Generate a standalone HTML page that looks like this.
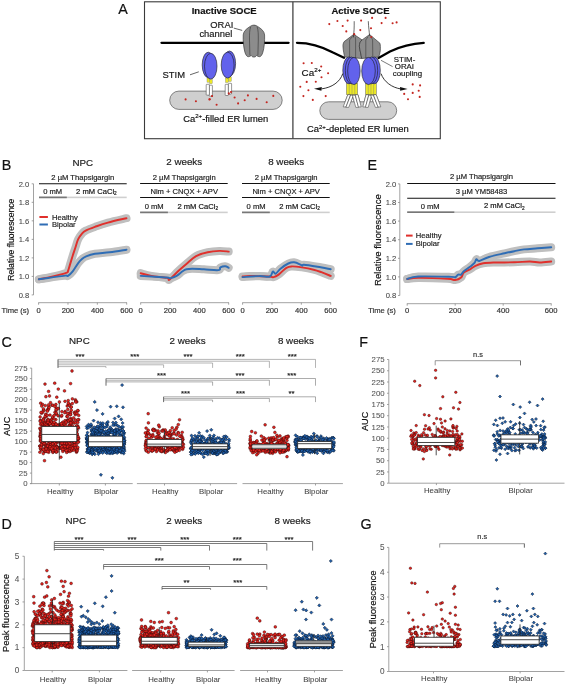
<!DOCTYPE html>
<html><head><meta charset="utf-8"><style>
html,body{margin:0;padding:0;background:#fff;}
svg{display:block;font-family:"Liberation Sans", sans-serif;will-change:transform;}
text{stroke:currentColor;stroke-width:0.18px;}
</style></head><body>
<svg width="566" height="685" viewBox="0 0 566 685">
<defs><path id="d140" d="M0,-1.6l1.6,1.6l-1.6,1.6l-1.6,-1.6z"/><path id="d125" d="M0,-1.5l1.5,1.5l-1.5,1.5l-1.5,-1.5z"/></defs>
<rect width="566" height="685" fill="#fff"/>
<text x="118.3" y="14.3" font-size="14.3" fill="#111" color="#111" text-anchor="start">A</text>
<rect x="144.5" y="1.8" width="295.8" height="136.9" fill="none" stroke="#3a3a3a" stroke-width="1.1"/>
<line x1="292.9" y1="1.8" x2="292.9" y2="138.7" stroke="#444" stroke-width="1.3"/>
<text x="224.2" y="14.2" font-size="9.5" fill="#111" color="#111" text-anchor="middle" font-weight="bold">Inactive SOCE</text>
<text x="221.8" y="27.6" font-size="9.4" fill="#1a1a1a" color="#1a1a1a" text-anchor="middle">ORAI</text>
<text x="215.8" y="36.6" font-size="9.4" fill="#1a1a1a" color="#1a1a1a" text-anchor="middle">channel</text>
<line x1="233.8" y1="28.1" x2="242.2" y2="30.4" stroke="#222" stroke-width="0.7"/>
<line x1="161.5" y1="42.8" x2="288.6" y2="42.8" stroke="#000" stroke-width="2.3" stroke-linecap="round"/>
<path d="M243.2,35 C243.4,31.5 246,29.2 249,27.2 C251,25.8 252.5,25.1 253.9,25.1 C255.3,25.1 256.8,25.8 258.8,27.2 C261.8,29.2 264.4,31.5 264.6,35 C264.8,41 264.3,47.5 262.9,52.2 C262,55.2 260.8,56.7 259.4,56.7 C258.2,56.7 257.4,56.1 256.6,55.5 C255.8,56.7 254.8,57.1 253.9,57.1 C253,57.1 252,56.7 251.2,55.5 C250.4,56.1 249.6,56.7 248.4,56.7 C247,56.7 245.8,55.2 244.9,52.2 C243.5,47.5 243,41 243.2,35 Z" fill="#8c8c8c" stroke="#2a2a2a" stroke-width="0.6"/>
<path d="M250.6,27 C249.6,30 249.4,34 249.5,40 L249.9,55.3 M257.2,27 C258.2,30 258.4,34 258.3,40 L257.9,55.3" fill="none" stroke="#2a2a2a" stroke-width="0.55"/>
<rect x="169.7" y="91.1" width="112.5" height="18.3" rx="9.15" fill="#cfcfcf" stroke="#555" stroke-width="0.7"/>
<circle cx="185.6" cy="99.4" r="1.05" fill="#c42620"/>
<circle cx="195.9" cy="101.2" r="1.05" fill="#c42620"/>
<circle cx="209.4" cy="99.4" r="1.05" fill="#c42620"/>
<circle cx="212" cy="96" r="1.05" fill="#c42620"/>
<circle cx="216.6" cy="104.7" r="1.05" fill="#c42620"/>
<circle cx="230.9" cy="92.8" r="1.05" fill="#c42620"/>
<circle cx="228.8" cy="93.4" r="1.05" fill="#c42620"/>
<circle cx="234.6" cy="97.5" r="1.05" fill="#c42620"/>
<circle cx="238.1" cy="103.4" r="1.05" fill="#c42620"/>
<circle cx="244.7" cy="100.2" r="1.05" fill="#c42620"/>
<circle cx="247.9" cy="95.4" r="1.05" fill="#c42620"/>
<circle cx="256.6" cy="98.9" r="1.05" fill="#c42620"/>
<circle cx="266.7" cy="102.3" r="1.05" fill="#c42620"/>
<circle cx="273.3" cy="95.9" r="1.05" fill="#c42620"/>
<circle cx="209.8" cy="99.3" r="1.05" fill="#c42620"/>
<rect x="209.2" y="85.2" width="3.2" height="11" rx="0.6" fill="#fff" stroke="#333" stroke-width="0.5"/>
<rect x="206.2" y="84.3" width="3.2" height="10.8" rx="0.6" fill="#fff" stroke="#333" stroke-width="0.5"/>
<rect x="209.5" y="79.5" width="2.8" height="4.2" fill="#ece826" stroke="#777" stroke-width="0.35"/>
<rect x="207" y="78" width="2.6" height="4.2" fill="#ece826" stroke="#777" stroke-width="0.35"/>
<ellipse cx="208.25" cy="64.9" rx="6.05" ry="12.7" fill="#6262ec" stroke="#1a1a1a" stroke-width="0.6"/>
<ellipse cx="210.75" cy="66.2" rx="6.25" ry="12.9" fill="#6262ec" stroke="#1a1a1a" stroke-width="0.6"/>
<rect x="225.2" y="84.3" width="3.2" height="11.2" rx="0.6" fill="#fff" stroke="#333" stroke-width="0.5"/>
<rect x="228.4" y="83.3" width="3.2" height="10.7" rx="0.6" fill="#fff" stroke="#333" stroke-width="0.5"/>
<rect x="228.4" y="76.9" width="2.9" height="4.5" fill="#ece826" stroke="#777" stroke-width="0.35"/>
<rect x="225.5" y="78" width="2.9" height="4.5" fill="#ece826" stroke="#777" stroke-width="0.35"/>
<ellipse cx="229.5" cy="63.55" rx="6.1" ry="12.55" fill="#6262ec" stroke="#1a1a1a" stroke-width="0.6"/>
<ellipse cx="227.65" cy="65.1" rx="6.45" ry="12.9" fill="#6262ec" stroke="#1a1a1a" stroke-width="0.6"/>
<circle cx="212" cy="96" r="1.05" fill="#c42620"/>
<circle cx="228.8" cy="93.4" r="1.05" fill="#c42620"/>
<circle cx="231" cy="92" r="1.05" fill="#c42620"/>
<text x="173.8" y="77.5" font-size="9.4" fill="#1a1a1a" color="#1a1a1a" text-anchor="middle">STIM</text>
<line x1="190" y1="74.8" x2="198.8" y2="71.8" stroke="#222" stroke-width="0.7"/>
<text x="225.8" y="121.6" font-size="9.4" fill="#1a1a1a" text-anchor="middle">Ca<tspan font-size="6" dy="-3.4">2+</tspan><tspan dy="3.4">-filled ER lumen</tspan></text>
<text x="360.5" y="14.2" font-size="9.5" fill="#111" color="#111" text-anchor="middle" font-weight="bold">Active SOCE</text>
<path d="M297,42.8 C312,42.8 322,46.5 333,52.5 L344,57.8 M378.5,58 L390,51.5 C402,45.8 412,43.6 423.7,42.9" fill="none" stroke="#000" stroke-width="2.3" stroke-linecap="round"/>
<circle cx="329.3" cy="24.1" r="1.05" fill="#c42620"/>
<circle cx="337.4" cy="21" r="1.05" fill="#c42620"/>
<circle cx="347.6" cy="20.6" r="1.05" fill="#c42620"/>
<circle cx="342.7" cy="26" r="1.05" fill="#c42620"/>
<circle cx="346.3" cy="31.4" r="1.05" fill="#c42620"/>
<circle cx="354.2" cy="34.3" r="1.05" fill="#c42620"/>
<circle cx="361.1" cy="20.6" r="1.05" fill="#c42620"/>
<circle cx="360.3" cy="30.1" r="1.05" fill="#c42620"/>
<circle cx="372.1" cy="17.9" r="1.05" fill="#c42620"/>
<circle cx="371" cy="28.3" r="1.05" fill="#c42620"/>
<circle cx="371.2" cy="37" r="1.05" fill="#c42620"/>
<circle cx="381.6" cy="23.1" r="1.05" fill="#c42620"/>
<circle cx="385.6" cy="17.9" r="1.05" fill="#c42620"/>
<circle cx="392.6" cy="23.3" r="1.05" fill="#c42620"/>
<circle cx="396.6" cy="22.4" r="1.05" fill="#c42620"/>
<circle cx="303.6" cy="63.2" r="1.05" fill="#c42620"/>
<circle cx="311.8" cy="63" r="1.05" fill="#c42620"/>
<circle cx="321.2" cy="66.5" r="1.05" fill="#c42620"/>
<circle cx="328.1" cy="73.3" r="1.05" fill="#c42620"/>
<circle cx="321.5" cy="77.3" r="1.05" fill="#c42620"/>
<circle cx="315.8" cy="81.7" r="1.05" fill="#c42620"/>
<circle cx="306.7" cy="81.9" r="1.05" fill="#c42620"/>
<circle cx="300.3" cy="86.8" r="1.05" fill="#c42620"/>
<circle cx="308.4" cy="90.3" r="1.05" fill="#c42620"/>
<circle cx="303.4" cy="96.1" r="1.05" fill="#c42620"/>
<circle cx="312.8" cy="99.9" r="1.05" fill="#c42620"/>
<circle cx="325.7" cy="96.1" r="1.05" fill="#c42620"/>
<circle cx="412.7" cy="84.4" r="1.05" fill="#c42620"/>
<circle cx="420.1" cy="85.4" r="1.05" fill="#c42620"/>
<circle cx="418.7" cy="90.7" r="1.05" fill="#c42620"/>
<circle cx="412.7" cy="92.9" r="1.05" fill="#c42620"/>
<circle cx="404.2" cy="93.9" r="1.05" fill="#c42620"/>
<circle cx="419.7" cy="96.9" r="1.05" fill="#c42620"/>
<circle cx="408" cy="99.2" r="1.05" fill="#c42620"/>
<path d="M353.8,34.3 L344.2,41.6 C343,43.5 342.8,45 343,47 C343.3,51 344,54 344.6,57 L361.7,58.5 C361,54 359.8,50 359.4,46.8 C359.2,44 360,41.5 362.1,39.9 Z" fill="#8c8c8c" stroke="#2a2a2a" stroke-width="0.6"/>
<path d="M352.5,36.5 L349.6,39.9 L349.6,58 M355.2,36.5 L355.6,39.9 L355.6,58" fill="none" stroke="#2a2a2a" stroke-width="0.5"/>
<path d="M369.6,34.5 L362.1,39.9 C360,41.5 359.2,44 359.4,46.8 C359.8,50 361,54 361.7,58.5 L378.7,57 C379.8,54 380.5,51 380.4,48.2 C380.4,45.5 380.2,44 379.9,43.2 Z" fill="#8c8c8c" stroke="#2a2a2a" stroke-width="0.6"/>
<path d="M368.2,36.7 L365.8,39.9 L365.8,58 M371,36.7 L372.6,39.9 L372.8,58" fill="none" stroke="#2a2a2a" stroke-width="0.5"/>
<path d="M354.2,21.2 C354.3,28 354,32 353.4,37.4 M368.3,21.2 C368.6,28 369.2,31 369.6,35.8" fill="none" stroke="#1a1a1a" stroke-width="0.65"/>
<circle cx="354.2" cy="34.3" r="1.05" fill="#c42620"/>
<circle cx="371.2" cy="37" r="1.05" fill="#c42620"/>
<path d="M347.8,94.7L350.6,94.7L346,106.9L343.2,106.9Z" fill="#fff" stroke="#333" stroke-width="0.5"/>
<path d="M350.6,95.2L353.4,95.2L348.7,107.4L345.9,107.4Z" fill="#fff" stroke="#333" stroke-width="0.5"/>
<path d="M352.4,95.2L355.2,95.2L358.6,107.4L355.8,107.4Z" fill="#fff" stroke="#333" stroke-width="0.5"/>
<path d="M355.2,94.7L358,94.7L361.2,106.9L358.4,106.9Z" fill="#fff" stroke="#333" stroke-width="0.5"/>
<path d="M366,94.7L368.8,94.7L365.6,106.9L362.8,106.9Z" fill="#fff" stroke="#333" stroke-width="0.5"/>
<path d="M368.8,95.2L371.6,95.2L368.2,107.4L365.4,107.4Z" fill="#fff" stroke="#333" stroke-width="0.5"/>
<path d="M370.6,95.2L373.4,95.2L378.2,107.4L375.4,107.4Z" fill="#fff" stroke="#333" stroke-width="0.5"/>
<path d="M373.4,94.7L376.2,94.7L380.8,106.9L378,106.9Z" fill="#fff" stroke="#333" stroke-width="0.5"/>
<rect x="346.5" y="83" width="11" height="11.7" fill="#ece826" stroke="#555" stroke-width="0.45"/>
<line x1="349.25" y1="83.3" x2="349.25" y2="94.5" stroke="#777" stroke-width="0.4"/>
<line x1="352" y1="83.3" x2="352" y2="94.5" stroke="#777" stroke-width="0.4"/>
<line x1="354.75" y1="83.3" x2="354.75" y2="94.5" stroke="#777" stroke-width="0.4"/>
<rect x="365.6" y="83" width="10.7" height="11.7" fill="#ece826" stroke="#555" stroke-width="0.45"/>
<line x1="368.28" y1="83.3" x2="368.28" y2="94.5" stroke="#777" stroke-width="0.4"/>
<line x1="370.95" y1="83.3" x2="370.95" y2="94.5" stroke="#777" stroke-width="0.4"/>
<line x1="373.62" y1="83.3" x2="373.62" y2="94.5" stroke="#777" stroke-width="0.4"/>
<ellipse cx="348.9" cy="70.4" rx="6.1" ry="13.4" fill="#6262ec" stroke="#1a1a1a" stroke-width="0.6"/>
<ellipse cx="351.4" cy="70.4" rx="6.1" ry="13.4" fill="#6262ec" stroke="#1a1a1a" stroke-width="0.6"/>
<ellipse cx="353.9" cy="71" rx="6.25" ry="13.6" fill="#6262ec" stroke="#1a1a1a" stroke-width="0.6"/>
<ellipse cx="374.2" cy="70.4" rx="6.1" ry="13.4" fill="#6262ec" stroke="#1a1a1a" stroke-width="0.6"/>
<ellipse cx="371.6" cy="70.4" rx="6.1" ry="13.4" fill="#6262ec" stroke="#1a1a1a" stroke-width="0.6"/>
<ellipse cx="368.5" cy="71" rx="6.8" ry="13.6" fill="#6262ec" stroke="#1a1a1a" stroke-width="0.6"/>
<path d="M342.8,73.6 C340,82 332,87.5 321.5,88.9" fill="none" stroke="#111" stroke-width="0.85"/>
<path d="M314,88.7 L321.8,86.9 L321.4,90.8 Z" fill="#111"/>
<path d="M381,73.6 C384,82 392,87.5 400.5,88.9" fill="none" stroke="#111" stroke-width="0.85"/>
<path d="M407.6,89 L400,86.9 L400.2,90.8 Z" fill="#111"/>
<rect x="319.8" y="101.8" width="76.9" height="17.6" rx="8.8" fill="#cfcfcf" stroke="#555" stroke-width="0.7"/>
<path d="M347.8,94.7L350.6,94.7L346,106.9L343.2,106.9Z" fill="#fff" stroke="#333" stroke-width="0.5"/>
<path d="M350.6,95.2L353.4,95.2L348.7,107.4L345.9,107.4Z" fill="#fff" stroke="#333" stroke-width="0.5"/>
<path d="M352.4,95.2L355.2,95.2L358.6,107.4L355.8,107.4Z" fill="#fff" stroke="#333" stroke-width="0.5"/>
<path d="M355.2,94.7L358,94.7L361.2,106.9L358.4,106.9Z" fill="#fff" stroke="#333" stroke-width="0.5"/>
<path d="M366,94.7L368.8,94.7L365.6,106.9L362.8,106.9Z" fill="#fff" stroke="#333" stroke-width="0.5"/>
<path d="M368.8,95.2L371.6,95.2L368.2,107.4L365.4,107.4Z" fill="#fff" stroke="#333" stroke-width="0.5"/>
<path d="M370.6,95.2L373.4,95.2L378.2,107.4L375.4,107.4Z" fill="#fff" stroke="#333" stroke-width="0.5"/>
<path d="M373.4,94.7L376.2,94.7L380.8,106.9L378,106.9Z" fill="#fff" stroke="#333" stroke-width="0.5"/>
<text x="357.9" y="132.3" font-size="9.4" fill="#1a1a1a" text-anchor="middle">Ca<tspan font-size="6" dy="-3.4">2+</tspan><tspan dy="3.4">-depleted ER lumen</tspan></text>
<text x="301.6" y="75.8" font-size="9.9" fill="#1a1a1a">Ca<tspan font-size="6.2" dy="-3.6">2+</tspan></text>
<text x="404.6" y="61.5" font-size="7.9" fill="#1a1a1a" color="#1a1a1a" text-anchor="middle">STIM-</text>
<text x="404.4" y="69.2" font-size="7.9" fill="#1a1a1a" color="#1a1a1a" text-anchor="middle">ORAI</text>
<text x="407.4" y="76" font-size="7.9" fill="#1a1a1a" color="#1a1a1a" text-anchor="middle">coupling</text>
<line x1="381" y1="60.3" x2="392.6" y2="66.6" stroke="#222" stroke-width="0.6"/>
<text x="1.8" y="169.8" font-size="14.3" fill="#111" color="#111" text-anchor="start">B</text>
<text transform="translate(13.6,239.7) rotate(-90)" font-size="8.6" fill="#222" text-anchor="middle">Relative fluorescence</text>
<text x="1.6" y="313.4" font-size="7.6" fill="#333" color="#333" text-anchor="start">Time (s)</text>
<line x1="33.5" y1="183.8" x2="33.5" y2="294.92" stroke="#8a8a8a" stroke-width="0.8"/>
<line x1="31.7" y1="183.8" x2="33.5" y2="183.8" stroke="#8a8a8a" stroke-width="0.8"/>
<text x="29.2" y="186.5" font-size="7.6" fill="#444" color="#444" text-anchor="end" style="stroke-width:0.06px">2.0</text>
<line x1="31.7" y1="202.32" x2="33.5" y2="202.32" stroke="#8a8a8a" stroke-width="0.8"/>
<text x="29.2" y="205.02" font-size="7.6" fill="#444" color="#444" text-anchor="end" style="stroke-width:0.06px">1.8</text>
<line x1="31.7" y1="220.84" x2="33.5" y2="220.84" stroke="#8a8a8a" stroke-width="0.8"/>
<text x="29.2" y="223.54" font-size="7.6" fill="#444" color="#444" text-anchor="end" style="stroke-width:0.06px">1.6</text>
<line x1="31.7" y1="239.36" x2="33.5" y2="239.36" stroke="#8a8a8a" stroke-width="0.8"/>
<text x="29.2" y="242.06" font-size="7.6" fill="#444" color="#444" text-anchor="end" style="stroke-width:0.06px">1.4</text>
<line x1="31.7" y1="257.88" x2="33.5" y2="257.88" stroke="#8a8a8a" stroke-width="0.8"/>
<text x="29.2" y="260.58" font-size="7.6" fill="#444" color="#444" text-anchor="end" style="stroke-width:0.06px">1.2</text>
<line x1="31.7" y1="276.4" x2="33.5" y2="276.4" stroke="#8a8a8a" stroke-width="0.8"/>
<text x="29.2" y="279.1" font-size="7.6" fill="#444" color="#444" text-anchor="end" style="stroke-width:0.06px">1.0</text>
<line x1="31.7" y1="294.92" x2="33.5" y2="294.92" stroke="#8a8a8a" stroke-width="0.8"/>
<text x="29.2" y="297.62" font-size="7.6" fill="#444" color="#444" text-anchor="end" style="stroke-width:0.06px">0.8</text>
<text x="82.8" y="166" font-size="9.8" fill="#222" color="#222" text-anchor="middle">NPC</text>
<text x="82.8" y="180.1" font-size="7.6" fill="#222" color="#222" text-anchor="middle">2 µM Thapsigargin</text>
<line x1="39" y1="183.8" x2="126.7" y2="183.8" stroke="#111" stroke-width="1.1"/>
<text x="52.7" y="193.7" font-size="7.6" fill="#222" color="#222" text-anchor="middle">0 mM</text>
<text x="96.4" y="193.7" font-size="7.6" fill="#222" text-anchor="middle">2 mM CaCl<tspan font-size="4.71" dy="1.6">2</tspan></text>
<rect x="39" y="196.6" width="87.7" height="1.6" fill="#cfcfcf"/>
<rect x="39" y="196.6" width="27.8" height="1.6" fill="#777"/>
<line x1="38.3" y1="302.7" x2="127" y2="302.7" stroke="#8a8a8a" stroke-width="0.8"/>
<line x1="38.6" y1="302.7" x2="38.6" y2="304.7" stroke="#8a8a8a" stroke-width="0.8"/>
<text x="38.6" y="313.4" font-size="7.6" fill="#333" color="#333" text-anchor="middle">0</text>
<line x1="67.97" y1="302.7" x2="67.97" y2="304.7" stroke="#8a8a8a" stroke-width="0.8"/>
<text x="67.97" y="313.4" font-size="7.6" fill="#333" color="#333" text-anchor="middle">200</text>
<line x1="97.33" y1="302.7" x2="97.33" y2="304.7" stroke="#8a8a8a" stroke-width="0.8"/>
<text x="97.33" y="313.4" font-size="7.6" fill="#333" color="#333" text-anchor="middle">400</text>
<line x1="126.7" y1="302.7" x2="126.7" y2="304.7" stroke="#8a8a8a" stroke-width="0.8"/>
<text x="126.7" y="313.4" font-size="7.6" fill="#333" color="#333" text-anchor="middle">600</text>
<path d="M38.9,279.3 C41.26,278.81 47.09,277.75 52,276.6 C56.91,275.45 63.32,273.91 66.2,272.9 C69.08,271.89 67.33,272.44 68,271 C68.67,269.56 69.05,267.65 69.9,264.9 C70.75,262.15 71.69,258.87 72.7,255.7 C73.71,252.53 74.51,250.27 75.5,247.3 C76.49,244.33 77.03,241.67 78.2,239.2 C79.37,236.73 80.65,235.15 82,233.6 C83.35,232.05 83.38,231.81 85.7,230.6 C88.02,229.39 90.9,228.34 94.9,226.9 C98.9,225.46 102.21,224.17 107.9,222.6 C113.59,221.03 123.15,218.99 126.5,218.2" fill="none" stroke="#bfbfbf" stroke-width="8" stroke-linecap="round" stroke-linejoin="round"/>
<path d="M38.9,279.3 C41.26,278.96 47.25,278.07 52,277.4 C56.75,276.73 62.42,275.87 65.3,275.6 C68.18,275.33 66.67,276.66 68,275.9 C69.33,275.14 70.86,273.7 72.7,271.4 C74.54,269.1 76.53,265.33 78.2,263.1 C79.87,260.87 80.65,260.17 82,259 C83.35,257.83 83.38,257.54 85.7,256.6 C88.02,255.66 90.56,254.57 94.9,253.8 C99.24,253.03 104.11,253.04 109.8,252.3 C115.49,251.56 123.49,250.17 126.5,249.7" fill="none" stroke="#bfbfbf" stroke-width="8" stroke-linecap="round" stroke-linejoin="round"/>
<path d="M38.9,279.3 C41.26,278.81 47.09,277.75 52,276.6 C56.91,275.45 63.32,273.91 66.2,272.9 C69.08,271.89 67.33,272.44 68,271 C68.67,269.56 69.05,267.65 69.9,264.9 C70.75,262.15 71.69,258.87 72.7,255.7 C73.71,252.53 74.51,250.27 75.5,247.3 C76.49,244.33 77.03,241.67 78.2,239.2 C79.37,236.73 80.65,235.15 82,233.6 C83.35,232.05 83.38,231.81 85.7,230.6 C88.02,229.39 90.9,228.34 94.9,226.9 C98.9,225.46 102.21,224.17 107.9,222.6 C113.59,221.03 123.15,218.99 126.5,218.2" fill="none" stroke="#e0302c" stroke-width="1.95" stroke-linecap="round" stroke-linejoin="round"/>
<path d="M38.9,279.3 C41.26,278.96 47.25,278.07 52,277.4 C56.75,276.73 62.42,275.87 65.3,275.6 C68.18,275.33 66.67,276.66 68,275.9 C69.33,275.14 70.86,273.7 72.7,271.4 C74.54,269.1 76.53,265.33 78.2,263.1 C79.87,260.87 80.65,260.17 82,259 C83.35,257.83 83.38,257.54 85.7,256.6 C88.02,255.66 90.56,254.57 94.9,253.8 C99.24,253.03 104.11,253.04 109.8,252.3 C115.49,251.56 123.49,250.17 126.5,249.7" fill="none" stroke="#2f6db5" stroke-width="1.95" stroke-linecap="round" stroke-linejoin="round"/>
<line x1="39.4" y1="217" x2="47.9" y2="217" stroke="#e0302c" stroke-width="2"/>
<text x="52" y="219.6" font-size="7.6" fill="#222" color="#222" text-anchor="start">Healthy</text>
<line x1="39.4" y1="224.5" x2="47.9" y2="224.5" stroke="#2f6db5" stroke-width="2"/>
<text x="52" y="227.1" font-size="7.6" fill="#222" color="#222" text-anchor="start">Bipolar</text>
<text x="184.2" y="165.4" font-size="9.8" fill="#222" color="#222" text-anchor="middle">2 weeks</text>
<text x="184.2" y="180.1" font-size="7.6" fill="#222" color="#222" text-anchor="middle">2 µM Thapsigargin</text>
<line x1="140.1" y1="183.5" x2="227.7" y2="183.5" stroke="#111" stroke-width="1.1"/>
<text x="184.2" y="193.7" font-size="7.6" fill="#222" color="#222" text-anchor="middle">Nim + CNQX + APV</text>
<line x1="140.1" y1="197.5" x2="227.7" y2="197.5" stroke="#111" stroke-width="1.1"/>
<text x="154.2" y="208.8" font-size="7.6" fill="#222" color="#222" text-anchor="middle">0 mM</text>
<text x="197.7" y="208.8" font-size="7.6" fill="#222" text-anchor="middle">2 mM CaCl<tspan font-size="4.71" dy="1.6">2</tspan></text>
<rect x="140.1" y="211.6" width="87.6" height="1.6" fill="#cfcfcf"/>
<rect x="140.1" y="211.6" width="27.8" height="1.6" fill="#777"/>
<line x1="140.4" y1="302.7" x2="229" y2="302.7" stroke="#8a8a8a" stroke-width="0.8"/>
<line x1="140.7" y1="302.7" x2="140.7" y2="304.7" stroke="#8a8a8a" stroke-width="0.8"/>
<text x="140.7" y="313.4" font-size="7.6" fill="#333" color="#333" text-anchor="middle">0</text>
<line x1="170.03" y1="302.7" x2="170.03" y2="304.7" stroke="#8a8a8a" stroke-width="0.8"/>
<text x="170.03" y="313.4" font-size="7.6" fill="#333" color="#333" text-anchor="middle">200</text>
<line x1="199.37" y1="302.7" x2="199.37" y2="304.7" stroke="#8a8a8a" stroke-width="0.8"/>
<text x="199.37" y="313.4" font-size="7.6" fill="#333" color="#333" text-anchor="middle">400</text>
<line x1="228.7" y1="302.7" x2="228.7" y2="304.7" stroke="#8a8a8a" stroke-width="0.8"/>
<text x="228.7" y="313.4" font-size="7.6" fill="#333" color="#333" text-anchor="middle">600</text>
<text x="286.15" y="165.4" font-size="9.8" fill="#222" color="#222" text-anchor="middle">8 weeks</text>
<text x="286.15" y="180.1" font-size="7.6" fill="#222" color="#222" text-anchor="middle">2 µM Thapsigargin</text>
<line x1="242" y1="183.5" x2="329.7" y2="183.5" stroke="#111" stroke-width="1.1"/>
<text x="286.15" y="193.7" font-size="7.6" fill="#222" color="#222" text-anchor="middle">Nim + CNQX + APV</text>
<line x1="242" y1="197.5" x2="329.7" y2="197.5" stroke="#111" stroke-width="1.1"/>
<text x="256.1" y="208.8" font-size="7.6" fill="#222" color="#222" text-anchor="middle">0 mM</text>
<text x="299.6" y="208.8" font-size="7.6" fill="#222" text-anchor="middle">2 mM CaCl<tspan font-size="4.71" dy="1.6">2</tspan></text>
<rect x="242" y="211.6" width="87.7" height="1.6" fill="#cfcfcf"/>
<rect x="242" y="211.6" width="27.8" height="1.6" fill="#777"/>
<line x1="242.3" y1="302.7" x2="331" y2="302.7" stroke="#8a8a8a" stroke-width="0.8"/>
<line x1="242.6" y1="302.7" x2="242.6" y2="304.7" stroke="#8a8a8a" stroke-width="0.8"/>
<text x="242.6" y="313.4" font-size="7.6" fill="#333" color="#333" text-anchor="middle">0</text>
<line x1="271.97" y1="302.7" x2="271.97" y2="304.7" stroke="#8a8a8a" stroke-width="0.8"/>
<text x="271.97" y="313.4" font-size="7.6" fill="#333" color="#333" text-anchor="middle">200</text>
<line x1="301.33" y1="302.7" x2="301.33" y2="304.7" stroke="#8a8a8a" stroke-width="0.8"/>
<text x="301.33" y="313.4" font-size="7.6" fill="#333" color="#333" text-anchor="middle">400</text>
<line x1="330.7" y1="302.7" x2="330.7" y2="304.7" stroke="#8a8a8a" stroke-width="0.8"/>
<text x="330.7" y="313.4" font-size="7.6" fill="#333" color="#333" text-anchor="middle">600</text>
<path d="M140.7,273.2 C142.63,273.69 146.68,275.05 151.4,275.9 C156.12,276.75 163.75,277.16 166.9,277.9 C170.05,278.64 168.02,280.07 168.9,280 C169.78,279.93 170.05,279.17 171.8,277.5 C173.55,275.83 175.97,273.15 178.6,270.7 C181.23,268.25 183.25,266.53 186.4,263.9 C189.55,261.27 192.27,258.21 196.1,256.1 C199.93,253.99 203.51,253.14 207.7,252.2 C211.89,251.26 215.62,251.01 219.4,250.9 C223.18,250.79 227.03,251.47 228.7,251.6" fill="none" stroke="#bfbfbf" stroke-width="8" stroke-linecap="round" stroke-linejoin="round"/>
<path d="M140.7,275.9 C142.63,276.01 146.68,276.21 151.4,276.5 C156.12,276.79 163.41,277.21 166.9,277.5 C170.39,277.79 169.05,278.39 170.8,278.1 C172.55,277.81 174.49,277.12 176.6,275.9 C178.71,274.68 180.74,272.49 182.5,271.3 C184.26,270.11 184.65,269.77 186.4,269.3 C188.15,268.83 189.05,268.7 192.2,268.7 C195.35,268.7 199.18,269.05 203.9,269.3 C208.62,269.55 215.43,270.44 218.4,270.1 C221.37,269.76 219.18,268.1 220.4,267.4 C221.62,266.7 223.71,266.13 225.2,266.2 C226.69,266.27 228.07,267.51 228.7,267.8" fill="none" stroke="#bfbfbf" stroke-width="8" stroke-linecap="round" stroke-linejoin="round"/>
<path d="M242.6,276.5 C243.82,276.39 244.67,275.9 249.4,275.9 C254.13,275.9 264.53,276.28 268.9,276.5 C273.27,276.72 271.95,277.44 273.7,277.1 C275.45,276.76 276.31,276.27 278.6,274.6 C280.89,272.93 283.95,269.28 286.4,267.8 C288.85,266.32 289.41,266.47 292.2,266.4 C294.99,266.33 298.05,266.81 301.9,267.4 C305.75,267.99 310.09,268.84 313.6,269.7 C317.11,270.56 318.32,271.08 321.4,272.2 C324.48,273.32 329.03,275.23 330.7,275.9" fill="none" stroke="#bfbfbf" stroke-width="8" stroke-linecap="round" stroke-linejoin="round"/>
<path d="M242.6,277.1 C245.59,276.92 254.3,276.21 259.2,276.1 C264.1,275.99 267.35,277.31 269.8,276.5 C272.25,275.69 271.74,272.12 272.8,271.6 C273.86,271.08 274.31,274.12 275.7,273.6 C277.09,273.08 278.23,270.52 280.5,268.7 C282.77,266.88 285.85,264.65 288.3,263.5 C290.75,262.35 291.83,262.07 294.1,262.3 C296.37,262.53 299.42,264.17 300.9,264.8 C302.38,265.43 301.76,265.8 302.3,265.8 C302.84,265.8 301.16,264.62 303.9,264.8 C306.64,264.98 312.68,265.99 317.5,266.8 C322.32,267.61 328.32,268.85 330.7,269.3" fill="none" stroke="#bfbfbf" stroke-width="8" stroke-linecap="round" stroke-linejoin="round"/>
<path d="M140.7,273.2 C142.63,273.69 146.68,275.05 151.4,275.9 C156.12,276.75 163.75,277.16 166.9,277.9 C170.05,278.64 168.02,280.07 168.9,280 C169.78,279.93 170.05,279.17 171.8,277.5 C173.55,275.83 175.97,273.15 178.6,270.7 C181.23,268.25 183.25,266.53 186.4,263.9 C189.55,261.27 192.27,258.21 196.1,256.1 C199.93,253.99 203.51,253.14 207.7,252.2 C211.89,251.26 215.62,251.01 219.4,250.9 C223.18,250.79 227.03,251.47 228.7,251.6" fill="none" stroke="#e0302c" stroke-width="1.95" stroke-linecap="round" stroke-linejoin="round"/>
<path d="M140.7,275.9 C142.63,276.01 146.68,276.21 151.4,276.5 C156.12,276.79 163.41,277.21 166.9,277.5 C170.39,277.79 169.05,278.39 170.8,278.1 C172.55,277.81 174.49,277.12 176.6,275.9 C178.71,274.68 180.74,272.49 182.5,271.3 C184.26,270.11 184.65,269.77 186.4,269.3 C188.15,268.83 189.05,268.7 192.2,268.7 C195.35,268.7 199.18,269.05 203.9,269.3 C208.62,269.55 215.43,270.44 218.4,270.1 C221.37,269.76 219.18,268.1 220.4,267.4 C221.62,266.7 223.71,266.13 225.2,266.2 C226.69,266.27 228.07,267.51 228.7,267.8" fill="none" stroke="#2f6db5" stroke-width="1.95" stroke-linecap="round" stroke-linejoin="round"/>
<path d="M242.6,276.5 C243.82,276.39 244.67,275.9 249.4,275.9 C254.13,275.9 264.53,276.28 268.9,276.5 C273.27,276.72 271.95,277.44 273.7,277.1 C275.45,276.76 276.31,276.27 278.6,274.6 C280.89,272.93 283.95,269.28 286.4,267.8 C288.85,266.32 289.41,266.47 292.2,266.4 C294.99,266.33 298.05,266.81 301.9,267.4 C305.75,267.99 310.09,268.84 313.6,269.7 C317.11,270.56 318.32,271.08 321.4,272.2 C324.48,273.32 329.03,275.23 330.7,275.9" fill="none" stroke="#e0302c" stroke-width="1.95" stroke-linecap="round" stroke-linejoin="round"/>
<path d="M242.6,277.1 C245.59,276.92 254.3,276.21 259.2,276.1 C264.1,275.99 267.35,277.31 269.8,276.5 C272.25,275.69 271.74,272.12 272.8,271.6 C273.86,271.08 274.31,274.12 275.7,273.6 C277.09,273.08 278.23,270.52 280.5,268.7 C282.77,266.88 285.85,264.65 288.3,263.5 C290.75,262.35 291.83,262.07 294.1,262.3 C296.37,262.53 299.42,264.17 300.9,264.8 C302.38,265.43 301.76,265.8 302.3,265.8 C302.84,265.8 301.16,264.62 303.9,264.8 C306.64,264.98 312.68,265.99 317.5,266.8 C322.32,267.61 328.32,268.85 330.7,269.3" fill="none" stroke="#2f6db5" stroke-width="1.95" stroke-linecap="round" stroke-linejoin="round"/>
<text x="367.6" y="169.5" font-size="14.3" fill="#111" color="#111" text-anchor="start">E</text>
<text transform="translate(381.4,240.1) rotate(-90)" font-size="9.6" fill="#222" text-anchor="middle">Relative fluorescence</text>
<text x="368.2" y="313.4" font-size="7.6" fill="#333" color="#333" text-anchor="start">Time (s)</text>
<line x1="399.8" y1="183.9" x2="399.8" y2="295.5" stroke="#8a8a8a" stroke-width="0.8"/>
<line x1="398" y1="183.9" x2="399.8" y2="183.9" stroke="#8a8a8a" stroke-width="0.8"/>
<text x="396.2" y="186.6" font-size="7.6" fill="#444" color="#444" text-anchor="end" style="stroke-width:0.06px">2.0</text>
<line x1="398" y1="202.5" x2="399.8" y2="202.5" stroke="#8a8a8a" stroke-width="0.8"/>
<text x="396.2" y="205.2" font-size="7.6" fill="#444" color="#444" text-anchor="end" style="stroke-width:0.06px">1.8</text>
<line x1="398" y1="221.1" x2="399.8" y2="221.1" stroke="#8a8a8a" stroke-width="0.8"/>
<text x="396.2" y="223.8" font-size="7.6" fill="#444" color="#444" text-anchor="end" style="stroke-width:0.06px">1.6</text>
<line x1="398" y1="239.7" x2="399.8" y2="239.7" stroke="#8a8a8a" stroke-width="0.8"/>
<text x="396.2" y="242.4" font-size="7.6" fill="#444" color="#444" text-anchor="end" style="stroke-width:0.06px">1.4</text>
<line x1="398" y1="258.3" x2="399.8" y2="258.3" stroke="#8a8a8a" stroke-width="0.8"/>
<text x="396.2" y="261" font-size="7.6" fill="#444" color="#444" text-anchor="end" style="stroke-width:0.06px">1.2</text>
<line x1="398" y1="276.9" x2="399.8" y2="276.9" stroke="#8a8a8a" stroke-width="0.8"/>
<text x="396.2" y="279.6" font-size="7.6" fill="#444" color="#444" text-anchor="end" style="stroke-width:0.06px">1.0</text>
<line x1="398" y1="295.5" x2="399.8" y2="295.5" stroke="#8a8a8a" stroke-width="0.8"/>
<text x="396.2" y="298.2" font-size="7.6" fill="#444" color="#444" text-anchor="end" style="stroke-width:0.06px">0.8</text>
<line x1="406.9" y1="303.7" x2="551.5" y2="303.7" stroke="#8a8a8a" stroke-width="0.8"/>
<line x1="407.2" y1="303.7" x2="407.2" y2="305.7" stroke="#8a8a8a" stroke-width="0.8"/>
<text x="407.2" y="313.4" font-size="7.6" fill="#333" color="#333" text-anchor="middle">0</text>
<line x1="455.2" y1="303.7" x2="455.2" y2="305.7" stroke="#8a8a8a" stroke-width="0.8"/>
<text x="455.2" y="313.4" font-size="7.6" fill="#333" color="#333" text-anchor="middle">200</text>
<line x1="503.2" y1="303.7" x2="503.2" y2="305.7" stroke="#8a8a8a" stroke-width="0.8"/>
<text x="503.2" y="313.4" font-size="7.6" fill="#333" color="#333" text-anchor="middle">400</text>
<line x1="551.2" y1="303.7" x2="551.2" y2="305.7" stroke="#8a8a8a" stroke-width="0.8"/>
<text x="551.2" y="313.4" font-size="7.6" fill="#333" color="#333" text-anchor="middle">600</text>
<text x="481.5" y="179.3" font-size="7.6" fill="#222" color="#222" text-anchor="middle">2 µM Thapsigargin</text>
<line x1="407.2" y1="183.5" x2="555.5" y2="183.5" stroke="#111" stroke-width="1.1"/>
<text x="481.5" y="193.5" font-size="7.6" fill="#222" color="#222" text-anchor="middle">3 µM YM58483</text>
<line x1="407.2" y1="198.3" x2="555.5" y2="198.3" stroke="#111" stroke-width="1.1"/>
<text x="430.2" y="209.3" font-size="7.6" fill="#222" color="#222" text-anchor="middle">0 mM</text>
<text x="504.3" y="208" font-size="7.6" fill="#222" text-anchor="middle">2 mM CaCl<tspan font-size="4.71" dy="1.6">2</tspan></text>
<rect x="407.2" y="211.4" width="148.3" height="1.6" fill="#cfcfcf"/>
<rect x="407.2" y="211.4" width="47.1" height="1.6" fill="#777"/>
<path d="M407.2,279 C409.2,278.8 411.05,277.94 418.3,277.9 C425.55,277.86 440.86,278.42 447.5,278.8 C454.14,279.18 452.75,280.23 455.2,280 C457.65,279.77 459.55,278.83 461.1,277.5 C462.65,276.17 462.2,274.06 463.8,272.6 C465.4,271.14 467.91,270.62 470,269.4 C472.09,268.18 473.02,266.9 475.4,265.8 C477.78,264.7 479.69,263.89 483.2,263.3 C486.71,262.71 489.3,262.68 494.9,262.5 C500.5,262.32 508,262.48 514.3,262.3 C520.6,262.12 525.35,261.46 529.9,261.5 C534.45,261.54 535.77,262.5 539.6,262.5 C543.43,262.5 549.11,261.68 551.2,261.5" fill="none" stroke="#bfbfbf" stroke-width="8" stroke-linecap="round" stroke-linejoin="round"/>
<path d="M407.2,279 C409.2,278.55 410.34,276.88 418.3,276.5 C426.26,276.12 444.76,276.72 451.4,276.9 C458.04,277.08 453.98,277.91 455.2,277.5 C456.42,277.09 457.14,275.12 458.2,274.6 C459.26,274.08 460.09,275.19 461.1,274.6 C462.11,274.01 462.2,272.7 463.8,271.3 C465.4,269.9 468.07,268.31 470,266.8 C471.93,265.29 473.35,264.27 474.5,262.9 C475.65,261.53 475.54,259.54 476.4,259.2 C477.26,258.86 477.03,261.4 479.3,261 C481.57,260.6 484.45,258.39 489,257 C493.55,255.61 500.05,254.34 504.6,253.3 C509.15,252.26 510.81,251.9 514.3,251.2 C517.79,250.5 519.81,249.92 524,249.4 C528.19,248.88 532.7,248.7 537.6,248.3 C542.5,247.9 548.75,247.4 551.2,247.2" fill="none" stroke="#bfbfbf" stroke-width="8" stroke-linecap="round" stroke-linejoin="round"/>
<path d="M407.2,279 C409.2,278.8 411.05,277.94 418.3,277.9 C425.55,277.86 440.86,278.42 447.5,278.8 C454.14,279.18 452.75,280.23 455.2,280 C457.65,279.77 459.55,278.83 461.1,277.5 C462.65,276.17 462.2,274.06 463.8,272.6 C465.4,271.14 467.91,270.62 470,269.4 C472.09,268.18 473.02,266.9 475.4,265.8 C477.78,264.7 479.69,263.89 483.2,263.3 C486.71,262.71 489.3,262.68 494.9,262.5 C500.5,262.32 508,262.48 514.3,262.3 C520.6,262.12 525.35,261.46 529.9,261.5 C534.45,261.54 535.77,262.5 539.6,262.5 C543.43,262.5 549.11,261.68 551.2,261.5" fill="none" stroke="#e0302c" stroke-width="1.95" stroke-linecap="round" stroke-linejoin="round"/>
<path d="M407.2,279 C409.2,278.55 410.34,276.88 418.3,276.5 C426.26,276.12 444.76,276.72 451.4,276.9 C458.04,277.08 453.98,277.91 455.2,277.5 C456.42,277.09 457.14,275.12 458.2,274.6 C459.26,274.08 460.09,275.19 461.1,274.6 C462.11,274.01 462.2,272.7 463.8,271.3 C465.4,269.9 468.07,268.31 470,266.8 C471.93,265.29 473.35,264.27 474.5,262.9 C475.65,261.53 475.54,259.54 476.4,259.2 C477.26,258.86 477.03,261.4 479.3,261 C481.57,260.6 484.45,258.39 489,257 C493.55,255.61 500.05,254.34 504.6,253.3 C509.15,252.26 510.81,251.9 514.3,251.2 C517.79,250.5 519.81,249.92 524,249.4 C528.19,248.88 532.7,248.7 537.6,248.3 C542.5,247.9 548.75,247.4 551.2,247.2" fill="none" stroke="#2f6db5" stroke-width="1.95" stroke-linecap="round" stroke-linejoin="round"/>
<line x1="406" y1="235.6" x2="412.6" y2="235.6" stroke="#e0302c" stroke-width="2"/>
<text x="415.8" y="238" font-size="7.6" fill="#222" color="#222" text-anchor="start">Healthy</text>
<line x1="406" y1="243.9" x2="412.6" y2="243.9" stroke="#2f6db5" stroke-width="2"/>
<text x="415.8" y="246.2" font-size="7.6" fill="#222" color="#222" text-anchor="start">Bipolar</text>
<text x="1.6" y="346.9" font-size="14.3" fill="#111" color="#111" text-anchor="start">C</text>
<text x="79.4" y="343.9" font-size="9.8" fill="#222" color="#222" text-anchor="middle">NPC</text>
<text x="187.6" y="343.9" font-size="9.8" fill="#222" color="#222" text-anchor="middle">2 weeks</text>
<text x="295.9" y="343.9" font-size="9.8" fill="#222" color="#222" text-anchor="middle">8 weeks</text>
<text transform="translate(10.2,426.3) rotate(-90)" font-size="9.2" fill="#222" text-anchor="middle">AUC</text>
<line x1="31.7" y1="368.1" x2="31.7" y2="483.6" stroke="#8a8a8a" stroke-width="0.8"/>
<line x1="29.9" y1="483.6" x2="31.7" y2="483.6" stroke="#8a8a8a" stroke-width="0.8"/>
<text x="27.5" y="486.29" font-size="7.8" fill="#555" color="#555" text-anchor="end" style="stroke-width:0.06px">0</text>
<line x1="29.9" y1="473.1" x2="31.7" y2="473.1" stroke="#8a8a8a" stroke-width="0.8"/>
<text x="27.5" y="475.79" font-size="7.8" fill="#555" color="#555" text-anchor="end" style="stroke-width:0.06px">25</text>
<line x1="29.9" y1="462.6" x2="31.7" y2="462.6" stroke="#8a8a8a" stroke-width="0.8"/>
<text x="27.5" y="465.29" font-size="7.8" fill="#555" color="#555" text-anchor="end" style="stroke-width:0.06px">50</text>
<line x1="29.9" y1="452.1" x2="31.7" y2="452.1" stroke="#8a8a8a" stroke-width="0.8"/>
<text x="27.5" y="454.79" font-size="7.8" fill="#555" color="#555" text-anchor="end" style="stroke-width:0.06px">75</text>
<line x1="29.9" y1="441.6" x2="31.7" y2="441.6" stroke="#8a8a8a" stroke-width="0.8"/>
<text x="27.5" y="444.29" font-size="7.8" fill="#555" color="#555" text-anchor="end" style="stroke-width:0.06px">100</text>
<line x1="29.9" y1="431.1" x2="31.7" y2="431.1" stroke="#8a8a8a" stroke-width="0.8"/>
<text x="27.5" y="433.79" font-size="7.8" fill="#555" color="#555" text-anchor="end" style="stroke-width:0.06px">125</text>
<line x1="29.9" y1="420.6" x2="31.7" y2="420.6" stroke="#8a8a8a" stroke-width="0.8"/>
<text x="27.5" y="423.29" font-size="7.8" fill="#555" color="#555" text-anchor="end" style="stroke-width:0.06px">150</text>
<line x1="29.9" y1="410.1" x2="31.7" y2="410.1" stroke="#8a8a8a" stroke-width="0.8"/>
<text x="27.5" y="412.79" font-size="7.8" fill="#555" color="#555" text-anchor="end" style="stroke-width:0.06px">175</text>
<line x1="29.9" y1="399.6" x2="31.7" y2="399.6" stroke="#8a8a8a" stroke-width="0.8"/>
<text x="27.5" y="402.29" font-size="7.8" fill="#555" color="#555" text-anchor="end" style="stroke-width:0.06px">200</text>
<line x1="29.9" y1="389.1" x2="31.7" y2="389.1" stroke="#8a8a8a" stroke-width="0.8"/>
<text x="27.5" y="391.79" font-size="7.8" fill="#555" color="#555" text-anchor="end" style="stroke-width:0.06px">225</text>
<line x1="29.9" y1="378.6" x2="31.7" y2="378.6" stroke="#8a8a8a" stroke-width="0.8"/>
<text x="27.5" y="381.29" font-size="7.8" fill="#555" color="#555" text-anchor="end" style="stroke-width:0.06px">250</text>
<line x1="29.9" y1="368.1" x2="31.7" y2="368.1" stroke="#8a8a8a" stroke-width="0.8"/>
<text x="27.5" y="370.79" font-size="7.8" fill="#555" color="#555" text-anchor="end" style="stroke-width:0.06px">275</text>
<line x1="30.2" y1="483.6" x2="132.7" y2="483.6" stroke="#8a8a8a" stroke-width="0.8"/>
<line x1="59.3" y1="483.6" x2="59.3" y2="485.5" stroke="#8a8a8a" stroke-width="0.8"/>
<text x="60.1" y="494.3" font-size="7.8" fill="#444" color="#444" text-anchor="middle" style="stroke-width:0.06px">Healthy</text>
<line x1="105.4" y1="483.6" x2="105.4" y2="485.5" stroke="#8a8a8a" stroke-width="0.8"/>
<text x="106.2" y="494.3" font-size="7.8" fill="#444" color="#444" text-anchor="middle" style="stroke-width:0.06px">Bipolar</text>
<line x1="136.9" y1="483.6" x2="237.1" y2="483.6" stroke="#8a8a8a" stroke-width="0.8"/>
<line x1="164.5" y1="483.6" x2="164.5" y2="485.5" stroke="#8a8a8a" stroke-width="0.8"/>
<text x="165.3" y="494.3" font-size="7.8" fill="#444" color="#444" text-anchor="middle" style="stroke-width:0.06px">Healthy</text>
<line x1="210.4" y1="483.6" x2="210.4" y2="485.5" stroke="#8a8a8a" stroke-width="0.8"/>
<text x="211.2" y="494.3" font-size="7.8" fill="#444" color="#444" text-anchor="middle" style="stroke-width:0.06px">Bipolar</text>
<line x1="242.5" y1="483.6" x2="342.9" y2="483.6" stroke="#8a8a8a" stroke-width="0.8"/>
<line x1="269.7" y1="483.6" x2="269.7" y2="485.5" stroke="#8a8a8a" stroke-width="0.8"/>
<text x="270.5" y="494.3" font-size="7.8" fill="#444" color="#444" text-anchor="middle" style="stroke-width:0.06px">Healthy</text>
<line x1="315.5" y1="483.6" x2="315.5" y2="485.5" stroke="#8a8a8a" stroke-width="0.8"/>
<text x="316.3" y="494.3" font-size="7.8" fill="#444" color="#444" text-anchor="middle" style="stroke-width:0.06px">Bipolar</text>
<g stroke="#777" stroke-width="0.55" fill="none">
<path d="M58,359.4V367.9" stroke="#333" stroke-width="0.8"/>
<path d="M58,359.4H315.5V367.9"/>
<path d="M58,361.2H269.4V367.9"/>
<path d="M58,363H212.6V367.9"/>
<path d="M58,364.8H163.6V367.9"/>
<path d="M58,366.6H106V367.9"/>
</g>
<g stroke="#666" stroke-width="0.55" fill="none">
<path d="M106,378.5V385.7" stroke="#444" stroke-width="0.8"/>
<path d="M106,378.5H315.5V385.7"/>
<path d="M106,380.2H269.4V385.7"/>
<path d="M106,381.9H212.6V385.7"/>
</g>
<g stroke="#666" stroke-width="0.55" fill="none">
<path d="M163.6,396.8V402.1" stroke="#444" stroke-width="0.8"/>
<path d="M163.6,396.8H315.5V402.1"/>
<path d="M163.6,398.4H269.4V402.1"/>
<path d="M163.6,400H212.6V402.1"/>
</g>
<text x="80" y="358.8" font-size="7.8" fill="#222" color="#222" text-anchor="middle">***</text>
<text x="134.8" y="358.8" font-size="7.8" fill="#222" color="#222" text-anchor="middle">***</text>
<text x="188" y="358.8" font-size="7.8" fill="#222" color="#222" text-anchor="middle">***</text>
<text x="240.3" y="358.8" font-size="7.8" fill="#222" color="#222" text-anchor="middle">***</text>
<text x="292.3" y="358.8" font-size="7.8" fill="#222" color="#222" text-anchor="middle">***</text>
<text x="161.5" y="378.3" font-size="7.8" fill="#222" color="#222" text-anchor="middle">***</text>
<text x="240" y="378.3" font-size="7.8" fill="#222" color="#222" text-anchor="middle">***</text>
<text x="291.8" y="378.3" font-size="7.8" fill="#222" color="#222" text-anchor="middle">***</text>
<text x="185.5" y="396.2" font-size="7.8" fill="#222" color="#222" text-anchor="middle">***</text>
<text x="240.5" y="396.2" font-size="7.8" fill="#222" color="#222" text-anchor="middle">***</text>
<text x="291.6" y="396.2" font-size="7.8" fill="#222" color="#222" text-anchor="middle">**</text>
<g fill="#e6241f" stroke="#2a0404" stroke-width="0.42">
<circle cx="47.3" cy="440.1" r="1.4"/>
<circle cx="72.4" cy="398.9" r="1.4"/>
<circle cx="62.8" cy="451.4" r="1.4"/>
<circle cx="52.2" cy="450.6" r="1.4"/>
<circle cx="67.2" cy="441.4" r="1.4"/>
<circle cx="51" cy="445.1" r="1.4"/>
<circle cx="56.4" cy="437.7" r="1.4"/>
<circle cx="46.2" cy="450" r="1.4"/>
<circle cx="44.4" cy="436" r="1.4"/>
<circle cx="78.7" cy="419.7" r="1.4"/>
<circle cx="58.5" cy="426.9" r="1.4"/>
<circle cx="42.5" cy="436.1" r="1.4"/>
<circle cx="52.3" cy="418.5" r="1.4"/>
<circle cx="44.6" cy="443.4" r="1.4"/>
<circle cx="44.3" cy="451.5" r="1.4"/>
<circle cx="43" cy="444.1" r="1.4"/>
<circle cx="43.7" cy="444.5" r="1.4"/>
<circle cx="58.1" cy="439.4" r="1.4"/>
<circle cx="45.1" cy="435.4" r="1.4"/>
<circle cx="75" cy="438.8" r="1.4"/>
<circle cx="73.2" cy="440.6" r="1.4"/>
<circle cx="52.3" cy="441.1" r="1.4"/>
<circle cx="47" cy="447.8" r="1.4"/>
<circle cx="66.9" cy="449.6" r="1.4"/>
<circle cx="56.2" cy="407.8" r="1.4"/>
<circle cx="51.9" cy="436.1" r="1.4"/>
<circle cx="52.5" cy="428.3" r="1.4"/>
<circle cx="75.4" cy="399.8" r="1.4"/>
<circle cx="44.5" cy="435.9" r="1.4"/>
<circle cx="71.7" cy="420.1" r="1.4"/>
<circle cx="75.3" cy="414.7" r="1.4"/>
<circle cx="72.8" cy="422" r="1.4"/>
<circle cx="74.3" cy="412.7" r="1.4"/>
<circle cx="53.6" cy="441.9" r="1.4"/>
<circle cx="59.5" cy="436.5" r="1.4"/>
<circle cx="77.5" cy="439" r="1.4"/>
<circle cx="61.1" cy="436.9" r="1.4"/>
<circle cx="56.7" cy="439.4" r="1.4"/>
<circle cx="43" cy="435" r="1.4"/>
<circle cx="43.6" cy="410.1" r="1.4"/>
<circle cx="55.1" cy="438.8" r="1.4"/>
<circle cx="54" cy="439.9" r="1.4"/>
<circle cx="64.2" cy="449.3" r="1.4"/>
<circle cx="67.2" cy="406" r="1.4"/>
<circle cx="75.4" cy="428.7" r="1.4"/>
<circle cx="45" cy="447.8" r="1.4"/>
<circle cx="70.5" cy="412.5" r="1.4"/>
<circle cx="70.6" cy="414.6" r="1.4"/>
<circle cx="40.7" cy="403.2" r="1.4"/>
<circle cx="76.3" cy="441.1" r="1.4"/>
<circle cx="72.8" cy="427.3" r="1.4"/>
<circle cx="74.2" cy="423.1" r="1.4"/>
<circle cx="53" cy="434.4" r="1.4"/>
<circle cx="64.8" cy="450" r="1.4"/>
<circle cx="59.8" cy="447.2" r="1.4"/>
<circle cx="72.9" cy="445.3" r="1.4"/>
<circle cx="45.4" cy="437" r="1.4"/>
<circle cx="59.5" cy="447.9" r="1.4"/>
<circle cx="43.9" cy="434.9" r="1.4"/>
<circle cx="55.9" cy="432.5" r="1.4"/>
<circle cx="72.8" cy="435.5" r="1.4"/>
<circle cx="45.8" cy="445.1" r="1.4"/>
<circle cx="72.4" cy="429.3" r="1.4"/>
<circle cx="45.9" cy="396.7" r="1.4"/>
<circle cx="50.8" cy="444.3" r="1.4"/>
<circle cx="48.9" cy="422.7" r="1.4"/>
<circle cx="48.1" cy="439" r="1.4"/>
<circle cx="55.5" cy="440.9" r="1.4"/>
<circle cx="45.9" cy="437.8" r="1.4"/>
<circle cx="61.5" cy="428.6" r="1.4"/>
<circle cx="46" cy="434.9" r="1.4"/>
<circle cx="50" cy="429.9" r="1.4"/>
<circle cx="64" cy="443.8" r="1.4"/>
<circle cx="56.2" cy="432.3" r="1.4"/>
<circle cx="76.5" cy="452.2" r="1.4"/>
<circle cx="41.6" cy="450" r="1.4"/>
<circle cx="68.2" cy="429.8" r="1.4"/>
<circle cx="40.8" cy="430.1" r="1.4"/>
<circle cx="40.2" cy="435.8" r="1.4"/>
<circle cx="48.8" cy="426.2" r="1.4"/>
<circle cx="53.9" cy="434.8" r="1.4"/>
<circle cx="51.6" cy="440.2" r="1.4"/>
<circle cx="78.7" cy="415.4" r="1.4"/>
<circle cx="61" cy="435.7" r="1.4"/>
<circle cx="41" cy="435.9" r="1.4"/>
<circle cx="68.9" cy="447.1" r="1.4"/>
<circle cx="59.3" cy="447.9" r="1.4"/>
<circle cx="65.6" cy="430.2" r="1.4"/>
<circle cx="45" cy="441.4" r="1.4"/>
<circle cx="60.8" cy="440.4" r="1.4"/>
<circle cx="60.4" cy="448.1" r="1.4"/>
<circle cx="53.2" cy="451.4" r="1.4"/>
<circle cx="41.4" cy="424.6" r="1.4"/>
<circle cx="50.5" cy="428" r="1.4"/>
<circle cx="72" cy="427.8" r="1.4"/>
<circle cx="49.4" cy="450.1" r="1.4"/>
<circle cx="68.3" cy="434.8" r="1.4"/>
<circle cx="50.7" cy="436.5" r="1.4"/>
<circle cx="50.9" cy="440" r="1.4"/>
<circle cx="62.8" cy="424.2" r="1.4"/>
<circle cx="48.6" cy="391.4" r="1.4"/>
<circle cx="67.8" cy="440.3" r="1.4"/>
<circle cx="48.4" cy="449.4" r="1.4"/>
<circle cx="76.5" cy="450.7" r="1.4"/>
<circle cx="46.6" cy="432.5" r="1.4"/>
<circle cx="71.8" cy="439.8" r="1.4"/>
<circle cx="55" cy="412.3" r="1.4"/>
<circle cx="49.6" cy="424" r="1.4"/>
<circle cx="62.7" cy="429.3" r="1.4"/>
<circle cx="45.1" cy="443.6" r="1.4"/>
<circle cx="71.6" cy="438.6" r="1.4"/>
<circle cx="76.3" cy="431.3" r="1.4"/>
<circle cx="74.5" cy="433.6" r="1.4"/>
<circle cx="47" cy="446.3" r="1.4"/>
<circle cx="50.4" cy="440.8" r="1.4"/>
<circle cx="48" cy="409.2" r="1.4"/>
<circle cx="59.3" cy="429" r="1.4"/>
<circle cx="44.9" cy="432.6" r="1.4"/>
<circle cx="52.3" cy="433.4" r="1.4"/>
<circle cx="49.5" cy="396" r="1.4"/>
<circle cx="53.4" cy="429.6" r="1.4"/>
<circle cx="78.6" cy="441.9" r="1.4"/>
<circle cx="76.2" cy="427.7" r="1.4"/>
<circle cx="68.7" cy="446.4" r="1.4"/>
<circle cx="75.8" cy="422.6" r="1.4"/>
<circle cx="60.2" cy="437" r="1.4"/>
<circle cx="76.9" cy="438.9" r="1.4"/>
<circle cx="65.2" cy="411.5" r="1.4"/>
<circle cx="60.5" cy="428.4" r="1.4"/>
<circle cx="66" cy="436.1" r="1.4"/>
<circle cx="44.1" cy="449.5" r="1.4"/>
<circle cx="40.3" cy="440.9" r="1.4"/>
<circle cx="44.8" cy="435.2" r="1.4"/>
<circle cx="65.7" cy="428.4" r="1.4"/>
<circle cx="77.2" cy="435.6" r="1.4"/>
<circle cx="70.4" cy="441" r="1.4"/>
<circle cx="43.9" cy="434.7" r="1.4"/>
<circle cx="71.6" cy="450" r="1.4"/>
<circle cx="55" cy="448" r="1.4"/>
<circle cx="71.3" cy="450.8" r="1.4"/>
<circle cx="74.8" cy="433" r="1.4"/>
<circle cx="56.2" cy="410.5" r="1.4"/>
<circle cx="76.7" cy="451.3" r="1.4"/>
<circle cx="53.9" cy="448.4" r="1.4"/>
<circle cx="75.6" cy="427.3" r="1.4"/>
<circle cx="73.3" cy="428.9" r="1.4"/>
<circle cx="48" cy="440.1" r="1.4"/>
<circle cx="52.7" cy="417" r="1.4"/>
<circle cx="66.5" cy="447.8" r="1.4"/>
<circle cx="53.8" cy="426.2" r="1.4"/>
<circle cx="46.6" cy="433.2" r="1.4"/>
<circle cx="48.7" cy="452.3" r="1.4"/>
<circle cx="55.9" cy="419.6" r="1.4"/>
<circle cx="62.7" cy="435.2" r="1.4"/>
<circle cx="45.6" cy="434.3" r="1.4"/>
<circle cx="55.1" cy="445.8" r="1.4"/>
<circle cx="61.6" cy="429.2" r="1.4"/>
<circle cx="54.8" cy="439.7" r="1.4"/>
<circle cx="73.1" cy="441.1" r="1.4"/>
<circle cx="68.2" cy="400.6" r="1.4"/>
<circle cx="56.3" cy="414.2" r="1.4"/>
<circle cx="64.2" cy="428.8" r="1.4"/>
<circle cx="67.5" cy="451.8" r="1.4"/>
<circle cx="57.7" cy="431.3" r="1.4"/>
<circle cx="42.6" cy="428.9" r="1.4"/>
<circle cx="42.8" cy="431" r="1.4"/>
<circle cx="69.2" cy="428.5" r="1.4"/>
<circle cx="48.6" cy="438.5" r="1.4"/>
<circle cx="40.6" cy="424.3" r="1.4"/>
<circle cx="48" cy="441.2" r="1.4"/>
<circle cx="62.2" cy="433.9" r="1.4"/>
<circle cx="41.7" cy="423.4" r="1.4"/>
<circle cx="68.2" cy="413.3" r="1.4"/>
<circle cx="48.8" cy="406.9" r="1.4"/>
<circle cx="40.6" cy="433.8" r="1.4"/>
<circle cx="40.6" cy="439.7" r="1.4"/>
<circle cx="52.4" cy="431.3" r="1.4"/>
<circle cx="59.3" cy="424.4" r="1.4"/>
<circle cx="61.4" cy="416.3" r="1.4"/>
<circle cx="53" cy="451.7" r="1.4"/>
<circle cx="69.3" cy="448.4" r="1.4"/>
<circle cx="73.7" cy="443.6" r="1.4"/>
<circle cx="56.8" cy="438" r="1.4"/>
<circle cx="61.8" cy="440.6" r="1.4"/>
<circle cx="77.9" cy="426.7" r="1.4"/>
<circle cx="47.7" cy="437.3" r="1.4"/>
<circle cx="53.8" cy="440.3" r="1.4"/>
<circle cx="43.1" cy="424.2" r="1.4"/>
<circle cx="65.1" cy="420.7" r="1.4"/>
<circle cx="50.3" cy="442.1" r="1.4"/>
<circle cx="45.9" cy="426.4" r="1.4"/>
<circle cx="59.4" cy="437.7" r="1.4"/>
<circle cx="75.4" cy="420" r="1.4"/>
<circle cx="74.9" cy="432.3" r="1.4"/>
<circle cx="68.4" cy="433.5" r="1.4"/>
<circle cx="61.9" cy="440.1" r="1.4"/>
<circle cx="39.8" cy="446.1" r="1.4"/>
<circle cx="45.8" cy="414.5" r="1.4"/>
<circle cx="65.2" cy="431.7" r="1.4"/>
<circle cx="48.3" cy="444" r="1.4"/>
<circle cx="62.8" cy="444.2" r="1.4"/>
<circle cx="72" cy="371" r="1.4"/>
<circle cx="76.8" cy="401.9" r="1.4"/>
<circle cx="62.7" cy="445.2" r="1.4"/>
<circle cx="68.2" cy="444.8" r="1.4"/>
<circle cx="45" cy="384.1" r="1.4"/>
<circle cx="71.5" cy="424" r="1.4"/>
<circle cx="54.1" cy="419" r="1.4"/>
<circle cx="66" cy="428.3" r="1.4"/>
<circle cx="47.4" cy="430.4" r="1.4"/>
<circle cx="74.3" cy="436.9" r="1.4"/>
<circle cx="48.5" cy="409.3" r="1.4"/>
<circle cx="47.5" cy="449.5" r="1.4"/>
<circle cx="57.8" cy="449.1" r="1.4"/>
<circle cx="70.7" cy="418.5" r="1.4"/>
<circle cx="47.9" cy="423.4" r="1.4"/>
<circle cx="67.8" cy="420.5" r="1.4"/>
<circle cx="61.1" cy="435.9" r="1.4"/>
<circle cx="76.2" cy="432.6" r="1.4"/>
<circle cx="77.6" cy="449.1" r="1.4"/>
<circle cx="68.5" cy="431" r="1.4"/>
<circle cx="62.2" cy="427.1" r="1.4"/>
<circle cx="55.9" cy="404.5" r="1.4"/>
<circle cx="58.6" cy="425.8" r="1.4"/>
<circle cx="40.3" cy="436.6" r="1.4"/>
<circle cx="54.4" cy="441.2" r="1.4"/>
<circle cx="43.8" cy="426.7" r="1.4"/>
<circle cx="61.8" cy="426.9" r="1.4"/>
<circle cx="43.3" cy="453.6" r="1.4"/>
<circle cx="53" cy="428.3" r="1.4"/>
<circle cx="76.5" cy="426.2" r="1.4"/>
<circle cx="72.2" cy="427" r="1.4"/>
<circle cx="54.4" cy="423.3" r="1.4"/>
<circle cx="66.9" cy="434.2" r="1.4"/>
<circle cx="43.4" cy="433.4" r="1.4"/>
<circle cx="63.4" cy="427.5" r="1.4"/>
<circle cx="45.3" cy="405.6" r="1.4"/>
<circle cx="70.9" cy="431" r="1.4"/>
<circle cx="61.7" cy="433.9" r="1.4"/>
<circle cx="50.8" cy="444.9" r="1.4"/>
<circle cx="75.7" cy="438.9" r="1.4"/>
<circle cx="68.7" cy="426.6" r="1.4"/>
<circle cx="45.6" cy="422" r="1.4"/>
<circle cx="66.6" cy="436.5" r="1.4"/>
<circle cx="71.4" cy="446.2" r="1.4"/>
<circle cx="78" cy="410.8" r="1.4"/>
<circle cx="43.2" cy="427" r="1.4"/>
<circle cx="57.4" cy="431.9" r="1.4"/>
<circle cx="41.6" cy="435.3" r="1.4"/>
<circle cx="56.7" cy="442.8" r="1.4"/>
<circle cx="61.7" cy="443" r="1.4"/>
<circle cx="40.2" cy="436.8" r="1.4"/>
<circle cx="41.4" cy="446.4" r="1.4"/>
<circle cx="68.5" cy="421.4" r="1.4"/>
<circle cx="65.2" cy="432.5" r="1.4"/>
<circle cx="77.3" cy="436.9" r="1.4"/>
<circle cx="69.9" cy="424.3" r="1.4"/>
<circle cx="65.5" cy="449.2" r="1.4"/>
<circle cx="57" cy="446.7" r="1.4"/>
<circle cx="48.6" cy="431" r="1.4"/>
<circle cx="45.7" cy="424.9" r="1.4"/>
<circle cx="75" cy="443.9" r="1.4"/>
<circle cx="64.5" cy="446.2" r="1.4"/>
<circle cx="47.7" cy="445.7" r="1.4"/>
<circle cx="75.7" cy="447.7" r="1.4"/>
<circle cx="67.3" cy="437.6" r="1.4"/>
<circle cx="55.9" cy="451.9" r="1.4"/>
<circle cx="57.1" cy="431.7" r="1.4"/>
<circle cx="46.4" cy="430" r="1.4"/>
<circle cx="75.7" cy="436.5" r="1.4"/>
<circle cx="46.9" cy="437.4" r="1.4"/>
<circle cx="53.3" cy="424.6" r="1.4"/>
<circle cx="50.5" cy="402.7" r="1.4"/>
<circle cx="77.9" cy="419.8" r="1.4"/>
<circle cx="64" cy="442.4" r="1.4"/>
<circle cx="51.9" cy="405.3" r="1.4"/>
<circle cx="48.6" cy="404.9" r="1.4"/>
<circle cx="50" cy="441.5" r="1.4"/>
<circle cx="73.4" cy="441.8" r="1.4"/>
<circle cx="63.2" cy="429.5" r="1.4"/>
<circle cx="51.4" cy="422.1" r="1.4"/>
<circle cx="41.6" cy="413.3" r="1.4"/>
<circle cx="65" cy="401.3" r="1.4"/>
<circle cx="71.1" cy="431.5" r="1.4"/>
<circle cx="54.3" cy="446.2" r="1.4"/>
<circle cx="43.9" cy="443.5" r="1.4"/>
<circle cx="53.7" cy="428.5" r="1.4"/>
<circle cx="39.9" cy="452.2" r="1.4"/>
<circle cx="51.2" cy="439.9" r="1.4"/>
<circle cx="55.6" cy="428.6" r="1.4"/>
<circle cx="69.1" cy="425.7" r="1.4"/>
<circle cx="40.5" cy="429.4" r="1.4"/>
<circle cx="57.6" cy="439.4" r="1.4"/>
<circle cx="70.7" cy="420.8" r="1.4"/>
<circle cx="42.9" cy="427.7" r="1.4"/>
<circle cx="41.6" cy="443.1" r="1.4"/>
<circle cx="43.4" cy="441.6" r="1.4"/>
<circle cx="57" cy="425.4" r="1.4"/>
<circle cx="69.8" cy="451.5" r="1.4"/>
<circle cx="55.1" cy="443.2" r="1.4"/>
<circle cx="64.8" cy="412.7" r="1.4"/>
<circle cx="65.4" cy="432.9" r="1.4"/>
<circle cx="65.7" cy="446.7" r="1.4"/>
<circle cx="58.1" cy="415.8" r="1.4"/>
<circle cx="65" cy="441.7" r="1.4"/>
<circle cx="72.6" cy="426.3" r="1.4"/>
<circle cx="48.7" cy="445.7" r="1.4"/>
<circle cx="68.8" cy="404.5" r="1.4"/>
<circle cx="55.9" cy="441.6" r="1.4"/>
<circle cx="57.4" cy="441.1" r="1.4"/>
<circle cx="45.5" cy="450.7" r="1.4"/>
<circle cx="39.9" cy="446.1" r="1.4"/>
<circle cx="62.1" cy="423.1" r="1.4"/>
<circle cx="60" cy="428.7" r="1.4"/>
<circle cx="47.2" cy="427.5" r="1.4"/>
<circle cx="72.3" cy="403.5" r="1.4"/>
<circle cx="64.6" cy="432.2" r="1.4"/>
<circle cx="56.1" cy="409.5" r="1.4"/>
<circle cx="70.6" cy="432.4" r="1.4"/>
<circle cx="76.9" cy="436.7" r="1.4"/>
<circle cx="63" cy="422.1" r="1.4"/>
<circle cx="45.5" cy="438.7" r="1.4"/>
<circle cx="72.3" cy="437" r="1.4"/>
<circle cx="40.1" cy="417" r="1.4"/>
<circle cx="47" cy="410.5" r="1.4"/>
<circle cx="50.1" cy="435.9" r="1.4"/>
<circle cx="56.7" cy="446.7" r="1.4"/>
<circle cx="49.8" cy="439.8" r="1.4"/>
<circle cx="69.6" cy="404.6" r="1.4"/>
<circle cx="43.6" cy="410.5" r="1.4"/>
<circle cx="61" cy="430.9" r="1.4"/>
<circle cx="54" cy="442.8" r="1.4"/>
<circle cx="76.8" cy="430.8" r="1.4"/>
<circle cx="55.4" cy="429.5" r="1.4"/>
<circle cx="43" cy="438.4" r="1.4"/>
<circle cx="60.2" cy="442.3" r="1.4"/>
<circle cx="57.4" cy="430.8" r="1.4"/>
<circle cx="69.8" cy="431.5" r="1.4"/>
<circle cx="75.7" cy="401" r="1.4"/>
<circle cx="61.4" cy="434.1" r="1.4"/>
<circle cx="61.9" cy="411.6" r="1.4"/>
<circle cx="78.8" cy="438.5" r="1.4"/>
<circle cx="46.2" cy="416.7" r="1.4"/>
<circle cx="61.8" cy="415.4" r="1.4"/>
<circle cx="59.6" cy="438.7" r="1.4"/>
<circle cx="46" cy="451.3" r="1.4"/>
<circle cx="61.9" cy="434.3" r="1.4"/>
<circle cx="44.1" cy="418.6" r="1.4"/>
<circle cx="77.8" cy="422.4" r="1.4"/>
<circle cx="70.2" cy="439" r="1.4"/>
<circle cx="54" cy="436.5" r="1.4"/>
<circle cx="70.9" cy="407.2" r="1.4"/>
<circle cx="54.2" cy="442.6" r="1.4"/>
<circle cx="77" cy="450.7" r="1.4"/>
<circle cx="53.7" cy="434.7" r="1.4"/>
<circle cx="61.2" cy="436.8" r="1.4"/>
<circle cx="56" cy="436.2" r="1.4"/>
<circle cx="73.3" cy="447.6" r="1.4"/>
<circle cx="59" cy="434.2" r="1.4"/>
<circle cx="40.5" cy="434.6" r="1.4"/>
<circle cx="62.6" cy="446" r="1.4"/>
<circle cx="65.1" cy="449.3" r="1.4"/>
<circle cx="43.7" cy="429.8" r="1.4"/>
<circle cx="72.2" cy="439.5" r="1.4"/>
<circle cx="49" cy="429.9" r="1.4"/>
<circle cx="74.1" cy="441.9" r="1.4"/>
<circle cx="64.6" cy="426.7" r="1.4"/>
<circle cx="45.9" cy="433.2" r="1.4"/>
<circle cx="46.7" cy="437.5" r="1.4"/>
<circle cx="66.4" cy="443.9" r="1.4"/>
<circle cx="42.5" cy="404.4" r="1.4"/>
<circle cx="48.9" cy="424.1" r="1.4"/>
<circle cx="50.3" cy="442" r="1.4"/>
<circle cx="42.5" cy="434.5" r="1.4"/>
<circle cx="43.8" cy="422.1" r="1.4"/>
<circle cx="66.3" cy="438.2" r="1.4"/>
<circle cx="40.4" cy="432.6" r="1.4"/>
<circle cx="43.4" cy="408.8" r="1.4"/>
<circle cx="69.7" cy="440.6" r="1.4"/>
<circle cx="61.8" cy="434.1" r="1.4"/>
<circle cx="55.9" cy="423.9" r="1.4"/>
<circle cx="69.8" cy="442.4" r="1.4"/>
<circle cx="51.8" cy="446.4" r="1.4"/>
<circle cx="67.8" cy="420" r="1.4"/>
<circle cx="52.9" cy="452.4" r="1.4"/>
<circle cx="52.3" cy="448.1" r="1.4"/>
<circle cx="45.1" cy="416.4" r="1.4"/>
<circle cx="46" cy="414.4" r="1.4"/>
<circle cx="76.8" cy="433.9" r="1.4"/>
<circle cx="76.5" cy="444.7" r="1.4"/>
<circle cx="47" cy="434.6" r="1.4"/>
<circle cx="64.5" cy="436.1" r="1.4"/>
<circle cx="55.5" cy="428.5" r="1.4"/>
<circle cx="75.6" cy="439.9" r="1.4"/>
<circle cx="75.4" cy="412" r="1.4"/>
<circle cx="41.2" cy="446.1" r="1.4"/>
<circle cx="71.3" cy="410.3" r="1.4"/>
<circle cx="52.8" cy="405.2" r="1.4"/>
<circle cx="66.9" cy="443.6" r="1.4"/>
<circle cx="66.7" cy="438.1" r="1.4"/>
<circle cx="69.7" cy="426.3" r="1.4"/>
<circle cx="61" cy="424.3" r="1.4"/>
<circle cx="73.6" cy="417.9" r="1.4"/>
<circle cx="52.1" cy="441.1" r="1.4"/>
<circle cx="70.6" cy="383.6" r="1.4"/>
<circle cx="56.2" cy="446.2" r="1.4"/>
<circle cx="68.6" cy="429.9" r="1.4"/>
<circle cx="40.4" cy="420.4" r="1.4"/>
<circle cx="70.7" cy="433" r="1.4"/>
<circle cx="59.3" cy="439.9" r="1.4"/>
<circle cx="68.3" cy="420.6" r="1.4"/>
<circle cx="61.7" cy="425.5" r="1.4"/>
<circle cx="67.5" cy="438.3" r="1.4"/>
<circle cx="76.4" cy="441.5" r="1.4"/>
<circle cx="73.1" cy="433.7" r="1.4"/>
<circle cx="65.5" cy="433.3" r="1.4"/>
<circle cx="61.3" cy="435.2" r="1.4"/>
<circle cx="61.4" cy="431.6" r="1.4"/>
<circle cx="41.5" cy="444.8" r="1.4"/>
<circle cx="47" cy="423.5" r="1.4"/>
<circle cx="61.5" cy="429.9" r="1.4"/>
<circle cx="69.3" cy="405" r="1.4"/>
<circle cx="45.6" cy="447.7" r="1.4"/>
<circle cx="78" cy="439.3" r="1.4"/>
<circle cx="43.4" cy="419" r="1.4"/>
<circle cx="54.2" cy="433.9" r="1.4"/>
<circle cx="62.4" cy="437.9" r="1.4"/>
<circle cx="50.2" cy="439.6" r="1.4"/>
<circle cx="70.6" cy="437.1" r="1.4"/>
<circle cx="73.7" cy="450.2" r="1.4"/>
<circle cx="52.6" cy="424.5" r="1.4"/>
<circle cx="76.1" cy="430.5" r="1.4"/>
<circle cx="74.6" cy="428.7" r="1.4"/>
<circle cx="75.4" cy="413.3" r="1.4"/>
<circle cx="73.7" cy="429.3" r="1.4"/>
<circle cx="49.8" cy="447.4" r="1.4"/>
<circle cx="49.5" cy="447.3" r="1.4"/>
<circle cx="40.6" cy="448.8" r="1.4"/>
<circle cx="63.7" cy="431.5" r="1.4"/>
<circle cx="73.8" cy="428.9" r="1.4"/>
<circle cx="43.2" cy="420.1" r="1.4"/>
<circle cx="59.9" cy="437.5" r="1.4"/>
<circle cx="44" cy="443.5" r="1.4"/>
<circle cx="47.5" cy="420.1" r="1.4"/>
<circle cx="77.6" cy="425.9" r="1.4"/>
<circle cx="61.4" cy="428.5" r="1.4"/>
<circle cx="47.8" cy="421.6" r="1.4"/>
<circle cx="77.2" cy="433.9" r="1.4"/>
<circle cx="53.6" cy="450.7" r="1.4"/>
<circle cx="69.7" cy="446.2" r="1.4"/>
<circle cx="68.3" cy="403.2" r="1.4"/>
<circle cx="47.5" cy="446.1" r="1.4"/>
<circle cx="45.4" cy="432.8" r="1.4"/>
<circle cx="78.5" cy="428.1" r="1.4"/>
<circle cx="66.9" cy="416.5" r="1.4"/>
<circle cx="71.6" cy="440.9" r="1.4"/>
<circle cx="39.9" cy="428.3" r="1.4"/>
<circle cx="58.4" cy="408.5" r="1.4"/>
<circle cx="61.8" cy="448.9" r="1.4"/>
<circle cx="52.6" cy="449" r="1.4"/>
<circle cx="78.1" cy="436.8" r="1.4"/>
<circle cx="59.9" cy="426.8" r="1.4"/>
<circle cx="54.9" cy="437.2" r="1.4"/>
<circle cx="61.7" cy="442.7" r="1.4"/>
<circle cx="44.7" cy="424.8" r="1.4"/>
<circle cx="49.9" cy="448.3" r="1.4"/>
<circle cx="55.3" cy="450.5" r="1.4"/>
<circle cx="50.4" cy="437.6" r="1.4"/>
<circle cx="51.3" cy="419.8" r="1.4"/>
<circle cx="50.1" cy="446.8" r="1.4"/>
<circle cx="46.1" cy="432.4" r="1.4"/>
<circle cx="44.8" cy="423.1" r="1.4"/>
<circle cx="55.1" cy="437" r="1.4"/>
<circle cx="40.8" cy="429.4" r="1.4"/>
<circle cx="68.4" cy="445.3" r="1.4"/>
<circle cx="47.3" cy="415.3" r="1.4"/>
<circle cx="45" cy="423.9" r="1.4"/>
<circle cx="62.7" cy="433.5" r="1.4"/>
<circle cx="50" cy="415.1" r="1.4"/>
<circle cx="54.8" cy="406.4" r="1.4"/>
<circle cx="48.2" cy="439.9" r="1.4"/>
<circle cx="43.8" cy="440.7" r="1.4"/>
<circle cx="71.5" cy="429.5" r="1.4"/>
<circle cx="42.3" cy="441.9" r="1.4"/>
<circle cx="55.2" cy="428.5" r="1.4"/>
<circle cx="41.7" cy="406.1" r="1.4"/>
<circle cx="69.2" cy="427.4" r="1.4"/>
<circle cx="65.3" cy="425.9" r="1.4"/>
<circle cx="64.5" cy="429.4" r="1.4"/>
<circle cx="70.3" cy="448.6" r="1.4"/>
<circle cx="66.6" cy="452.4" r="1.4"/>
<circle cx="76.8" cy="430.6" r="1.4"/>
<circle cx="52" cy="437.7" r="1.4"/>
<circle cx="72.5" cy="437.8" r="1.4"/>
<circle cx="40.8" cy="436.9" r="1.4"/>
<circle cx="47.4" cy="411.2" r="1.4"/>
<circle cx="52.1" cy="430.4" r="1.4"/>
<circle cx="77.8" cy="410.5" r="1.4"/>
<circle cx="76.2" cy="438.6" r="1.4"/>
<circle cx="63.6" cy="446.6" r="1.4"/>
<circle cx="46.2" cy="448.6" r="1.4"/>
<circle cx="49.6" cy="420.8" r="1.4"/>
<circle cx="53.6" cy="432.8" r="1.4"/>
<circle cx="47.5" cy="440" r="1.4"/>
<circle cx="72.3" cy="438" r="1.4"/>
<circle cx="64.2" cy="443.6" r="1.4"/>
<circle cx="56.7" cy="433.9" r="1.4"/>
<circle cx="74.4" cy="442.1" r="1.4"/>
<circle cx="46.8" cy="423.6" r="1.4"/>
<circle cx="56.2" cy="413.1" r="1.4"/>
<circle cx="48.9" cy="423.3" r="1.4"/>
<circle cx="74.9" cy="437.8" r="1.4"/>
<circle cx="67.6" cy="413.4" r="1.4"/>
<circle cx="40.5" cy="448.5" r="1.4"/>
<circle cx="71.8" cy="449.6" r="1.4"/>
<circle cx="56.9" cy="446.9" r="1.4"/>
<circle cx="68.9" cy="450.3" r="1.4"/>
<circle cx="52.7" cy="450.6" r="1.4"/>
<circle cx="57.3" cy="451.6" r="1.4"/>
<circle cx="41.4" cy="439.6" r="1.4"/>
<circle cx="67.4" cy="449.9" r="1.4"/>
<circle cx="52.8" cy="447.5" r="1.4"/>
<circle cx="48.2" cy="419.4" r="1.4"/>
<circle cx="65.1" cy="432.6" r="1.4"/>
<circle cx="61.5" cy="428.1" r="1.4"/>
<circle cx="67.8" cy="409.4" r="1.4"/>
<circle cx="77.4" cy="427.8" r="1.4"/>
<circle cx="41.7" cy="439.5" r="1.4"/>
<circle cx="70.8" cy="427.5" r="1.4"/>
<circle cx="55.8" cy="429.9" r="1.4"/>
<circle cx="48.2" cy="420.3" r="1.4"/>
<circle cx="62.7" cy="438.1" r="1.4"/>
<circle cx="55.4" cy="438.2" r="1.4"/>
<circle cx="44.5" cy="450.7" r="1.4"/>
<circle cx="76.7" cy="448.7" r="1.4"/>
<circle cx="67.5" cy="438.5" r="1.4"/>
<circle cx="50" cy="429.4" r="1.4"/>
<circle cx="76.6" cy="426.1" r="1.4"/>
<circle cx="64.3" cy="423.8" r="1.4"/>
<circle cx="48.8" cy="431.8" r="1.4"/>
<circle cx="42.5" cy="430.3" r="1.4"/>
<circle cx="56.7" cy="447.4" r="1.4"/>
<circle cx="72.5" cy="448.1" r="1.4"/>
<circle cx="56.8" cy="397.2" r="1.4"/>
<circle cx="63.6" cy="439.4" r="1.4"/>
<circle cx="67.2" cy="436.7" r="1.4"/>
<circle cx="59.4" cy="402" r="1.4"/>
<circle cx="52.4" cy="441.2" r="1.4"/>
<circle cx="56.9" cy="428.6" r="1.4"/>
<circle cx="67.5" cy="446.8" r="1.4"/>
<circle cx="75.5" cy="447.7" r="1.4"/>
<circle cx="58.3" cy="389.1" r="1.4"/>
<circle cx="60.1" cy="433.3" r="1.4"/>
<circle cx="65.8" cy="429.2" r="1.4"/>
<circle cx="68.5" cy="420.8" r="1.4"/>
<circle cx="50.8" cy="421.2" r="1.4"/>
<circle cx="68.5" cy="432" r="1.4"/>
<circle cx="51.4" cy="422.3" r="1.4"/>
<circle cx="51.5" cy="448.7" r="1.4"/>
<circle cx="62.6" cy="441.6" r="1.4"/>
<circle cx="71" cy="420" r="1.4"/>
<circle cx="68.9" cy="442.7" r="1.4"/>
<circle cx="60.9" cy="457.2" r="1.4"/>
<circle cx="60" cy="428.9" r="1.4"/>
<circle cx="71.2" cy="433.8" r="1.4"/>
<circle cx="74.8" cy="432.6" r="1.4"/>
<circle cx="63.7" cy="445.8" r="1.4"/>
<circle cx="64.8" cy="446.4" r="1.4"/>
<circle cx="71.8" cy="435.3" r="1.4"/>
<circle cx="78" cy="442.2" r="1.4"/>
<circle cx="70.5" cy="428.1" r="1.4"/>
<circle cx="40.4" cy="420.9" r="1.4"/>
<circle cx="76.9" cy="413.4" r="1.4"/>
<circle cx="77.9" cy="427.4" r="1.4"/>
<circle cx="46.2" cy="424.7" r="1.4"/>
<circle cx="44.5" cy="460.7" r="1.4"/>
<circle cx="49.7" cy="423.5" r="1.4"/>
<circle cx="64.8" cy="433.1" r="1.4"/>
<circle cx="67.6" cy="416.5" r="1.4"/>
<circle cx="75.8" cy="402" r="1.4"/>
<circle cx="48" cy="422.3" r="1.4"/>
<circle cx="52.7" cy="443.8" r="1.4"/>
<circle cx="53.1" cy="439.7" r="1.4"/>
<circle cx="61.8" cy="446.7" r="1.4"/>
<circle cx="55.5" cy="428.6" r="1.4"/>
<circle cx="56.3" cy="452" r="1.4"/>
<circle cx="54.7" cy="383.2" r="1.4"/>
<circle cx="47.2" cy="431.4" r="1.4"/>
<circle cx="49.1" cy="407.5" r="1.4"/>
<circle cx="70.5" cy="432.5" r="1.4"/>
<circle cx="74.1" cy="438.9" r="1.4"/>
<circle cx="53.3" cy="432" r="1.4"/>
<circle cx="47.3" cy="426.4" r="1.4"/>
<circle cx="73.4" cy="445.2" r="1.4"/>
<circle cx="67.4" cy="438.1" r="1.4"/>
<circle cx="42.7" cy="412.2" r="1.4"/>
<circle cx="43.3" cy="432.2" r="1.4"/>
<circle cx="70.4" cy="443.9" r="1.4"/>
<circle cx="67.9" cy="433.9" r="1.4"/>
<circle cx="62.8" cy="449.5" r="1.4"/>
<circle cx="55.7" cy="444.1" r="1.4"/>
<circle cx="77.9" cy="438.5" r="1.4"/>
<circle cx="41" cy="447.4" r="1.4"/>
<circle cx="56.2" cy="428.6" r="1.4"/>
<circle cx="50" cy="435.5" r="1.4"/>
<circle cx="74.8" cy="445.1" r="1.4"/>
<circle cx="61.4" cy="423.6" r="1.4"/>
<circle cx="47.1" cy="431.2" r="1.4"/>
<circle cx="40.9" cy="433.9" r="1.4"/>
<circle cx="46.2" cy="451.5" r="1.4"/>
<circle cx="41" cy="412.4" r="1.4"/>
<circle cx="61.1" cy="435.6" r="1.4"/>
<circle cx="41.7" cy="432.8" r="1.4"/>
<circle cx="50.2" cy="434.1" r="1.4"/>
<circle cx="72.5" cy="438.2" r="1.4"/>
<circle cx="60.2" cy="443.6" r="1.4"/>
<circle cx="47" cy="437.1" r="1.4"/>
<circle cx="43.5" cy="449.6" r="1.4"/>
<circle cx="47.7" cy="451.5" r="1.4"/>
<circle cx="55.3" cy="448" r="1.4"/>
<circle cx="66" cy="423.5" r="1.4"/>
<circle cx="58.8" cy="441.2" r="1.4"/>
<circle cx="75.2" cy="437.8" r="1.4"/>
<circle cx="52.9" cy="440.5" r="1.4"/>
<circle cx="71" cy="439.8" r="1.4"/>
<circle cx="49.9" cy="423.8" r="1.4"/>
<circle cx="47" cy="426.1" r="1.4"/>
<circle cx="47.4" cy="438.2" r="1.4"/>
<circle cx="51.3" cy="428" r="1.4"/>
<circle cx="54.1" cy="415.5" r="1.4"/>
<circle cx="40.7" cy="439" r="1.4"/>
<circle cx="53.1" cy="424.2" r="1.4"/>
<circle cx="70.3" cy="414.5" r="1.4"/>
<circle cx="66.1" cy="422.1" r="1.4"/>
<circle cx="69.9" cy="419.7" r="1.4"/>
<circle cx="52.4" cy="430.8" r="1.4"/>
<circle cx="43.5" cy="429.1" r="1.4"/>
<circle cx="54.2" cy="422.4" r="1.4"/>
<circle cx="66.3" cy="450.6" r="1.4"/>
<circle cx="64.5" cy="390.9" r="1.4"/>
<circle cx="41.6" cy="427.7" r="1.4"/>
<circle cx="70.8" cy="422.9" r="1.4"/>
<circle cx="69.8" cy="443.6" r="1.4"/>
<circle cx="77.8" cy="447.3" r="1.4"/>
<circle cx="71.3" cy="407" r="1.4"/>
<circle cx="71.7" cy="439.6" r="1.4"/>
<circle cx="62" cy="443.4" r="1.4"/>
<circle cx="52.4" cy="437.2" r="1.4"/>
<circle cx="40.9" cy="441.2" r="1.4"/>
<circle cx="52.7" cy="436.7" r="1.4"/>
<circle cx="46.1" cy="448.9" r="1.4"/>
<circle cx="68.3" cy="432.4" r="1.4"/>
<circle cx="56.1" cy="424.2" r="1.4"/>
<circle cx="40.3" cy="421.4" r="1.4"/>
<circle cx="56.4" cy="439.8" r="1.4"/>
<circle cx="46.4" cy="431.5" r="1.4"/>
</g>
<line x1="59.3" y1="402.96" x2="59.3" y2="459.66" stroke="#222" stroke-width="0.8"/>
<rect x="41.8" y="426.48" width="35" height="15.12" fill="#fff" stroke="#2a2a2a" stroke-width="0.8"/>
<line x1="41.8" y1="434.46" x2="76.8" y2="434.46" stroke="#333" stroke-width="0.9"/>
<g fill="#1f5da8" stroke="#07172c" stroke-width="0.5">
<use href="#d140" x="110.8" y="444.4"/>
<use href="#d140" x="123.6" y="446.6"/>
<use href="#d140" x="119.4" y="443.6"/>
<use href="#d140" x="97.4" y="446.3"/>
<use href="#d140" x="112.5" y="438.4"/>
<use href="#d140" x="110.6" y="441.2"/>
<use href="#d140" x="107" y="447.3"/>
<use href="#d140" x="98.4" y="450.8"/>
<use href="#d140" x="97.6" y="443.9"/>
<use href="#d140" x="104.1" y="447.5"/>
<use href="#d140" x="110.9" y="440.4"/>
<use href="#d140" x="87.5" y="444.9"/>
<use href="#d140" x="89.5" y="452.6"/>
<use href="#d140" x="118.1" y="449.6"/>
<use href="#d140" x="110.1" y="453.5"/>
<use href="#d140" x="94.1" y="437.7"/>
<use href="#d140" x="107.5" y="442.5"/>
<use href="#d140" x="118.1" y="438.2"/>
<use href="#d140" x="118.6" y="431.1"/>
<use href="#d140" x="122.8" y="440.6"/>
<use href="#d140" x="108.9" y="443.8"/>
<use href="#d140" x="121.7" y="444.4"/>
<use href="#d140" x="107.3" y="439.2"/>
<use href="#d140" x="100.8" y="439"/>
<use href="#d140" x="86.9" y="441.8"/>
<use href="#d140" x="103.6" y="442.9"/>
<use href="#d140" x="100.5" y="425.5"/>
<use href="#d140" x="94.4" y="435.7"/>
<use href="#d140" x="99" y="451.2"/>
<use href="#d140" x="90.4" y="442.7"/>
<use href="#d140" x="87.5" y="449"/>
<use href="#d140" x="94.3" y="433.1"/>
<use href="#d140" x="115.9" y="445.5"/>
<use href="#d140" x="101.7" y="446.1"/>
<use href="#d140" x="100.6" y="449.5"/>
<use href="#d140" x="113.3" y="433.3"/>
<use href="#d140" x="92.3" y="454.1"/>
<use href="#d140" x="118.6" y="446.1"/>
<use href="#d140" x="114.7" y="440.1"/>
<use href="#d140" x="117.7" y="443.4"/>
<use href="#d140" x="109.1" y="450.7"/>
<use href="#d140" x="102.1" y="440.7"/>
<use href="#d140" x="104.9" y="432.4"/>
<use href="#d140" x="110" y="438.9"/>
<use href="#d140" x="124.3" y="432.9"/>
<use href="#d140" x="116.5" y="440.3"/>
<use href="#d140" x="109.1" y="433.3"/>
<use href="#d140" x="110" y="446.4"/>
<use href="#d140" x="86.6" y="438.9"/>
<use href="#d140" x="121.4" y="442.3"/>
<use href="#d140" x="115.9" y="429"/>
<use href="#d140" x="101" y="440.8"/>
<use href="#d140" x="90.5" y="451.2"/>
<use href="#d140" x="94.7" y="431.8"/>
<use href="#d140" x="106.1" y="449.3"/>
<use href="#d140" x="96" y="442.9"/>
<use href="#d140" x="105.6" y="445.4"/>
<use href="#d140" x="87.7" y="449.2"/>
<use href="#d140" x="107.3" y="450.4"/>
<use href="#d140" x="93" y="434"/>
<use href="#d140" x="104.2" y="433.6"/>
<use href="#d140" x="115.8" y="431.5"/>
<use href="#d140" x="108.2" y="442.5"/>
<use href="#d140" x="96.2" y="441.4"/>
<use href="#d140" x="109.7" y="445.8"/>
<use href="#d140" x="92.7" y="431.1"/>
<use href="#d140" x="92" y="440.6"/>
<use href="#d140" x="91.7" y="431.2"/>
<use href="#d140" x="112.2" y="451"/>
<use href="#d140" x="116.9" y="431.6"/>
<use href="#d140" x="122.5" y="436.6"/>
<use href="#d140" x="91.8" y="446.5"/>
<use href="#d140" x="104.6" y="444.2"/>
<use href="#d140" x="106.3" y="434.7"/>
<use href="#d140" x="122.1" y="385.1"/>
<use href="#d140" x="108.8" y="440"/>
<use href="#d140" x="123.1" y="449.1"/>
<use href="#d140" x="97.7" y="446.1"/>
<use href="#d140" x="121.6" y="443.3"/>
<use href="#d140" x="111.7" y="444.2"/>
<use href="#d140" x="89.3" y="452.9"/>
<use href="#d140" x="118.4" y="437.5"/>
<use href="#d140" x="101" y="441.5"/>
<use href="#d140" x="95.4" y="445.6"/>
<use href="#d140" x="123.6" y="443.5"/>
<use href="#d140" x="124.3" y="449.1"/>
<use href="#d140" x="91.4" y="425.7"/>
<use href="#d140" x="115.9" y="446.1"/>
<use href="#d140" x="121.1" y="436"/>
<use href="#d140" x="94.7" y="401.9"/>
<use href="#d140" x="92.7" y="430.2"/>
<use href="#d140" x="113.7" y="436.3"/>
<use href="#d140" x="116.8" y="439.9"/>
<use href="#d140" x="90" y="445"/>
<use href="#d140" x="115.6" y="444.7"/>
<use href="#d140" x="109.2" y="436.5"/>
<use href="#d140" x="90.4" y="447.9"/>
<use href="#d140" x="116.1" y="433.4"/>
<use href="#d140" x="100.4" y="445"/>
<use href="#d140" x="113.2" y="442.8"/>
<use href="#d140" x="93.6" y="443.4"/>
<use href="#d140" x="102.4" y="438.2"/>
<use href="#d140" x="109.7" y="443.3"/>
<use href="#d140" x="117.7" y="443.2"/>
<use href="#d140" x="115.4" y="443.9"/>
<use href="#d140" x="123.7" y="453.5"/>
<use href="#d140" x="90.7" y="426.3"/>
<use href="#d140" x="93.1" y="437.7"/>
<use href="#d140" x="109.7" y="438.8"/>
<use href="#d140" x="114.6" y="424.9"/>
<use href="#d140" x="111.4" y="439.6"/>
<use href="#d140" x="103.3" y="426.9"/>
<use href="#d140" x="122.5" y="439.2"/>
<use href="#d140" x="122.7" y="446.8"/>
<use href="#d140" x="97.5" y="429.9"/>
<use href="#d140" x="91.5" y="429.7"/>
<use href="#d140" x="86.8" y="439.6"/>
<use href="#d140" x="91.7" y="444.3"/>
<use href="#d140" x="122.8" y="448.1"/>
<use href="#d140" x="112" y="448.9"/>
<use href="#d140" x="123" y="443.5"/>
<use href="#d140" x="115.5" y="452"/>
<use href="#d140" x="96.8" y="434.2"/>
<use href="#d140" x="96.6" y="450.5"/>
<use href="#d140" x="112.4" y="450.5"/>
<use href="#d140" x="104.4" y="447.8"/>
<use href="#d140" x="106.8" y="450.4"/>
<use href="#d140" x="91.9" y="434.5"/>
<use href="#d140" x="104.8" y="444.7"/>
<use href="#d140" x="87.1" y="439.1"/>
<use href="#d140" x="120.3" y="446.2"/>
<use href="#d140" x="110.2" y="448.7"/>
<use href="#d140" x="100.4" y="431.1"/>
<use href="#d140" x="107.1" y="438.3"/>
<use href="#d140" x="121.8" y="436"/>
<use href="#d140" x="92.4" y="442.3"/>
<use href="#d140" x="96.7" y="436.5"/>
<use href="#d140" x="109.9" y="443"/>
<use href="#d140" x="113.6" y="452.8"/>
<use href="#d140" x="108.7" y="448.4"/>
<use href="#d140" x="89.4" y="452.4"/>
<use href="#d140" x="116.5" y="446.1"/>
<use href="#d140" x="109.2" y="449.6"/>
<use href="#d140" x="93.5" y="444"/>
<use href="#d140" x="101.6" y="441.1"/>
<use href="#d140" x="108.2" y="436.3"/>
<use href="#d140" x="98.4" y="427.6"/>
<use href="#d140" x="96.2" y="450.6"/>
<use href="#d140" x="111.8" y="451.9"/>
<use href="#d140" x="108.7" y="436"/>
<use href="#d140" x="123.6" y="438.3"/>
<use href="#d140" x="116.2" y="439.9"/>
<use href="#d140" x="108.1" y="445.8"/>
<use href="#d140" x="90.1" y="438.3"/>
<use href="#d140" x="116.2" y="448.6"/>
<use href="#d140" x="120.4" y="440"/>
<use href="#d140" x="114.1" y="444"/>
<use href="#d140" x="107.2" y="442"/>
<use href="#d140" x="89.9" y="442.8"/>
<use href="#d140" x="113.6" y="452.1"/>
<use href="#d140" x="124" y="447.4"/>
<use href="#d140" x="108.1" y="440.6"/>
<use href="#d140" x="113" y="422.5"/>
<use href="#d140" x="114.1" y="445.1"/>
<use href="#d140" x="117.6" y="451.1"/>
<use href="#d140" x="113.9" y="436.4"/>
<use href="#d140" x="109.1" y="448.3"/>
<use href="#d140" x="110.8" y="451.2"/>
<use href="#d140" x="119.7" y="434.8"/>
<use href="#d140" x="120.7" y="441.8"/>
<use href="#d140" x="117.8" y="444.7"/>
<use href="#d140" x="109.1" y="438.3"/>
<use href="#d140" x="93.6" y="428.2"/>
<use href="#d140" x="99.9" y="440.6"/>
<use href="#d140" x="101.2" y="445"/>
<use href="#d140" x="107.4" y="425.1"/>
<use href="#d140" x="90.9" y="439.7"/>
<use href="#d140" x="93" y="436.9"/>
<use href="#d140" x="109.5" y="450.6"/>
<use href="#d140" x="98.3" y="432.1"/>
<use href="#d140" x="116.9" y="446.9"/>
<use href="#d140" x="100.8" y="423.1"/>
<use href="#d140" x="92.1" y="431.1"/>
<use href="#d140" x="107.5" y="436.4"/>
<use href="#d140" x="113.9" y="450.3"/>
<use href="#d140" x="124.3" y="440.8"/>
<use href="#d140" x="105.3" y="436.4"/>
<use href="#d140" x="94.8" y="454.2"/>
<use href="#d140" x="100.2" y="426.9"/>
<use href="#d140" x="98.4" y="443.7"/>
<use href="#d140" x="92" y="441.4"/>
<use href="#d140" x="98.5" y="438.9"/>
<use href="#d140" x="110.4" y="449.9"/>
<use href="#d140" x="121.2" y="452.7"/>
<use href="#d140" x="94" y="449.4"/>
<use href="#d140" x="107.2" y="422.8"/>
<use href="#d140" x="116.2" y="444.1"/>
<use href="#d140" x="86.8" y="442.6"/>
<use href="#d140" x="112.1" y="430"/>
<use href="#d140" x="88" y="437"/>
<use href="#d140" x="122.3" y="448"/>
<use href="#d140" x="113.5" y="430.9"/>
<use href="#d140" x="109.6" y="432.6"/>
<use href="#d140" x="124.3" y="442.5"/>
<use href="#d140" x="94.4" y="427.4"/>
<use href="#d140" x="113.9" y="452.2"/>
<use href="#d140" x="102.6" y="430.2"/>
<use href="#d140" x="116.9" y="444.3"/>
<use href="#d140" x="113.7" y="437.8"/>
<use href="#d140" x="118.7" y="445.8"/>
<use href="#d140" x="101.1" y="447.1"/>
<use href="#d140" x="89.2" y="446.6"/>
<use href="#d140" x="96" y="430"/>
<use href="#d140" x="119.1" y="442.2"/>
<use href="#d140" x="95.4" y="431"/>
<use href="#d140" x="93.6" y="452.4"/>
<use href="#d140" x="91.6" y="434.1"/>
<use href="#d140" x="112.1" y="442.1"/>
<use href="#d140" x="103.7" y="449.4"/>
<use href="#d140" x="107" y="435.4"/>
<use href="#d140" x="117.8" y="438.5"/>
<use href="#d140" x="120.8" y="445.8"/>
<use href="#d140" x="91.6" y="450"/>
<use href="#d140" x="91.2" y="451.7"/>
<use href="#d140" x="92.8" y="433"/>
<use href="#d140" x="107.7" y="444.3"/>
<use href="#d140" x="88.4" y="451.9"/>
<use href="#d140" x="105.6" y="438.1"/>
<use href="#d140" x="97.6" y="445.8"/>
<use href="#d140" x="87.5" y="443.8"/>
<use href="#d140" x="102.9" y="440.4"/>
<use href="#d140" x="102.8" y="446.2"/>
<use href="#d140" x="104.5" y="447.9"/>
<use href="#d140" x="97.1" y="432.9"/>
<use href="#d140" x="99.3" y="432.4"/>
<use href="#d140" x="122.6" y="423"/>
<use href="#d140" x="87.4" y="451.8"/>
<use href="#d140" x="106.3" y="441.9"/>
<use href="#d140" x="117.5" y="442.4"/>
<use href="#d140" x="111.4" y="430.8"/>
<use href="#d140" x="91" y="443.4"/>
<use href="#d140" x="99.2" y="435.6"/>
<use href="#d140" x="93.9" y="430.9"/>
<use href="#d140" x="110.6" y="406.7"/>
<use href="#d140" x="124.4" y="437.7"/>
<use href="#d140" x="123.9" y="444.4"/>
<use href="#d140" x="106.3" y="443.9"/>
<use href="#d140" x="102.1" y="430.5"/>
<use href="#d140" x="96.8" y="427"/>
<use href="#d140" x="123.6" y="434.2"/>
<use href="#d140" x="93.9" y="430"/>
<use href="#d140" x="101.4" y="440.4"/>
<use href="#d140" x="87.4" y="442.1"/>
<use href="#d140" x="97.5" y="426.4"/>
<use href="#d140" x="113" y="436.5"/>
<use href="#d140" x="92.1" y="451"/>
<use href="#d140" x="98.7" y="452"/>
<use href="#d140" x="118.9" y="430"/>
<use href="#d140" x="114" y="431.8"/>
<use href="#d140" x="91.7" y="441.8"/>
<use href="#d140" x="118.4" y="430.1"/>
<use href="#d140" x="101.3" y="444.7"/>
<use href="#d140" x="109.7" y="444.2"/>
<use href="#d140" x="112.6" y="445.4"/>
<use href="#d140" x="117.5" y="425.6"/>
<use href="#d140" x="90.5" y="440.5"/>
<use href="#d140" x="120.9" y="451.7"/>
<use href="#d140" x="90.2" y="437.6"/>
<use href="#d140" x="98.9" y="451.9"/>
<use href="#d140" x="101.2" y="449.7"/>
<use href="#d140" x="99" y="439.6"/>
<use href="#d140" x="118.2" y="445.4"/>
<use href="#d140" x="124.1" y="444.1"/>
<use href="#d140" x="90.3" y="444"/>
<use href="#d140" x="86.7" y="437.7"/>
<use href="#d140" x="90.8" y="450.1"/>
<use href="#d140" x="102.1" y="437.4"/>
<use href="#d140" x="100.3" y="442.9"/>
<use href="#d140" x="102.4" y="425.1"/>
<use href="#d140" x="99.5" y="452.2"/>
<use href="#d140" x="116.8" y="406.3"/>
<use href="#d140" x="98.7" y="435.5"/>
<use href="#d140" x="103.5" y="446.8"/>
<use href="#d140" x="117.4" y="448.2"/>
<use href="#d140" x="117.4" y="430.7"/>
<use href="#d140" x="122.9" y="445.5"/>
<use href="#d140" x="98.3" y="437"/>
<use href="#d140" x="116" y="441.3"/>
<use href="#d140" x="110.7" y="428.2"/>
<use href="#d140" x="122.5" y="436.9"/>
<use href="#d140" x="105.3" y="446.9"/>
<use href="#d140" x="108" y="433.2"/>
<use href="#d140" x="112.2" y="453.3"/>
<use href="#d140" x="93" y="444.6"/>
<use href="#d140" x="113.6" y="437.5"/>
<use href="#d140" x="123.5" y="442.3"/>
<use href="#d140" x="87.4" y="451.4"/>
<use href="#d140" x="117.1" y="443.9"/>
<use href="#d140" x="91.8" y="450.5"/>
<use href="#d140" x="97.7" y="434.7"/>
<use href="#d140" x="109.7" y="447.1"/>
<use href="#d140" x="109.9" y="438.3"/>
<use href="#d140" x="110.5" y="442"/>
<use href="#d140" x="89.3" y="438.6"/>
<use href="#d140" x="103" y="423.2"/>
<use href="#d140" x="106.4" y="423.9"/>
<use href="#d140" x="112.4" y="431.3"/>
<use href="#d140" x="112.1" y="448.9"/>
<use href="#d140" x="101.2" y="443.4"/>
<use href="#d140" x="93" y="448.3"/>
<use href="#d140" x="123.2" y="430.9"/>
<use href="#d140" x="90.9" y="436.3"/>
<use href="#d140" x="121.8" y="428.1"/>
<use href="#d140" x="93.7" y="437"/>
<use href="#d140" x="113.9" y="442.3"/>
<use href="#d140" x="116.6" y="431"/>
<use href="#d140" x="97.8" y="429.2"/>
<use href="#d140" x="108.8" y="443.2"/>
<use href="#d140" x="98.5" y="451.1"/>
<use href="#d140" x="98.3" y="441.1"/>
<use href="#d140" x="107.8" y="450.5"/>
<use href="#d140" x="98.4" y="444.4"/>
<use href="#d140" x="108.1" y="437.3"/>
<use href="#d140" x="123.5" y="432.4"/>
<use href="#d140" x="114.7" y="418.5"/>
<use href="#d140" x="120.9" y="436.8"/>
<use href="#d140" x="108.1" y="445.4"/>
<use href="#d140" x="101.6" y="450.3"/>
<use href="#d140" x="122.7" y="449.6"/>
<use href="#d140" x="116.9" y="448.9"/>
<use href="#d140" x="110.2" y="431.8"/>
<use href="#d140" x="118.6" y="416.4"/>
<use href="#d140" x="104.7" y="443.6"/>
<use href="#d140" x="101.1" y="444.7"/>
<use href="#d140" x="107.1" y="443"/>
<use href="#d140" x="104.6" y="445.9"/>
<use href="#d140" x="113.2" y="431.6"/>
<use href="#d140" x="122.6" y="442.8"/>
<use href="#d140" x="120.3" y="433.7"/>
<use href="#d140" x="120.8" y="430.9"/>
<use href="#d140" x="112.4" y="430"/>
<use href="#d140" x="97.4" y="444.1"/>
<use href="#d140" x="100" y="438.1"/>
<use href="#d140" x="99" y="451"/>
<use href="#d140" x="92.2" y="437.9"/>
<use href="#d140" x="112.4" y="446.1"/>
<use href="#d140" x="119.4" y="437.7"/>
<use href="#d140" x="108.5" y="440.7"/>
<use href="#d140" x="114.3" y="445.6"/>
<use href="#d140" x="120.7" y="447.6"/>
<use href="#d140" x="119.2" y="442.9"/>
<use href="#d140" x="109.7" y="450.6"/>
<use href="#d140" x="88.3" y="451"/>
<use href="#d140" x="101.1" y="432.9"/>
<use href="#d140" x="88.1" y="436.5"/>
<use href="#d140" x="99.4" y="429.4"/>
<use href="#d140" x="99" y="436.4"/>
<use href="#d140" x="117.9" y="439.8"/>
<use href="#d140" x="90.7" y="444.9"/>
<use href="#d140" x="107.5" y="445.7"/>
<use href="#d140" x="98.7" y="434.9"/>
<use href="#d140" x="94.3" y="442.1"/>
<use href="#d140" x="121.4" y="448.4"/>
<use href="#d140" x="86.7" y="426.4"/>
<use href="#d140" x="115.6" y="424.7"/>
<use href="#d140" x="102.8" y="444.4"/>
<use href="#d140" x="111.6" y="431.3"/>
<use href="#d140" x="103.1" y="441.5"/>
<use href="#d140" x="124.6" y="451"/>
<use href="#d140" x="93.4" y="442.8"/>
<use href="#d140" x="122.1" y="444.8"/>
<use href="#d140" x="88.5" y="442.3"/>
<use href="#d140" x="110.1" y="437.2"/>
<use href="#d140" x="96.2" y="433.4"/>
<use href="#d140" x="93.6" y="420.6"/>
<use href="#d140" x="110.2" y="427.3"/>
<use href="#d140" x="88" y="437.8"/>
<use href="#d140" x="97.3" y="447.6"/>
<use href="#d140" x="98.9" y="445.9"/>
<use href="#d140" x="115.9" y="442.3"/>
<use href="#d140" x="119.1" y="426.8"/>
<use href="#d140" x="87.2" y="438.6"/>
<use href="#d140" x="121.2" y="419.3"/>
<use href="#d140" x="93.1" y="439"/>
<use href="#d140" x="115.2" y="444.9"/>
<use href="#d140" x="101.4" y="444.2"/>
<use href="#d140" x="98" y="450.5"/>
<use href="#d140" x="89.5" y="446.4"/>
<use href="#d140" x="87.2" y="445.2"/>
<use href="#d140" x="87" y="428.3"/>
<use href="#d140" x="112.8" y="447"/>
<use href="#d140" x="123.2" y="443.2"/>
<use href="#d140" x="103.9" y="450.3"/>
<use href="#d140" x="122.2" y="444.6"/>
<use href="#d140" x="114.6" y="447.3"/>
<use href="#d140" x="121.3" y="441.4"/>
<use href="#d140" x="115.8" y="430"/>
<use href="#d140" x="116.9" y="430.4"/>
<use href="#d140" x="104.8" y="444.7"/>
<use href="#d140" x="123.4" y="446.8"/>
<use href="#d140" x="105.7" y="432.2"/>
<use href="#d140" x="90.6" y="444.3"/>
<use href="#d140" x="108.2" y="445.4"/>
<use href="#d140" x="89.7" y="452.7"/>
<use href="#d140" x="107.4" y="437.2"/>
<use href="#d140" x="106.7" y="426.7"/>
<use href="#d140" x="113.2" y="446.3"/>
<use href="#d140" x="121.7" y="439.2"/>
<use href="#d140" x="89.1" y="441.7"/>
<use href="#d140" x="107.9" y="452.8"/>
<use href="#d140" x="119.3" y="450.6"/>
<use href="#d140" x="119.9" y="451.3"/>
<use href="#d140" x="109.3" y="440.8"/>
<use href="#d140" x="101.8" y="435.7"/>
<use href="#d140" x="105" y="440.1"/>
<use href="#d140" x="108.6" y="431.6"/>
<use href="#d140" x="117.8" y="439.8"/>
<use href="#d140" x="103.8" y="450.8"/>
<use href="#d140" x="116.9" y="444.9"/>
<use href="#d140" x="122.1" y="445.6"/>
<use href="#d140" x="89.3" y="450.3"/>
<use href="#d140" x="116.5" y="451.5"/>
<use href="#d140" x="113.1" y="442.9"/>
<use href="#d140" x="111.9" y="450.1"/>
<use href="#d140" x="95.2" y="443.7"/>
<use href="#d140" x="111.2" y="442.2"/>
<use href="#d140" x="122.9" y="452.4"/>
<use href="#d140" x="117.9" y="452"/>
<use href="#d140" x="109.8" y="443.7"/>
<use href="#d140" x="113.1" y="425.2"/>
<use href="#d140" x="111.7" y="446.8"/>
<use href="#d140" x="92.7" y="449.9"/>
<use href="#d140" x="106.4" y="436.4"/>
<use href="#d140" x="117.1" y="453"/>
<use href="#d140" x="112.8" y="440.1"/>
<use href="#d140" x="115.9" y="422.6"/>
<use href="#d140" x="89.4" y="445.8"/>
<use href="#d140" x="88.4" y="427.7"/>
<use href="#d140" x="108.4" y="451.5"/>
<use href="#d140" x="102.3" y="444.7"/>
<use href="#d140" x="88.9" y="448"/>
<use href="#d140" x="116.9" y="448.4"/>
<use href="#d140" x="88.8" y="445.9"/>
<use href="#d140" x="90.4" y="439.3"/>
<use href="#d140" x="120.7" y="430.6"/>
<use href="#d140" x="107.5" y="430.9"/>
<use href="#d140" x="103.3" y="449.2"/>
<use href="#d140" x="122.3" y="427.5"/>
<use href="#d140" x="97.3" y="441.8"/>
<use href="#d140" x="99.1" y="439.4"/>
<use href="#d140" x="112.3" y="445.9"/>
<use href="#d140" x="95.2" y="447.3"/>
<use href="#d140" x="115" y="443.6"/>
<use href="#d140" x="118.2" y="431.1"/>
<use href="#d140" x="94.4" y="447.7"/>
<use href="#d140" x="98.8" y="443.2"/>
<use href="#d140" x="106.8" y="453.1"/>
<use href="#d140" x="107" y="440.5"/>
<use href="#d140" x="115.2" y="442.7"/>
<use href="#d140" x="96.8" y="435.4"/>
<use href="#d140" x="88.7" y="446.9"/>
<use href="#d140" x="112.3" y="451.9"/>
<use href="#d140" x="98.9" y="442.2"/>
<use href="#d140" x="104.1" y="435.8"/>
<use href="#d140" x="88" y="436.7"/>
<use href="#d140" x="109.8" y="449.1"/>
<use href="#d140" x="98.8" y="449.8"/>
<use href="#d140" x="111.1" y="437.8"/>
<use href="#d140" x="124.2" y="439.9"/>
<use href="#d140" x="91.6" y="450"/>
<use href="#d140" x="114.9" y="435.6"/>
<use href="#d140" x="115.8" y="435.1"/>
<use href="#d140" x="100.4" y="447.1"/>
<use href="#d140" x="94.1" y="446.2"/>
<use href="#d140" x="118.1" y="438.6"/>
<use href="#d140" x="88.5" y="424.7"/>
<use href="#d140" x="118.9" y="440.6"/>
<use href="#d140" x="96" y="430.5"/>
<use href="#d140" x="122.3" y="438.6"/>
<use href="#d140" x="98.6" y="436.5"/>
<use href="#d140" x="98.1" y="436"/>
<use href="#d140" x="122.4" y="440.6"/>
<use href="#d140" x="118.5" y="444.3"/>
<use href="#d140" x="96.2" y="435.8"/>
<use href="#d140" x="92.1" y="438.8"/>
<use href="#d140" x="114.7" y="443"/>
<use href="#d140" x="113.9" y="432.5"/>
<use href="#d140" x="123.6" y="443.4"/>
<use href="#d140" x="92.8" y="434.7"/>
<use href="#d140" x="120" y="440.3"/>
<use href="#d140" x="115.1" y="440.7"/>
<use href="#d140" x="89" y="451.3"/>
<use href="#d140" x="105.8" y="431.2"/>
<use href="#d140" x="122.2" y="446.4"/>
<use href="#d140" x="115.1" y="431.6"/>
<use href="#d140" x="94.8" y="447.2"/>
<use href="#d140" x="114" y="441.4"/>
<use href="#d140" x="108.9" y="429.8"/>
<use href="#d140" x="112.7" y="436.3"/>
<use href="#d140" x="99" y="440.5"/>
<use href="#d140" x="93.4" y="436.5"/>
<use href="#d140" x="113.9" y="442.5"/>
<use href="#d140" x="111.2" y="444.2"/>
<use href="#d140" x="102.6" y="413.9"/>
<use href="#d140" x="97.2" y="432"/>
<use href="#d140" x="97.5" y="445"/>
<use href="#d140" x="103.3" y="449.2"/>
<use href="#d140" x="98.6" y="437.1"/>
<use href="#d140" x="106.6" y="445"/>
<use href="#d140" x="108.8" y="440.9"/>
<use href="#d140" x="98.2" y="448.3"/>
<use href="#d140" x="110.3" y="444.5"/>
<use href="#d140" x="112.4" y="477.8"/>
<use href="#d140" x="90.5" y="446.1"/>
<use href="#d140" x="89.6" y="438"/>
<use href="#d140" x="97.9" y="446"/>
<use href="#d140" x="100.4" y="432.8"/>
<use href="#d140" x="111" y="439.3"/>
<use href="#d140" x="109" y="444.3"/>
<use href="#d140" x="115.2" y="440.2"/>
<use href="#d140" x="98.5" y="454.1"/>
<use href="#d140" x="117.6" y="432.9"/>
<use href="#d140" x="114.7" y="446.4"/>
<use href="#d140" x="102.9" y="447.5"/>
<use href="#d140" x="100" y="433.6"/>
<use href="#d140" x="93.8" y="438.5"/>
<use href="#d140" x="99.4" y="444.8"/>
<use href="#d140" x="116.5" y="443.9"/>
<use href="#d140" x="105" y="427.3"/>
<use href="#d140" x="119.9" y="435.6"/>
<use href="#d140" x="101" y="443.5"/>
<use href="#d140" x="120.8" y="449.6"/>
<use href="#d140" x="111.7" y="439.2"/>
<use href="#d140" x="112" y="432.7"/>
<use href="#d140" x="94.6" y="438.9"/>
<use href="#d140" x="112.5" y="447.4"/>
<use href="#d140" x="87.5" y="432.6"/>
<use href="#d140" x="95.5" y="443.8"/>
<use href="#d140" x="95.9" y="440"/>
<use href="#d140" x="96.4" y="447.3"/>
<use href="#d140" x="124.5" y="440.7"/>
<use href="#d140" x="121.9" y="440.2"/>
<use href="#d140" x="100.4" y="447.7"/>
<use href="#d140" x="113.9" y="438"/>
<use href="#d140" x="96.6" y="437.6"/>
<use href="#d140" x="89.8" y="442.9"/>
<use href="#d140" x="116.2" y="444.9"/>
<use href="#d140" x="107.7" y="448.2"/>
<use href="#d140" x="113.2" y="437.4"/>
<use href="#d140" x="109.2" y="441.8"/>
<use href="#d140" x="119.1" y="431.9"/>
<use href="#d140" x="96.7" y="434.9"/>
<use href="#d140" x="103.3" y="438.3"/>
<use href="#d140" x="110.9" y="438.5"/>
<use href="#d140" x="90.2" y="425.9"/>
<use href="#d140" x="114.2" y="437.7"/>
<use href="#d140" x="100.6" y="452.3"/>
<use href="#d140" x="123.7" y="441.2"/>
<use href="#d140" x="91" y="440.3"/>
<use href="#d140" x="102.1" y="437.3"/>
<use href="#d140" x="97.6" y="433.9"/>
<use href="#d140" x="117.3" y="430"/>
<use href="#d140" x="112.9" y="441.8"/>
<use href="#d140" x="115.6" y="436.7"/>
<use href="#d140" x="121.7" y="427"/>
<use href="#d140" x="119.2" y="447.7"/>
<use href="#d140" x="119.4" y="441.8"/>
<use href="#d140" x="93" y="440.2"/>
<use href="#d140" x="87.1" y="435.6"/>
<use href="#d140" x="109.4" y="438.4"/>
<use href="#d140" x="92.2" y="451.3"/>
<use href="#d140" x="89.1" y="446.3"/>
<use href="#d140" x="96.3" y="442.5"/>
<use href="#d140" x="108.7" y="443"/>
<use href="#d140" x="123.5" y="445.6"/>
<use href="#d140" x="97" y="428.4"/>
<use href="#d140" x="92.3" y="436.9"/>
<use href="#d140" x="123.3" y="449.8"/>
<use href="#d140" x="92.1" y="454.1"/>
<use href="#d140" x="110.2" y="440.9"/>
<use href="#d140" x="112.2" y="442.9"/>
<use href="#d140" x="90.9" y="445.3"/>
<use href="#d140" x="100.2" y="440.3"/>
<use href="#d140" x="98" y="422.3"/>
<use href="#d140" x="87.1" y="452.4"/>
<use href="#d140" x="112" y="437.8"/>
<use href="#d140" x="116.3" y="442.3"/>
<use href="#d140" x="110.5" y="451.9"/>
<use href="#d140" x="114.5" y="433.9"/>
<use href="#d140" x="90.1" y="437.8"/>
<use href="#d140" x="123.8" y="444.2"/>
<use href="#d140" x="109" y="430.3"/>
<use href="#d140" x="116.4" y="451.4"/>
<use href="#d140" x="105.4" y="452.1"/>
<use href="#d140" x="89.5" y="447.7"/>
<use href="#d140" x="108.2" y="444.3"/>
<use href="#d140" x="92.8" y="436.8"/>
<use href="#d140" x="88.6" y="438.4"/>
<use href="#d140" x="119.2" y="450.7"/>
<use href="#d140" x="116.2" y="448.9"/>
<use href="#d140" x="92.7" y="452.5"/>
<use href="#d140" x="110.7" y="439.3"/>
<use href="#d140" x="114.6" y="430.9"/>
<use href="#d140" x="123.6" y="436.3"/>
<use href="#d140" x="123.2" y="431"/>
<use href="#d140" x="113.2" y="447.2"/>
<use href="#d140" x="93.2" y="446.6"/>
<use href="#d140" x="102.7" y="452.9"/>
<use href="#d140" x="108.1" y="436.3"/>
<use href="#d140" x="107.9" y="421.9"/>
<use href="#d140" x="122.6" y="442.7"/>
<use href="#d140" x="102.9" y="432.1"/>
<use href="#d140" x="105.3" y="445.6"/>
<use href="#d140" x="108.3" y="445.7"/>
<use href="#d140" x="120.8" y="444.6"/>
<use href="#d140" x="102.6" y="428.2"/>
<use href="#d140" x="99.7" y="430.2"/>
<use href="#d140" x="103.9" y="432.2"/>
<use href="#d140" x="123" y="426.9"/>
<use href="#d140" x="92.7" y="433.4"/>
<use href="#d140" x="101" y="430.9"/>
<use href="#d140" x="102.9" y="437.6"/>
<use href="#d140" x="91" y="424.3"/>
<use href="#d140" x="120.1" y="450.8"/>
<use href="#d140" x="89.2" y="448.8"/>
<use href="#d140" x="115" y="437.7"/>
<use href="#d140" x="100.9" y="474.8"/>
<use href="#d140" x="98.6" y="451.2"/>
<use href="#d140" x="99.1" y="433.5"/>
<use href="#d140" x="121.5" y="444.6"/>
<use href="#d140" x="108.8" y="452.7"/>
<use href="#d140" x="99.9" y="425.4"/>
<use href="#d140" x="120.4" y="440.5"/>
<use href="#d140" x="87.4" y="446"/>
<use href="#d140" x="87.4" y="437"/>
<use href="#d140" x="121.2" y="439.3"/>
<use href="#d140" x="122.3" y="443"/>
<use href="#d140" x="97.7" y="437.9"/>
<use href="#d140" x="122.4" y="444"/>
<use href="#d140" x="99.3" y="450.3"/>
<use href="#d140" x="97" y="410.1"/>
<use href="#d140" x="99.1" y="446.5"/>
<use href="#d140" x="95.1" y="448.7"/>
<use href="#d140" x="116.9" y="449.8"/>
<use href="#d140" x="92.5" y="432.2"/>
<use href="#d140" x="98.9" y="434.6"/>
<use href="#d140" x="96.5" y="438.2"/>
<use href="#d140" x="114.2" y="442.2"/>
<use href="#d140" x="96.8" y="443.1"/>
<use href="#d140" x="88.9" y="438.5"/>
<use href="#d140" x="117.6" y="439.2"/>
<use href="#d140" x="111.8" y="443.9"/>
<use href="#d140" x="93.6" y="446.8"/>
<use href="#d140" x="110" y="444.7"/>
<use href="#d140" x="102.3" y="447.1"/>
<use href="#d140" x="88.3" y="451.3"/>
<use href="#d140" x="100.5" y="443.3"/>
<use href="#d140" x="123.3" y="441.7"/>
<use href="#d140" x="113.2" y="441.6"/>
<use href="#d140" x="101" y="442.5"/>
<use href="#d140" x="115.9" y="446.9"/>
<use href="#d140" x="123.7" y="442.5"/>
<use href="#d140" x="123" y="407.3"/>
<use href="#d140" x="88.5" y="450.6"/>
<use href="#d140" x="114.4" y="447.9"/>
<use href="#d140" x="86.7" y="435.2"/>
<use href="#d140" x="120.6" y="441"/>
<use href="#d140" x="123.9" y="440.6"/>
<use href="#d140" x="113.8" y="448.8"/>
<use href="#d140" x="106.9" y="444.8"/>
<use href="#d140" x="100.9" y="445.8"/>
<use href="#d140" x="115.3" y="441"/>
<use href="#d140" x="113.4" y="442.2"/>
<use href="#d140" x="109.3" y="448.7"/>
</g>
<line x1="105.6" y1="436.14" x2="105.6" y2="446.64" stroke="#222" stroke-width="0.8"/>
<rect x="88.6" y="436.14" width="34" height="10.5" fill="#fff" stroke="#2a2a2a" stroke-width="0.8"/>
<line x1="88.6" y1="441.81" x2="122.6" y2="441.81" stroke="#333" stroke-width="0.9"/>
<g fill="#e6241f" stroke="#2a0404" stroke-width="0.42">
<circle cx="166.3" cy="432.1" r="1.4"/>
<circle cx="167.5" cy="451" r="1.4"/>
<circle cx="164.9" cy="445.6" r="1.4"/>
<circle cx="181.8" cy="441.2" r="1.4"/>
<circle cx="165.3" cy="439.9" r="1.4"/>
<circle cx="157.3" cy="448.8" r="1.4"/>
<circle cx="170.4" cy="430.7" r="1.4"/>
<circle cx="164.8" cy="444.9" r="1.4"/>
<circle cx="169.5" cy="442.2" r="1.4"/>
<circle cx="167.7" cy="446.1" r="1.4"/>
<circle cx="161.6" cy="450.2" r="1.4"/>
<circle cx="178.1" cy="432.5" r="1.4"/>
<circle cx="177.2" cy="449.8" r="1.4"/>
<circle cx="170.6" cy="440.3" r="1.4"/>
<circle cx="158.8" cy="442.9" r="1.4"/>
<circle cx="152.1" cy="447" r="1.4"/>
<circle cx="178.6" cy="433.2" r="1.4"/>
<circle cx="177.3" cy="445.9" r="1.4"/>
<circle cx="159.8" cy="448.5" r="1.4"/>
<circle cx="155.3" cy="430.3" r="1.4"/>
<circle cx="146" cy="441.8" r="1.4"/>
<circle cx="182.5" cy="437.6" r="1.4"/>
<circle cx="178.7" cy="446.2" r="1.4"/>
<circle cx="150.3" cy="442.1" r="1.4"/>
<circle cx="178.5" cy="448.4" r="1.4"/>
<circle cx="167.6" cy="450.6" r="1.4"/>
<circle cx="148.2" cy="444.7" r="1.4"/>
<circle cx="158.7" cy="446.2" r="1.4"/>
<circle cx="158.2" cy="445.8" r="1.4"/>
<circle cx="176.6" cy="435" r="1.4"/>
<circle cx="170" cy="433.6" r="1.4"/>
<circle cx="166" cy="445" r="1.4"/>
<circle cx="163.1" cy="439.6" r="1.4"/>
<circle cx="165.8" cy="439.2" r="1.4"/>
<circle cx="159.5" cy="436.9" r="1.4"/>
<circle cx="171.7" cy="444.6" r="1.4"/>
<circle cx="182.6" cy="449.3" r="1.4"/>
<circle cx="174.3" cy="443.3" r="1.4"/>
<circle cx="172.7" cy="449.7" r="1.4"/>
<circle cx="152.9" cy="444.9" r="1.4"/>
<circle cx="165.1" cy="439.9" r="1.4"/>
<circle cx="146.5" cy="440.9" r="1.4"/>
<circle cx="155.7" cy="445.6" r="1.4"/>
<circle cx="162.4" cy="444.2" r="1.4"/>
<circle cx="179.1" cy="445" r="1.4"/>
<circle cx="163.1" cy="430" r="1.4"/>
<circle cx="146.2" cy="440.5" r="1.4"/>
<circle cx="178.7" cy="445.9" r="1.4"/>
<circle cx="168.4" cy="444.3" r="1.4"/>
<circle cx="178.9" cy="446.7" r="1.4"/>
<circle cx="147.6" cy="444.4" r="1.4"/>
<circle cx="170.6" cy="438.7" r="1.4"/>
<circle cx="168.2" cy="441.3" r="1.4"/>
<circle cx="151.9" cy="450.2" r="1.4"/>
<circle cx="172.2" cy="427.8" r="1.4"/>
<circle cx="158.5" cy="446.8" r="1.4"/>
<circle cx="176.5" cy="450.8" r="1.4"/>
<circle cx="156.5" cy="448.9" r="1.4"/>
<circle cx="171.5" cy="444.7" r="1.4"/>
<circle cx="153.4" cy="450.2" r="1.4"/>
<circle cx="157.7" cy="448.8" r="1.4"/>
<circle cx="175.4" cy="441.4" r="1.4"/>
<circle cx="171.6" cy="434.6" r="1.4"/>
<circle cx="156.8" cy="440.8" r="1.4"/>
<circle cx="155.1" cy="447.2" r="1.4"/>
<circle cx="148.1" cy="444.5" r="1.4"/>
<circle cx="161.5" cy="447.8" r="1.4"/>
<circle cx="167.4" cy="447" r="1.4"/>
<circle cx="170" cy="434.3" r="1.4"/>
<circle cx="148.2" cy="430.2" r="1.4"/>
<circle cx="181.6" cy="442" r="1.4"/>
<circle cx="148.4" cy="422.9" r="1.4"/>
<circle cx="163.5" cy="444.2" r="1.4"/>
<circle cx="146.1" cy="428.1" r="1.4"/>
<circle cx="153.4" cy="429.3" r="1.4"/>
<circle cx="151.8" cy="446.5" r="1.4"/>
<circle cx="171" cy="446.3" r="1.4"/>
<circle cx="155.2" cy="448.6" r="1.4"/>
<circle cx="163.5" cy="441.4" r="1.4"/>
<circle cx="156.6" cy="448" r="1.4"/>
<circle cx="157.5" cy="432.8" r="1.4"/>
<circle cx="162.6" cy="443.2" r="1.4"/>
<circle cx="153.5" cy="443.3" r="1.4"/>
<circle cx="154.9" cy="442.8" r="1.4"/>
<circle cx="161.7" cy="439" r="1.4"/>
<circle cx="156.5" cy="451.5" r="1.4"/>
<circle cx="175.3" cy="441.8" r="1.4"/>
<circle cx="181.5" cy="435.4" r="1.4"/>
<circle cx="173.8" cy="432.8" r="1.4"/>
<circle cx="179.7" cy="445" r="1.4"/>
<circle cx="146.6" cy="443.2" r="1.4"/>
<circle cx="177" cy="444.9" r="1.4"/>
<circle cx="161.8" cy="431" r="1.4"/>
<circle cx="169" cy="444.9" r="1.4"/>
<circle cx="181.2" cy="445.6" r="1.4"/>
<circle cx="148.1" cy="447.6" r="1.4"/>
<circle cx="146.9" cy="434.2" r="1.4"/>
<circle cx="177.4" cy="439.4" r="1.4"/>
<circle cx="150.6" cy="442.8" r="1.4"/>
<circle cx="159.3" cy="426.8" r="1.4"/>
<circle cx="162.3" cy="445.2" r="1.4"/>
<circle cx="156.7" cy="444.8" r="1.4"/>
<circle cx="161.1" cy="441.2" r="1.4"/>
<circle cx="176.9" cy="427.3" r="1.4"/>
<circle cx="172.2" cy="447" r="1.4"/>
<circle cx="173.2" cy="447.6" r="1.4"/>
<circle cx="156" cy="441.7" r="1.4"/>
<circle cx="163.1" cy="431.1" r="1.4"/>
<circle cx="148.2" cy="447.8" r="1.4"/>
<circle cx="146.1" cy="450.6" r="1.4"/>
<circle cx="150.7" cy="442.4" r="1.4"/>
<circle cx="162.3" cy="450.3" r="1.4"/>
<circle cx="175.7" cy="448.6" r="1.4"/>
<circle cx="152.1" cy="441.3" r="1.4"/>
<circle cx="152.4" cy="444.4" r="1.4"/>
<circle cx="183.4" cy="447.3" r="1.4"/>
<circle cx="163.8" cy="445" r="1.4"/>
<circle cx="171.3" cy="448.5" r="1.4"/>
<circle cx="174.2" cy="430.6" r="1.4"/>
<circle cx="160.1" cy="445.6" r="1.4"/>
<circle cx="164.4" cy="436.6" r="1.4"/>
<circle cx="178.8" cy="442.5" r="1.4"/>
<circle cx="161.5" cy="448" r="1.4"/>
<circle cx="181.8" cy="443.6" r="1.4"/>
<circle cx="175.7" cy="440.7" r="1.4"/>
<circle cx="147.1" cy="432.5" r="1.4"/>
<circle cx="163.6" cy="440.8" r="1.4"/>
<circle cx="167.3" cy="434.5" r="1.4"/>
<circle cx="163.4" cy="442.6" r="1.4"/>
<circle cx="145.8" cy="443.6" r="1.4"/>
<circle cx="170.6" cy="436.1" r="1.4"/>
<circle cx="183" cy="439.5" r="1.4"/>
<circle cx="164.6" cy="442.4" r="1.4"/>
<circle cx="167.3" cy="444.5" r="1.4"/>
<circle cx="152.7" cy="445.1" r="1.4"/>
<circle cx="148.6" cy="444.4" r="1.4"/>
<circle cx="165.4" cy="440.4" r="1.4"/>
<circle cx="154.3" cy="446.1" r="1.4"/>
<circle cx="151.5" cy="437.3" r="1.4"/>
<circle cx="181.6" cy="448.2" r="1.4"/>
<circle cx="151.9" cy="451.2" r="1.4"/>
<circle cx="158.7" cy="446.7" r="1.4"/>
<circle cx="167.2" cy="439.6" r="1.4"/>
<circle cx="173.4" cy="450.5" r="1.4"/>
<circle cx="158" cy="437" r="1.4"/>
<circle cx="149.5" cy="444.2" r="1.4"/>
<circle cx="155.4" cy="442.2" r="1.4"/>
<circle cx="168.5" cy="439.5" r="1.4"/>
<circle cx="179.1" cy="446.4" r="1.4"/>
<circle cx="154.7" cy="440.5" r="1.4"/>
<circle cx="173.7" cy="445.5" r="1.4"/>
<circle cx="172" cy="444.8" r="1.4"/>
<circle cx="153.6" cy="443.2" r="1.4"/>
<circle cx="166.2" cy="450.3" r="1.4"/>
<circle cx="157.4" cy="436.5" r="1.4"/>
<circle cx="181" cy="436.8" r="1.4"/>
<circle cx="152.8" cy="434.7" r="1.4"/>
<circle cx="145.8" cy="443.8" r="1.4"/>
<circle cx="159.9" cy="444.3" r="1.4"/>
<circle cx="152.5" cy="447.4" r="1.4"/>
<circle cx="178.1" cy="444.3" r="1.4"/>
<circle cx="150.9" cy="435.4" r="1.4"/>
<circle cx="182.4" cy="443.7" r="1.4"/>
<circle cx="178.2" cy="445.1" r="1.4"/>
<circle cx="167.7" cy="449.1" r="1.4"/>
<circle cx="162.9" cy="451.1" r="1.4"/>
<circle cx="161.4" cy="444.7" r="1.4"/>
<circle cx="158.4" cy="444.4" r="1.4"/>
<circle cx="158.6" cy="434.1" r="1.4"/>
<circle cx="179.3" cy="443.5" r="1.4"/>
<circle cx="175.6" cy="451" r="1.4"/>
<circle cx="163.9" cy="449.9" r="1.4"/>
<circle cx="174.5" cy="444.9" r="1.4"/>
<circle cx="182.2" cy="432.3" r="1.4"/>
<circle cx="154.5" cy="429.9" r="1.4"/>
<circle cx="168.5" cy="444.8" r="1.4"/>
<circle cx="161.7" cy="451.7" r="1.4"/>
<circle cx="178.1" cy="443.5" r="1.4"/>
<circle cx="154.7" cy="446" r="1.4"/>
<circle cx="148.7" cy="439.5" r="1.4"/>
<circle cx="165.2" cy="430" r="1.4"/>
<circle cx="156.4" cy="439.6" r="1.4"/>
<circle cx="146.6" cy="442.2" r="1.4"/>
<circle cx="148.3" cy="452.2" r="1.4"/>
<circle cx="169.1" cy="444.3" r="1.4"/>
<circle cx="148.2" cy="445.2" r="1.4"/>
<circle cx="177.2" cy="442.9" r="1.4"/>
<circle cx="160.4" cy="449.6" r="1.4"/>
<circle cx="164.3" cy="444.6" r="1.4"/>
<circle cx="174.9" cy="452.2" r="1.4"/>
<circle cx="178.3" cy="424.6" r="1.4"/>
<circle cx="151.8" cy="448.4" r="1.4"/>
<circle cx="153.1" cy="442.4" r="1.4"/>
<circle cx="149" cy="433.9" r="1.4"/>
<circle cx="161.5" cy="450.5" r="1.4"/>
<circle cx="158.5" cy="445" r="1.4"/>
<circle cx="157.4" cy="445.6" r="1.4"/>
<circle cx="157.8" cy="440.4" r="1.4"/>
<circle cx="179.3" cy="450.4" r="1.4"/>
<circle cx="170.2" cy="439.6" r="1.4"/>
<circle cx="146.1" cy="436.7" r="1.4"/>
<circle cx="166.9" cy="440.6" r="1.4"/>
<circle cx="177.3" cy="445.9" r="1.4"/>
<circle cx="180.8" cy="446.3" r="1.4"/>
<circle cx="152.8" cy="430" r="1.4"/>
<circle cx="154.2" cy="444.8" r="1.4"/>
<circle cx="168.5" cy="447.5" r="1.4"/>
<circle cx="177.1" cy="447.4" r="1.4"/>
<circle cx="174.9" cy="446.1" r="1.4"/>
<circle cx="160.6" cy="438.5" r="1.4"/>
<circle cx="158.4" cy="446.5" r="1.4"/>
<circle cx="177.9" cy="446.1" r="1.4"/>
<circle cx="171" cy="440.6" r="1.4"/>
<circle cx="153.4" cy="445.8" r="1.4"/>
<circle cx="179.5" cy="444.3" r="1.4"/>
<circle cx="171.5" cy="440.6" r="1.4"/>
<circle cx="158" cy="441" r="1.4"/>
<circle cx="174.5" cy="445.3" r="1.4"/>
<circle cx="152.5" cy="445.2" r="1.4"/>
<circle cx="178.6" cy="445" r="1.4"/>
<circle cx="170.7" cy="440.8" r="1.4"/>
<circle cx="146.9" cy="442.8" r="1.4"/>
<circle cx="158.1" cy="431" r="1.4"/>
<circle cx="158.1" cy="439.5" r="1.4"/>
<circle cx="154.8" cy="443.3" r="1.4"/>
<circle cx="150.5" cy="450.1" r="1.4"/>
<circle cx="174.8" cy="446.5" r="1.4"/>
<circle cx="182.3" cy="439.9" r="1.4"/>
<circle cx="171" cy="443.2" r="1.4"/>
<circle cx="170.2" cy="435.1" r="1.4"/>
<circle cx="157.2" cy="445.4" r="1.4"/>
<circle cx="177" cy="450.4" r="1.4"/>
<circle cx="157.4" cy="449.9" r="1.4"/>
<circle cx="153.3" cy="441.5" r="1.4"/>
<circle cx="153" cy="436.1" r="1.4"/>
<circle cx="155.9" cy="437.2" r="1.4"/>
<circle cx="164.3" cy="438.6" r="1.4"/>
<circle cx="169.5" cy="446.2" r="1.4"/>
<circle cx="168.9" cy="444.2" r="1.4"/>
<circle cx="165.5" cy="434.1" r="1.4"/>
<circle cx="173.6" cy="438.8" r="1.4"/>
<circle cx="167.8" cy="445" r="1.4"/>
<circle cx="172.3" cy="445" r="1.4"/>
<circle cx="180.2" cy="444.2" r="1.4"/>
<circle cx="160.1" cy="450.9" r="1.4"/>
<circle cx="172.9" cy="449.2" r="1.4"/>
<circle cx="148.5" cy="447.5" r="1.4"/>
<circle cx="176.1" cy="447.9" r="1.4"/>
<circle cx="179.6" cy="443.5" r="1.4"/>
<circle cx="169.5" cy="442.8" r="1.4"/>
<circle cx="171.3" cy="449.4" r="1.4"/>
<circle cx="155.1" cy="442.5" r="1.4"/>
<circle cx="149.7" cy="444.5" r="1.4"/>
<circle cx="175.1" cy="442.8" r="1.4"/>
<circle cx="175.1" cy="445.2" r="1.4"/>
<circle cx="167" cy="446.2" r="1.4"/>
<circle cx="169.8" cy="433.5" r="1.4"/>
<circle cx="167.5" cy="433.6" r="1.4"/>
<circle cx="158.4" cy="443.8" r="1.4"/>
<circle cx="160.2" cy="443.5" r="1.4"/>
<circle cx="153.9" cy="443.5" r="1.4"/>
<circle cx="161.5" cy="450.9" r="1.4"/>
<circle cx="159" cy="433.3" r="1.4"/>
<circle cx="170.3" cy="446.4" r="1.4"/>
<circle cx="180.6" cy="440.7" r="1.4"/>
<circle cx="149" cy="438.6" r="1.4"/>
<circle cx="180.4" cy="444.4" r="1.4"/>
<circle cx="179.7" cy="440.7" r="1.4"/>
<circle cx="166.1" cy="443.8" r="1.4"/>
<circle cx="152.4" cy="450.6" r="1.4"/>
<circle cx="179.5" cy="419.8" r="1.4"/>
<circle cx="166.9" cy="440.1" r="1.4"/>
<circle cx="155.3" cy="448.9" r="1.4"/>
<circle cx="171.7" cy="442.3" r="1.4"/>
<circle cx="156.7" cy="440.7" r="1.4"/>
<circle cx="163.5" cy="444.2" r="1.4"/>
<circle cx="163" cy="442.6" r="1.4"/>
<circle cx="174.2" cy="443.6" r="1.4"/>
<circle cx="151.3" cy="446.7" r="1.4"/>
<circle cx="161.4" cy="444.7" r="1.4"/>
<circle cx="169.9" cy="446.8" r="1.4"/>
<circle cx="145.3" cy="433" r="1.4"/>
<circle cx="182.6" cy="443.8" r="1.4"/>
<circle cx="152.7" cy="441.1" r="1.4"/>
<circle cx="166.3" cy="443.2" r="1.4"/>
<circle cx="159.2" cy="441.9" r="1.4"/>
<circle cx="167.4" cy="442.7" r="1.4"/>
<circle cx="145.3" cy="445.4" r="1.4"/>
<circle cx="159.9" cy="443.9" r="1.4"/>
<circle cx="165.4" cy="452.5" r="1.4"/>
<circle cx="165.9" cy="440.2" r="1.4"/>
<circle cx="146.4" cy="450.8" r="1.4"/>
<circle cx="176" cy="429.2" r="1.4"/>
<circle cx="179.8" cy="436.2" r="1.4"/>
<circle cx="162.5" cy="445.6" r="1.4"/>
<circle cx="174.1" cy="433.8" r="1.4"/>
<circle cx="174.9" cy="441.7" r="1.4"/>
<circle cx="156.9" cy="446.3" r="1.4"/>
<circle cx="157.2" cy="443.6" r="1.4"/>
<circle cx="159.7" cy="440.2" r="1.4"/>
<circle cx="173" cy="443.3" r="1.4"/>
<circle cx="158.7" cy="425.2" r="1.4"/>
<circle cx="176.5" cy="443.7" r="1.4"/>
<circle cx="152.9" cy="444" r="1.4"/>
<circle cx="152.1" cy="446.7" r="1.4"/>
<circle cx="172.1" cy="448.6" r="1.4"/>
<circle cx="148.1" cy="432.8" r="1.4"/>
<circle cx="170.2" cy="449.8" r="1.4"/>
<circle cx="183.4" cy="444.4" r="1.4"/>
<circle cx="168.9" cy="432.5" r="1.4"/>
<circle cx="148.2" cy="413.7" r="1.4"/>
<circle cx="176.9" cy="443.4" r="1.4"/>
<circle cx="174.9" cy="447.5" r="1.4"/>
<circle cx="169.2" cy="435.9" r="1.4"/>
<circle cx="175.9" cy="444.6" r="1.4"/>
<circle cx="153.3" cy="429.3" r="1.4"/>
<circle cx="176.5" cy="444.8" r="1.4"/>
<circle cx="176.9" cy="451.1" r="1.4"/>
<circle cx="165.9" cy="445.3" r="1.4"/>
<circle cx="145.4" cy="448.6" r="1.4"/>
<circle cx="159.6" cy="445.7" r="1.4"/>
<circle cx="180.4" cy="441.4" r="1.4"/>
<circle cx="167.6" cy="445.7" r="1.4"/>
<circle cx="172.4" cy="439.1" r="1.4"/>
<circle cx="153.8" cy="430.8" r="1.4"/>
<circle cx="179.4" cy="445.1" r="1.4"/>
<circle cx="173.4" cy="440.6" r="1.4"/>
<circle cx="174.7" cy="443.1" r="1.4"/>
<circle cx="182.2" cy="444.5" r="1.4"/>
<circle cx="145.8" cy="446.2" r="1.4"/>
<circle cx="146.7" cy="436.4" r="1.4"/>
<circle cx="162" cy="445.5" r="1.4"/>
</g>
<line x1="164.4" y1="429.84" x2="164.4" y2="453.36" stroke="#222" stroke-width="0.8"/>
<rect x="147.1" y="439.5" width="34.6" height="6.72" fill="#fff" stroke="#2a2a2a" stroke-width="0.8"/>
<line x1="147.1" y1="444.12" x2="181.7" y2="444.12" stroke="#333" stroke-width="0.9"/>
<g fill="#1f5da8" stroke="#07172c" stroke-width="0.5">
<use href="#d140" x="202.6" y="446.6"/>
<use href="#d140" x="214.7" y="452.3"/>
<use href="#d140" x="218.9" y="449.6"/>
<use href="#d140" x="200.1" y="444"/>
<use href="#d140" x="197.7" y="443.5"/>
<use href="#d140" x="194.7" y="444.3"/>
<use href="#d140" x="228.4" y="445.4"/>
<use href="#d140" x="198.1" y="449.4"/>
<use href="#d140" x="193.1" y="447.4"/>
<use href="#d140" x="197.3" y="444.1"/>
<use href="#d140" x="207.1" y="431.1"/>
<use href="#d140" x="210.5" y="438.1"/>
<use href="#d140" x="202.2" y="436.3"/>
<use href="#d140" x="223.5" y="447.9"/>
<use href="#d140" x="212.3" y="448.8"/>
<use href="#d140" x="197.5" y="451.7"/>
<use href="#d140" x="207.7" y="444"/>
<use href="#d140" x="193.6" y="450"/>
<use href="#d140" x="227" y="447.6"/>
<use href="#d140" x="220.1" y="448.3"/>
<use href="#d140" x="210.2" y="448.6"/>
<use href="#d140" x="225.6" y="448.9"/>
<use href="#d140" x="198.6" y="441.3"/>
<use href="#d140" x="203.8" y="457.1"/>
<use href="#d140" x="223.5" y="449.5"/>
<use href="#d140" x="204.5" y="448.5"/>
<use href="#d140" x="213.8" y="447.2"/>
<use href="#d140" x="199.9" y="450.8"/>
<use href="#d140" x="200.5" y="445.9"/>
<use href="#d140" x="197.6" y="442.2"/>
<use href="#d140" x="195.2" y="447.9"/>
<use href="#d140" x="209.4" y="448.6"/>
<use href="#d140" x="228.3" y="446.6"/>
<use href="#d140" x="223" y="453.3"/>
<use href="#d140" x="194.9" y="440.1"/>
<use href="#d140" x="203.1" y="447.9"/>
<use href="#d140" x="226.9" y="447.4"/>
<use href="#d140" x="212.1" y="448.9"/>
<use href="#d140" x="202.7" y="448.6"/>
<use href="#d140" x="229.1" y="441"/>
<use href="#d140" x="201.8" y="438.1"/>
<use href="#d140" x="191" y="452.3"/>
<use href="#d140" x="224.5" y="452.2"/>
<use href="#d140" x="221.2" y="439.5"/>
<use href="#d140" x="227.1" y="451.9"/>
<use href="#d140" x="214.3" y="445.2"/>
<use href="#d140" x="199" y="449.4"/>
<use href="#d140" x="198.6" y="443"/>
<use href="#d140" x="215.8" y="447.8"/>
<use href="#d140" x="218.2" y="450.8"/>
<use href="#d140" x="206.2" y="445.1"/>
<use href="#d140" x="192.4" y="447.7"/>
<use href="#d140" x="220.2" y="448.4"/>
<use href="#d140" x="208.2" y="444"/>
<use href="#d140" x="204.6" y="453.1"/>
<use href="#d140" x="224.4" y="445.7"/>
<use href="#d140" x="198.3" y="453.2"/>
<use href="#d140" x="210.6" y="447.4"/>
<use href="#d140" x="196.7" y="448.9"/>
<use href="#d140" x="212.1" y="451.6"/>
<use href="#d140" x="195.7" y="438.5"/>
<use href="#d140" x="201.5" y="440.8"/>
<use href="#d140" x="205.2" y="444.6"/>
<use href="#d140" x="222.1" y="447.9"/>
<use href="#d140" x="207.7" y="454.5"/>
<use href="#d140" x="202.2" y="442.5"/>
<use href="#d140" x="209.4" y="446.6"/>
<use href="#d140" x="223.4" y="438.8"/>
<use href="#d140" x="221.9" y="450.3"/>
<use href="#d140" x="216.2" y="444.6"/>
<use href="#d140" x="194.5" y="448.9"/>
<use href="#d140" x="205.5" y="443.1"/>
<use href="#d140" x="214.6" y="448"/>
<use href="#d140" x="213.5" y="450.7"/>
<use href="#d140" x="194.9" y="448.1"/>
<use href="#d140" x="223.3" y="448.6"/>
<use href="#d140" x="191.7" y="443.9"/>
<use href="#d140" x="197.5" y="438.2"/>
<use href="#d140" x="214.2" y="453.1"/>
<use href="#d140" x="200.5" y="439.8"/>
<use href="#d140" x="206.5" y="446.3"/>
<use href="#d140" x="200.4" y="442.4"/>
<use href="#d140" x="191.9" y="452.9"/>
<use href="#d140" x="223.8" y="446.3"/>
<use href="#d140" x="213.4" y="453.3"/>
<use href="#d140" x="197.9" y="448"/>
<use href="#d140" x="224.3" y="450.6"/>
<use href="#d140" x="219.6" y="445.7"/>
<use href="#d140" x="191.1" y="448.6"/>
<use href="#d140" x="191" y="448.5"/>
<use href="#d140" x="214.9" y="443.2"/>
<use href="#d140" x="217.2" y="447.6"/>
<use href="#d140" x="193.3" y="449.3"/>
<use href="#d140" x="208.9" y="448.7"/>
<use href="#d140" x="224.6" y="444.2"/>
<use href="#d140" x="191.7" y="447.9"/>
<use href="#d140" x="206.5" y="446.5"/>
<use href="#d140" x="198" y="451.6"/>
<use href="#d140" x="219.7" y="442.1"/>
<use href="#d140" x="196.7" y="441.1"/>
<use href="#d140" x="199.3" y="444.3"/>
<use href="#d140" x="211.6" y="444.6"/>
<use href="#d140" x="229.1" y="447.9"/>
<use href="#d140" x="204.4" y="453.3"/>
<use href="#d140" x="203.8" y="437.7"/>
<use href="#d140" x="219.1" y="450.1"/>
<use href="#d140" x="210.8" y="448.9"/>
<use href="#d140" x="201.3" y="447.3"/>
<use href="#d140" x="198.8" y="442.1"/>
<use href="#d140" x="206.8" y="444.6"/>
<use href="#d140" x="222.9" y="448.1"/>
<use href="#d140" x="221.1" y="448.8"/>
<use href="#d140" x="191.3" y="451.9"/>
<use href="#d140" x="223.7" y="441.3"/>
<use href="#d140" x="213.6" y="446"/>
<use href="#d140" x="199.4" y="440.3"/>
<use href="#d140" x="212.6" y="439.3"/>
<use href="#d140" x="229" y="439.5"/>
<use href="#d140" x="191.2" y="451.4"/>
<use href="#d140" x="207.5" y="447.4"/>
<use href="#d140" x="190.9" y="448.1"/>
<use href="#d140" x="212.1" y="442.7"/>
<use href="#d140" x="222.7" y="445.8"/>
<use href="#d140" x="211.8" y="445.3"/>
<use href="#d140" x="200.8" y="453.1"/>
<use href="#d140" x="217.2" y="445.2"/>
<use href="#d140" x="211.9" y="446.2"/>
<use href="#d140" x="192" y="440.3"/>
<use href="#d140" x="226.1" y="446.1"/>
<use href="#d140" x="219.9" y="442.9"/>
<use href="#d140" x="214.4" y="450.8"/>
<use href="#d140" x="207.5" y="451.5"/>
<use href="#d140" x="221.2" y="444.1"/>
<use href="#d140" x="221.2" y="441.8"/>
<use href="#d140" x="207.4" y="439.4"/>
<use href="#d140" x="191" y="449.1"/>
<use href="#d140" x="212.9" y="443.9"/>
<use href="#d140" x="215.4" y="439.2"/>
<use href="#d140" x="207" y="451.7"/>
<use href="#d140" x="217" y="447.8"/>
<use href="#d140" x="225.5" y="436.3"/>
<use href="#d140" x="207.5" y="444.8"/>
<use href="#d140" x="213.4" y="447.6"/>
<use href="#d140" x="215.5" y="442"/>
<use href="#d140" x="191.2" y="441.3"/>
<use href="#d140" x="207.1" y="440.9"/>
<use href="#d140" x="225.6" y="445.2"/>
<use href="#d140" x="219.7" y="444.2"/>
<use href="#d140" x="216.1" y="450.7"/>
<use href="#d140" x="202.6" y="448.7"/>
<use href="#d140" x="222.9" y="447.9"/>
<use href="#d140" x="200.9" y="441.5"/>
<use href="#d140" x="223.9" y="436.5"/>
<use href="#d140" x="195" y="435.8"/>
<use href="#d140" x="190.9" y="442.7"/>
<use href="#d140" x="226" y="448.6"/>
<use href="#d140" x="221" y="448.8"/>
<use href="#d140" x="206.7" y="449.7"/>
<use href="#d140" x="216.1" y="454"/>
<use href="#d140" x="213.9" y="451.1"/>
<use href="#d140" x="221.2" y="450.9"/>
<use href="#d140" x="213" y="444.1"/>
<use href="#d140" x="207.8" y="445.6"/>
<use href="#d140" x="218.6" y="445.2"/>
<use href="#d140" x="226.7" y="451.6"/>
<use href="#d140" x="195.5" y="448.8"/>
<use href="#d140" x="216.9" y="447.4"/>
<use href="#d140" x="226.2" y="448"/>
<use href="#d140" x="225.2" y="449.6"/>
<use href="#d140" x="204.6" y="446.1"/>
<use href="#d140" x="223.8" y="442.6"/>
<use href="#d140" x="199.3" y="441.3"/>
<use href="#d140" x="216.8" y="445.7"/>
<use href="#d140" x="194" y="449"/>
<use href="#d140" x="212.9" y="446.1"/>
<use href="#d140" x="211.6" y="447.7"/>
<use href="#d140" x="220" y="448.2"/>
<use href="#d140" x="204.3" y="445.5"/>
<use href="#d140" x="212.7" y="452.8"/>
<use href="#d140" x="220" y="451.9"/>
<use href="#d140" x="214.1" y="445.9"/>
<use href="#d140" x="225" y="452.1"/>
<use href="#d140" x="209.4" y="444.4"/>
<use href="#d140" x="208.4" y="452.8"/>
<use href="#d140" x="195.4" y="450.2"/>
<use href="#d140" x="194.3" y="447.2"/>
<use href="#d140" x="194.6" y="453.2"/>
<use href="#d140" x="224.2" y="445.9"/>
<use href="#d140" x="219.8" y="449.4"/>
<use href="#d140" x="220.3" y="452.2"/>
<use href="#d140" x="225.1" y="448"/>
<use href="#d140" x="220.8" y="447.6"/>
<use href="#d140" x="228.2" y="444.2"/>
<use href="#d140" x="227.7" y="448.9"/>
<use href="#d140" x="227.3" y="444.6"/>
<use href="#d140" x="196.4" y="450"/>
<use href="#d140" x="206.6" y="449.8"/>
<use href="#d140" x="205.6" y="451.6"/>
<use href="#d140" x="216.8" y="442.9"/>
<use href="#d140" x="196.2" y="452.4"/>
<use href="#d140" x="197.7" y="436.6"/>
<use href="#d140" x="201.5" y="448"/>
<use href="#d140" x="226.5" y="451.5"/>
<use href="#d140" x="195.8" y="450.7"/>
<use href="#d140" x="202.6" y="450.3"/>
<use href="#d140" x="206.7" y="443"/>
<use href="#d140" x="217.9" y="447.9"/>
<use href="#d140" x="199" y="448"/>
<use href="#d140" x="191.7" y="441.2"/>
<use href="#d140" x="205.2" y="443.6"/>
<use href="#d140" x="200.6" y="446.9"/>
<use href="#d140" x="219.1" y="438.1"/>
<use href="#d140" x="216.7" y="454.6"/>
<use href="#d140" x="205.5" y="446.3"/>
<use href="#d140" x="202.3" y="454.2"/>
<use href="#d140" x="200.8" y="445.4"/>
<use href="#d140" x="199.9" y="448.7"/>
<use href="#d140" x="213.1" y="445.9"/>
<use href="#d140" x="194" y="445.1"/>
<use href="#d140" x="200" y="452.5"/>
<use href="#d140" x="225.5" y="448.3"/>
<use href="#d140" x="216.5" y="443.6"/>
<use href="#d140" x="206" y="453.4"/>
<use href="#d140" x="217.1" y="453.1"/>
<use href="#d140" x="213.2" y="445.1"/>
<use href="#d140" x="207.5" y="448.4"/>
<use href="#d140" x="199.4" y="449.4"/>
<use href="#d140" x="226.5" y="444.8"/>
<use href="#d140" x="218.2" y="453.9"/>
<use href="#d140" x="225.9" y="439.5"/>
<use href="#d140" x="206.2" y="447.6"/>
<use href="#d140" x="206.7" y="441.7"/>
<use href="#d140" x="220.2" y="451.2"/>
<use href="#d140" x="198.8" y="444.2"/>
<use href="#d140" x="193.8" y="450.2"/>
<use href="#d140" x="200.5" y="448.3"/>
<use href="#d140" x="212.9" y="445.5"/>
<use href="#d140" x="214.1" y="441.1"/>
<use href="#d140" x="196.8" y="444.7"/>
<use href="#d140" x="226.1" y="443.8"/>
<use href="#d140" x="215.9" y="450.1"/>
<use href="#d140" x="191.5" y="440.2"/>
<use href="#d140" x="208.3" y="438.3"/>
<use href="#d140" x="213.1" y="437.2"/>
<use href="#d140" x="198.9" y="446.8"/>
<use href="#d140" x="220.6" y="444.8"/>
<use href="#d140" x="212.9" y="439.8"/>
<use href="#d140" x="200.7" y="446"/>
<use href="#d140" x="224" y="446.8"/>
<use href="#d140" x="199.6" y="445.2"/>
<use href="#d140" x="221" y="446.6"/>
<use href="#d140" x="195.2" y="454"/>
<use href="#d140" x="191.5" y="447.3"/>
<use href="#d140" x="224.2" y="448.1"/>
<use href="#d140" x="192.9" y="439.3"/>
<use href="#d140" x="211.9" y="453"/>
<use href="#d140" x="204.8" y="444"/>
<use href="#d140" x="199.5" y="444.5"/>
<use href="#d140" x="198.2" y="444.8"/>
<use href="#d140" x="202.4" y="443"/>
<use href="#d140" x="209.9" y="449.1"/>
<use href="#d140" x="194.1" y="446.2"/>
<use href="#d140" x="197.7" y="447.4"/>
<use href="#d140" x="212.4" y="453"/>
<use href="#d140" x="192.5" y="454.2"/>
<use href="#d140" x="225" y="446.8"/>
<use href="#d140" x="215.6" y="442.3"/>
<use href="#d140" x="221.5" y="444.4"/>
<use href="#d140" x="219.5" y="447.3"/>
<use href="#d140" x="191.5" y="435.6"/>
<use href="#d140" x="204" y="444.5"/>
<use href="#d140" x="205.9" y="446.5"/>
<use href="#d140" x="200.3" y="448.3"/>
<use href="#d140" x="207.2" y="450.5"/>
<use href="#d140" x="200.5" y="436"/>
<use href="#d140" x="211" y="445.2"/>
<use href="#d140" x="193.1" y="446.7"/>
<use href="#d140" x="191.3" y="452.2"/>
<use href="#d140" x="202.8" y="445"/>
<use href="#d140" x="210.8" y="444.2"/>
<use href="#d140" x="209.1" y="446.8"/>
<use href="#d140" x="221.4" y="442.4"/>
<use href="#d140" x="198" y="436.2"/>
<use href="#d140" x="192.4" y="438.2"/>
<use href="#d140" x="223.6" y="448.2"/>
<use href="#d140" x="217.5" y="437.9"/>
<use href="#d140" x="209.8" y="435.5"/>
<use href="#d140" x="218.3" y="452.5"/>
<use href="#d140" x="198.8" y="445.4"/>
<use href="#d140" x="199.7" y="441.2"/>
<use href="#d140" x="191.1" y="454.6"/>
<use href="#d140" x="226" y="445.7"/>
<use href="#d140" x="221.5" y="445.1"/>
<use href="#d140" x="227.8" y="448.5"/>
<use href="#d140" x="198" y="448.3"/>
<use href="#d140" x="208.3" y="450.7"/>
<use href="#d140" x="197.6" y="447.9"/>
<use href="#d140" x="209.2" y="444.7"/>
<use href="#d140" x="223.3" y="439.1"/>
<use href="#d140" x="194.7" y="441.9"/>
<use href="#d140" x="211.9" y="441"/>
<use href="#d140" x="204.8" y="439.9"/>
<use href="#d140" x="225.9" y="452"/>
<use href="#d140" x="223.8" y="452.9"/>
<use href="#d140" x="211.3" y="429.8"/>
<use href="#d140" x="225.4" y="450.7"/>
<use href="#d140" x="222.8" y="448.8"/>
<use href="#d140" x="210.5" y="440.2"/>
<use href="#d140" x="215" y="449.2"/>
<use href="#d140" x="217.2" y="454.4"/>
<use href="#d140" x="227.2" y="448.3"/>
<use href="#d140" x="219.7" y="446.7"/>
<use href="#d140" x="217" y="447.9"/>
<use href="#d140" x="201.2" y="447.2"/>
<use href="#d140" x="195" y="448.7"/>
<use href="#d140" x="199.1" y="444.8"/>
<use href="#d140" x="214.9" y="444.8"/>
<use href="#d140" x="198.2" y="447.7"/>
<use href="#d140" x="226.8" y="437.1"/>
<use href="#d140" x="225.9" y="448.1"/>
<use href="#d140" x="215.3" y="440.5"/>
<use href="#d140" x="212.5" y="443.9"/>
<use href="#d140" x="198.6" y="444"/>
<use href="#d140" x="210.3" y="451.6"/>
<use href="#d140" x="214.7" y="448.1"/>
<use href="#d140" x="222.2" y="440.2"/>
<use href="#d140" x="192.4" y="450.5"/>
<use href="#d140" x="214" y="435.4"/>
<use href="#d140" x="201" y="447.9"/>
<use href="#d140" x="223.7" y="443.2"/>
<use href="#d140" x="228.2" y="447.5"/>
<use href="#d140" x="197.8" y="442.8"/>
<use href="#d140" x="228.5" y="443.7"/>
<use href="#d140" x="199.1" y="432.8"/>
</g>
<line x1="210.1" y1="436.56" x2="210.1" y2="455.88" stroke="#222" stroke-width="0.8"/>
<rect x="192.5" y="443.91" width="35.2" height="5.08" fill="#fff" stroke="#2a2a2a" stroke-width="0.8"/>
<line x1="192.5" y1="446.64" x2="227.7" y2="446.64" stroke="#333" stroke-width="0.9"/>
<g fill="#e6241f" stroke="#2a0404" stroke-width="0.42">
<circle cx="272" cy="450.9" r="1.4"/>
<circle cx="285.8" cy="443.7" r="1.4"/>
<circle cx="272.6" cy="453.3" r="1.4"/>
<circle cx="284.4" cy="451.8" r="1.4"/>
<circle cx="283.7" cy="445.9" r="1.4"/>
<circle cx="275.7" cy="448.5" r="1.4"/>
<circle cx="253.3" cy="445.8" r="1.4"/>
<circle cx="268.1" cy="450" r="1.4"/>
<circle cx="256.7" cy="447.4" r="1.4"/>
<circle cx="267.8" cy="446.2" r="1.4"/>
<circle cx="258.2" cy="444.8" r="1.4"/>
<circle cx="267.1" cy="444.7" r="1.4"/>
<circle cx="288.1" cy="448.1" r="1.4"/>
<circle cx="280" cy="436" r="1.4"/>
<circle cx="283.2" cy="447.5" r="1.4"/>
<circle cx="288.7" cy="445.7" r="1.4"/>
<circle cx="252.4" cy="450.7" r="1.4"/>
<circle cx="277.4" cy="437" r="1.4"/>
<circle cx="269.7" cy="444.7" r="1.4"/>
<circle cx="285.9" cy="450.7" r="1.4"/>
<circle cx="263.7" cy="437.7" r="1.4"/>
<circle cx="270.3" cy="446.3" r="1.4"/>
<circle cx="265.4" cy="452.3" r="1.4"/>
<circle cx="285.1" cy="448.5" r="1.4"/>
<circle cx="285.8" cy="446.8" r="1.4"/>
<circle cx="278.4" cy="440.9" r="1.4"/>
<circle cx="277.8" cy="447" r="1.4"/>
<circle cx="276.7" cy="443.8" r="1.4"/>
<circle cx="251.7" cy="447.3" r="1.4"/>
<circle cx="255.4" cy="445.6" r="1.4"/>
<circle cx="274.2" cy="449.3" r="1.4"/>
<circle cx="260.3" cy="446.4" r="1.4"/>
<circle cx="255.8" cy="448.2" r="1.4"/>
<circle cx="273.6" cy="446" r="1.4"/>
<circle cx="265.2" cy="444.3" r="1.4"/>
<circle cx="282.3" cy="438.7" r="1.4"/>
<circle cx="253" cy="445.5" r="1.4"/>
<circle cx="252.4" cy="448.2" r="1.4"/>
<circle cx="264.3" cy="442.9" r="1.4"/>
<circle cx="281.1" cy="441.6" r="1.4"/>
<circle cx="260.6" cy="448.6" r="1.4"/>
<circle cx="276.3" cy="450.1" r="1.4"/>
<circle cx="286.9" cy="445.4" r="1.4"/>
<circle cx="274.7" cy="451.7" r="1.4"/>
<circle cx="274.8" cy="439.8" r="1.4"/>
<circle cx="272.9" cy="444.6" r="1.4"/>
<circle cx="256.9" cy="446.1" r="1.4"/>
<circle cx="255.4" cy="432.8" r="1.4"/>
<circle cx="284.7" cy="446.7" r="1.4"/>
<circle cx="252.5" cy="444.7" r="1.4"/>
<circle cx="281.5" cy="447.1" r="1.4"/>
<circle cx="255.1" cy="442.7" r="1.4"/>
<circle cx="253.2" cy="446.4" r="1.4"/>
<circle cx="272.5" cy="445.1" r="1.4"/>
<circle cx="252.5" cy="445.8" r="1.4"/>
<circle cx="271.2" cy="437.9" r="1.4"/>
<circle cx="281.1" cy="439.6" r="1.4"/>
<circle cx="259.6" cy="446.2" r="1.4"/>
<circle cx="279.9" cy="444.5" r="1.4"/>
<circle cx="271.8" cy="448.2" r="1.4"/>
<circle cx="276.1" cy="449.8" r="1.4"/>
<circle cx="285.8" cy="436.8" r="1.4"/>
<circle cx="252.2" cy="447.7" r="1.4"/>
<circle cx="275.4" cy="446.8" r="1.4"/>
<circle cx="270.1" cy="449.1" r="1.4"/>
<circle cx="280.6" cy="445.7" r="1.4"/>
<circle cx="279" cy="449" r="1.4"/>
<circle cx="265.5" cy="439" r="1.4"/>
<circle cx="250.2" cy="440.3" r="1.4"/>
<circle cx="271.6" cy="440.4" r="1.4"/>
<circle cx="280.6" cy="450.8" r="1.4"/>
<circle cx="282.5" cy="445.7" r="1.4"/>
<circle cx="275" cy="445.9" r="1.4"/>
<circle cx="275.5" cy="447.6" r="1.4"/>
<circle cx="258.3" cy="446.9" r="1.4"/>
<circle cx="251.3" cy="447.1" r="1.4"/>
<circle cx="265.1" cy="448.6" r="1.4"/>
<circle cx="273.9" cy="427.3" r="1.4"/>
<circle cx="288.4" cy="450" r="1.4"/>
<circle cx="277.7" cy="449.5" r="1.4"/>
<circle cx="278" cy="445.1" r="1.4"/>
<circle cx="286.4" cy="447.6" r="1.4"/>
<circle cx="277.4" cy="448.4" r="1.4"/>
<circle cx="267.4" cy="443.6" r="1.4"/>
<circle cx="267.1" cy="446.9" r="1.4"/>
<circle cx="261.8" cy="446.7" r="1.4"/>
<circle cx="277.2" cy="443.3" r="1.4"/>
<circle cx="251.9" cy="444.4" r="1.4"/>
<circle cx="251.3" cy="445" r="1.4"/>
<circle cx="253.6" cy="442.5" r="1.4"/>
<circle cx="261.3" cy="436.1" r="1.4"/>
<circle cx="280.4" cy="446" r="1.4"/>
<circle cx="282.9" cy="451.8" r="1.4"/>
<circle cx="271.7" cy="442.4" r="1.4"/>
<circle cx="266.9" cy="444.3" r="1.4"/>
<circle cx="265.5" cy="448.3" r="1.4"/>
<circle cx="287.4" cy="446.3" r="1.4"/>
<circle cx="263.4" cy="446.6" r="1.4"/>
<circle cx="285.5" cy="450.1" r="1.4"/>
<circle cx="255.9" cy="444.9" r="1.4"/>
<circle cx="281.8" cy="444.5" r="1.4"/>
<circle cx="259.1" cy="448.8" r="1.4"/>
<circle cx="251.8" cy="447.5" r="1.4"/>
<circle cx="280.3" cy="445.8" r="1.4"/>
<circle cx="259.7" cy="446.8" r="1.4"/>
<circle cx="277.9" cy="446.1" r="1.4"/>
<circle cx="281.6" cy="451.5" r="1.4"/>
<circle cx="281.6" cy="447.4" r="1.4"/>
<circle cx="261.9" cy="445.2" r="1.4"/>
<circle cx="273.2" cy="440.3" r="1.4"/>
<circle cx="259" cy="448.3" r="1.4"/>
<circle cx="272.4" cy="451.3" r="1.4"/>
<circle cx="285" cy="443.5" r="1.4"/>
<circle cx="275.3" cy="446.6" r="1.4"/>
<circle cx="273.1" cy="449" r="1.4"/>
<circle cx="272.3" cy="451.8" r="1.4"/>
<circle cx="271.3" cy="445.1" r="1.4"/>
<circle cx="283.3" cy="445.4" r="1.4"/>
<circle cx="250.7" cy="445.6" r="1.4"/>
<circle cx="250.4" cy="436.4" r="1.4"/>
<circle cx="261" cy="449.8" r="1.4"/>
<circle cx="280.4" cy="452.2" r="1.4"/>
<circle cx="282.6" cy="439.7" r="1.4"/>
<circle cx="279.7" cy="451.3" r="1.4"/>
<circle cx="275.6" cy="448.3" r="1.4"/>
<circle cx="263.9" cy="445.7" r="1.4"/>
<circle cx="257.9" cy="445.2" r="1.4"/>
<circle cx="256.7" cy="441.3" r="1.4"/>
<circle cx="264.7" cy="449" r="1.4"/>
<circle cx="285.5" cy="450.3" r="1.4"/>
<circle cx="270.5" cy="443.7" r="1.4"/>
<circle cx="279.9" cy="447.4" r="1.4"/>
<circle cx="282.7" cy="446" r="1.4"/>
<circle cx="260.9" cy="446.4" r="1.4"/>
<circle cx="250.3" cy="443.9" r="1.4"/>
<circle cx="250" cy="443.4" r="1.4"/>
<circle cx="284.5" cy="442.4" r="1.4"/>
<circle cx="287" cy="440.4" r="1.4"/>
<circle cx="266.2" cy="447.9" r="1.4"/>
<circle cx="273.3" cy="439.2" r="1.4"/>
<circle cx="266.2" cy="447.6" r="1.4"/>
<circle cx="262.9" cy="445.3" r="1.4"/>
<circle cx="274.1" cy="445.1" r="1.4"/>
<circle cx="271.6" cy="444.6" r="1.4"/>
<circle cx="287.9" cy="444.4" r="1.4"/>
<circle cx="282" cy="448.2" r="1.4"/>
<circle cx="285.4" cy="447.4" r="1.4"/>
<circle cx="269.6" cy="452.8" r="1.4"/>
<circle cx="260.1" cy="446.7" r="1.4"/>
<circle cx="257.6" cy="451" r="1.4"/>
<circle cx="276.4" cy="449.9" r="1.4"/>
<circle cx="255.8" cy="447.8" r="1.4"/>
<circle cx="266.9" cy="444.7" r="1.4"/>
<circle cx="283.5" cy="440.3" r="1.4"/>
<circle cx="255.7" cy="447.7" r="1.4"/>
<circle cx="273.1" cy="438.1" r="1.4"/>
<circle cx="286.6" cy="438" r="1.4"/>
<circle cx="272.2" cy="446.7" r="1.4"/>
<circle cx="251.2" cy="450.7" r="1.4"/>
<circle cx="253.9" cy="443" r="1.4"/>
<circle cx="265.1" cy="445.8" r="1.4"/>
<circle cx="253.4" cy="447.8" r="1.4"/>
<circle cx="283.3" cy="447.6" r="1.4"/>
<circle cx="274.9" cy="450.2" r="1.4"/>
<circle cx="261.6" cy="450.8" r="1.4"/>
<circle cx="272.6" cy="446.1" r="1.4"/>
<circle cx="286.4" cy="449.7" r="1.4"/>
<circle cx="267.3" cy="451.8" r="1.4"/>
<circle cx="273.7" cy="445.1" r="1.4"/>
<circle cx="283.3" cy="439.6" r="1.4"/>
<circle cx="256.9" cy="448.7" r="1.4"/>
<circle cx="282.8" cy="448.5" r="1.4"/>
<circle cx="264.9" cy="450.8" r="1.4"/>
<circle cx="261.8" cy="448.5" r="1.4"/>
<circle cx="257.7" cy="446.4" r="1.4"/>
<circle cx="278" cy="449.3" r="1.4"/>
<circle cx="258.1" cy="451.1" r="1.4"/>
<circle cx="280.1" cy="452.8" r="1.4"/>
<circle cx="284.2" cy="449.6" r="1.4"/>
<circle cx="250.2" cy="438.9" r="1.4"/>
<circle cx="250.9" cy="447.1" r="1.4"/>
<circle cx="260.4" cy="451.4" r="1.4"/>
<circle cx="250.2" cy="448.6" r="1.4"/>
<circle cx="283.8" cy="439.2" r="1.4"/>
<circle cx="255.5" cy="442.6" r="1.4"/>
<circle cx="256.7" cy="442.2" r="1.4"/>
<circle cx="288.1" cy="436.1" r="1.4"/>
<circle cx="261.6" cy="445.2" r="1.4"/>
<circle cx="263.8" cy="442" r="1.4"/>
<circle cx="287.1" cy="445.6" r="1.4"/>
<circle cx="269.4" cy="440.2" r="1.4"/>
<circle cx="263.3" cy="443.5" r="1.4"/>
<circle cx="265.1" cy="424.8" r="1.4"/>
<circle cx="282.7" cy="452.1" r="1.4"/>
<circle cx="255.9" cy="444.2" r="1.4"/>
<circle cx="283.8" cy="445.9" r="1.4"/>
<circle cx="278.3" cy="442" r="1.4"/>
<circle cx="258" cy="453.3" r="1.4"/>
<circle cx="272.3" cy="448.8" r="1.4"/>
<circle cx="265" cy="448.3" r="1.4"/>
<circle cx="281.7" cy="442.1" r="1.4"/>
<circle cx="252.7" cy="452.7" r="1.4"/>
<circle cx="268.8" cy="438.2" r="1.4"/>
<circle cx="281.4" cy="446.3" r="1.4"/>
<circle cx="273.8" cy="439.8" r="1.4"/>
<circle cx="251.2" cy="444.8" r="1.4"/>
<circle cx="272.7" cy="444.5" r="1.4"/>
<circle cx="270.2" cy="448.4" r="1.4"/>
<circle cx="257.1" cy="447" r="1.4"/>
<circle cx="280.8" cy="447.4" r="1.4"/>
<circle cx="251" cy="445.7" r="1.4"/>
<circle cx="283.7" cy="438" r="1.4"/>
<circle cx="270.3" cy="452.9" r="1.4"/>
<circle cx="275.4" cy="448.4" r="1.4"/>
<circle cx="288.1" cy="437" r="1.4"/>
<circle cx="259.3" cy="444.5" r="1.4"/>
<circle cx="285.3" cy="444" r="1.4"/>
<circle cx="272" cy="445.9" r="1.4"/>
<circle cx="287.9" cy="448.8" r="1.4"/>
<circle cx="261.9" cy="440.1" r="1.4"/>
<circle cx="288.1" cy="445.2" r="1.4"/>
<circle cx="280.4" cy="447.9" r="1.4"/>
<circle cx="257.7" cy="445.9" r="1.4"/>
<circle cx="254.5" cy="447.9" r="1.4"/>
<circle cx="272.9" cy="440" r="1.4"/>
<circle cx="277.5" cy="449.2" r="1.4"/>
<circle cx="251" cy="442.2" r="1.4"/>
<circle cx="276.8" cy="446.2" r="1.4"/>
<circle cx="274.9" cy="432.4" r="1.4"/>
<circle cx="256.1" cy="446.9" r="1.4"/>
<circle cx="264.2" cy="440" r="1.4"/>
<circle cx="256.7" cy="454.8" r="1.4"/>
<circle cx="287" cy="436.6" r="1.4"/>
<circle cx="276.9" cy="435.3" r="1.4"/>
<circle cx="275" cy="445.1" r="1.4"/>
<circle cx="265.5" cy="448.1" r="1.4"/>
<circle cx="288.5" cy="445" r="1.4"/>
<circle cx="287.7" cy="444.6" r="1.4"/>
<circle cx="271.5" cy="443.7" r="1.4"/>
<circle cx="276.9" cy="445" r="1.4"/>
<circle cx="263.1" cy="448.3" r="1.4"/>
<circle cx="250.1" cy="447.3" r="1.4"/>
<circle cx="264.8" cy="442.6" r="1.4"/>
<circle cx="252.4" cy="444" r="1.4"/>
<circle cx="267.3" cy="445.6" r="1.4"/>
<circle cx="254.2" cy="452" r="1.4"/>
<circle cx="259.9" cy="444.6" r="1.4"/>
<circle cx="273.8" cy="447.4" r="1.4"/>
<circle cx="266.7" cy="447.3" r="1.4"/>
<circle cx="266.6" cy="447.6" r="1.4"/>
<circle cx="287" cy="456.7" r="1.4"/>
<circle cx="257" cy="440.9" r="1.4"/>
<circle cx="250.6" cy="443.9" r="1.4"/>
<circle cx="255.3" cy="447.3" r="1.4"/>
<circle cx="265.7" cy="446.6" r="1.4"/>
<circle cx="253.4" cy="446.3" r="1.4"/>
<circle cx="279.6" cy="443.1" r="1.4"/>
<circle cx="270.9" cy="447.7" r="1.4"/>
<circle cx="257.1" cy="449.6" r="1.4"/>
<circle cx="273.8" cy="446.9" r="1.4"/>
<circle cx="267.8" cy="445.9" r="1.4"/>
<circle cx="275.8" cy="439.3" r="1.4"/>
<circle cx="255.7" cy="451" r="1.4"/>
<circle cx="281" cy="441.5" r="1.4"/>
<circle cx="271.6" cy="451.3" r="1.4"/>
<circle cx="273.7" cy="437.6" r="1.4"/>
<circle cx="269" cy="451.2" r="1.4"/>
<circle cx="279.8" cy="444.9" r="1.4"/>
<circle cx="281.9" cy="445" r="1.4"/>
<circle cx="254.7" cy="447.8" r="1.4"/>
<circle cx="283.5" cy="446.1" r="1.4"/>
<circle cx="281" cy="446.9" r="1.4"/>
<circle cx="275" cy="450.3" r="1.4"/>
<circle cx="259.3" cy="450.2" r="1.4"/>
<circle cx="288.6" cy="448.4" r="1.4"/>
<circle cx="253.6" cy="450.1" r="1.4"/>
<circle cx="276.6" cy="447" r="1.4"/>
<circle cx="269.3" cy="448.3" r="1.4"/>
<circle cx="283.5" cy="450.3" r="1.4"/>
<circle cx="251.7" cy="431.5" r="1.4"/>
<circle cx="257.6" cy="446.4" r="1.4"/>
<circle cx="252" cy="446.8" r="1.4"/>
<circle cx="279.9" cy="446.1" r="1.4"/>
<circle cx="270.6" cy="446.1" r="1.4"/>
<circle cx="275.5" cy="448.9" r="1.4"/>
<circle cx="280.4" cy="449.3" r="1.4"/>
<circle cx="279.8" cy="442.1" r="1.4"/>
<circle cx="263" cy="450.9" r="1.4"/>
<circle cx="255.8" cy="447.1" r="1.4"/>
<circle cx="263.1" cy="443.6" r="1.4"/>
<circle cx="275.6" cy="451.8" r="1.4"/>
<circle cx="253.1" cy="446.1" r="1.4"/>
<circle cx="259" cy="445" r="1.4"/>
<circle cx="278.8" cy="440.3" r="1.4"/>
<circle cx="279.5" cy="447" r="1.4"/>
<circle cx="266.7" cy="445.8" r="1.4"/>
<circle cx="266.6" cy="449.1" r="1.4"/>
<circle cx="278.9" cy="447.2" r="1.4"/>
<circle cx="274" cy="446.3" r="1.4"/>
</g>
<line x1="269.4" y1="438.24" x2="269.4" y2="453.36" stroke="#222" stroke-width="0.8"/>
<rect x="252.2" y="444.41" width="34.4" height="4.2" fill="#fff" stroke="#2a2a2a" stroke-width="0.8"/>
<rect x="252.6" y="444.81" width="33.6" height="3.4" fill="#c4c4c4"/>
<line x1="252.2" y1="446.64" x2="286.6" y2="446.64" stroke="#e8e8e8" stroke-width="0.9"/>
<g fill="#1f5da8" stroke="#07172c" stroke-width="0.5">
<use href="#d140" x="324.2" y="440"/>
<use href="#d140" x="319.8" y="442.5"/>
<use href="#d140" x="315.7" y="443"/>
<use href="#d140" x="311.7" y="439.4"/>
<use href="#d140" x="305.4" y="450.3"/>
<use href="#d140" x="322.6" y="450"/>
<use href="#d140" x="295.4" y="441.8"/>
<use href="#d140" x="308.1" y="439.5"/>
<use href="#d140" x="297" y="451"/>
<use href="#d140" x="317.5" y="449.9"/>
<use href="#d140" x="308.1" y="437.5"/>
<use href="#d140" x="309.1" y="438.2"/>
<use href="#d140" x="304.8" y="450.1"/>
<use href="#d140" x="295.5" y="439.4"/>
<use href="#d140" x="298.4" y="449.6"/>
<use href="#d140" x="327.4" y="442.8"/>
<use href="#d140" x="333.7" y="444.9"/>
<use href="#d140" x="320.5" y="445.2"/>
<use href="#d140" x="317.2" y="442.2"/>
<use href="#d140" x="322.8" y="442.7"/>
<use href="#d140" x="297.2" y="439.3"/>
<use href="#d140" x="307.2" y="436.5"/>
<use href="#d140" x="328.3" y="444.9"/>
<use href="#d140" x="330.3" y="446.5"/>
<use href="#d140" x="301.3" y="442.8"/>
<use href="#d140" x="297.4" y="439.4"/>
<use href="#d140" x="298.7" y="448.6"/>
<use href="#d140" x="295.5" y="445"/>
<use href="#d140" x="311" y="442.9"/>
<use href="#d140" x="307.5" y="441.8"/>
<use href="#d140" x="323.7" y="438.4"/>
<use href="#d140" x="306.9" y="437.8"/>
<use href="#d140" x="333.3" y="445.6"/>
<use href="#d140" x="329.3" y="452.6"/>
<use href="#d140" x="332.2" y="442.6"/>
<use href="#d140" x="329.9" y="447"/>
<use href="#d140" x="311.9" y="444.9"/>
<use href="#d140" x="295.4" y="442.3"/>
<use href="#d140" x="306.4" y="450.1"/>
<use href="#d140" x="307.9" y="442.4"/>
<use href="#d140" x="295.3" y="442.1"/>
<use href="#d140" x="326.9" y="442.8"/>
<use href="#d140" x="317.7" y="441.6"/>
<use href="#d140" x="298.9" y="451.5"/>
<use href="#d140" x="319.9" y="450.4"/>
<use href="#d140" x="300.7" y="443"/>
<use href="#d140" x="300" y="442.7"/>
<use href="#d140" x="325.4" y="450.7"/>
<use href="#d140" x="303.3" y="437.2"/>
<use href="#d140" x="316" y="450"/>
<use href="#d140" x="297.9" y="442.1"/>
<use href="#d140" x="316.1" y="443.4"/>
<use href="#d140" x="303" y="437.5"/>
<use href="#d140" x="301" y="443.6"/>
<use href="#d140" x="317" y="436"/>
<use href="#d140" x="303" y="452.1"/>
<use href="#d140" x="305.7" y="445"/>
<use href="#d140" x="295.5" y="441.3"/>
<use href="#d140" x="302" y="443.2"/>
<use href="#d140" x="311.3" y="439.6"/>
<use href="#d140" x="297.5" y="446.7"/>
<use href="#d140" x="333" y="449.4"/>
<use href="#d140" x="308.4" y="443.2"/>
<use href="#d140" x="327.4" y="441"/>
<use href="#d140" x="321.4" y="451.1"/>
<use href="#d140" x="331.6" y="437.9"/>
<use href="#d140" x="305.9" y="445.3"/>
<use href="#d140" x="309.1" y="451.1"/>
<use href="#d140" x="331.4" y="448.9"/>
<use href="#d140" x="319.5" y="439.1"/>
<use href="#d140" x="322" y="445"/>
<use href="#d140" x="296" y="441.7"/>
<use href="#d140" x="318.9" y="440.8"/>
<use href="#d140" x="303" y="450.5"/>
<use href="#d140" x="332.8" y="447.6"/>
<use href="#d140" x="302.9" y="438.4"/>
<use href="#d140" x="310.4" y="450"/>
<use href="#d140" x="318.4" y="445.7"/>
<use href="#d140" x="298.5" y="444.8"/>
<use href="#d140" x="323.9" y="451.3"/>
<use href="#d140" x="321.9" y="445.8"/>
<use href="#d140" x="301.5" y="448.3"/>
<use href="#d140" x="298" y="440.2"/>
<use href="#d140" x="310.2" y="452.6"/>
<use href="#d140" x="326.9" y="448.2"/>
<use href="#d140" x="312.6" y="442.2"/>
<use href="#d140" x="313.6" y="446.5"/>
<use href="#d140" x="303" y="450.2"/>
<use href="#d140" x="313.6" y="436.5"/>
<use href="#d140" x="307.2" y="449.4"/>
<use href="#d140" x="333.1" y="437.6"/>
<use href="#d140" x="307.6" y="450.6"/>
<use href="#d140" x="314.6" y="452"/>
<use href="#d140" x="296" y="444.3"/>
<use href="#d140" x="311.1" y="443.5"/>
<use href="#d140" x="300.5" y="443.6"/>
<use href="#d140" x="319.9" y="448.4"/>
<use href="#d140" x="305.1" y="438.9"/>
<use href="#d140" x="308.8" y="445.3"/>
<use href="#d140" x="299.7" y="445"/>
<use href="#d140" x="306.8" y="443.6"/>
<use href="#d140" x="304.4" y="445.2"/>
<use href="#d140" x="302.9" y="455"/>
<use href="#d140" x="313.8" y="451.1"/>
<use href="#d140" x="320.9" y="450"/>
<use href="#d140" x="309" y="442.7"/>
<use href="#d140" x="297.4" y="436.6"/>
<use href="#d140" x="323.4" y="441.9"/>
<use href="#d140" x="333.8" y="450.7"/>
<use href="#d140" x="313.3" y="443.8"/>
<use href="#d140" x="315.3" y="449.2"/>
<use href="#d140" x="319.1" y="441.6"/>
<use href="#d140" x="333.1" y="438"/>
<use href="#d140" x="312.6" y="452.1"/>
<use href="#d140" x="302.7" y="446"/>
<use href="#d140" x="318.1" y="450"/>
<use href="#d140" x="311.7" y="442.3"/>
<use href="#d140" x="330.7" y="450.4"/>
<use href="#d140" x="302.4" y="441.9"/>
<use href="#d140" x="327.1" y="451.8"/>
<use href="#d140" x="327.9" y="442.7"/>
<use href="#d140" x="315" y="443.8"/>
<use href="#d140" x="300.8" y="451"/>
<use href="#d140" x="303.8" y="438.3"/>
<use href="#d140" x="332.9" y="445.3"/>
<use href="#d140" x="303.3" y="438.4"/>
<use href="#d140" x="306" y="450.7"/>
<use href="#d140" x="298.6" y="445.2"/>
<use href="#d140" x="309.7" y="447.7"/>
<use href="#d140" x="304.9" y="443.4"/>
<use href="#d140" x="316" y="440.2"/>
<use href="#d140" x="298.7" y="450.9"/>
<use href="#d140" x="296.1" y="443.6"/>
<use href="#d140" x="315.7" y="444.2"/>
<use href="#d140" x="328.4" y="442.1"/>
<use href="#d140" x="297.2" y="448.7"/>
<use href="#d140" x="299.8" y="451.4"/>
<use href="#d140" x="304.2" y="444"/>
<use href="#d140" x="302.4" y="451.6"/>
<use href="#d140" x="311.1" y="436.7"/>
<use href="#d140" x="303.7" y="450.8"/>
<use href="#d140" x="323.4" y="453.3"/>
<use href="#d140" x="325.7" y="445.7"/>
<use href="#d140" x="302.1" y="447.8"/>
<use href="#d140" x="327.3" y="446.3"/>
<use href="#d140" x="317" y="436.7"/>
<use href="#d140" x="330.5" y="451.6"/>
<use href="#d140" x="298.7" y="441.6"/>
<use href="#d140" x="314.8" y="441.9"/>
<use href="#d140" x="322.4" y="441.6"/>
<use href="#d140" x="328.4" y="445.7"/>
<use href="#d140" x="310.1" y="442.3"/>
<use href="#d140" x="311.8" y="442.8"/>
<use href="#d140" x="306.6" y="442.8"/>
<use href="#d140" x="298.2" y="443.3"/>
<use href="#d140" x="302" y="447.6"/>
<use href="#d140" x="297.7" y="451.7"/>
<use href="#d140" x="323.3" y="439.4"/>
<use href="#d140" x="325.7" y="449.9"/>
<use href="#d140" x="324.2" y="451.3"/>
<use href="#d140" x="301.5" y="442.2"/>
<use href="#d140" x="310.6" y="446.3"/>
<use href="#d140" x="319" y="444.8"/>
<use href="#d140" x="298.7" y="443.8"/>
<use href="#d140" x="315.4" y="444.2"/>
<use href="#d140" x="308.3" y="437.8"/>
<use href="#d140" x="296.2" y="450.1"/>
<use href="#d140" x="297.8" y="451.7"/>
<use href="#d140" x="300.3" y="448.5"/>
<use href="#d140" x="327.4" y="439.3"/>
<use href="#d140" x="308.5" y="445.6"/>
<use href="#d140" x="321" y="436.2"/>
<use href="#d140" x="325.8" y="444.8"/>
<use href="#d140" x="323.7" y="445.7"/>
<use href="#d140" x="318.6" y="441.7"/>
<use href="#d140" x="311.8" y="442.9"/>
<use href="#d140" x="324.9" y="445.5"/>
<use href="#d140" x="313.8" y="433.6"/>
<use href="#d140" x="309.7" y="438.7"/>
<use href="#d140" x="306.7" y="436.9"/>
<use href="#d140" x="303" y="443.5"/>
<use href="#d140" x="320.3" y="446.1"/>
<use href="#d140" x="333.9" y="438.5"/>
<use href="#d140" x="319" y="438.5"/>
<use href="#d140" x="310.9" y="445.6"/>
<use href="#d140" x="300.7" y="441.2"/>
<use href="#d140" x="311.4" y="443.5"/>
<use href="#d140" x="300.1" y="438.2"/>
<use href="#d140" x="307.7" y="444.7"/>
<use href="#d140" x="315.9" y="448"/>
<use href="#d140" x="310.8" y="450.6"/>
<use href="#d140" x="297.4" y="451.6"/>
<use href="#d140" x="297.5" y="443.3"/>
<use href="#d140" x="296.3" y="439.5"/>
<use href="#d140" x="320" y="448.8"/>
<use href="#d140" x="299.2" y="451.3"/>
<use href="#d140" x="310.5" y="442.8"/>
<use href="#d140" x="305.6" y="448.9"/>
<use href="#d140" x="309.2" y="443.5"/>
<use href="#d140" x="317.3" y="446.9"/>
<use href="#d140" x="318.4" y="448.8"/>
<use href="#d140" x="299.2" y="441.6"/>
<use href="#d140" x="318.9" y="442.6"/>
<use href="#d140" x="299.4" y="441.8"/>
<use href="#d140" x="313.8" y="443.7"/>
<use href="#d140" x="304.9" y="435.8"/>
<use href="#d140" x="320" y="441.8"/>
<use href="#d140" x="297.1" y="441.7"/>
<use href="#d140" x="305.5" y="447.8"/>
<use href="#d140" x="321.5" y="443.5"/>
<use href="#d140" x="297.9" y="451.8"/>
<use href="#d140" x="300.3" y="437.6"/>
<use href="#d140" x="313.8" y="450.5"/>
<use href="#d140" x="314.9" y="451.8"/>
<use href="#d140" x="329.9" y="447.1"/>
<use href="#d140" x="325.8" y="450"/>
<use href="#d140" x="329.7" y="441.4"/>
<use href="#d140" x="314.1" y="450"/>
<use href="#d140" x="300.9" y="443.4"/>
<use href="#d140" x="312.5" y="437.8"/>
<use href="#d140" x="326.3" y="449.3"/>
<use href="#d140" x="329.2" y="445.2"/>
<use href="#d140" x="333.4" y="443.3"/>
<use href="#d140" x="301" y="437.7"/>
<use href="#d140" x="331.8" y="441.8"/>
<use href="#d140" x="327.1" y="451.1"/>
<use href="#d140" x="321.7" y="444.1"/>
<use href="#d140" x="322.6" y="442.9"/>
<use href="#d140" x="295.7" y="440.7"/>
<use href="#d140" x="323.6" y="446"/>
<use href="#d140" x="297.3" y="447.9"/>
<use href="#d140" x="298.5" y="450.9"/>
<use href="#d140" x="313.3" y="441.8"/>
<use href="#d140" x="295.6" y="435.3"/>
<use href="#d140" x="331.7" y="441.5"/>
<use href="#d140" x="319.6" y="442.9"/>
<use href="#d140" x="321.2" y="437.9"/>
<use href="#d140" x="295.7" y="441.7"/>
<use href="#d140" x="328.1" y="439"/>
<use href="#d140" x="300.4" y="444.4"/>
<use href="#d140" x="314.4" y="446.2"/>
<use href="#d140" x="326.7" y="443"/>
<use href="#d140" x="308.6" y="441.3"/>
<use href="#d140" x="321.8" y="442.2"/>
<use href="#d140" x="333.9" y="443"/>
<use href="#d140" x="329.8" y="447.5"/>
<use href="#d140" x="305.9" y="442.1"/>
<use href="#d140" x="308.4" y="449.2"/>
<use href="#d140" x="302.5" y="448.3"/>
<use href="#d140" x="325.6" y="450.1"/>
<use href="#d140" x="308.3" y="451.8"/>
<use href="#d140" x="302.4" y="449.9"/>
<use href="#d140" x="324" y="447.7"/>
<use href="#d140" x="330.7" y="447"/>
<use href="#d140" x="307.5" y="441.9"/>
<use href="#d140" x="326.4" y="447.9"/>
<use href="#d140" x="302" y="448.3"/>
<use href="#d140" x="327.8" y="448.5"/>
<use href="#d140" x="304.6" y="451.4"/>
<use href="#d140" x="303.8" y="447.5"/>
<use href="#d140" x="333.6" y="446.9"/>
<use href="#d140" x="297.4" y="442.4"/>
<use href="#d140" x="315.7" y="443.2"/>
<use href="#d140" x="313.2" y="449.1"/>
<use href="#d140" x="296.9" y="449.6"/>
<use href="#d140" x="332.6" y="450.5"/>
<use href="#d140" x="300.6" y="440.3"/>
<use href="#d140" x="326.5" y="438"/>
<use href="#d140" x="326.2" y="441.9"/>
<use href="#d140" x="322.5" y="442.8"/>
<use href="#d140" x="313.4" y="441.7"/>
<use href="#d140" x="301.8" y="450.8"/>
<use href="#d140" x="328.9" y="440.1"/>
<use href="#d140" x="315.7" y="444.2"/>
<use href="#d140" x="307.5" y="450.5"/>
<use href="#d140" x="327.4" y="452"/>
<use href="#d140" x="296.3" y="447.6"/>
<use href="#d140" x="300.4" y="437.6"/>
<use href="#d140" x="329.7" y="438.9"/>
<use href="#d140" x="322.5" y="439.7"/>
<use href="#d140" x="330.1" y="447.5"/>
<use href="#d140" x="317.2" y="453.2"/>
<use href="#d140" x="327.3" y="450.5"/>
<use href="#d140" x="311.4" y="442.6"/>
<use href="#d140" x="319.3" y="443.5"/>
<use href="#d140" x="333.9" y="442"/>
<use href="#d140" x="324.4" y="448.6"/>
<use href="#d140" x="326.4" y="444.3"/>
<use href="#d140" x="329.6" y="439.6"/>
<use href="#d140" x="311.1" y="451.5"/>
<use href="#d140" x="310.1" y="451.3"/>
<use href="#d140" x="319.3" y="442.6"/>
</g>
<line x1="314.7" y1="434.04" x2="314.7" y2="454.2" stroke="#222" stroke-width="0.8"/>
<rect x="297.7" y="441.6" width="34" height="7.01" fill="#fff" stroke="#2a2a2a" stroke-width="0.8"/>
<line x1="297.7" y1="443.7" x2="331.7" y2="443.7" stroke="#333" stroke-width="0.9"/>
<text x="359.2" y="347.2" font-size="14.3" fill="#111" color="#111" text-anchor="start">F</text>
<text transform="translate(368.4,421.4) rotate(-90)" font-size="9.2" fill="#222" text-anchor="middle">AUC</text>
<line x1="388.8" y1="359.5" x2="388.8" y2="483.2" stroke="#8a8a8a" stroke-width="0.8"/>
<line x1="387" y1="483.2" x2="388.8" y2="483.2" stroke="#8a8a8a" stroke-width="0.8"/>
<text x="384.6" y="485.89" font-size="7.8" fill="#555" color="#555" text-anchor="end" style="stroke-width:0.06px">0</text>
<line x1="387" y1="471.95" x2="388.8" y2="471.95" stroke="#8a8a8a" stroke-width="0.8"/>
<text x="384.6" y="474.65" font-size="7.8" fill="#555" color="#555" text-anchor="end" style="stroke-width:0.06px">25</text>
<line x1="387" y1="460.71" x2="388.8" y2="460.71" stroke="#8a8a8a" stroke-width="0.8"/>
<text x="384.6" y="463.4" font-size="7.8" fill="#555" color="#555" text-anchor="end" style="stroke-width:0.06px">50</text>
<line x1="387" y1="449.46" x2="388.8" y2="449.46" stroke="#8a8a8a" stroke-width="0.8"/>
<text x="384.6" y="452.15" font-size="7.8" fill="#555" color="#555" text-anchor="end" style="stroke-width:0.06px">75</text>
<line x1="387" y1="438.22" x2="388.8" y2="438.22" stroke="#8a8a8a" stroke-width="0.8"/>
<text x="384.6" y="440.91" font-size="7.8" fill="#555" color="#555" text-anchor="end" style="stroke-width:0.06px">100</text>
<line x1="387" y1="426.97" x2="388.8" y2="426.97" stroke="#8a8a8a" stroke-width="0.8"/>
<text x="384.6" y="429.66" font-size="7.8" fill="#555" color="#555" text-anchor="end" style="stroke-width:0.06px">125</text>
<line x1="387" y1="415.73" x2="388.8" y2="415.73" stroke="#8a8a8a" stroke-width="0.8"/>
<text x="384.6" y="418.42" font-size="7.8" fill="#555" color="#555" text-anchor="end" style="stroke-width:0.06px">150</text>
<line x1="387" y1="404.48" x2="388.8" y2="404.48" stroke="#8a8a8a" stroke-width="0.8"/>
<text x="384.6" y="407.17" font-size="7.8" fill="#555" color="#555" text-anchor="end" style="stroke-width:0.06px">175</text>
<line x1="387" y1="393.24" x2="388.8" y2="393.24" stroke="#8a8a8a" stroke-width="0.8"/>
<text x="384.6" y="395.93" font-size="7.8" fill="#555" color="#555" text-anchor="end" style="stroke-width:0.06px">200</text>
<line x1="387" y1="381.99" x2="388.8" y2="381.99" stroke="#8a8a8a" stroke-width="0.8"/>
<text x="384.6" y="384.68" font-size="7.8" fill="#555" color="#555" text-anchor="end" style="stroke-width:0.06px">225</text>
<line x1="387" y1="370.75" x2="388.8" y2="370.75" stroke="#8a8a8a" stroke-width="0.8"/>
<text x="384.6" y="373.44" font-size="7.8" fill="#555" color="#555" text-anchor="end" style="stroke-width:0.06px">250</text>
<line x1="387" y1="359.5" x2="388.8" y2="359.5" stroke="#8a8a8a" stroke-width="0.8"/>
<text x="384.6" y="362.19" font-size="7.8" fill="#555" color="#555" text-anchor="end" style="stroke-width:0.06px">275</text>
<line x1="388.8" y1="483.2" x2="564.5" y2="483.2" stroke="#8a8a8a" stroke-width="0.8"/>
<line x1="436.4" y1="483.2" x2="436.4" y2="485.1" stroke="#8a8a8a" stroke-width="0.8"/>
<text x="437.2" y="493.4" font-size="7.8" fill="#444" color="#444" text-anchor="middle" style="stroke-width:0.06px">Healthy</text>
<line x1="519.8" y1="483.2" x2="519.8" y2="485.1" stroke="#8a8a8a" stroke-width="0.8"/>
<text x="520.6" y="493.4" font-size="7.8" fill="#444" color="#444" text-anchor="middle" style="stroke-width:0.06px">Bipolar</text>
<g stroke="#555" stroke-width="0.6" fill="none">
<path d="M435.2,360.7V365.3"/>
<path d="M435.2,360.7H520.5V365.3"/>
</g>
<path d="M520.5,360.7V365.3" stroke="#555" stroke-width="0.6"/>
<text x="478" y="356.8" font-size="7.4" fill="#333" color="#333" text-anchor="middle">n.s</text>
<g fill="#e6241f" stroke="#2a0404" stroke-width="0.42">
<circle cx="438.5" cy="443" r="1.25"/>
<circle cx="449.2" cy="442.3" r="1.25"/>
<circle cx="432.3" cy="439.9" r="1.25"/>
<circle cx="445.1" cy="421" r="1.25"/>
<circle cx="435.6" cy="377.9" r="1.25"/>
<circle cx="440.5" cy="419.2" r="1.25"/>
<circle cx="420.9" cy="443.3" r="1.25"/>
<circle cx="445.4" cy="437.4" r="1.25"/>
<circle cx="441.5" cy="422.9" r="1.25"/>
<circle cx="420.5" cy="446" r="1.25"/>
<circle cx="417.5" cy="443.8" r="1.25"/>
<circle cx="435" cy="435.5" r="1.25"/>
<circle cx="417.8" cy="440.4" r="1.25"/>
<circle cx="431.2" cy="449.2" r="1.25"/>
<circle cx="420.3" cy="445.8" r="1.25"/>
<circle cx="446.4" cy="447" r="1.25"/>
<circle cx="429.3" cy="427.7" r="1.25"/>
<circle cx="413.8" cy="433" r="1.25"/>
<circle cx="420" cy="443.8" r="1.25"/>
<circle cx="459.9" cy="437.8" r="1.25"/>
<circle cx="460" cy="449.8" r="1.25"/>
<circle cx="453.5" cy="427.6" r="1.25"/>
<circle cx="460.3" cy="446.9" r="1.25"/>
<circle cx="449.4" cy="434.9" r="1.25"/>
<circle cx="457.4" cy="439.1" r="1.25"/>
<circle cx="448.3" cy="444" r="1.25"/>
<circle cx="412.8" cy="444.1" r="1.25"/>
<circle cx="443.8" cy="436.1" r="1.25"/>
<circle cx="455.4" cy="434.7" r="1.25"/>
<circle cx="443" cy="443" r="1.25"/>
<circle cx="412.8" cy="436.6" r="1.25"/>
<circle cx="430.2" cy="429.9" r="1.25"/>
<circle cx="447.3" cy="437" r="1.25"/>
<circle cx="419.9" cy="443.7" r="1.25"/>
<circle cx="419.6" cy="439.4" r="1.25"/>
<circle cx="419.9" cy="442.2" r="1.25"/>
<circle cx="412.6" cy="442.2" r="1.25"/>
<circle cx="426.6" cy="450.1" r="1.25"/>
<circle cx="438.9" cy="449.3" r="1.25"/>
<circle cx="430.4" cy="445.6" r="1.25"/>
<circle cx="442.2" cy="445.5" r="1.25"/>
<circle cx="419.7" cy="442.2" r="1.25"/>
<circle cx="457.2" cy="441.3" r="1.25"/>
<circle cx="417.7" cy="440.1" r="1.25"/>
<circle cx="436.6" cy="438" r="1.25"/>
<circle cx="430.3" cy="438.5" r="1.25"/>
<circle cx="439.3" cy="437.2" r="1.25"/>
<circle cx="440.8" cy="432.2" r="1.25"/>
<circle cx="459.9" cy="402.5" r="1.25"/>
<circle cx="418.3" cy="444.3" r="1.25"/>
<circle cx="449.7" cy="446.2" r="1.25"/>
<circle cx="416.1" cy="443.2" r="1.25"/>
<circle cx="434" cy="423.6" r="1.25"/>
<circle cx="452.4" cy="437.5" r="1.25"/>
<circle cx="457.4" cy="445.7" r="1.25"/>
<circle cx="436.3" cy="443.1" r="1.25"/>
<circle cx="423.5" cy="448.9" r="1.25"/>
<circle cx="412.6" cy="436.2" r="1.25"/>
<circle cx="423.6" cy="432.7" r="1.25"/>
<circle cx="428.9" cy="443.5" r="1.25"/>
<circle cx="453.9" cy="442.2" r="1.25"/>
<circle cx="412.1" cy="444" r="1.25"/>
<circle cx="422.1" cy="435.5" r="1.25"/>
<circle cx="453.6" cy="437.9" r="1.25"/>
<circle cx="440.5" cy="408.6" r="1.25"/>
<circle cx="460.3" cy="441.3" r="1.25"/>
<circle cx="440" cy="439.1" r="1.25"/>
<circle cx="455" cy="442.4" r="1.25"/>
<circle cx="458.2" cy="441.5" r="1.25"/>
<circle cx="450.6" cy="445" r="1.25"/>
<circle cx="419.9" cy="444" r="1.25"/>
<circle cx="437.5" cy="446.6" r="1.25"/>
<circle cx="452.8" cy="435.4" r="1.25"/>
<circle cx="446" cy="436.9" r="1.25"/>
<circle cx="418.4" cy="435.3" r="1.25"/>
<circle cx="444.6" cy="436.3" r="1.25"/>
<circle cx="442.3" cy="427" r="1.25"/>
<circle cx="419.3" cy="449.4" r="1.25"/>
<circle cx="421.6" cy="436.2" r="1.25"/>
<circle cx="462.3" cy="441.2" r="1.25"/>
<circle cx="449" cy="438.2" r="1.25"/>
<circle cx="449.7" cy="455" r="1.25"/>
<circle cx="435.6" cy="446.7" r="1.25"/>
<circle cx="458.2" cy="439.6" r="1.25"/>
<circle cx="453.1" cy="427.9" r="1.25"/>
<circle cx="455.7" cy="449" r="1.25"/>
<circle cx="453.2" cy="438.9" r="1.25"/>
<circle cx="447.2" cy="442.9" r="1.25"/>
<circle cx="419.4" cy="448.7" r="1.25"/>
<circle cx="434.1" cy="444.1" r="1.25"/>
<circle cx="440.3" cy="439.8" r="1.25"/>
<circle cx="451" cy="445.2" r="1.25"/>
<circle cx="456.6" cy="442.8" r="1.25"/>
<circle cx="443.3" cy="440.1" r="1.25"/>
<circle cx="427.4" cy="435.3" r="1.25"/>
<circle cx="454.5" cy="437" r="1.25"/>
<circle cx="455" cy="447.8" r="1.25"/>
<circle cx="414.9" cy="434.4" r="1.25"/>
<circle cx="425.3" cy="435" r="1.25"/>
<circle cx="436.8" cy="437.7" r="1.25"/>
<circle cx="423.3" cy="442.2" r="1.25"/>
<circle cx="430.3" cy="441.6" r="1.25"/>
<circle cx="435.2" cy="436.1" r="1.25"/>
<circle cx="437.9" cy="447.3" r="1.25"/>
<circle cx="417.9" cy="445.7" r="1.25"/>
<circle cx="436.6" cy="418.6" r="1.25"/>
<circle cx="435" cy="446.1" r="1.25"/>
<circle cx="456.9" cy="426.4" r="1.25"/>
<circle cx="418.6" cy="443.1" r="1.25"/>
<circle cx="452.8" cy="426.6" r="1.25"/>
<circle cx="440.2" cy="439.6" r="1.25"/>
<circle cx="429.9" cy="448.8" r="1.25"/>
<circle cx="457.3" cy="434.6" r="1.25"/>
<circle cx="436.3" cy="442.7" r="1.25"/>
<circle cx="417.4" cy="440.8" r="1.25"/>
<circle cx="416.2" cy="425.6" r="1.25"/>
<circle cx="460" cy="445.6" r="1.25"/>
<circle cx="419" cy="437.6" r="1.25"/>
<circle cx="446" cy="442.2" r="1.25"/>
<circle cx="415.3" cy="445.3" r="1.25"/>
<circle cx="443.6" cy="432.1" r="1.25"/>
<circle cx="455.8" cy="392.3" r="1.25"/>
<circle cx="433.7" cy="442.9" r="1.25"/>
<circle cx="456.1" cy="428.5" r="1.25"/>
<circle cx="434.4" cy="445.1" r="1.25"/>
<circle cx="457" cy="444.1" r="1.25"/>
<circle cx="425.5" cy="438.1" r="1.25"/>
<circle cx="450" cy="448.8" r="1.25"/>
<circle cx="449.8" cy="430.9" r="1.25"/>
<circle cx="456.1" cy="443.4" r="1.25"/>
<circle cx="422.1" cy="450.5" r="1.25"/>
<circle cx="453.6" cy="447.5" r="1.25"/>
<circle cx="428.3" cy="438" r="1.25"/>
<circle cx="424.4" cy="451.5" r="1.25"/>
<circle cx="416.7" cy="439.5" r="1.25"/>
<circle cx="424.5" cy="429.2" r="1.25"/>
<circle cx="420.8" cy="442.1" r="1.25"/>
<circle cx="461.9" cy="433.9" r="1.25"/>
<circle cx="454.4" cy="440.6" r="1.25"/>
<circle cx="419.2" cy="437.4" r="1.25"/>
<circle cx="414" cy="448.7" r="1.25"/>
<circle cx="452.8" cy="442.2" r="1.25"/>
<circle cx="449.3" cy="438.2" r="1.25"/>
<circle cx="452.4" cy="448.9" r="1.25"/>
<circle cx="432.3" cy="443.7" r="1.25"/>
<circle cx="447.2" cy="433.1" r="1.25"/>
<circle cx="456.6" cy="443.1" r="1.25"/>
<circle cx="425.6" cy="425.7" r="1.25"/>
<circle cx="455.8" cy="447.4" r="1.25"/>
<circle cx="458.2" cy="446.6" r="1.25"/>
<circle cx="448.2" cy="443.5" r="1.25"/>
<circle cx="423.3" cy="458.9" r="1.25"/>
<circle cx="460.8" cy="448.8" r="1.25"/>
<circle cx="459.4" cy="444.9" r="1.25"/>
<circle cx="421.6" cy="434.7" r="1.25"/>
<circle cx="414.2" cy="435.3" r="1.25"/>
<circle cx="445" cy="428.8" r="1.25"/>
<circle cx="444.9" cy="442.9" r="1.25"/>
<circle cx="447.8" cy="446.9" r="1.25"/>
<circle cx="419.8" cy="385.6" r="1.25"/>
<circle cx="418.9" cy="443.2" r="1.25"/>
<circle cx="456.2" cy="444.4" r="1.25"/>
<circle cx="435.6" cy="370.3" r="1.25"/>
<circle cx="414.7" cy="449" r="1.25"/>
<circle cx="442.3" cy="436.5" r="1.25"/>
<circle cx="442.4" cy="437.5" r="1.25"/>
<circle cx="446.4" cy="445.5" r="1.25"/>
<circle cx="411" cy="430.5" r="1.25"/>
<circle cx="444.9" cy="446.1" r="1.25"/>
<circle cx="418.2" cy="439.3" r="1.25"/>
<circle cx="443.8" cy="445.7" r="1.25"/>
<circle cx="440.2" cy="443.8" r="1.25"/>
<circle cx="433.7" cy="438.9" r="1.25"/>
<circle cx="416.2" cy="432.6" r="1.25"/>
<circle cx="429" cy="415.5" r="1.25"/>
<circle cx="430.3" cy="442.4" r="1.25"/>
<circle cx="432.2" cy="434.4" r="1.25"/>
<circle cx="413.4" cy="438.8" r="1.25"/>
<circle cx="445.8" cy="436.2" r="1.25"/>
<circle cx="411.7" cy="439.4" r="1.25"/>
<circle cx="426.8" cy="437.8" r="1.25"/>
<circle cx="459.6" cy="439.7" r="1.25"/>
<circle cx="428" cy="429" r="1.25"/>
<circle cx="449" cy="444.8" r="1.25"/>
<circle cx="459.8" cy="447.9" r="1.25"/>
<circle cx="414.7" cy="381.2" r="1.25"/>
<circle cx="443.2" cy="432.9" r="1.25"/>
<circle cx="416.9" cy="437.9" r="1.25"/>
<circle cx="418" cy="449.1" r="1.25"/>
<circle cx="458" cy="436.3" r="1.25"/>
<circle cx="432.9" cy="437.3" r="1.25"/>
<circle cx="424.4" cy="414.7" r="1.25"/>
<circle cx="414.4" cy="448.1" r="1.25"/>
<circle cx="452.8" cy="444.1" r="1.25"/>
<circle cx="434.9" cy="443.1" r="1.25"/>
<circle cx="453.5" cy="407.8" r="1.25"/>
<circle cx="434.5" cy="439.9" r="1.25"/>
<circle cx="450.4" cy="446.8" r="1.25"/>
<circle cx="451.2" cy="446" r="1.25"/>
<circle cx="447.3" cy="430.5" r="1.25"/>
<circle cx="426.1" cy="447.8" r="1.25"/>
<circle cx="449.9" cy="440.5" r="1.25"/>
<circle cx="457" cy="438.6" r="1.25"/>
<circle cx="427.5" cy="438" r="1.25"/>
<circle cx="458.5" cy="409.1" r="1.25"/>
<circle cx="418.7" cy="436.7" r="1.25"/>
<circle cx="410.8" cy="436.3" r="1.25"/>
<circle cx="450.3" cy="443.5" r="1.25"/>
<circle cx="444.2" cy="443.5" r="1.25"/>
<circle cx="457.2" cy="448.9" r="1.25"/>
<circle cx="445.1" cy="442.5" r="1.25"/>
<circle cx="440.7" cy="431.1" r="1.25"/>
<circle cx="425.8" cy="446" r="1.25"/>
<circle cx="429.3" cy="446" r="1.25"/>
<circle cx="415.2" cy="439.9" r="1.25"/>
<circle cx="453.9" cy="440.6" r="1.25"/>
<circle cx="416.5" cy="446.8" r="1.25"/>
<circle cx="450.7" cy="443.7" r="1.25"/>
<circle cx="444.6" cy="440.9" r="1.25"/>
<circle cx="461.7" cy="444.7" r="1.25"/>
<circle cx="426" cy="439.1" r="1.25"/>
<circle cx="452.6" cy="431.6" r="1.25"/>
<circle cx="425.4" cy="442.7" r="1.25"/>
<circle cx="431.4" cy="444" r="1.25"/>
<circle cx="446.4" cy="439.9" r="1.25"/>
<circle cx="413.2" cy="446.8" r="1.25"/>
<circle cx="453" cy="425.6" r="1.25"/>
<circle cx="457.3" cy="442.7" r="1.25"/>
<circle cx="433.3" cy="440.3" r="1.25"/>
<circle cx="444.3" cy="445.1" r="1.25"/>
<circle cx="452.9" cy="434.6" r="1.25"/>
<circle cx="421" cy="447.1" r="1.25"/>
<circle cx="426.3" cy="446.3" r="1.25"/>
<circle cx="413.4" cy="441.6" r="1.25"/>
<circle cx="459.7" cy="436.2" r="1.25"/>
<circle cx="456.1" cy="448.9" r="1.25"/>
<circle cx="457.2" cy="431" r="1.25"/>
<circle cx="462.4" cy="448.1" r="1.25"/>
<circle cx="433" cy="442.4" r="1.25"/>
<circle cx="443.7" cy="435.4" r="1.25"/>
<circle cx="444.9" cy="442.1" r="1.25"/>
<circle cx="442.8" cy="396.8" r="1.25"/>
<circle cx="444.2" cy="436.4" r="1.25"/>
<circle cx="460.7" cy="444.8" r="1.25"/>
<circle cx="450.9" cy="418.9" r="1.25"/>
<circle cx="450.9" cy="444.3" r="1.25"/>
<circle cx="443.4" cy="442.7" r="1.25"/>
<circle cx="411.8" cy="442.9" r="1.25"/>
<circle cx="433.4" cy="438.8" r="1.25"/>
<circle cx="448.5" cy="435.8" r="1.25"/>
<circle cx="413.3" cy="449" r="1.25"/>
<circle cx="438.2" cy="443.2" r="1.25"/>
<circle cx="411.6" cy="434.9" r="1.25"/>
<circle cx="438.1" cy="441.6" r="1.25"/>
<circle cx="438.3" cy="442.3" r="1.25"/>
<circle cx="437" cy="443.1" r="1.25"/>
<circle cx="438.1" cy="429.1" r="1.25"/>
<circle cx="447.3" cy="435.4" r="1.25"/>
<circle cx="445.4" cy="436.1" r="1.25"/>
<circle cx="440.2" cy="436.5" r="1.25"/>
<circle cx="451.2" cy="436.3" r="1.25"/>
<circle cx="426.7" cy="450.4" r="1.25"/>
<circle cx="438.7" cy="430.6" r="1.25"/>
<circle cx="415.1" cy="445.2" r="1.25"/>
</g>
<line x1="436.2" y1="425.62" x2="436.2" y2="455.31" stroke="#222" stroke-width="0.8"/>
<rect x="417.6" y="437.32" width="37.2" height="8.1" fill="#fff" stroke="#2a2a2a" stroke-width="0.8"/>
<line x1="417.6" y1="442.49" x2="454.8" y2="442.49" stroke="#333" stroke-width="0.9"/>
<g fill="#1f5da8" stroke="#07172c" stroke-width="0.5">
<use href="#d125" x="543.6" y="430.1"/>
<use href="#d125" x="536.1" y="425.6"/>
<use href="#d125" x="520.8" y="442.1"/>
<use href="#d125" x="495.7" y="439.6"/>
<use href="#d125" x="514.5" y="447.7"/>
<use href="#d125" x="530.1" y="444"/>
<use href="#d125" x="509" y="434.7"/>
<use href="#d125" x="526.7" y="437.4"/>
<use href="#d125" x="513.3" y="404.5"/>
<use href="#d125" x="529.3" y="435.7"/>
<use href="#d125" x="539.6" y="440"/>
<use href="#d125" x="530.3" y="447.9"/>
<use href="#d125" x="515" y="450.7"/>
<use href="#d125" x="506.5" y="440.9"/>
<use href="#d125" x="532.4" y="438.1"/>
<use href="#d125" x="545" y="437.2"/>
<use href="#d125" x="518" y="438.4"/>
<use href="#d125" x="519" y="435.2"/>
<use href="#d125" x="507.5" y="429.1"/>
<use href="#d125" x="497.2" y="376.1"/>
<use href="#d125" x="523.5" y="424.6"/>
<use href="#d125" x="508.2" y="442.9"/>
<use href="#d125" x="535.2" y="434.6"/>
<use href="#d125" x="543.4" y="443.7"/>
<use href="#d125" x="529" y="442.6"/>
<use href="#d125" x="522.2" y="429.9"/>
<use href="#d125" x="517.5" y="441.4"/>
<use href="#d125" x="495.3" y="447.2"/>
<use href="#d125" x="505.3" y="439.3"/>
<use href="#d125" x="545" y="444"/>
<use href="#d125" x="518.1" y="438.6"/>
<use href="#d125" x="542.6" y="399.1"/>
<use href="#d125" x="515.8" y="444.9"/>
<use href="#d125" x="511.7" y="443.7"/>
<use href="#d125" x="537.5" y="405.5"/>
<use href="#d125" x="522" y="442.9"/>
<use href="#d125" x="530.5" y="429.1"/>
<use href="#d125" x="530.7" y="426.8"/>
<use href="#d125" x="519.6" y="423.2"/>
<use href="#d125" x="526.2" y="438.7"/>
<use href="#d125" x="543.7" y="442.8"/>
<use href="#d125" x="496" y="451.1"/>
<use href="#d125" x="541.8" y="449.1"/>
<use href="#d125" x="507.2" y="436.8"/>
<use href="#d125" x="509.7" y="438.1"/>
<use href="#d125" x="533" y="432.5"/>
<use href="#d125" x="543.7" y="436.6"/>
<use href="#d125" x="507" y="442.5"/>
<use href="#d125" x="524.4" y="440.7"/>
<use href="#d125" x="512.3" y="438.1"/>
<use href="#d125" x="513.4" y="444.3"/>
<use href="#d125" x="519.3" y="429.7"/>
<use href="#d125" x="508.9" y="443.1"/>
<use href="#d125" x="499" y="447.8"/>
<use href="#d125" x="535" y="447.5"/>
<use href="#d125" x="527.5" y="432.3"/>
<use href="#d125" x="543.9" y="442.5"/>
<use href="#d125" x="507.9" y="438.9"/>
<use href="#d125" x="499.8" y="435.1"/>
<use href="#d125" x="535.1" y="445.6"/>
<use href="#d125" x="532" y="438"/>
<use href="#d125" x="531.1" y="430"/>
<use href="#d125" x="529.5" y="429.9"/>
<use href="#d125" x="508.7" y="431.2"/>
<use href="#d125" x="524.5" y="427.5"/>
<use href="#d125" x="508.8" y="447.5"/>
<use href="#d125" x="501.4" y="441.3"/>
<use href="#d125" x="500.6" y="444.7"/>
<use href="#d125" x="512.4" y="437.4"/>
<use href="#d125" x="522.4" y="444"/>
<use href="#d125" x="505.2" y="449.2"/>
<use href="#d125" x="529.2" y="437.6"/>
<use href="#d125" x="493.9" y="450.3"/>
<use href="#d125" x="545.4" y="438.1"/>
<use href="#d125" x="544.2" y="444.9"/>
<use href="#d125" x="528.6" y="439.9"/>
<use href="#d125" x="540.9" y="429.6"/>
<use href="#d125" x="500.9" y="436.1"/>
<use href="#d125" x="499.5" y="442.4"/>
<use href="#d125" x="533.4" y="448.8"/>
<use href="#d125" x="527.3" y="437.5"/>
<use href="#d125" x="508.5" y="436.2"/>
<use href="#d125" x="511.1" y="446.9"/>
<use href="#d125" x="532.6" y="447"/>
<use href="#d125" x="497.3" y="434.1"/>
<use href="#d125" x="510" y="439.2"/>
<use href="#d125" x="498.7" y="440.7"/>
<use href="#d125" x="534.4" y="437.7"/>
<use href="#d125" x="528" y="447"/>
<use href="#d125" x="515.9" y="442.1"/>
<use href="#d125" x="543.2" y="421.3"/>
<use href="#d125" x="518.6" y="444"/>
<use href="#d125" x="544.2" y="436.1"/>
<use href="#d125" x="517.8" y="441"/>
<use href="#d125" x="507.3" y="438.7"/>
<use href="#d125" x="526.4" y="428.7"/>
<use href="#d125" x="534.9" y="436.6"/>
<use href="#d125" x="515.6" y="424.1"/>
<use href="#d125" x="510.6" y="448.6"/>
<use href="#d125" x="515.9" y="441.2"/>
<use href="#d125" x="502.1" y="436.2"/>
<use href="#d125" x="537.1" y="439.3"/>
<use href="#d125" x="542.4" y="436.5"/>
<use href="#d125" x="503.9" y="441.1"/>
<use href="#d125" x="545.2" y="448.2"/>
<use href="#d125" x="519.4" y="441.6"/>
<use href="#d125" x="539.8" y="437.1"/>
<use href="#d125" x="528" y="441.2"/>
<use href="#d125" x="522" y="437.6"/>
<use href="#d125" x="506.3" y="441.6"/>
<use href="#d125" x="533.3" y="445.3"/>
<use href="#d125" x="521.6" y="442.3"/>
<use href="#d125" x="506.5" y="446.2"/>
<use href="#d125" x="500.1" y="430.4"/>
<use href="#d125" x="534.9" y="438.7"/>
<use href="#d125" x="516.2" y="450.1"/>
<use href="#d125" x="505.5" y="431.7"/>
<use href="#d125" x="507.6" y="453.5"/>
<use href="#d125" x="495.7" y="420.2"/>
<use href="#d125" x="524.5" y="413.4"/>
<use href="#d125" x="495.2" y="445.2"/>
<use href="#d125" x="511.8" y="439.1"/>
<use href="#d125" x="493.9" y="435.7"/>
<use href="#d125" x="536.7" y="441.9"/>
<use href="#d125" x="519.2" y="441"/>
<use href="#d125" x="508.8" y="440.3"/>
<use href="#d125" x="494.8" y="443.5"/>
<use href="#d125" x="501.1" y="440.3"/>
<use href="#d125" x="508.7" y="448.4"/>
<use href="#d125" x="522.8" y="442.6"/>
<use href="#d125" x="503.2" y="442.2"/>
<use href="#d125" x="507.5" y="447.9"/>
<use href="#d125" x="536.2" y="442.1"/>
<use href="#d125" x="532.5" y="438.5"/>
<use href="#d125" x="520.2" y="407.1"/>
<use href="#d125" x="505.7" y="439.6"/>
<use href="#d125" x="501.4" y="448.3"/>
<use href="#d125" x="536.7" y="439.9"/>
<use href="#d125" x="493.8" y="424.4"/>
<use href="#d125" x="500.8" y="439.5"/>
<use href="#d125" x="500.9" y="447.5"/>
<use href="#d125" x="522.9" y="433.1"/>
<use href="#d125" x="514.5" y="438.8"/>
<use href="#d125" x="520.7" y="446.6"/>
<use href="#d125" x="506.9" y="437.9"/>
<use href="#d125" x="521.2" y="446.8"/>
<use href="#d125" x="530.7" y="425.4"/>
<use href="#d125" x="502.9" y="435.4"/>
<use href="#d125" x="531.7" y="435.6"/>
<use href="#d125" x="528.7" y="440.7"/>
<use href="#d125" x="497.2" y="431.8"/>
<use href="#d125" x="498.9" y="442.9"/>
<use href="#d125" x="544.6" y="434"/>
<use href="#d125" x="541.9" y="434.1"/>
<use href="#d125" x="540.3" y="436.6"/>
<use href="#d125" x="509.8" y="432.7"/>
<use href="#d125" x="500" y="396.5"/>
<use href="#d125" x="533.7" y="444.5"/>
<use href="#d125" x="527.2" y="432.9"/>
<use href="#d125" x="512.2" y="436.9"/>
<use href="#d125" x="498.3" y="442.9"/>
<use href="#d125" x="509.8" y="438.1"/>
<use href="#d125" x="520.1" y="440.3"/>
<use href="#d125" x="532.7" y="447.4"/>
<use href="#d125" x="542.7" y="437.5"/>
<use href="#d125" x="519" y="450.3"/>
<use href="#d125" x="528.5" y="446.5"/>
<use href="#d125" x="496.4" y="460"/>
<use href="#d125" x="520.8" y="433.3"/>
<use href="#d125" x="510.3" y="427.5"/>
<use href="#d125" x="501.2" y="445.8"/>
<use href="#d125" x="504.6" y="442"/>
<use href="#d125" x="505.5" y="439.8"/>
<use href="#d125" x="525.7" y="442.2"/>
<use href="#d125" x="503.6" y="433.7"/>
<use href="#d125" x="507.2" y="431.5"/>
<use href="#d125" x="497.7" y="439.9"/>
<use href="#d125" x="540.7" y="447.6"/>
<use href="#d125" x="502.7" y="440.7"/>
<use href="#d125" x="545.3" y="441.9"/>
<use href="#d125" x="508.5" y="429.9"/>
<use href="#d125" x="497.2" y="439.8"/>
<use href="#d125" x="500" y="454.3"/>
<use href="#d125" x="536.6" y="435.3"/>
<use href="#d125" x="505.4" y="441.9"/>
<use href="#d125" x="527.4" y="429.5"/>
<use href="#d125" x="543.1" y="441.1"/>
<use href="#d125" x="516.5" y="436.7"/>
<use href="#d125" x="531" y="427.1"/>
<use href="#d125" x="536.7" y="448.1"/>
<use href="#d125" x="496.6" y="449.5"/>
<use href="#d125" x="500" y="418.3"/>
<use href="#d125" x="544.9" y="427.1"/>
<use href="#d125" x="524.5" y="433.1"/>
<use href="#d125" x="531.8" y="437.6"/>
<use href="#d125" x="520.8" y="442.7"/>
<use href="#d125" x="504.3" y="440.3"/>
<use href="#d125" x="505.2" y="421.8"/>
<use href="#d125" x="499.3" y="443.7"/>
<use href="#d125" x="528.8" y="439.3"/>
<use href="#d125" x="529.6" y="429.5"/>
<use href="#d125" x="537.8" y="432.6"/>
<use href="#d125" x="493.7" y="435.1"/>
<use href="#d125" x="494.1" y="435.9"/>
<use href="#d125" x="525.2" y="439.7"/>
<use href="#d125" x="520.3" y="429.8"/>
<use href="#d125" x="504.6" y="444.2"/>
<use href="#d125" x="541.2" y="436.2"/>
<use href="#d125" x="534.9" y="441.2"/>
<use href="#d125" x="544.8" y="437.1"/>
<use href="#d125" x="503" y="431"/>
<use href="#d125" x="534.9" y="440.6"/>
<use href="#d125" x="543.1" y="445.5"/>
<use href="#d125" x="506.1" y="431.1"/>
<use href="#d125" x="518.3" y="446.4"/>
<use href="#d125" x="522.1" y="446.4"/>
<use href="#d125" x="518" y="442.3"/>
<use href="#d125" x="543.2" y="437.3"/>
<use href="#d125" x="513.6" y="425.5"/>
<use href="#d125" x="528.9" y="443.1"/>
<use href="#d125" x="514.3" y="438.4"/>
<use href="#d125" x="529.6" y="402.2"/>
<use href="#d125" x="512.7" y="443.9"/>
<use href="#d125" x="536" y="419"/>
<use href="#d125" x="512.7" y="428.4"/>
<use href="#d125" x="542.3" y="439.6"/>
<use href="#d125" x="514.4" y="440.5"/>
<use href="#d125" x="542.9" y="446.3"/>
<use href="#d125" x="533.6" y="442.6"/>
<use href="#d125" x="544.1" y="427.7"/>
<use href="#d125" x="498.8" y="435.9"/>
<use href="#d125" x="542.6" y="450.1"/>
<use href="#d125" x="510.6" y="421.8"/>
<use href="#d125" x="534.4" y="444.3"/>
<use href="#d125" x="494.7" y="443.8"/>
<use href="#d125" x="513.1" y="428.6"/>
<use href="#d125" x="509.9" y="437.6"/>
<use href="#d125" x="506.7" y="433.1"/>
<use href="#d125" x="507.3" y="437.4"/>
<use href="#d125" x="504.7" y="433.7"/>
<use href="#d125" x="543.4" y="438.3"/>
<use href="#d125" x="497.9" y="441.4"/>
<use href="#d125" x="545.5" y="448.1"/>
<use href="#d125" x="526.9" y="439.5"/>
<use href="#d125" x="523.3" y="448.5"/>
<use href="#d125" x="540.9" y="435.5"/>
<use href="#d125" x="504.5" y="436.7"/>
<use href="#d125" x="520.3" y="437.2"/>
<use href="#d125" x="510" y="445.7"/>
<use href="#d125" x="502.3" y="423.3"/>
<use href="#d125" x="510.4" y="435.7"/>
<use href="#d125" x="503" y="418"/>
<use href="#d125" x="502" y="438.5"/>
<use href="#d125" x="534.7" y="446.1"/>
<use href="#d125" x="526.2" y="442.2"/>
<use href="#d125" x="541.9" y="449"/>
<use href="#d125" x="508.9" y="434.6"/>
<use href="#d125" x="533.8" y="421.9"/>
<use href="#d125" x="540.1" y="435.9"/>
<use href="#d125" x="532.2" y="419.5"/>
<use href="#d125" x="521.4" y="446.4"/>
<use href="#d125" x="510.5" y="442.8"/>
<use href="#d125" x="526.5" y="438.8"/>
<use href="#d125" x="543.3" y="439.3"/>
<use href="#d125" x="504.3" y="437.6"/>
<use href="#d125" x="527.1" y="435.1"/>
<use href="#d125" x="503.1" y="444.6"/>
<use href="#d125" x="511.9" y="450.6"/>
<use href="#d125" x="518.6" y="436.6"/>
<use href="#d125" x="519.9" y="417.5"/>
<use href="#d125" x="497.6" y="441.8"/>
<use href="#d125" x="527.3" y="433.8"/>
<use href="#d125" x="511.7" y="440.3"/>
<use href="#d125" x="515.3" y="443.1"/>
<use href="#d125" x="497.4" y="425.5"/>
<use href="#d125" x="515.3" y="433.9"/>
<use href="#d125" x="532.3" y="443"/>
<use href="#d125" x="523.8" y="431.9"/>
<use href="#d125" x="537.8" y="434.3"/>
<use href="#d125" x="530.3" y="442.6"/>
<use href="#d125" x="512.3" y="438.1"/>
<use href="#d125" x="522.8" y="442.9"/>
<use href="#d125" x="515.4" y="436.9"/>
<use href="#d125" x="508.5" y="441.1"/>
<use href="#d125" x="503.2" y="444.8"/>
<use href="#d125" x="543.9" y="438.1"/>
<use href="#d125" x="543.7" y="447.9"/>
<use href="#d125" x="540.6" y="425.7"/>
</g>
<line x1="519.7" y1="421.13" x2="519.7" y2="454.41" stroke="#222" stroke-width="0.8"/>
<rect x="501" y="434.84" width="37.4" height="8.32" fill="#fff" stroke="#2a2a2a" stroke-width="0.8"/>
<line x1="501" y1="439.12" x2="538.4" y2="439.12" stroke="#333" stroke-width="0.9"/>
<text x="1.4" y="529" font-size="14.3" fill="#111" color="#111" text-anchor="start">D</text>
<text x="75.8" y="524.4" font-size="9.8" fill="#222" color="#222" text-anchor="middle">NPC</text>
<text x="184.3" y="524.4" font-size="9.8" fill="#222" color="#222" text-anchor="middle">2 weeks</text>
<text x="292.6" y="524.4" font-size="9.8" fill="#222" color="#222" text-anchor="middle">8 weeks</text>
<text transform="translate(9.1,613.1) rotate(-90)" font-size="9.5" fill="#222" text-anchor="middle">Peak fluorescence</text>
<line x1="24.3" y1="556.25" x2="24.3" y2="670.5" stroke="#8a8a8a" stroke-width="0.8"/>
<line x1="22.5" y1="670.5" x2="24.3" y2="670.5" stroke="#8a8a8a" stroke-width="0.8"/>
<text x="19.3" y="673.33" font-size="8.2" fill="#555" color="#555" text-anchor="end" style="stroke-width:0.06px">0</text>
<line x1="22.5" y1="647.65" x2="24.3" y2="647.65" stroke="#8a8a8a" stroke-width="0.8"/>
<text x="19.3" y="650.48" font-size="8.2" fill="#555" color="#555" text-anchor="end" style="stroke-width:0.06px">1</text>
<line x1="22.5" y1="624.8" x2="24.3" y2="624.8" stroke="#8a8a8a" stroke-width="0.8"/>
<text x="19.3" y="627.63" font-size="8.2" fill="#555" color="#555" text-anchor="end" style="stroke-width:0.06px">2</text>
<line x1="22.5" y1="601.95" x2="24.3" y2="601.95" stroke="#8a8a8a" stroke-width="0.8"/>
<text x="19.3" y="604.78" font-size="8.2" fill="#555" color="#555" text-anchor="end" style="stroke-width:0.06px">3</text>
<line x1="22.5" y1="579.1" x2="24.3" y2="579.1" stroke="#8a8a8a" stroke-width="0.8"/>
<text x="19.3" y="581.93" font-size="8.2" fill="#555" color="#555" text-anchor="end" style="stroke-width:0.06px">4</text>
<line x1="22.5" y1="556.25" x2="24.3" y2="556.25" stroke="#8a8a8a" stroke-width="0.8"/>
<text x="19.3" y="559.08" font-size="8.2" fill="#555" color="#555" text-anchor="end" style="stroke-width:0.06px">5</text>
<line x1="24.3" y1="670.5" x2="127.4" y2="670.5" stroke="#8a8a8a" stroke-width="0.8"/>
<line x1="52.2" y1="670.5" x2="52.2" y2="672.4" stroke="#8a8a8a" stroke-width="0.8"/>
<text x="53" y="681.6" font-size="7.8" fill="#444" color="#444" text-anchor="middle" style="stroke-width:0.06px">Healthy</text>
<line x1="99.4" y1="670.5" x2="99.4" y2="672.4" stroke="#8a8a8a" stroke-width="0.8"/>
<text x="100.2" y="681.6" font-size="7.8" fill="#444" color="#444" text-anchor="middle" style="stroke-width:0.06px">Bipolar</text>
<line x1="132.1" y1="670.5" x2="234.6" y2="670.5" stroke="#8a8a8a" stroke-width="0.8"/>
<line x1="160.6" y1="670.5" x2="160.6" y2="672.4" stroke="#8a8a8a" stroke-width="0.8"/>
<text x="161.4" y="681.6" font-size="7.8" fill="#444" color="#444" text-anchor="middle" style="stroke-width:0.06px">Healthy</text>
<line x1="207.4" y1="670.5" x2="207.4" y2="672.4" stroke="#8a8a8a" stroke-width="0.8"/>
<text x="208.2" y="681.6" font-size="7.8" fill="#444" color="#444" text-anchor="middle" style="stroke-width:0.06px">Bipolar</text>
<line x1="240.1" y1="670.5" x2="342.9" y2="670.5" stroke="#8a8a8a" stroke-width="0.8"/>
<line x1="267.5" y1="670.5" x2="267.5" y2="672.4" stroke="#8a8a8a" stroke-width="0.8"/>
<text x="268.3" y="681.6" font-size="7.8" fill="#444" color="#444" text-anchor="middle" style="stroke-width:0.06px">Healthy</text>
<line x1="314.5" y1="670.5" x2="314.5" y2="672.4" stroke="#8a8a8a" stroke-width="0.8"/>
<text x="315.3" y="681.6" font-size="7.8" fill="#444" color="#444" text-anchor="middle" style="stroke-width:0.06px">Bipolar</text>
<g stroke="#505050" stroke-width="0.75" fill="none">
<path d="M54.3,541.5V550.6"/>
<path d="M54.3,541.5H312.6V550.6"/>
<path d="M54.3,543.5H266.8V550.6"/>
<path d="M54.3,545.5H209.5V550.6"/>
<path d="M54.3,547.5H160.8V550.6"/>
<path d="M54.3,549.5H103.6V550.6"/>
</g>
<g stroke="#505050" stroke-width="0.75" fill="none">
<path d="M103.6,564.5V569.6"/>
<path d="M103.6,564.5H266.8V569.6"/>
<path d="M103.6,566.5H209.5V569.6"/>
</g>
<g stroke="#505050" stroke-width="0.75" fill="none">
<path d="M162,586.5V589.8"/>
<path d="M162,586.5H266.8V589.8"/>
<path d="M162,588.5H210.6V589.8"/>
</g>
<text x="79" y="542.3" font-size="7.8" fill="#222" color="#222" text-anchor="middle">***</text>
<text x="132" y="542.3" font-size="7.8" fill="#222" color="#222" text-anchor="middle">***</text>
<text x="184.7" y="542.3" font-size="7.8" fill="#222" color="#222" text-anchor="middle">***</text>
<text x="237.3" y="542.3" font-size="7.8" fill="#222" color="#222" text-anchor="middle">***</text>
<text x="289" y="542.3" font-size="7.8" fill="#222" color="#222" text-anchor="middle">***</text>
<text x="159.3" y="563.3" font-size="7.8" fill="#222" color="#222" text-anchor="middle">***</text>
<text x="237.3" y="563.3" font-size="7.8" fill="#222" color="#222" text-anchor="middle">***</text>
<text x="186.6" y="585" font-size="7.8" fill="#222" color="#222" text-anchor="middle">**</text>
<text x="237.7" y="585" font-size="7.8" fill="#222" color="#222" text-anchor="middle">***</text>
<g fill="#e6241f" stroke="#2a0404" stroke-width="0.42">
<circle cx="63.3" cy="617.3" r="1.4"/>
<circle cx="39.2" cy="625.1" r="1.4"/>
<circle cx="69.6" cy="634.7" r="1.4"/>
<circle cx="69.6" cy="627.5" r="1.4"/>
<circle cx="40.3" cy="632.1" r="1.4"/>
<circle cx="34.1" cy="633.5" r="1.4"/>
<circle cx="72.1" cy="625.2" r="1.4"/>
<circle cx="48.3" cy="631.6" r="1.4"/>
<circle cx="41.5" cy="621.8" r="1.4"/>
<circle cx="53.5" cy="645.2" r="1.4"/>
<circle cx="39.6" cy="647.6" r="1.4"/>
<circle cx="66.8" cy="635.1" r="1.4"/>
<circle cx="68.6" cy="647.1" r="1.4"/>
<circle cx="51.7" cy="629" r="1.4"/>
<circle cx="54" cy="643.1" r="1.4"/>
<circle cx="54.6" cy="637.6" r="1.4"/>
<circle cx="33.7" cy="622.6" r="1.4"/>
<circle cx="68" cy="642.6" r="1.4"/>
<circle cx="44.6" cy="597.2" r="1.4"/>
<circle cx="33.4" cy="626.3" r="1.4"/>
<circle cx="33" cy="640.6" r="1.4"/>
<circle cx="72.2" cy="647.5" r="1.4"/>
<circle cx="54.4" cy="606.7" r="1.4"/>
<circle cx="32.9" cy="623.6" r="1.4"/>
<circle cx="65.8" cy="639.3" r="1.4"/>
<circle cx="37.6" cy="645.3" r="1.4"/>
<circle cx="45.7" cy="616.8" r="1.4"/>
<circle cx="65.5" cy="642" r="1.4"/>
<circle cx="39.3" cy="641.8" r="1.4"/>
<circle cx="34.9" cy="635.5" r="1.4"/>
<circle cx="67.1" cy="638.1" r="1.4"/>
<circle cx="35.6" cy="631.8" r="1.4"/>
<circle cx="34" cy="633.5" r="1.4"/>
<circle cx="66.7" cy="638.2" r="1.4"/>
<circle cx="55.5" cy="618.4" r="1.4"/>
<circle cx="35.5" cy="644.2" r="1.4"/>
<circle cx="70.4" cy="613" r="1.4"/>
<circle cx="46.5" cy="646.1" r="1.4"/>
<circle cx="51.7" cy="616.4" r="1.4"/>
<circle cx="51.9" cy="634.4" r="1.4"/>
<circle cx="48.7" cy="641.8" r="1.4"/>
<circle cx="69.6" cy="646.9" r="1.4"/>
<circle cx="54.1" cy="625.8" r="1.4"/>
<circle cx="71.7" cy="644.4" r="1.4"/>
<circle cx="43.8" cy="603.3" r="1.4"/>
<circle cx="37.9" cy="623.2" r="1.4"/>
<circle cx="59.4" cy="632.7" r="1.4"/>
<circle cx="36.7" cy="644.8" r="1.4"/>
<circle cx="71.8" cy="634.6" r="1.4"/>
<circle cx="53.6" cy="624.5" r="1.4"/>
<circle cx="40.2" cy="647.3" r="1.4"/>
<circle cx="40.6" cy="639.4" r="1.4"/>
<circle cx="45" cy="635" r="1.4"/>
<circle cx="35.7" cy="632.7" r="1.4"/>
<circle cx="46.6" cy="643" r="1.4"/>
<circle cx="45.3" cy="646.3" r="1.4"/>
<circle cx="53.7" cy="642.4" r="1.4"/>
<circle cx="64.7" cy="644.7" r="1.4"/>
<circle cx="65.6" cy="642.8" r="1.4"/>
<circle cx="53" cy="621.3" r="1.4"/>
<circle cx="47.4" cy="641.8" r="1.4"/>
<circle cx="53.9" cy="635.6" r="1.4"/>
<circle cx="48.8" cy="641.5" r="1.4"/>
<circle cx="37.4" cy="643.1" r="1.4"/>
<circle cx="69.1" cy="623.8" r="1.4"/>
<circle cx="36.4" cy="631.4" r="1.4"/>
<circle cx="39" cy="610.8" r="1.4"/>
<circle cx="69.8" cy="634.7" r="1.4"/>
<circle cx="51.5" cy="630.7" r="1.4"/>
<circle cx="60.9" cy="627" r="1.4"/>
<circle cx="48.8" cy="643.7" r="1.4"/>
<circle cx="70.9" cy="636.2" r="1.4"/>
<circle cx="72.3" cy="630" r="1.4"/>
<circle cx="50.2" cy="644.8" r="1.4"/>
<circle cx="50.9" cy="611.9" r="1.4"/>
<circle cx="68.2" cy="634.3" r="1.4"/>
<circle cx="55.9" cy="616.8" r="1.4"/>
<circle cx="42.5" cy="636.6" r="1.4"/>
<circle cx="62.7" cy="637.2" r="1.4"/>
<circle cx="35.4" cy="635" r="1.4"/>
<circle cx="32.4" cy="626.1" r="1.4"/>
<circle cx="62.9" cy="624.8" r="1.4"/>
<circle cx="58.8" cy="642.7" r="1.4"/>
<circle cx="68" cy="639.9" r="1.4"/>
<circle cx="55" cy="608.1" r="1.4"/>
<circle cx="54.7" cy="631.1" r="1.4"/>
<circle cx="43.1" cy="633.4" r="1.4"/>
<circle cx="55.7" cy="631.9" r="1.4"/>
<circle cx="54.1" cy="634.5" r="1.4"/>
<circle cx="42" cy="583.9" r="1.4"/>
<circle cx="49.5" cy="622.1" r="1.4"/>
<circle cx="38.4" cy="646.5" r="1.4"/>
<circle cx="49.2" cy="645.3" r="1.4"/>
<circle cx="48" cy="618.7" r="1.4"/>
<circle cx="62" cy="631.3" r="1.4"/>
<circle cx="59.2" cy="628.1" r="1.4"/>
<circle cx="67.4" cy="640" r="1.4"/>
<circle cx="54.5" cy="641.5" r="1.4"/>
<circle cx="39.2" cy="626.8" r="1.4"/>
<circle cx="64.7" cy="611.1" r="1.4"/>
<circle cx="41.8" cy="631.5" r="1.4"/>
<circle cx="41.7" cy="644.3" r="1.4"/>
<circle cx="42.3" cy="639.3" r="1.4"/>
<circle cx="60.9" cy="611.5" r="1.4"/>
<circle cx="34.3" cy="635.6" r="1.4"/>
<circle cx="38.2" cy="637.1" r="1.4"/>
<circle cx="58.7" cy="611.3" r="1.4"/>
<circle cx="51.9" cy="620.1" r="1.4"/>
<circle cx="51" cy="635.7" r="1.4"/>
<circle cx="71.7" cy="643.3" r="1.4"/>
<circle cx="68.3" cy="646.7" r="1.4"/>
<circle cx="66.4" cy="636.4" r="1.4"/>
<circle cx="44" cy="613.5" r="1.4"/>
<circle cx="40.6" cy="642.6" r="1.4"/>
<circle cx="62.2" cy="631.2" r="1.4"/>
<circle cx="34.9" cy="643.8" r="1.4"/>
<circle cx="50.6" cy="636.1" r="1.4"/>
<circle cx="46.4" cy="582.5" r="1.4"/>
<circle cx="46.4" cy="621.4" r="1.4"/>
<circle cx="53.3" cy="639.6" r="1.4"/>
<circle cx="52.2" cy="625.5" r="1.4"/>
<circle cx="36.5" cy="630" r="1.4"/>
<circle cx="65.2" cy="646.1" r="1.4"/>
<circle cx="43.6" cy="634.3" r="1.4"/>
<circle cx="40.2" cy="625.6" r="1.4"/>
<circle cx="50" cy="626.2" r="1.4"/>
<circle cx="66" cy="641.3" r="1.4"/>
<circle cx="62.5" cy="614.3" r="1.4"/>
<circle cx="44.2" cy="642.9" r="1.4"/>
<circle cx="66.9" cy="644.6" r="1.4"/>
<circle cx="62.9" cy="629.1" r="1.4"/>
<circle cx="62.3" cy="610.2" r="1.4"/>
<circle cx="65" cy="634.1" r="1.4"/>
<circle cx="47.7" cy="625.4" r="1.4"/>
<circle cx="39.6" cy="631.9" r="1.4"/>
<circle cx="61.7" cy="639.5" r="1.4"/>
<circle cx="69.8" cy="647.3" r="1.4"/>
<circle cx="60" cy="603.1" r="1.4"/>
<circle cx="44" cy="605.5" r="1.4"/>
<circle cx="41.2" cy="626.9" r="1.4"/>
<circle cx="62.6" cy="623.2" r="1.4"/>
<circle cx="47" cy="643.9" r="1.4"/>
<circle cx="54.7" cy="639.3" r="1.4"/>
<circle cx="69.2" cy="633.8" r="1.4"/>
<circle cx="71.5" cy="645" r="1.4"/>
<circle cx="64.8" cy="632.7" r="1.4"/>
<circle cx="61.6" cy="628.6" r="1.4"/>
<circle cx="48" cy="642.1" r="1.4"/>
<circle cx="52" cy="617.5" r="1.4"/>
<circle cx="51.7" cy="605.1" r="1.4"/>
<circle cx="64" cy="644.8" r="1.4"/>
<circle cx="63.3" cy="622.7" r="1.4"/>
<circle cx="61.5" cy="637.9" r="1.4"/>
<circle cx="70.5" cy="639.3" r="1.4"/>
<circle cx="40.8" cy="638" r="1.4"/>
<circle cx="59.8" cy="636.5" r="1.4"/>
<circle cx="55.4" cy="620" r="1.4"/>
<circle cx="47.2" cy="627.3" r="1.4"/>
<circle cx="52.4" cy="639.5" r="1.4"/>
<circle cx="43.5" cy="636.2" r="1.4"/>
<circle cx="47.8" cy="586.9" r="1.4"/>
<circle cx="36.2" cy="643.8" r="1.4"/>
<circle cx="53.5" cy="619.6" r="1.4"/>
<circle cx="62.1" cy="637.6" r="1.4"/>
<circle cx="71.8" cy="635.8" r="1.4"/>
<circle cx="56.3" cy="627.5" r="1.4"/>
<circle cx="70.2" cy="621.3" r="1.4"/>
<circle cx="60" cy="643.7" r="1.4"/>
<circle cx="36.4" cy="615.3" r="1.4"/>
<circle cx="58.4" cy="644.4" r="1.4"/>
<circle cx="56.7" cy="619" r="1.4"/>
<circle cx="53.7" cy="620.6" r="1.4"/>
<circle cx="50.3" cy="625" r="1.4"/>
<circle cx="52.5" cy="617.7" r="1.4"/>
<circle cx="57.6" cy="629.9" r="1.4"/>
<circle cx="44.6" cy="631.3" r="1.4"/>
<circle cx="59.5" cy="622.6" r="1.4"/>
<circle cx="52.7" cy="647.6" r="1.4"/>
<circle cx="69.4" cy="646" r="1.4"/>
<circle cx="37" cy="625.8" r="1.4"/>
<circle cx="49.1" cy="576.8" r="1.4"/>
<circle cx="67.9" cy="610.4" r="1.4"/>
<circle cx="67.6" cy="625.3" r="1.4"/>
<circle cx="41.6" cy="623.2" r="1.4"/>
<circle cx="59.7" cy="640" r="1.4"/>
<circle cx="51.7" cy="599.9" r="1.4"/>
<circle cx="61.4" cy="581.2" r="1.4"/>
<circle cx="43.3" cy="642.6" r="1.4"/>
<circle cx="37.8" cy="627.4" r="1.4"/>
<circle cx="44.6" cy="645.3" r="1.4"/>
<circle cx="40.8" cy="630.9" r="1.4"/>
<circle cx="35" cy="644.7" r="1.4"/>
<circle cx="71.9" cy="636.8" r="1.4"/>
<circle cx="46.9" cy="630.1" r="1.4"/>
<circle cx="36.5" cy="635.8" r="1.4"/>
<circle cx="63.2" cy="586.4" r="1.4"/>
<circle cx="36.6" cy="644.2" r="1.4"/>
<circle cx="49.7" cy="638.9" r="1.4"/>
<circle cx="41" cy="643.6" r="1.4"/>
<circle cx="37" cy="621.1" r="1.4"/>
<circle cx="61.7" cy="641.8" r="1.4"/>
<circle cx="55.7" cy="639.2" r="1.4"/>
<circle cx="68.2" cy="619.4" r="1.4"/>
<circle cx="34" cy="603.1" r="1.4"/>
<circle cx="62.2" cy="629.7" r="1.4"/>
<circle cx="37.5" cy="637.1" r="1.4"/>
<circle cx="66.5" cy="638.5" r="1.4"/>
<circle cx="55.2" cy="647.3" r="1.4"/>
<circle cx="46.8" cy="637.4" r="1.4"/>
<circle cx="60.5" cy="622.7" r="1.4"/>
<circle cx="44.1" cy="621.5" r="1.4"/>
<circle cx="53" cy="612.6" r="1.4"/>
<circle cx="57.9" cy="634.6" r="1.4"/>
<circle cx="61.7" cy="615.5" r="1.4"/>
<circle cx="41.6" cy="642.4" r="1.4"/>
<circle cx="69.2" cy="643.1" r="1.4"/>
<circle cx="45.4" cy="631" r="1.4"/>
<circle cx="37.3" cy="644.2" r="1.4"/>
<circle cx="68.5" cy="644.3" r="1.4"/>
<circle cx="34.7" cy="621.5" r="1.4"/>
<circle cx="49.1" cy="613.6" r="1.4"/>
<circle cx="71.1" cy="623.5" r="1.4"/>
<circle cx="34.4" cy="636.7" r="1.4"/>
<circle cx="35.2" cy="619.6" r="1.4"/>
<circle cx="62.6" cy="610.5" r="1.4"/>
<circle cx="50.1" cy="633.8" r="1.4"/>
<circle cx="54.9" cy="625.1" r="1.4"/>
<circle cx="34.8" cy="645.9" r="1.4"/>
<circle cx="71.9" cy="627.4" r="1.4"/>
<circle cx="70.5" cy="643.9" r="1.4"/>
<circle cx="62" cy="642.5" r="1.4"/>
<circle cx="38.6" cy="628.6" r="1.4"/>
<circle cx="66.3" cy="636" r="1.4"/>
<circle cx="60.7" cy="644.6" r="1.4"/>
<circle cx="45.8" cy="638.1" r="1.4"/>
<circle cx="61.6" cy="628" r="1.4"/>
<circle cx="34.9" cy="630.8" r="1.4"/>
<circle cx="71.3" cy="635.5" r="1.4"/>
<circle cx="65.7" cy="624.7" r="1.4"/>
<circle cx="70.1" cy="641.4" r="1.4"/>
<circle cx="41.1" cy="614.5" r="1.4"/>
<circle cx="45.4" cy="635.6" r="1.4"/>
<circle cx="66.9" cy="643.6" r="1.4"/>
<circle cx="68.2" cy="636.9" r="1.4"/>
<circle cx="45.5" cy="644.6" r="1.4"/>
<circle cx="62.7" cy="634.5" r="1.4"/>
<circle cx="58.5" cy="634.3" r="1.4"/>
<circle cx="62" cy="635.7" r="1.4"/>
<circle cx="56.3" cy="638.9" r="1.4"/>
<circle cx="40.3" cy="628.4" r="1.4"/>
<circle cx="45" cy="629.4" r="1.4"/>
<circle cx="68.7" cy="646.5" r="1.4"/>
<circle cx="67.9" cy="616.8" r="1.4"/>
<circle cx="59.8" cy="637.4" r="1.4"/>
<circle cx="62" cy="642.2" r="1.4"/>
<circle cx="70.2" cy="614.1" r="1.4"/>
<circle cx="62.4" cy="623.9" r="1.4"/>
<circle cx="55.5" cy="641.2" r="1.4"/>
<circle cx="44.2" cy="632" r="1.4"/>
<circle cx="48" cy="642.6" r="1.4"/>
<circle cx="60" cy="619.1" r="1.4"/>
<circle cx="66" cy="638" r="1.4"/>
<circle cx="34.2" cy="621.6" r="1.4"/>
<circle cx="58.2" cy="645.9" r="1.4"/>
<circle cx="40.1" cy="641.7" r="1.4"/>
<circle cx="42.4" cy="629.1" r="1.4"/>
<circle cx="52.4" cy="620" r="1.4"/>
<circle cx="52.5" cy="643.7" r="1.4"/>
<circle cx="66.6" cy="634" r="1.4"/>
<circle cx="60.7" cy="628.6" r="1.4"/>
<circle cx="49.7" cy="642.2" r="1.4"/>
<circle cx="48.2" cy="641.6" r="1.4"/>
<circle cx="33.4" cy="637.1" r="1.4"/>
<circle cx="33.8" cy="637.9" r="1.4"/>
<circle cx="41.4" cy="639" r="1.4"/>
<circle cx="64.8" cy="631.6" r="1.4"/>
<circle cx="38.5" cy="645.2" r="1.4"/>
<circle cx="69.6" cy="626.4" r="1.4"/>
<circle cx="52.3" cy="633.3" r="1.4"/>
<circle cx="52.8" cy="647.1" r="1.4"/>
<circle cx="67.2" cy="640.7" r="1.4"/>
<circle cx="70.7" cy="641.1" r="1.4"/>
<circle cx="34" cy="636.6" r="1.4"/>
<circle cx="38" cy="639.5" r="1.4"/>
<circle cx="60.3" cy="627.3" r="1.4"/>
<circle cx="39.4" cy="626.1" r="1.4"/>
<circle cx="62.8" cy="625.2" r="1.4"/>
<circle cx="65.6" cy="608.3" r="1.4"/>
<circle cx="52.6" cy="646.6" r="1.4"/>
<circle cx="52.5" cy="646" r="1.4"/>
<circle cx="63.2" cy="642.9" r="1.4"/>
<circle cx="35.8" cy="642.1" r="1.4"/>
<circle cx="62.9" cy="619.5" r="1.4"/>
<circle cx="56" cy="633.6" r="1.4"/>
<circle cx="51.7" cy="643.1" r="1.4"/>
<circle cx="62.8" cy="636.9" r="1.4"/>
<circle cx="66.4" cy="646.9" r="1.4"/>
<circle cx="32.4" cy="631.2" r="1.4"/>
<circle cx="71.9" cy="639.5" r="1.4"/>
<circle cx="47.9" cy="638.8" r="1.4"/>
<circle cx="62.2" cy="645.3" r="1.4"/>
<circle cx="62.9" cy="632.3" r="1.4"/>
<circle cx="57" cy="644.8" r="1.4"/>
<circle cx="67.3" cy="604.5" r="1.4"/>
<circle cx="41.6" cy="617.8" r="1.4"/>
<circle cx="48.9" cy="622" r="1.4"/>
<circle cx="42.5" cy="640" r="1.4"/>
<circle cx="49" cy="633.1" r="1.4"/>
<circle cx="42.2" cy="609.2" r="1.4"/>
<circle cx="68.1" cy="636.8" r="1.4"/>
<circle cx="37.1" cy="633" r="1.4"/>
<circle cx="67.6" cy="600.6" r="1.4"/>
<circle cx="61" cy="614.5" r="1.4"/>
<circle cx="36.7" cy="625.6" r="1.4"/>
<circle cx="45.8" cy="623.6" r="1.4"/>
<circle cx="53.5" cy="645.7" r="1.4"/>
<circle cx="51.2" cy="616.6" r="1.4"/>
<circle cx="58.7" cy="632.5" r="1.4"/>
<circle cx="51.4" cy="603.1" r="1.4"/>
<circle cx="65.7" cy="621.1" r="1.4"/>
<circle cx="54.8" cy="614.8" r="1.4"/>
<circle cx="67.1" cy="638.6" r="1.4"/>
<circle cx="39.4" cy="636.7" r="1.4"/>
<circle cx="44.9" cy="644.7" r="1.4"/>
<circle cx="64.4" cy="639.8" r="1.4"/>
<circle cx="53.3" cy="627.2" r="1.4"/>
<circle cx="52.4" cy="639.6" r="1.4"/>
<circle cx="47.3" cy="641.4" r="1.4"/>
<circle cx="49.9" cy="647.6" r="1.4"/>
<circle cx="60.9" cy="640.7" r="1.4"/>
<circle cx="70.3" cy="634.4" r="1.4"/>
<circle cx="53.9" cy="646.6" r="1.4"/>
<circle cx="50.3" cy="622.5" r="1.4"/>
<circle cx="33.1" cy="643.1" r="1.4"/>
<circle cx="66.9" cy="643" r="1.4"/>
<circle cx="43.4" cy="623.8" r="1.4"/>
<circle cx="41.8" cy="629.6" r="1.4"/>
<circle cx="48.8" cy="617.8" r="1.4"/>
<circle cx="49.3" cy="636.7" r="1.4"/>
<circle cx="57.2" cy="619.3" r="1.4"/>
<circle cx="46.3" cy="645.3" r="1.4"/>
<circle cx="62.2" cy="643.6" r="1.4"/>
<circle cx="63.6" cy="643.9" r="1.4"/>
<circle cx="38" cy="628.1" r="1.4"/>
<circle cx="53.8" cy="633.9" r="1.4"/>
<circle cx="71.3" cy="605.5" r="1.4"/>
<circle cx="56.9" cy="645.4" r="1.4"/>
<circle cx="45.3" cy="645.5" r="1.4"/>
<circle cx="58.3" cy="633.9" r="1.4"/>
<circle cx="57.2" cy="623.5" r="1.4"/>
<circle cx="41.7" cy="634" r="1.4"/>
<circle cx="33.8" cy="642.2" r="1.4"/>
<circle cx="71.1" cy="613.9" r="1.4"/>
<circle cx="66.8" cy="610.9" r="1.4"/>
<circle cx="54.7" cy="627.5" r="1.4"/>
<circle cx="63.8" cy="625.5" r="1.4"/>
<circle cx="48.9" cy="644.2" r="1.4"/>
<circle cx="52.7" cy="638.4" r="1.4"/>
<circle cx="50.1" cy="626.4" r="1.4"/>
<circle cx="42.1" cy="622.5" r="1.4"/>
<circle cx="32.8" cy="644" r="1.4"/>
<circle cx="42.5" cy="617.5" r="1.4"/>
<circle cx="67.4" cy="637.9" r="1.4"/>
<circle cx="71.8" cy="629.4" r="1.4"/>
<circle cx="36.3" cy="647.3" r="1.4"/>
<circle cx="67.2" cy="626.4" r="1.4"/>
<circle cx="47.6" cy="642.6" r="1.4"/>
<circle cx="56" cy="619.7" r="1.4"/>
<circle cx="68.6" cy="641.6" r="1.4"/>
<circle cx="44.3" cy="638.1" r="1.4"/>
<circle cx="32.7" cy="625.1" r="1.4"/>
<circle cx="52.7" cy="623.6" r="1.4"/>
<circle cx="46.7" cy="626.1" r="1.4"/>
<circle cx="69.3" cy="631.7" r="1.4"/>
<circle cx="44.5" cy="626.9" r="1.4"/>
<circle cx="39.4" cy="639.8" r="1.4"/>
<circle cx="44.8" cy="620.7" r="1.4"/>
<circle cx="37.2" cy="626.5" r="1.4"/>
<circle cx="65.4" cy="643.6" r="1.4"/>
<circle cx="66.6" cy="629.5" r="1.4"/>
<circle cx="63.9" cy="608.6" r="1.4"/>
<circle cx="42.5" cy="603.1" r="1.4"/>
<circle cx="54.2" cy="639.5" r="1.4"/>
<circle cx="71.7" cy="644.1" r="1.4"/>
<circle cx="40.3" cy="615.4" r="1.4"/>
<circle cx="45.8" cy="614.7" r="1.4"/>
<circle cx="66.1" cy="620.6" r="1.4"/>
<circle cx="63.2" cy="602.4" r="1.4"/>
<circle cx="58.3" cy="635.7" r="1.4"/>
<circle cx="45.2" cy="631.2" r="1.4"/>
<circle cx="37.8" cy="624.3" r="1.4"/>
<circle cx="58.3" cy="639.5" r="1.4"/>
<circle cx="37.2" cy="647.4" r="1.4"/>
<circle cx="41.5" cy="611.4" r="1.4"/>
<circle cx="33.8" cy="637.5" r="1.4"/>
<circle cx="48.6" cy="632.3" r="1.4"/>
<circle cx="61.4" cy="620.9" r="1.4"/>
<circle cx="55.2" cy="623.6" r="1.4"/>
<circle cx="48.8" cy="636.6" r="1.4"/>
<circle cx="70" cy="645.5" r="1.4"/>
<circle cx="49.4" cy="638.5" r="1.4"/>
<circle cx="39.7" cy="644.7" r="1.4"/>
<circle cx="60.8" cy="608.2" r="1.4"/>
<circle cx="43.8" cy="626.9" r="1.4"/>
<circle cx="56.8" cy="610.1" r="1.4"/>
<circle cx="56.9" cy="646.7" r="1.4"/>
<circle cx="51.7" cy="632.7" r="1.4"/>
<circle cx="57.6" cy="646.5" r="1.4"/>
<circle cx="60.7" cy="636.2" r="1.4"/>
<circle cx="49.5" cy="643.3" r="1.4"/>
<circle cx="48.1" cy="614.4" r="1.4"/>
<circle cx="61.5" cy="625.7" r="1.4"/>
<circle cx="52.6" cy="644.7" r="1.4"/>
<circle cx="64" cy="637.8" r="1.4"/>
<circle cx="55" cy="644.9" r="1.4"/>
<circle cx="51.9" cy="645.1" r="1.4"/>
<circle cx="65" cy="645.1" r="1.4"/>
<circle cx="34" cy="625.1" r="1.4"/>
<circle cx="39.4" cy="625" r="1.4"/>
<circle cx="58" cy="647.2" r="1.4"/>
<circle cx="69.8" cy="641.8" r="1.4"/>
<circle cx="65.3" cy="612.2" r="1.4"/>
<circle cx="41.1" cy="628.3" r="1.4"/>
<circle cx="67.4" cy="640" r="1.4"/>
<circle cx="36.9" cy="644.2" r="1.4"/>
<circle cx="55.8" cy="623.1" r="1.4"/>
<circle cx="46.2" cy="641.3" r="1.4"/>
<circle cx="52.8" cy="606.4" r="1.4"/>
<circle cx="40.8" cy="643.5" r="1.4"/>
<circle cx="68.3" cy="637.2" r="1.4"/>
<circle cx="39.6" cy="626.4" r="1.4"/>
<circle cx="58.1" cy="634.2" r="1.4"/>
<circle cx="69.2" cy="638.8" r="1.4"/>
<circle cx="40.7" cy="635.1" r="1.4"/>
<circle cx="49.3" cy="634.9" r="1.4"/>
<circle cx="39.7" cy="636.9" r="1.4"/>
<circle cx="46.7" cy="645.2" r="1.4"/>
<circle cx="36.5" cy="620.8" r="1.4"/>
<circle cx="61.6" cy="624" r="1.4"/>
<circle cx="42" cy="645.9" r="1.4"/>
<circle cx="54.9" cy="629.2" r="1.4"/>
<circle cx="41.7" cy="611.5" r="1.4"/>
<circle cx="36.9" cy="647.6" r="1.4"/>
<circle cx="46.3" cy="629.3" r="1.4"/>
<circle cx="69.4" cy="641" r="1.4"/>
<circle cx="57.3" cy="627.7" r="1.4"/>
<circle cx="41.4" cy="637.8" r="1.4"/>
<circle cx="38.4" cy="639.7" r="1.4"/>
<circle cx="64.2" cy="619.3" r="1.4"/>
<circle cx="38.9" cy="641.5" r="1.4"/>
<circle cx="67.5" cy="646.2" r="1.4"/>
<circle cx="35.3" cy="645.2" r="1.4"/>
<circle cx="64.8" cy="627.4" r="1.4"/>
<circle cx="60.8" cy="635.9" r="1.4"/>
<circle cx="70.5" cy="621.2" r="1.4"/>
<circle cx="35.4" cy="618.6" r="1.4"/>
<circle cx="57.6" cy="645.7" r="1.4"/>
<circle cx="50.2" cy="636.5" r="1.4"/>
<circle cx="52.8" cy="646.5" r="1.4"/>
<circle cx="61.9" cy="640" r="1.4"/>
<circle cx="47.5" cy="642.9" r="1.4"/>
<circle cx="44.2" cy="631.6" r="1.4"/>
<circle cx="44.8" cy="616.4" r="1.4"/>
<circle cx="45.5" cy="645.6" r="1.4"/>
<circle cx="36.5" cy="645.2" r="1.4"/>
<circle cx="68.5" cy="596.2" r="1.4"/>
<circle cx="35.2" cy="614.1" r="1.4"/>
<circle cx="35.2" cy="618.4" r="1.4"/>
<circle cx="46" cy="619.9" r="1.4"/>
<circle cx="57.8" cy="637.2" r="1.4"/>
<circle cx="34" cy="620.3" r="1.4"/>
<circle cx="60.9" cy="627.2" r="1.4"/>
<circle cx="42.1" cy="639" r="1.4"/>
<circle cx="60" cy="634.1" r="1.4"/>
<circle cx="61.8" cy="634" r="1.4"/>
<circle cx="69" cy="602.8" r="1.4"/>
<circle cx="43.2" cy="630.9" r="1.4"/>
<circle cx="58.5" cy="639.4" r="1.4"/>
<circle cx="53.6" cy="630.4" r="1.4"/>
<circle cx="55.9" cy="632.4" r="1.4"/>
<circle cx="53.2" cy="646.8" r="1.4"/>
<circle cx="45.1" cy="620.8" r="1.4"/>
<circle cx="32.8" cy="639.6" r="1.4"/>
<circle cx="62.4" cy="642" r="1.4"/>
<circle cx="38.8" cy="641.8" r="1.4"/>
<circle cx="52.1" cy="636.4" r="1.4"/>
<circle cx="42.9" cy="645.6" r="1.4"/>
<circle cx="34.9" cy="626.1" r="1.4"/>
<circle cx="71.5" cy="620.5" r="1.4"/>
<circle cx="38.4" cy="641.9" r="1.4"/>
<circle cx="50.6" cy="634.1" r="1.4"/>
<circle cx="64.8" cy="633.2" r="1.4"/>
<circle cx="66.1" cy="643.4" r="1.4"/>
<circle cx="46.4" cy="631.8" r="1.4"/>
<circle cx="44.3" cy="625.8" r="1.4"/>
<circle cx="50.1" cy="623" r="1.4"/>
<circle cx="50.4" cy="628.3" r="1.4"/>
<circle cx="36.6" cy="636.5" r="1.4"/>
<circle cx="55.8" cy="641.4" r="1.4"/>
<circle cx="42.4" cy="623.5" r="1.4"/>
<circle cx="39.5" cy="613.8" r="1.4"/>
<circle cx="50.5" cy="633.4" r="1.4"/>
<circle cx="67.8" cy="628.4" r="1.4"/>
<circle cx="67.4" cy="621.7" r="1.4"/>
<circle cx="56.8" cy="624.7" r="1.4"/>
<circle cx="44.9" cy="635.1" r="1.4"/>
<circle cx="66.9" cy="641.2" r="1.4"/>
<circle cx="53.2" cy="639.8" r="1.4"/>
<circle cx="36.2" cy="624.6" r="1.4"/>
<circle cx="48.1" cy="620.2" r="1.4"/>
<circle cx="57.7" cy="626" r="1.4"/>
<circle cx="47.2" cy="644.5" r="1.4"/>
<circle cx="67.8" cy="618.3" r="1.4"/>
<circle cx="48.6" cy="646.4" r="1.4"/>
<circle cx="69.1" cy="603" r="1.4"/>
<circle cx="47.8" cy="633.8" r="1.4"/>
<circle cx="69.2" cy="618.8" r="1.4"/>
<circle cx="42.4" cy="636" r="1.4"/>
<circle cx="37.7" cy="611.4" r="1.4"/>
<circle cx="35.9" cy="632.6" r="1.4"/>
<circle cx="67.9" cy="641.2" r="1.4"/>
<circle cx="63.2" cy="603.7" r="1.4"/>
<circle cx="43.8" cy="639.4" r="1.4"/>
<circle cx="65.6" cy="634.2" r="1.4"/>
<circle cx="59.3" cy="619.1" r="1.4"/>
<circle cx="71.9" cy="638.7" r="1.4"/>
<circle cx="49.2" cy="621.3" r="1.4"/>
<circle cx="68.3" cy="628.3" r="1.4"/>
<circle cx="51" cy="642.3" r="1.4"/>
<circle cx="35.6" cy="619.3" r="1.4"/>
<circle cx="58.9" cy="625.2" r="1.4"/>
<circle cx="68.4" cy="606.1" r="1.4"/>
<circle cx="43.1" cy="631.8" r="1.4"/>
<circle cx="51.2" cy="628.9" r="1.4"/>
<circle cx="61.2" cy="643.3" r="1.4"/>
<circle cx="53.8" cy="626.8" r="1.4"/>
<circle cx="62.2" cy="603.4" r="1.4"/>
<circle cx="41.8" cy="624.1" r="1.4"/>
<circle cx="61.3" cy="606.6" r="1.4"/>
<circle cx="50.6" cy="639.2" r="1.4"/>
<circle cx="60.8" cy="618.3" r="1.4"/>
<circle cx="66.7" cy="624.3" r="1.4"/>
<circle cx="53" cy="641.8" r="1.4"/>
<circle cx="67.2" cy="628.5" r="1.4"/>
<circle cx="38" cy="625.3" r="1.4"/>
<circle cx="53.3" cy="627" r="1.4"/>
<circle cx="59.8" cy="638.6" r="1.4"/>
<circle cx="41.3" cy="636.3" r="1.4"/>
<circle cx="50.1" cy="642.9" r="1.4"/>
<circle cx="69.7" cy="625.3" r="1.4"/>
<circle cx="54.4" cy="632.3" r="1.4"/>
<circle cx="32.9" cy="637.5" r="1.4"/>
<circle cx="47.5" cy="629" r="1.4"/>
<circle cx="37.5" cy="615.5" r="1.4"/>
<circle cx="54.6" cy="647.5" r="1.4"/>
<circle cx="54.5" cy="647" r="1.4"/>
<circle cx="70.6" cy="610.3" r="1.4"/>
<circle cx="42.9" cy="640.8" r="1.4"/>
<circle cx="71.2" cy="628.5" r="1.4"/>
<circle cx="60.4" cy="631.2" r="1.4"/>
<circle cx="36.1" cy="618.6" r="1.4"/>
<circle cx="49.1" cy="642.8" r="1.4"/>
<circle cx="36.6" cy="633.6" r="1.4"/>
<circle cx="67.8" cy="646.2" r="1.4"/>
<circle cx="46.6" cy="635.1" r="1.4"/>
<circle cx="69.1" cy="631.2" r="1.4"/>
<circle cx="50.4" cy="609.1" r="1.4"/>
<circle cx="42.3" cy="636.8" r="1.4"/>
<circle cx="51.7" cy="645.3" r="1.4"/>
<circle cx="34.1" cy="611.7" r="1.4"/>
<circle cx="46.8" cy="596" r="1.4"/>
<circle cx="61.2" cy="631.4" r="1.4"/>
<circle cx="60.7" cy="631.4" r="1.4"/>
<circle cx="49.2" cy="616.9" r="1.4"/>
<circle cx="51.8" cy="636.9" r="1.4"/>
<circle cx="33" cy="633.8" r="1.4"/>
<circle cx="58.7" cy="617.7" r="1.4"/>
<circle cx="63.2" cy="641.8" r="1.4"/>
<circle cx="58.2" cy="636.9" r="1.4"/>
<circle cx="41.8" cy="633.3" r="1.4"/>
<circle cx="67.9" cy="641.4" r="1.4"/>
<circle cx="35.8" cy="637.6" r="1.4"/>
<circle cx="47" cy="619.2" r="1.4"/>
<circle cx="66.9" cy="633.8" r="1.4"/>
<circle cx="70.9" cy="615.7" r="1.4"/>
<circle cx="58.8" cy="620" r="1.4"/>
<circle cx="54.1" cy="618.3" r="1.4"/>
<circle cx="34.5" cy="627.1" r="1.4"/>
<circle cx="37.2" cy="618.7" r="1.4"/>
<circle cx="70.3" cy="636.3" r="1.4"/>
<circle cx="64.1" cy="613" r="1.4"/>
<circle cx="62" cy="607.4" r="1.4"/>
<circle cx="71.8" cy="628.3" r="1.4"/>
<circle cx="65" cy="581.6" r="1.4"/>
<circle cx="69.1" cy="628.9" r="1.4"/>
<circle cx="37.7" cy="628.9" r="1.4"/>
<circle cx="63.3" cy="615.9" r="1.4"/>
<circle cx="59.3" cy="628.6" r="1.4"/>
<circle cx="43.3" cy="603.1" r="1.4"/>
<circle cx="53.9" cy="637.8" r="1.4"/>
<circle cx="61.1" cy="627.8" r="1.4"/>
<circle cx="35.3" cy="634.1" r="1.4"/>
<circle cx="49.7" cy="638.5" r="1.4"/>
<circle cx="62.7" cy="643.2" r="1.4"/>
<circle cx="43.6" cy="620.2" r="1.4"/>
<circle cx="39.6" cy="613.8" r="1.4"/>
<circle cx="71" cy="619.2" r="1.4"/>
<circle cx="44.8" cy="639.4" r="1.4"/>
<circle cx="37.7" cy="620.3" r="1.4"/>
<circle cx="45.8" cy="640.3" r="1.4"/>
<circle cx="51.5" cy="620.4" r="1.4"/>
<circle cx="33.4" cy="645.5" r="1.4"/>
<circle cx="38.3" cy="629.3" r="1.4"/>
<circle cx="40.9" cy="623.5" r="1.4"/>
<circle cx="41.9" cy="604.5" r="1.4"/>
<circle cx="66.3" cy="641.4" r="1.4"/>
<circle cx="51.5" cy="627.7" r="1.4"/>
<circle cx="43" cy="610" r="1.4"/>
<circle cx="70.4" cy="630.3" r="1.4"/>
<circle cx="52.4" cy="647.5" r="1.4"/>
<circle cx="52.7" cy="642" r="1.4"/>
<circle cx="49.5" cy="606" r="1.4"/>
<circle cx="71.9" cy="641.2" r="1.4"/>
<circle cx="64" cy="633.6" r="1.4"/>
<circle cx="53.6" cy="627" r="1.4"/>
<circle cx="69.4" cy="593.3" r="1.4"/>
<circle cx="55.7" cy="640.9" r="1.4"/>
<circle cx="42.4" cy="644.3" r="1.4"/>
<circle cx="61.7" cy="641" r="1.4"/>
<circle cx="62.7" cy="625.5" r="1.4"/>
<circle cx="49.2" cy="636.7" r="1.4"/>
<circle cx="43.9" cy="627.5" r="1.4"/>
<circle cx="60.5" cy="594.4" r="1.4"/>
<circle cx="54.1" cy="645.5" r="1.4"/>
<circle cx="51.7" cy="635.8" r="1.4"/>
<circle cx="53.2" cy="632.1" r="1.4"/>
<circle cx="53.6" cy="636.5" r="1.4"/>
<circle cx="44.8" cy="640.8" r="1.4"/>
<circle cx="33.4" cy="631.5" r="1.4"/>
<circle cx="50.6" cy="627.9" r="1.4"/>
<circle cx="54.4" cy="598.5" r="1.4"/>
<circle cx="43.3" cy="643" r="1.4"/>
<circle cx="61.2" cy="626.9" r="1.4"/>
<circle cx="64.4" cy="618.7" r="1.4"/>
<circle cx="63" cy="616.7" r="1.4"/>
<circle cx="69.1" cy="602" r="1.4"/>
<circle cx="43.7" cy="627.4" r="1.4"/>
<circle cx="39.1" cy="630.1" r="1.4"/>
<circle cx="67.1" cy="631.9" r="1.4"/>
<circle cx="72.2" cy="642.6" r="1.4"/>
<circle cx="64.1" cy="591.7" r="1.4"/>
<circle cx="49.2" cy="642.9" r="1.4"/>
<circle cx="52.9" cy="645.4" r="1.4"/>
<circle cx="70" cy="642" r="1.4"/>
<circle cx="54.9" cy="646.6" r="1.4"/>
<circle cx="57.7" cy="644.3" r="1.4"/>
<circle cx="67.9" cy="626" r="1.4"/>
<circle cx="44" cy="617" r="1.4"/>
<circle cx="45.2" cy="615.9" r="1.4"/>
<circle cx="65.5" cy="643.5" r="1.4"/>
<circle cx="34.3" cy="645.9" r="1.4"/>
<circle cx="57.3" cy="622.1" r="1.4"/>
<circle cx="53.2" cy="634.7" r="1.4"/>
<circle cx="71" cy="631.3" r="1.4"/>
<circle cx="63.1" cy="628.5" r="1.4"/>
<circle cx="43.6" cy="638.6" r="1.4"/>
<circle cx="53.7" cy="636.1" r="1.4"/>
<circle cx="63.9" cy="629.2" r="1.4"/>
<circle cx="54.8" cy="619.4" r="1.4"/>
<circle cx="61.3" cy="645.5" r="1.4"/>
<circle cx="47.5" cy="629.8" r="1.4"/>
<circle cx="44.3" cy="641.5" r="1.4"/>
<circle cx="64.2" cy="624.3" r="1.4"/>
<circle cx="46.9" cy="570.6" r="1.4"/>
<circle cx="33.8" cy="638.5" r="1.4"/>
<circle cx="58.8" cy="622.1" r="1.4"/>
<circle cx="61.1" cy="626.7" r="1.4"/>
<circle cx="43.7" cy="627.3" r="1.4"/>
<circle cx="49.1" cy="645" r="1.4"/>
<circle cx="33.7" cy="596.7" r="1.4"/>
<circle cx="35.8" cy="634.4" r="1.4"/>
<circle cx="33" cy="633" r="1.4"/>
<circle cx="66.7" cy="642.8" r="1.4"/>
<circle cx="57.1" cy="628.6" r="1.4"/>
<circle cx="39.9" cy="606.2" r="1.4"/>
<circle cx="42.5" cy="643" r="1.4"/>
<circle cx="72.1" cy="608.9" r="1.4"/>
<circle cx="71.6" cy="646" r="1.4"/>
<circle cx="60.8" cy="631.7" r="1.4"/>
<circle cx="51.5" cy="628.9" r="1.4"/>
<circle cx="33.4" cy="629.6" r="1.4"/>
<circle cx="34.8" cy="639.7" r="1.4"/>
<circle cx="71.1" cy="583.4" r="1.4"/>
<circle cx="65.6" cy="634.3" r="1.4"/>
<circle cx="58.5" cy="637.9" r="1.4"/>
<circle cx="71" cy="628.4" r="1.4"/>
<circle cx="71.1" cy="628.8" r="1.4"/>
<circle cx="42.6" cy="635.9" r="1.4"/>
<circle cx="67.3" cy="623.8" r="1.4"/>
<circle cx="62.5" cy="618.9" r="1.4"/>
</g>
<line x1="52.4" y1="599.66" x2="52.4" y2="647.65" stroke="#222" stroke-width="0.8"/>
<rect x="34.7" y="624.8" width="35.4" height="16.68" fill="#fff" stroke="#2a2a2a" stroke-width="0.8"/>
<line x1="34.7" y1="633.71" x2="70.1" y2="633.71" stroke="#333" stroke-width="0.9"/>
<g fill="#1f5da8" stroke="#07172c" stroke-width="0.5">
<use href="#d140" x="82.2" y="642.7"/>
<use href="#d140" x="85.5" y="639.5"/>
<use href="#d140" x="105.8" y="643.1"/>
<use href="#d140" x="110.7" y="646.4"/>
<use href="#d140" x="88.5" y="635.3"/>
<use href="#d140" x="98.7" y="637.1"/>
<use href="#d140" x="87.1" y="647.5"/>
<use href="#d140" x="80.3" y="637.5"/>
<use href="#d140" x="106.8" y="627"/>
<use href="#d140" x="115.1" y="637"/>
<use href="#d140" x="100.5" y="646.4"/>
<use href="#d140" x="99.9" y="643.9"/>
<use href="#d140" x="107.3" y="631.6"/>
<use href="#d140" x="115.5" y="640.1"/>
<use href="#d140" x="110.1" y="634.6"/>
<use href="#d140" x="116.8" y="629.2"/>
<use href="#d140" x="96.3" y="630.1"/>
<use href="#d140" x="118.2" y="645.2"/>
<use href="#d140" x="115.8" y="629"/>
<use href="#d140" x="83.3" y="615.7"/>
<use href="#d140" x="88.5" y="640.1"/>
<use href="#d140" x="107.2" y="641.3"/>
<use href="#d140" x="81.5" y="635.9"/>
<use href="#d140" x="104.5" y="642.1"/>
<use href="#d140" x="104.3" y="639.6"/>
<use href="#d140" x="99.8" y="646.9"/>
<use href="#d140" x="104.1" y="646.5"/>
<use href="#d140" x="79.3" y="632.2"/>
<use href="#d140" x="117.5" y="634.2"/>
<use href="#d140" x="94.9" y="627.6"/>
<use href="#d140" x="107.5" y="628"/>
<use href="#d140" x="96.4" y="640.9"/>
<use href="#d140" x="82.5" y="632.7"/>
<use href="#d140" x="82.5" y="647.1"/>
<use href="#d140" x="88.3" y="619.1"/>
<use href="#d140" x="115.6" y="646.4"/>
<use href="#d140" x="94.2" y="629.8"/>
<use href="#d140" x="86.6" y="646.2"/>
<use href="#d140" x="80.1" y="641.3"/>
<use href="#d140" x="117.4" y="628.4"/>
<use href="#d140" x="113.9" y="633.4"/>
<use href="#d140" x="84.6" y="638.1"/>
<use href="#d140" x="85.7" y="647.2"/>
<use href="#d140" x="93.5" y="646.6"/>
<use href="#d140" x="79.5" y="639.2"/>
<use href="#d140" x="102.3" y="645.8"/>
<use href="#d140" x="99.1" y="635.5"/>
<use href="#d140" x="87.7" y="611.1"/>
<use href="#d140" x="102" y="641.9"/>
<use href="#d140" x="96.8" y="641.4"/>
<use href="#d140" x="85.4" y="643.7"/>
<use href="#d140" x="109.7" y="644.2"/>
<use href="#d140" x="108.3" y="647.6"/>
<use href="#d140" x="107.3" y="644.6"/>
<use href="#d140" x="104.2" y="646.1"/>
<use href="#d140" x="108.9" y="643.6"/>
<use href="#d140" x="88.5" y="633.5"/>
<use href="#d140" x="103.4" y="642"/>
<use href="#d140" x="93.3" y="646"/>
<use href="#d140" x="79.5" y="646.6"/>
<use href="#d140" x="80.6" y="646.9"/>
<use href="#d140" x="105.9" y="646"/>
<use href="#d140" x="113.8" y="632.3"/>
<use href="#d140" x="96.8" y="646.6"/>
<use href="#d140" x="84" y="647.6"/>
<use href="#d140" x="101.1" y="647"/>
<use href="#d140" x="116.7" y="638.4"/>
<use href="#d140" x="81.4" y="629.4"/>
<use href="#d140" x="118.5" y="633.5"/>
<use href="#d140" x="80.8" y="636.1"/>
<use href="#d140" x="87" y="642.7"/>
<use href="#d140" x="94.7" y="645.3"/>
<use href="#d140" x="110.1" y="637.7"/>
<use href="#d140" x="110.6" y="630"/>
<use href="#d140" x="110.1" y="643.7"/>
<use href="#d140" x="80.7" y="647.6"/>
<use href="#d140" x="90.8" y="633.4"/>
<use href="#d140" x="81.7" y="631.5"/>
<use href="#d140" x="83.9" y="640"/>
<use href="#d140" x="98.1" y="634.8"/>
<use href="#d140" x="90.5" y="631.5"/>
<use href="#d140" x="79.8" y="646.6"/>
<use href="#d140" x="115.2" y="643.2"/>
<use href="#d140" x="107.6" y="633.8"/>
<use href="#d140" x="102.7" y="606.3"/>
<use href="#d140" x="93.9" y="631.1"/>
<use href="#d140" x="115.4" y="646.2"/>
<use href="#d140" x="108.1" y="646.7"/>
<use href="#d140" x="87.8" y="631"/>
<use href="#d140" x="92" y="635.9"/>
<use href="#d140" x="115.4" y="646.3"/>
<use href="#d140" x="104.2" y="644.3"/>
<use href="#d140" x="83.2" y="636.5"/>
<use href="#d140" x="92" y="645.9"/>
<use href="#d140" x="90.6" y="645.7"/>
<use href="#d140" x="84.4" y="629.4"/>
<use href="#d140" x="100.2" y="643.3"/>
<use href="#d140" x="108" y="626.8"/>
<use href="#d140" x="87" y="641.3"/>
<use href="#d140" x="89.8" y="631.2"/>
<use href="#d140" x="91.3" y="624.3"/>
<use href="#d140" x="85.3" y="629.4"/>
<use href="#d140" x="89" y="633"/>
<use href="#d140" x="97.9" y="647.5"/>
<use href="#d140" x="111.6" y="591"/>
<use href="#d140" x="117.1" y="634.3"/>
<use href="#d140" x="97.8" y="642.8"/>
<use href="#d140" x="114.7" y="628.3"/>
<use href="#d140" x="93.5" y="632.7"/>
<use href="#d140" x="105.5" y="637.4"/>
<use href="#d140" x="93.5" y="638.1"/>
<use href="#d140" x="102.3" y="620.9"/>
<use href="#d140" x="96.4" y="646.5"/>
<use href="#d140" x="97.7" y="641"/>
<use href="#d140" x="107.3" y="647.2"/>
<use href="#d140" x="97.3" y="645.8"/>
<use href="#d140" x="106.9" y="646.1"/>
<use href="#d140" x="93.4" y="635.8"/>
<use href="#d140" x="86.9" y="634.6"/>
<use href="#d140" x="80.7" y="643.8"/>
<use href="#d140" x="102.7" y="638.6"/>
<use href="#d140" x="80.8" y="646.4"/>
<use href="#d140" x="109.7" y="641.6"/>
<use href="#d140" x="108.9" y="644.5"/>
<use href="#d140" x="89" y="635.1"/>
<use href="#d140" x="96.8" y="622.5"/>
<use href="#d140" x="113.5" y="643.8"/>
<use href="#d140" x="113.4" y="645.9"/>
<use href="#d140" x="116.6" y="642.4"/>
<use href="#d140" x="114.3" y="634.5"/>
<use href="#d140" x="112.9" y="644.7"/>
<use href="#d140" x="106.7" y="636.2"/>
<use href="#d140" x="80.3" y="637.8"/>
<use href="#d140" x="86.7" y="642"/>
<use href="#d140" x="92.6" y="646.2"/>
<use href="#d140" x="115.4" y="644.4"/>
<use href="#d140" x="97.4" y="646.5"/>
<use href="#d140" x="107.6" y="639.8"/>
<use href="#d140" x="97" y="643"/>
<use href="#d140" x="97.7" y="639"/>
<use href="#d140" x="110.3" y="638.2"/>
<use href="#d140" x="99.3" y="624.1"/>
<use href="#d140" x="82.1" y="630.2"/>
<use href="#d140" x="113.3" y="646.4"/>
<use href="#d140" x="104" y="646.6"/>
<use href="#d140" x="101.4" y="642.8"/>
<use href="#d140" x="110.5" y="632.8"/>
<use href="#d140" x="81.2" y="631.1"/>
<use href="#d140" x="103.3" y="637"/>
<use href="#d140" x="108.5" y="638.9"/>
<use href="#d140" x="81.9" y="641.5"/>
<use href="#d140" x="102.5" y="645.2"/>
<use href="#d140" x="100.3" y="639.2"/>
<use href="#d140" x="105.3" y="642.2"/>
<use href="#d140" x="108.7" y="646.8"/>
<use href="#d140" x="111.5" y="642.9"/>
<use href="#d140" x="100.8" y="635.5"/>
<use href="#d140" x="85.8" y="617.3"/>
<use href="#d140" x="113" y="645.4"/>
<use href="#d140" x="89.9" y="643.3"/>
<use href="#d140" x="100.5" y="647.2"/>
<use href="#d140" x="112.5" y="646.3"/>
<use href="#d140" x="115.6" y="642.4"/>
<use href="#d140" x="79.6" y="639.6"/>
<use href="#d140" x="81.3" y="645.1"/>
<use href="#d140" x="83.2" y="627.1"/>
<use href="#d140" x="83.1" y="636.1"/>
<use href="#d140" x="109.9" y="630.2"/>
<use href="#d140" x="97.2" y="628.3"/>
<use href="#d140" x="113.2" y="646.8"/>
<use href="#d140" x="87" y="646.5"/>
<use href="#d140" x="88.3" y="641.3"/>
<use href="#d140" x="100.6" y="640.6"/>
<use href="#d140" x="118" y="633.7"/>
<use href="#d140" x="82.4" y="636.6"/>
<use href="#d140" x="88.6" y="645.7"/>
<use href="#d140" x="86.9" y="646.7"/>
<use href="#d140" x="97.6" y="633.5"/>
<use href="#d140" x="117.7" y="647.6"/>
<use href="#d140" x="80.3" y="644.3"/>
<use href="#d140" x="83.3" y="646.9"/>
<use href="#d140" x="102" y="633.3"/>
<use href="#d140" x="105.9" y="635.2"/>
<use href="#d140" x="81.9" y="645.5"/>
<use href="#d140" x="104.5" y="639.7"/>
<use href="#d140" x="94.5" y="641.7"/>
<use href="#d140" x="85.5" y="646.3"/>
<use href="#d140" x="98" y="628.8"/>
<use href="#d140" x="88.5" y="647.4"/>
<use href="#d140" x="105.4" y="646.8"/>
<use href="#d140" x="84.7" y="631.4"/>
<use href="#d140" x="115.9" y="635"/>
<use href="#d140" x="91.9" y="645.9"/>
<use href="#d140" x="112.6" y="638.7"/>
<use href="#d140" x="96.4" y="628.3"/>
<use href="#d140" x="111.6" y="645.2"/>
<use href="#d140" x="106.9" y="646.9"/>
<use href="#d140" x="100.3" y="644.2"/>
<use href="#d140" x="89.9" y="642.9"/>
<use href="#d140" x="111.8" y="642.5"/>
<use href="#d140" x="101.8" y="646"/>
<use href="#d140" x="111.3" y="637.7"/>
<use href="#d140" x="111.7" y="627.7"/>
<use href="#d140" x="88.6" y="628.2"/>
<use href="#d140" x="102.9" y="646.8"/>
<use href="#d140" x="82" y="647.2"/>
<use href="#d140" x="91.5" y="636.6"/>
<use href="#d140" x="92.8" y="646.2"/>
<use href="#d140" x="108.4" y="636.8"/>
<use href="#d140" x="114.8" y="631.4"/>
<use href="#d140" x="89.6" y="646.9"/>
<use href="#d140" x="90.1" y="645.9"/>
<use href="#d140" x="93.8" y="634.7"/>
<use href="#d140" x="94.3" y="646.4"/>
<use href="#d140" x="79" y="642.2"/>
<use href="#d140" x="81.5" y="616.6"/>
<use href="#d140" x="108.4" y="635.4"/>
<use href="#d140" x="87.7" y="646.8"/>
<use href="#d140" x="114.2" y="636.1"/>
<use href="#d140" x="82.7" y="641.4"/>
<use href="#d140" x="82.9" y="646.5"/>
<use href="#d140" x="115.4" y="635.2"/>
<use href="#d140" x="91" y="628.7"/>
<use href="#d140" x="97.5" y="634.3"/>
<use href="#d140" x="93.9" y="633.3"/>
<use href="#d140" x="89" y="642.7"/>
<use href="#d140" x="81.2" y="606.7"/>
<use href="#d140" x="115" y="630.7"/>
<use href="#d140" x="104" y="631.2"/>
<use href="#d140" x="103.2" y="641.3"/>
<use href="#d140" x="97.6" y="645.3"/>
<use href="#d140" x="93.3" y="640"/>
<use href="#d140" x="96.2" y="646.2"/>
<use href="#d140" x="79.9" y="637.8"/>
<use href="#d140" x="118" y="645.8"/>
<use href="#d140" x="103.5" y="628.9"/>
<use href="#d140" x="93.5" y="628.7"/>
<use href="#d140" x="91.5" y="636.3"/>
<use href="#d140" x="105" y="647.1"/>
<use href="#d140" x="99.9" y="646.5"/>
<use href="#d140" x="81.5" y="644.1"/>
<use href="#d140" x="86.9" y="641.6"/>
<use href="#d140" x="101" y="643.5"/>
<use href="#d140" x="111.2" y="643.3"/>
<use href="#d140" x="89.3" y="645.1"/>
<use href="#d140" x="112" y="646.8"/>
<use href="#d140" x="113.3" y="625.7"/>
<use href="#d140" x="117.3" y="640.9"/>
<use href="#d140" x="94.2" y="641.3"/>
<use href="#d140" x="83.1" y="632.5"/>
<use href="#d140" x="108.3" y="635.4"/>
<use href="#d140" x="83.8" y="644"/>
<use href="#d140" x="115.3" y="637.1"/>
<use href="#d140" x="105.8" y="641.6"/>
<use href="#d140" x="86.6" y="634.2"/>
<use href="#d140" x="89.9" y="630.5"/>
<use href="#d140" x="118.2" y="633.9"/>
<use href="#d140" x="98.4" y="646.1"/>
<use href="#d140" x="99.4" y="634.7"/>
<use href="#d140" x="87.1" y="644.4"/>
<use href="#d140" x="89.8" y="642.3"/>
<use href="#d140" x="89.4" y="647"/>
<use href="#d140" x="85.2" y="646.4"/>
<use href="#d140" x="84.7" y="633.1"/>
<use href="#d140" x="91.9" y="642.1"/>
<use href="#d140" x="87.5" y="643.6"/>
<use href="#d140" x="112.6" y="633"/>
<use href="#d140" x="79.6" y="631.8"/>
<use href="#d140" x="85.7" y="646.6"/>
<use href="#d140" x="108.5" y="635.7"/>
<use href="#d140" x="93.7" y="642.4"/>
<use href="#d140" x="100.2" y="644.7"/>
<use href="#d140" x="98.1" y="645.3"/>
<use href="#d140" x="92.1" y="646.1"/>
<use href="#d140" x="82.8" y="627.5"/>
<use href="#d140" x="111.2" y="634.8"/>
<use href="#d140" x="86.5" y="643.5"/>
<use href="#d140" x="112.3" y="642.1"/>
<use href="#d140" x="90.9" y="630.3"/>
<use href="#d140" x="81.5" y="635.6"/>
<use href="#d140" x="108.4" y="642.6"/>
<use href="#d140" x="100.8" y="646.9"/>
<use href="#d140" x="102.7" y="632.3"/>
<use href="#d140" x="118.3" y="640.3"/>
<use href="#d140" x="118.2" y="631.6"/>
<use href="#d140" x="101.4" y="644.7"/>
<use href="#d140" x="87.8" y="646.6"/>
<use href="#d140" x="87" y="633.7"/>
<use href="#d140" x="97.2" y="633.8"/>
<use href="#d140" x="103.3" y="647.1"/>
<use href="#d140" x="81.5" y="633"/>
<use href="#d140" x="106.2" y="642.8"/>
<use href="#d140" x="112.4" y="632.9"/>
<use href="#d140" x="94.1" y="647.2"/>
<use href="#d140" x="117.5" y="638.6"/>
<use href="#d140" x="104.9" y="646.2"/>
<use href="#d140" x="90.3" y="637.8"/>
<use href="#d140" x="108.7" y="647.5"/>
<use href="#d140" x="107" y="630"/>
<use href="#d140" x="89.2" y="632"/>
<use href="#d140" x="91.3" y="647.1"/>
<use href="#d140" x="84.9" y="644"/>
<use href="#d140" x="98.2" y="646.4"/>
<use href="#d140" x="91.3" y="646.8"/>
<use href="#d140" x="93.4" y="645.8"/>
<use href="#d140" x="103" y="641.6"/>
<use href="#d140" x="83.8" y="643.5"/>
<use href="#d140" x="94.2" y="644.2"/>
<use href="#d140" x="92.4" y="647.5"/>
<use href="#d140" x="91.3" y="631.5"/>
<use href="#d140" x="118.3" y="628.2"/>
<use href="#d140" x="83.6" y="628.1"/>
<use href="#d140" x="85.1" y="646.7"/>
<use href="#d140" x="105.9" y="597.2"/>
<use href="#d140" x="102.8" y="646.4"/>
<use href="#d140" x="115.9" y="646.6"/>
<use href="#d140" x="110.2" y="634.7"/>
<use href="#d140" x="89.6" y="644.1"/>
<use href="#d140" x="118" y="638.7"/>
<use href="#d140" x="101.5" y="647.1"/>
<use href="#d140" x="96.4" y="645"/>
<use href="#d140" x="85.8" y="642.6"/>
<use href="#d140" x="109" y="639.1"/>
<use href="#d140" x="91.9" y="644.5"/>
<use href="#d140" x="91.4" y="636.5"/>
<use href="#d140" x="104.9" y="646.7"/>
<use href="#d140" x="82.8" y="635.7"/>
<use href="#d140" x="112.2" y="631.9"/>
<use href="#d140" x="89.7" y="641"/>
<use href="#d140" x="111.7" y="632.7"/>
<use href="#d140" x="86.9" y="646.6"/>
<use href="#d140" x="114.1" y="642.2"/>
<use href="#d140" x="92.7" y="638.4"/>
<use href="#d140" x="83.4" y="644.2"/>
<use href="#d140" x="91.4" y="647.4"/>
<use href="#d140" x="83" y="641.6"/>
<use href="#d140" x="103.1" y="646.9"/>
<use href="#d140" x="104.7" y="629.1"/>
<use href="#d140" x="90" y="647.5"/>
<use href="#d140" x="108.2" y="646"/>
<use href="#d140" x="96.8" y="639.7"/>
<use href="#d140" x="108.9" y="646.3"/>
<use href="#d140" x="94.3" y="631.1"/>
<use href="#d140" x="87.2" y="646.2"/>
<use href="#d140" x="84.9" y="631.2"/>
<use href="#d140" x="105.4" y="643.8"/>
<use href="#d140" x="87" y="629.2"/>
<use href="#d140" x="84.9" y="637.7"/>
<use href="#d140" x="101.4" y="638.9"/>
<use href="#d140" x="103" y="627.4"/>
<use href="#d140" x="111.8" y="646.9"/>
<use href="#d140" x="97" y="647"/>
<use href="#d140" x="92.6" y="630.2"/>
<use href="#d140" x="99.8" y="641.2"/>
<use href="#d140" x="115" y="631.3"/>
<use href="#d140" x="92.9" y="647.6"/>
<use href="#d140" x="92.7" y="646.2"/>
<use href="#d140" x="84.8" y="645.8"/>
<use href="#d140" x="92.4" y="636.5"/>
<use href="#d140" x="109.8" y="636.6"/>
<use href="#d140" x="93.8" y="636.3"/>
<use href="#d140" x="80.1" y="626.5"/>
<use href="#d140" x="113.4" y="632"/>
<use href="#d140" x="82.9" y="636.6"/>
<use href="#d140" x="93.7" y="647.6"/>
<use href="#d140" x="95.2" y="647.4"/>
<use href="#d140" x="109.8" y="642.7"/>
<use href="#d140" x="93.1" y="640"/>
<use href="#d140" x="117.7" y="627.7"/>
<use href="#d140" x="79.2" y="646.9"/>
<use href="#d140" x="106.3" y="642.1"/>
<use href="#d140" x="90.8" y="634.4"/>
<use href="#d140" x="110.5" y="647.2"/>
<use href="#d140" x="108.1" y="635.3"/>
<use href="#d140" x="93.8" y="647.1"/>
<use href="#d140" x="87.5" y="646.6"/>
<use href="#d140" x="83.6" y="637.9"/>
<use href="#d140" x="91.4" y="646.8"/>
<use href="#d140" x="85.8" y="632.4"/>
<use href="#d140" x="104.2" y="646.3"/>
<use href="#d140" x="110.9" y="631.9"/>
<use href="#d140" x="82" y="641.5"/>
<use href="#d140" x="93.4" y="643.7"/>
<use href="#d140" x="117.8" y="646.2"/>
<use href="#d140" x="104.9" y="637.3"/>
<use href="#d140" x="92.3" y="643.2"/>
<use href="#d140" x="92.6" y="646.9"/>
<use href="#d140" x="112.6" y="647.4"/>
<use href="#d140" x="93.2" y="639.4"/>
<use href="#d140" x="111.6" y="575.9"/>
<use href="#d140" x="117.6" y="631.5"/>
<use href="#d140" x="86.1" y="645"/>
<use href="#d140" x="95.2" y="644.4"/>
<use href="#d140" x="86.7" y="635.3"/>
<use href="#d140" x="83.2" y="646.8"/>
<use href="#d140" x="96.7" y="646.4"/>
<use href="#d140" x="93.7" y="636.6"/>
<use href="#d140" x="106.7" y="638.3"/>
<use href="#d140" x="104.1" y="629.7"/>
<use href="#d140" x="102.8" y="646.9"/>
<use href="#d140" x="80.9" y="646.3"/>
<use href="#d140" x="80.9" y="645.7"/>
<use href="#d140" x="80.5" y="637.6"/>
<use href="#d140" x="104.4" y="633.9"/>
<use href="#d140" x="89.9" y="645.1"/>
<use href="#d140" x="110.2" y="642.6"/>
<use href="#d140" x="114.7" y="637.3"/>
<use href="#d140" x="104.8" y="646.4"/>
<use href="#d140" x="116.8" y="638.4"/>
<use href="#d140" x="88.3" y="642.8"/>
<use href="#d140" x="106" y="646.8"/>
<use href="#d140" x="85" y="644.1"/>
<use href="#d140" x="112.8" y="646.5"/>
<use href="#d140" x="97" y="638.3"/>
<use href="#d140" x="98.1" y="640.7"/>
<use href="#d140" x="87.7" y="647.5"/>
<use href="#d140" x="82.2" y="640.2"/>
<use href="#d140" x="88.8" y="631.8"/>
<use href="#d140" x="97.8" y="633.6"/>
<use href="#d140" x="85.4" y="646.8"/>
<use href="#d140" x="83.6" y="646.1"/>
<use href="#d140" x="92.8" y="637.6"/>
<use href="#d140" x="102.9" y="640.7"/>
<use href="#d140" x="113.3" y="636"/>
<use href="#d140" x="89.1" y="647.1"/>
<use href="#d140" x="94.6" y="641.4"/>
<use href="#d140" x="86.5" y="647.1"/>
<use href="#d140" x="99.5" y="629.6"/>
<use href="#d140" x="105.6" y="639.7"/>
<use href="#d140" x="112.5" y="634.7"/>
<use href="#d140" x="117.2" y="642.5"/>
<use href="#d140" x="83.8" y="641.8"/>
<use href="#d140" x="82.7" y="641.8"/>
<use href="#d140" x="103.6" y="630.7"/>
<use href="#d140" x="86.5" y="629.4"/>
<use href="#d140" x="110.1" y="634.5"/>
<use href="#d140" x="111.9" y="636.2"/>
<use href="#d140" x="106.1" y="635.4"/>
<use href="#d140" x="117.1" y="645.7"/>
<use href="#d140" x="91.3" y="645.7"/>
<use href="#d140" x="87.8" y="638.2"/>
<use href="#d140" x="116.9" y="628.3"/>
<use href="#d140" x="90.3" y="620.9"/>
<use href="#d140" x="96.2" y="636.3"/>
<use href="#d140" x="86" y="633.1"/>
<use href="#d140" x="98.6" y="645.2"/>
<use href="#d140" x="107.7" y="628.7"/>
<use href="#d140" x="106.5" y="631.1"/>
<use href="#d140" x="117.1" y="640.9"/>
<use href="#d140" x="116.3" y="646.5"/>
<use href="#d140" x="83.6" y="645.1"/>
<use href="#d140" x="82" y="642.9"/>
<use href="#d140" x="92.8" y="631.9"/>
<use href="#d140" x="86.8" y="634"/>
<use href="#d140" x="107.9" y="642"/>
<use href="#d140" x="113.9" y="632.2"/>
<use href="#d140" x="91.9" y="647.2"/>
<use href="#d140" x="83.9" y="635.7"/>
<use href="#d140" x="92.7" y="633.5"/>
<use href="#d140" x="81.1" y="633.5"/>
<use href="#d140" x="83.3" y="643.8"/>
<use href="#d140" x="88.2" y="645.2"/>
<use href="#d140" x="107.2" y="636.7"/>
<use href="#d140" x="110.4" y="631.6"/>
<use href="#d140" x="112.2" y="632.9"/>
<use href="#d140" x="95.9" y="644.1"/>
<use href="#d140" x="109.3" y="647.4"/>
<use href="#d140" x="87.4" y="647.5"/>
<use href="#d140" x="109.9" y="646"/>
<use href="#d140" x="90.2" y="647"/>
<use href="#d140" x="103.9" y="646"/>
<use href="#d140" x="82.2" y="646.3"/>
<use href="#d140" x="84" y="632.1"/>
<use href="#d140" x="79.7" y="642.2"/>
<use href="#d140" x="90" y="646"/>
<use href="#d140" x="91.2" y="635.8"/>
<use href="#d140" x="117.1" y="647.2"/>
<use href="#d140" x="89" y="645.7"/>
<use href="#d140" x="100.6" y="628.4"/>
<use href="#d140" x="111.2" y="630.1"/>
<use href="#d140" x="108.6" y="646.9"/>
<use href="#d140" x="83.2" y="647.1"/>
<use href="#d140" x="101.2" y="646.5"/>
<use href="#d140" x="79.1" y="630.3"/>
<use href="#d140" x="80.7" y="638.7"/>
<use href="#d140" x="114.1" y="633.2"/>
<use href="#d140" x="104.2" y="644.8"/>
<use href="#d140" x="88.5" y="647.5"/>
<use href="#d140" x="93.5" y="627.7"/>
<use href="#d140" x="111.6" y="630.2"/>
<use href="#d140" x="110.2" y="643.4"/>
<use href="#d140" x="91.5" y="638.4"/>
<use href="#d140" x="106" y="626.6"/>
<use href="#d140" x="113" y="633.9"/>
<use href="#d140" x="113.7" y="646.9"/>
<use href="#d140" x="81.2" y="627.4"/>
<use href="#d140" x="81.9" y="643.4"/>
<use href="#d140" x="87.2" y="646"/>
<use href="#d140" x="82" y="646.5"/>
<use href="#d140" x="91.4" y="630.5"/>
<use href="#d140" x="85.5" y="640.1"/>
<use href="#d140" x="87.3" y="645.6"/>
<use href="#d140" x="109" y="642.1"/>
<use href="#d140" x="79.2" y="640.3"/>
<use href="#d140" x="88.3" y="642.4"/>
<use href="#d140" x="109.8" y="638.3"/>
<use href="#d140" x="116.3" y="632.8"/>
<use href="#d140" x="91.1" y="643"/>
<use href="#d140" x="111.7" y="629.4"/>
<use href="#d140" x="88.5" y="636"/>
<use href="#d140" x="89" y="633.2"/>
<use href="#d140" x="85.5" y="645.2"/>
<use href="#d140" x="100" y="636"/>
<use href="#d140" x="100.5" y="641.4"/>
<use href="#d140" x="114.3" y="628.8"/>
<use href="#d140" x="96.1" y="628.6"/>
<use href="#d140" x="81.5" y="633.3"/>
<use href="#d140" x="87" y="645.4"/>
<use href="#d140" x="111" y="646.3"/>
<use href="#d140" x="116.4" y="642.1"/>
<use href="#d140" x="93.5" y="633.6"/>
<use href="#d140" x="85.7" y="647.3"/>
<use href="#d140" x="106.1" y="646.1"/>
<use href="#d140" x="99" y="639.3"/>
<use href="#d140" x="89.3" y="639.5"/>
<use href="#d140" x="117.1" y="637.1"/>
<use href="#d140" x="97.8" y="633.4"/>
<use href="#d140" x="98.4" y="630.6"/>
<use href="#d140" x="103.5" y="643.6"/>
<use href="#d140" x="99.2" y="643.5"/>
<use href="#d140" x="111.8" y="632.4"/>
<use href="#d140" x="86" y="637.9"/>
<use href="#d140" x="103.5" y="643.6"/>
<use href="#d140" x="83.8" y="642.4"/>
<use href="#d140" x="86" y="647.5"/>
<use href="#d140" x="93.9" y="643.5"/>
<use href="#d140" x="103.7" y="646.4"/>
<use href="#d140" x="86.1" y="645.2"/>
<use href="#d140" x="93.2" y="641.8"/>
<use href="#d140" x="115.8" y="647.1"/>
<use href="#d140" x="98.6" y="646.6"/>
<use href="#d140" x="102.5" y="634.3"/>
<use href="#d140" x="105.8" y="641.8"/>
<use href="#d140" x="97.3" y="646.6"/>
<use href="#d140" x="87.8" y="628.1"/>
<use href="#d140" x="113.6" y="629.6"/>
<use href="#d140" x="113.6" y="631.5"/>
<use href="#d140" x="114.8" y="646.2"/>
<use href="#d140" x="81" y="634.9"/>
<use href="#d140" x="118" y="631.4"/>
<use href="#d140" x="118.3" y="643.6"/>
<use href="#d140" x="104.4" y="637.7"/>
<use href="#d140" x="94.3" y="623.7"/>
<use href="#d140" x="92.3" y="622.5"/>
<use href="#d140" x="113" y="633.6"/>
<use href="#d140" x="89.5" y="646.1"/>
<use href="#d140" x="111.4" y="641.1"/>
<use href="#d140" x="80" y="645"/>
<use href="#d140" x="111.3" y="624.3"/>
<use href="#d140" x="112.8" y="635.4"/>
<use href="#d140" x="114.4" y="647.1"/>
<use href="#d140" x="88.2" y="646.4"/>
<use href="#d140" x="98.1" y="636.9"/>
<use href="#d140" x="82.8" y="643.4"/>
<use href="#d140" x="115.9" y="644.1"/>
<use href="#d140" x="108.8" y="645.4"/>
<use href="#d140" x="105.2" y="644.5"/>
<use href="#d140" x="91.3" y="646.6"/>
<use href="#d140" x="102.1" y="639.5"/>
<use href="#d140" x="88.9" y="646.7"/>
<use href="#d140" x="79.3" y="635.2"/>
<use href="#d140" x="113.8" y="642.8"/>
<use href="#d140" x="112.2" y="645.8"/>
<use href="#d140" x="97.2" y="643.4"/>
<use href="#d140" x="79.7" y="647"/>
<use href="#d140" x="96.4" y="645.3"/>
<use href="#d140" x="90.6" y="647.4"/>
<use href="#d140" x="80.8" y="645.1"/>
<use href="#d140" x="98.6" y="645.6"/>
<use href="#d140" x="85.1" y="628.4"/>
<use href="#d140" x="84.7" y="629.1"/>
<use href="#d140" x="89.4" y="632.1"/>
<use href="#d140" x="117.2" y="644.9"/>
<use href="#d140" x="82.1" y="637.5"/>
<use href="#d140" x="96.8" y="635.8"/>
<use href="#d140" x="93.5" y="637.8"/>
<use href="#d140" x="93.7" y="632.7"/>
<use href="#d140" x="118.1" y="632.8"/>
<use href="#d140" x="117.5" y="639"/>
<use href="#d140" x="94.5" y="644.1"/>
<use href="#d140" x="79.3" y="646.5"/>
<use href="#d140" x="80" y="644.2"/>
<use href="#d140" x="97.3" y="631.3"/>
<use href="#d140" x="108.9" y="643"/>
<use href="#d140" x="94.7" y="637"/>
<use href="#d140" x="105.1" y="634.7"/>
<use href="#d140" x="83.4" y="647.2"/>
<use href="#d140" x="110.2" y="645"/>
<use href="#d140" x="79.8" y="647.4"/>
<use href="#d140" x="87.8" y="622.1"/>
<use href="#d140" x="99.3" y="634.9"/>
<use href="#d140" x="109.7" y="634.6"/>
<use href="#d140" x="107.8" y="625.3"/>
<use href="#d140" x="85.8" y="647.5"/>
<use href="#d140" x="85" y="636.7"/>
<use href="#d140" x="98.4" y="628.1"/>
<use href="#d140" x="99.4" y="634.9"/>
<use href="#d140" x="94.2" y="638.3"/>
<use href="#d140" x="91.9" y="643.1"/>
<use href="#d140" x="99.8" y="647.3"/>
<use href="#d140" x="94.8" y="603.3"/>
<use href="#d140" x="79.3" y="638.7"/>
<use href="#d140" x="112.2" y="647.1"/>
<use href="#d140" x="103.8" y="637.8"/>
<use href="#d140" x="81.7" y="643.7"/>
<use href="#d140" x="86.7" y="642.6"/>
<use href="#d140" x="84.1" y="646.2"/>
<use href="#d140" x="99.4" y="643.1"/>
<use href="#d140" x="87.1" y="641.5"/>
<use href="#d140" x="95.3" y="641.2"/>
<use href="#d140" x="92.9" y="646.1"/>
<use href="#d140" x="104.1" y="637.7"/>
<use href="#d140" x="81.2" y="644.7"/>
<use href="#d140" x="108.4" y="632.6"/>
<use href="#d140" x="91" y="644"/>
<use href="#d140" x="92" y="643"/>
<use href="#d140" x="82.9" y="642"/>
<use href="#d140" x="104.5" y="630.3"/>
<use href="#d140" x="81.6" y="635.9"/>
<use href="#d140" x="97.9" y="642.1"/>
<use href="#d140" x="106" y="636.2"/>
<use href="#d140" x="92.2" y="645.9"/>
<use href="#d140" x="110.3" y="641"/>
<use href="#d140" x="88.4" y="645.4"/>
<use href="#d140" x="99.1" y="643.4"/>
<use href="#d140" x="116.8" y="641.4"/>
<use href="#d140" x="105.1" y="640"/>
<use href="#d140" x="87.8" y="645.9"/>
<use href="#d140" x="82.3" y="644"/>
<use href="#d140" x="88" y="645.3"/>
<use href="#d140" x="109.6" y="647"/>
<use href="#d140" x="93.9" y="644.4"/>
<use href="#d140" x="95.4" y="646.5"/>
<use href="#d140" x="91.3" y="643.1"/>
<use href="#d140" x="110.2" y="630"/>
<use href="#d140" x="107.6" y="639.3"/>
<use href="#d140" x="100.1" y="628.1"/>
<use href="#d140" x="113" y="637"/>
<use href="#d140" x="93.9" y="645.9"/>
<use href="#d140" x="93.7" y="631.8"/>
<use href="#d140" x="98.6" y="633.7"/>
<use href="#d140" x="91.8" y="638.4"/>
<use href="#d140" x="79.9" y="641.4"/>
<use href="#d140" x="103.8" y="633.2"/>
<use href="#d140" x="84.7" y="632"/>
<use href="#d140" x="97.4" y="643.7"/>
<use href="#d140" x="107.5" y="647.2"/>
<use href="#d140" x="112.1" y="641"/>
<use href="#d140" x="95.3" y="644"/>
<use href="#d140" x="105.1" y="646.1"/>
<use href="#d140" x="104.1" y="631.9"/>
<use href="#d140" x="105.1" y="627.7"/>
<use href="#d140" x="93.7" y="639.7"/>
<use href="#d140" x="93.3" y="629.1"/>
<use href="#d140" x="97" y="644"/>
<use href="#d140" x="84.4" y="646.5"/>
<use href="#d140" x="97.4" y="645.7"/>
<use href="#d140" x="99.2" y="636.7"/>
<use href="#d140" x="95.5" y="643.2"/>
<use href="#d140" x="90.7" y="633.1"/>
<use href="#d140" x="82.6" y="645.2"/>
<use href="#d140" x="111.1" y="634"/>
<use href="#d140" x="117.3" y="639.2"/>
<use href="#d140" x="86.1" y="641.5"/>
<use href="#d140" x="115.4" y="629"/>
<use href="#d140" x="115.2" y="647.3"/>
<use href="#d140" x="99.3" y="630.9"/>
<use href="#d140" x="91.3" y="646"/>
<use href="#d140" x="103.5" y="626.9"/>
<use href="#d140" x="85.5" y="631.3"/>
<use href="#d140" x="114.8" y="612.7"/>
<use href="#d140" x="101.6" y="643.5"/>
<use href="#d140" x="112" y="646.3"/>
<use href="#d140" x="115.3" y="627.2"/>
<use href="#d140" x="104.2" y="641.3"/>
<use href="#d140" x="85.8" y="642.6"/>
<use href="#d140" x="100.6" y="643.1"/>
<use href="#d140" x="113.4" y="646.8"/>
<use href="#d140" x="114.9" y="640.2"/>
<use href="#d140" x="80.5" y="632.3"/>
<use href="#d140" x="92.2" y="640"/>
<use href="#d140" x="109.6" y="644.5"/>
<use href="#d140" x="81.9" y="647"/>
<use href="#d140" x="94.5" y="646.3"/>
<use href="#d140" x="86.3" y="638.6"/>
<use href="#d140" x="111.3" y="637.2"/>
<use href="#d140" x="88.4" y="632.2"/>
<use href="#d140" x="87" y="638.4"/>
<use href="#d140" x="102.5" y="647.2"/>
<use href="#d140" x="91.5" y="646.4"/>
<use href="#d140" x="95" y="645.3"/>
<use href="#d140" x="80.4" y="633.8"/>
<use href="#d140" x="114.5" y="640.5"/>
</g>
<line x1="98.8" y1="635.08" x2="98.8" y2="647.65" stroke="#222" stroke-width="0.8"/>
<rect x="81.1" y="635.08" width="35.4" height="10.63" fill="#fff" stroke="#2a2a2a" stroke-width="0.8"/>
<line x1="81.1" y1="641.25" x2="116.5" y2="641.25" stroke="#333" stroke-width="0.9"/>
<g fill="#e6241f" stroke="#2a0404" stroke-width="0.42">
<circle cx="159.3" cy="633.9" r="1.4"/>
<circle cx="157.1" cy="640.5" r="1.4"/>
<circle cx="170.7" cy="641.6" r="1.4"/>
<circle cx="154.8" cy="632.1" r="1.4"/>
<circle cx="176.4" cy="639.8" r="1.4"/>
<circle cx="170.3" cy="644.1" r="1.4"/>
<circle cx="173.4" cy="638.9" r="1.4"/>
<circle cx="176.5" cy="639.8" r="1.4"/>
<circle cx="143.5" cy="630.5" r="1.4"/>
<circle cx="155.6" cy="642.9" r="1.4"/>
<circle cx="163" cy="641.9" r="1.4"/>
<circle cx="171.9" cy="642.5" r="1.4"/>
<circle cx="173.3" cy="647.5" r="1.4"/>
<circle cx="157" cy="638.5" r="1.4"/>
<circle cx="161.3" cy="645.1" r="1.4"/>
<circle cx="175.1" cy="644.4" r="1.4"/>
<circle cx="165.4" cy="641.8" r="1.4"/>
<circle cx="176.9" cy="642.5" r="1.4"/>
<circle cx="150.3" cy="635.4" r="1.4"/>
<circle cx="157.2" cy="642.6" r="1.4"/>
<circle cx="145.1" cy="645.9" r="1.4"/>
<circle cx="148.8" cy="642" r="1.4"/>
<circle cx="148.7" cy="646.7" r="1.4"/>
<circle cx="153.6" cy="647.6" r="1.4"/>
<circle cx="145.9" cy="637.9" r="1.4"/>
<circle cx="157.6" cy="645.5" r="1.4"/>
<circle cx="177.4" cy="644.2" r="1.4"/>
<circle cx="146.3" cy="637.2" r="1.4"/>
<circle cx="141.1" cy="644.4" r="1.4"/>
<circle cx="151.7" cy="644.5" r="1.4"/>
<circle cx="156.1" cy="638.8" r="1.4"/>
<circle cx="143.1" cy="639.1" r="1.4"/>
<circle cx="150" cy="639.3" r="1.4"/>
<circle cx="141.6" cy="642.4" r="1.4"/>
<circle cx="146.8" cy="643.1" r="1.4"/>
<circle cx="151.5" cy="633.8" r="1.4"/>
<circle cx="169.6" cy="644.9" r="1.4"/>
<circle cx="163.1" cy="644.3" r="1.4"/>
<circle cx="157.5" cy="638.1" r="1.4"/>
<circle cx="176.7" cy="636.6" r="1.4"/>
<circle cx="156.1" cy="631.8" r="1.4"/>
<circle cx="164.3" cy="637.9" r="1.4"/>
<circle cx="170.1" cy="640.3" r="1.4"/>
<circle cx="143.5" cy="643.5" r="1.4"/>
<circle cx="152.2" cy="639.3" r="1.4"/>
<circle cx="159.8" cy="639.5" r="1.4"/>
<circle cx="155.7" cy="639.6" r="1.4"/>
<circle cx="175.2" cy="645.6" r="1.4"/>
<circle cx="162.3" cy="621.6" r="1.4"/>
<circle cx="150.4" cy="646.8" r="1.4"/>
<circle cx="158.7" cy="640.2" r="1.4"/>
<circle cx="140" cy="640.7" r="1.4"/>
<circle cx="151.4" cy="645.4" r="1.4"/>
<circle cx="170.6" cy="645.8" r="1.4"/>
<circle cx="156.6" cy="646.3" r="1.4"/>
<circle cx="163.1" cy="643.9" r="1.4"/>
<circle cx="166.3" cy="644.4" r="1.4"/>
<circle cx="141.7" cy="626.4" r="1.4"/>
<circle cx="142.3" cy="629.4" r="1.4"/>
<circle cx="160.4" cy="646.2" r="1.4"/>
<circle cx="154.3" cy="637.2" r="1.4"/>
<circle cx="174.5" cy="643.1" r="1.4"/>
<circle cx="152" cy="632.7" r="1.4"/>
<circle cx="154.2" cy="642.7" r="1.4"/>
<circle cx="167.9" cy="627.6" r="1.4"/>
<circle cx="150.9" cy="626.9" r="1.4"/>
<circle cx="143.3" cy="642" r="1.4"/>
<circle cx="163.4" cy="644.6" r="1.4"/>
<circle cx="151.3" cy="628.3" r="1.4"/>
<circle cx="159.6" cy="622.1" r="1.4"/>
<circle cx="173.1" cy="644.9" r="1.4"/>
<circle cx="156.6" cy="646.1" r="1.4"/>
<circle cx="157.8" cy="643.1" r="1.4"/>
<circle cx="148.4" cy="636.8" r="1.4"/>
<circle cx="144.8" cy="631.7" r="1.4"/>
<circle cx="158.8" cy="640" r="1.4"/>
<circle cx="177.2" cy="641.5" r="1.4"/>
<circle cx="150.2" cy="638.2" r="1.4"/>
<circle cx="141.9" cy="646.1" r="1.4"/>
<circle cx="160.1" cy="645.5" r="1.4"/>
<circle cx="168.5" cy="612.7" r="1.4"/>
<circle cx="171.5" cy="642.3" r="1.4"/>
<circle cx="174.2" cy="626.7" r="1.4"/>
<circle cx="152.1" cy="640" r="1.4"/>
<circle cx="174.7" cy="643.1" r="1.4"/>
<circle cx="163.6" cy="647.5" r="1.4"/>
<circle cx="167" cy="647.4" r="1.4"/>
<circle cx="145" cy="633.7" r="1.4"/>
<circle cx="154.8" cy="638.9" r="1.4"/>
<circle cx="149.6" cy="641" r="1.4"/>
<circle cx="151.6" cy="644" r="1.4"/>
<circle cx="178.2" cy="646.7" r="1.4"/>
<circle cx="169.6" cy="643.7" r="1.4"/>
<circle cx="176.6" cy="638.1" r="1.4"/>
<circle cx="150.1" cy="643" r="1.4"/>
<circle cx="149.4" cy="644.1" r="1.4"/>
<circle cx="175.9" cy="629.5" r="1.4"/>
<circle cx="156.2" cy="640.6" r="1.4"/>
<circle cx="151.7" cy="643.7" r="1.4"/>
<circle cx="145" cy="634.4" r="1.4"/>
<circle cx="142.7" cy="639.6" r="1.4"/>
<circle cx="163.2" cy="641.4" r="1.4"/>
<circle cx="161.5" cy="639.5" r="1.4"/>
<circle cx="156.6" cy="640.3" r="1.4"/>
<circle cx="174.5" cy="639.3" r="1.4"/>
<circle cx="164.2" cy="638.6" r="1.4"/>
<circle cx="178.5" cy="637.8" r="1.4"/>
<circle cx="173.3" cy="631" r="1.4"/>
<circle cx="170.3" cy="646.7" r="1.4"/>
<circle cx="156.4" cy="642.8" r="1.4"/>
<circle cx="147.3" cy="638.6" r="1.4"/>
<circle cx="157" cy="644.7" r="1.4"/>
<circle cx="171.4" cy="647.1" r="1.4"/>
<circle cx="153.1" cy="639.2" r="1.4"/>
<circle cx="148.5" cy="640.7" r="1.4"/>
<circle cx="177.8" cy="641.2" r="1.4"/>
<circle cx="171.5" cy="639.2" r="1.4"/>
<circle cx="161.8" cy="627.5" r="1.4"/>
<circle cx="168.7" cy="643.5" r="1.4"/>
<circle cx="154.5" cy="640" r="1.4"/>
<circle cx="155.2" cy="645.5" r="1.4"/>
<circle cx="168.5" cy="639.8" r="1.4"/>
<circle cx="152.7" cy="635" r="1.4"/>
<circle cx="169.1" cy="642.3" r="1.4"/>
<circle cx="144.7" cy="642.9" r="1.4"/>
<circle cx="170.5" cy="641.2" r="1.4"/>
<circle cx="175.8" cy="633.2" r="1.4"/>
<circle cx="166.2" cy="647.3" r="1.4"/>
<circle cx="163.1" cy="638.1" r="1.4"/>
<circle cx="172.2" cy="642" r="1.4"/>
<circle cx="163.6" cy="639.4" r="1.4"/>
<circle cx="156" cy="647.6" r="1.4"/>
<circle cx="148.7" cy="638.6" r="1.4"/>
<circle cx="161.6" cy="638.7" r="1.4"/>
<circle cx="175.2" cy="646.3" r="1.4"/>
<circle cx="163.6" cy="643.2" r="1.4"/>
<circle cx="164.3" cy="644.8" r="1.4"/>
<circle cx="171.1" cy="622.5" r="1.4"/>
<circle cx="166.6" cy="640.4" r="1.4"/>
<circle cx="176.5" cy="640.8" r="1.4"/>
<circle cx="156.6" cy="635.4" r="1.4"/>
<circle cx="175.1" cy="632.5" r="1.4"/>
<circle cx="169.9" cy="642" r="1.4"/>
<circle cx="149.9" cy="642.5" r="1.4"/>
<circle cx="151" cy="642.5" r="1.4"/>
<circle cx="169.2" cy="638.9" r="1.4"/>
<circle cx="146.3" cy="646" r="1.4"/>
<circle cx="168.7" cy="639.3" r="1.4"/>
<circle cx="177.7" cy="634.3" r="1.4"/>
<circle cx="140.7" cy="637.4" r="1.4"/>
<circle cx="150.4" cy="637.8" r="1.4"/>
<circle cx="154.3" cy="639.6" r="1.4"/>
<circle cx="145.7" cy="627.8" r="1.4"/>
<circle cx="170.7" cy="641.2" r="1.4"/>
<circle cx="153.4" cy="628" r="1.4"/>
<circle cx="169.9" cy="635" r="1.4"/>
<circle cx="163" cy="635.9" r="1.4"/>
<circle cx="173.4" cy="642.7" r="1.4"/>
<circle cx="147.7" cy="634.4" r="1.4"/>
<circle cx="165.2" cy="644.9" r="1.4"/>
<circle cx="169.5" cy="644.6" r="1.4"/>
<circle cx="156.8" cy="641.6" r="1.4"/>
<circle cx="174.9" cy="643.6" r="1.4"/>
<circle cx="153.2" cy="646" r="1.4"/>
<circle cx="140.8" cy="642.3" r="1.4"/>
<circle cx="154.5" cy="644.1" r="1.4"/>
<circle cx="155.3" cy="646.3" r="1.4"/>
<circle cx="148.7" cy="645.2" r="1.4"/>
<circle cx="172.1" cy="645.8" r="1.4"/>
<circle cx="169.9" cy="641" r="1.4"/>
<circle cx="154.4" cy="641.1" r="1.4"/>
<circle cx="162.2" cy="641.1" r="1.4"/>
<circle cx="144.8" cy="639.9" r="1.4"/>
<circle cx="159" cy="643.4" r="1.4"/>
<circle cx="175.2" cy="646.5" r="1.4"/>
<circle cx="156.5" cy="640.2" r="1.4"/>
<circle cx="167.6" cy="643.7" r="1.4"/>
<circle cx="175.8" cy="644.3" r="1.4"/>
<circle cx="167.1" cy="644.3" r="1.4"/>
<circle cx="169.3" cy="641.9" r="1.4"/>
<circle cx="168.6" cy="632.6" r="1.4"/>
<circle cx="148.7" cy="641.4" r="1.4"/>
<circle cx="169.5" cy="644.1" r="1.4"/>
<circle cx="149.3" cy="642.2" r="1.4"/>
<circle cx="171.5" cy="646.9" r="1.4"/>
<circle cx="149.3" cy="629.2" r="1.4"/>
<circle cx="149.7" cy="637.8" r="1.4"/>
<circle cx="150.8" cy="621.4" r="1.4"/>
<circle cx="160.5" cy="641.6" r="1.4"/>
<circle cx="154.7" cy="646.6" r="1.4"/>
<circle cx="169.6" cy="637" r="1.4"/>
<circle cx="175.9" cy="642.2" r="1.4"/>
<circle cx="154.5" cy="643.6" r="1.4"/>
<circle cx="163" cy="637.4" r="1.4"/>
<circle cx="153.3" cy="641.5" r="1.4"/>
<circle cx="153.6" cy="634.6" r="1.4"/>
<circle cx="152.3" cy="644.9" r="1.4"/>
<circle cx="165" cy="642.2" r="1.4"/>
<circle cx="157.1" cy="642.8" r="1.4"/>
<circle cx="140.7" cy="646.6" r="1.4"/>
<circle cx="148.9" cy="629.5" r="1.4"/>
<circle cx="149.7" cy="642.4" r="1.4"/>
<circle cx="148.4" cy="642.6" r="1.4"/>
<circle cx="171.2" cy="636.8" r="1.4"/>
<circle cx="150.4" cy="642.4" r="1.4"/>
<circle cx="162.9" cy="644.4" r="1.4"/>
<circle cx="148.2" cy="642.8" r="1.4"/>
<circle cx="144.7" cy="639.4" r="1.4"/>
<circle cx="146" cy="638.4" r="1.4"/>
<circle cx="148.8" cy="633.5" r="1.4"/>
<circle cx="142.7" cy="638.3" r="1.4"/>
<circle cx="159.6" cy="641.9" r="1.4"/>
<circle cx="140.9" cy="628.6" r="1.4"/>
<circle cx="159.9" cy="637.1" r="1.4"/>
<circle cx="141" cy="634.7" r="1.4"/>
<circle cx="163.4" cy="634.2" r="1.4"/>
<circle cx="156.5" cy="645.1" r="1.4"/>
<circle cx="154.1" cy="643.7" r="1.4"/>
<circle cx="162" cy="641.1" r="1.4"/>
<circle cx="158.9" cy="636.2" r="1.4"/>
<circle cx="159.3" cy="643.8" r="1.4"/>
<circle cx="156.9" cy="643.2" r="1.4"/>
<circle cx="154.4" cy="644.4" r="1.4"/>
<circle cx="166.3" cy="635.9" r="1.4"/>
<circle cx="140.9" cy="641.7" r="1.4"/>
<circle cx="165.1" cy="640.4" r="1.4"/>
<circle cx="146.5" cy="630.7" r="1.4"/>
<circle cx="164.6" cy="642.4" r="1.4"/>
<circle cx="160.7" cy="631.6" r="1.4"/>
<circle cx="174" cy="645.7" r="1.4"/>
<circle cx="159.1" cy="639.7" r="1.4"/>
<circle cx="168.8" cy="631.3" r="1.4"/>
<circle cx="156.6" cy="644" r="1.4"/>
<circle cx="153.1" cy="636.9" r="1.4"/>
<circle cx="144.4" cy="636" r="1.4"/>
<circle cx="151.3" cy="646.7" r="1.4"/>
<circle cx="146.3" cy="631.5" r="1.4"/>
<circle cx="141.9" cy="647.2" r="1.4"/>
<circle cx="161.6" cy="643.3" r="1.4"/>
<circle cx="143" cy="640.3" r="1.4"/>
<circle cx="161.3" cy="639.2" r="1.4"/>
<circle cx="145.2" cy="626.5" r="1.4"/>
<circle cx="146" cy="643.3" r="1.4"/>
<circle cx="150.3" cy="633.2" r="1.4"/>
<circle cx="163.6" cy="645.1" r="1.4"/>
<circle cx="178.5" cy="644.3" r="1.4"/>
<circle cx="168.5" cy="637.6" r="1.4"/>
<circle cx="148.1" cy="635" r="1.4"/>
<circle cx="164.4" cy="639" r="1.4"/>
<circle cx="169.3" cy="646.8" r="1.4"/>
<circle cx="164.3" cy="642.3" r="1.4"/>
<circle cx="160.8" cy="633.5" r="1.4"/>
<circle cx="153.6" cy="638.7" r="1.4"/>
<circle cx="142.6" cy="635.9" r="1.4"/>
<circle cx="156.2" cy="639.3" r="1.4"/>
<circle cx="151.3" cy="643.2" r="1.4"/>
<circle cx="168.8" cy="642.9" r="1.4"/>
<circle cx="152.4" cy="646.5" r="1.4"/>
<circle cx="148.9" cy="633.4" r="1.4"/>
<circle cx="178.3" cy="643.1" r="1.4"/>
<circle cx="152.8" cy="642.4" r="1.4"/>
<circle cx="144.9" cy="646.4" r="1.4"/>
<circle cx="141.6" cy="643.4" r="1.4"/>
<circle cx="176.3" cy="618.6" r="1.4"/>
<circle cx="160.1" cy="642.9" r="1.4"/>
<circle cx="170.9" cy="647.1" r="1.4"/>
<circle cx="170.4" cy="644.3" r="1.4"/>
<circle cx="144.2" cy="643.4" r="1.4"/>
<circle cx="170.4" cy="643.6" r="1.4"/>
<circle cx="173.4" cy="636.9" r="1.4"/>
<circle cx="140.6" cy="637.8" r="1.4"/>
<circle cx="153.2" cy="644" r="1.4"/>
<circle cx="156.6" cy="642.8" r="1.4"/>
<circle cx="167.9" cy="646.5" r="1.4"/>
<circle cx="142.6" cy="645.3" r="1.4"/>
<circle cx="155" cy="647.6" r="1.4"/>
<circle cx="161.6" cy="638.7" r="1.4"/>
<circle cx="164.7" cy="641.7" r="1.4"/>
<circle cx="157.4" cy="637.9" r="1.4"/>
<circle cx="177.4" cy="641.5" r="1.4"/>
<circle cx="146.7" cy="640.3" r="1.4"/>
<circle cx="148.6" cy="644.7" r="1.4"/>
<circle cx="162.2" cy="644.3" r="1.4"/>
<circle cx="146.9" cy="640.9" r="1.4"/>
<circle cx="149.8" cy="636.1" r="1.4"/>
<circle cx="145" cy="642.3" r="1.4"/>
<circle cx="143.1" cy="641" r="1.4"/>
<circle cx="148.4" cy="631.5" r="1.4"/>
<circle cx="160.4" cy="646.8" r="1.4"/>
<circle cx="156.5" cy="633.6" r="1.4"/>
<circle cx="154.3" cy="622.5" r="1.4"/>
<circle cx="176" cy="642.1" r="1.4"/>
<circle cx="142.2" cy="638.1" r="1.4"/>
<circle cx="173.2" cy="644.2" r="1.4"/>
<circle cx="152.5" cy="643.2" r="1.4"/>
<circle cx="174.8" cy="645" r="1.4"/>
<circle cx="144.9" cy="646.9" r="1.4"/>
<circle cx="144.8" cy="634.1" r="1.4"/>
<circle cx="163.4" cy="633.2" r="1.4"/>
<circle cx="173" cy="641.8" r="1.4"/>
<circle cx="172.5" cy="643.7" r="1.4"/>
<circle cx="154" cy="640.8" r="1.4"/>
<circle cx="155.8" cy="645" r="1.4"/>
<circle cx="151" cy="634.7" r="1.4"/>
<circle cx="162.8" cy="643" r="1.4"/>
<circle cx="149.6" cy="635.3" r="1.4"/>
<circle cx="141.5" cy="620" r="1.4"/>
<circle cx="169.2" cy="641.5" r="1.4"/>
<circle cx="154.1" cy="638.1" r="1.4"/>
<circle cx="144.9" cy="644.9" r="1.4"/>
<circle cx="145.8" cy="642.9" r="1.4"/>
<circle cx="162.1" cy="645.9" r="1.4"/>
<circle cx="152.6" cy="639.5" r="1.4"/>
<circle cx="167.2" cy="646" r="1.4"/>
<circle cx="173.3" cy="632.2" r="1.4"/>
<circle cx="141.8" cy="632.1" r="1.4"/>
<circle cx="177.2" cy="646.6" r="1.4"/>
<circle cx="171.5" cy="642.2" r="1.4"/>
<circle cx="148.7" cy="632.6" r="1.4"/>
<circle cx="157.4" cy="645.2" r="1.4"/>
<circle cx="169.3" cy="644.5" r="1.4"/>
<circle cx="165.4" cy="639.3" r="1.4"/>
<circle cx="170.4" cy="643.1" r="1.4"/>
<circle cx="165.3" cy="628.4" r="1.4"/>
<circle cx="151.5" cy="647.6" r="1.4"/>
<circle cx="141.3" cy="638.3" r="1.4"/>
<circle cx="163.7" cy="636" r="1.4"/>
<circle cx="169.5" cy="643" r="1.4"/>
<circle cx="168.1" cy="642.4" r="1.4"/>
<circle cx="150.7" cy="642.2" r="1.4"/>
<circle cx="178" cy="640.2" r="1.4"/>
<circle cx="143.4" cy="639.8" r="1.4"/>
<circle cx="174.9" cy="641" r="1.4"/>
<circle cx="155.7" cy="635" r="1.4"/>
<circle cx="155.6" cy="638.1" r="1.4"/>
<circle cx="151.9" cy="645.4" r="1.4"/>
<circle cx="172.6" cy="634.6" r="1.4"/>
<circle cx="151" cy="635.3" r="1.4"/>
<circle cx="146.7" cy="640.2" r="1.4"/>
<circle cx="140" cy="638.9" r="1.4"/>
<circle cx="157.6" cy="630.3" r="1.4"/>
<circle cx="153.3" cy="635.2" r="1.4"/>
<circle cx="152.5" cy="644.8" r="1.4"/>
<circle cx="163.8" cy="639.8" r="1.4"/>
<circle cx="161.5" cy="637.7" r="1.4"/>
<circle cx="147.2" cy="634.3" r="1.4"/>
<circle cx="150.7" cy="639.3" r="1.4"/>
<circle cx="140.3" cy="638.9" r="1.4"/>
<circle cx="146.6" cy="634.3" r="1.4"/>
<circle cx="176.4" cy="642.8" r="1.4"/>
<circle cx="142.8" cy="645" r="1.4"/>
<circle cx="142.2" cy="645.1" r="1.4"/>
<circle cx="173.1" cy="638.5" r="1.4"/>
<circle cx="151.1" cy="647.3" r="1.4"/>
<circle cx="145.5" cy="627.2" r="1.4"/>
<circle cx="141.2" cy="638.2" r="1.4"/>
<circle cx="174" cy="645.8" r="1.4"/>
<circle cx="149.9" cy="631.3" r="1.4"/>
<circle cx="159.7" cy="636.1" r="1.4"/>
<circle cx="155.9" cy="645.6" r="1.4"/>
<circle cx="155.7" cy="633.3" r="1.4"/>
<circle cx="141.5" cy="641.9" r="1.4"/>
<circle cx="161.5" cy="642.2" r="1.4"/>
<circle cx="150.5" cy="640.5" r="1.4"/>
<circle cx="157.4" cy="641.3" r="1.4"/>
<circle cx="141.9" cy="629.2" r="1.4"/>
<circle cx="175.8" cy="643.9" r="1.4"/>
<circle cx="151.1" cy="644.5" r="1.4"/>
<circle cx="173.7" cy="638.7" r="1.4"/>
<circle cx="160.5" cy="643.8" r="1.4"/>
<circle cx="151.4" cy="640.8" r="1.4"/>
<circle cx="146.4" cy="643.4" r="1.4"/>
<circle cx="167" cy="647.2" r="1.4"/>
<circle cx="154.4" cy="634.9" r="1.4"/>
<circle cx="169.6" cy="627.8" r="1.4"/>
<circle cx="156.6" cy="643.7" r="1.4"/>
<circle cx="149.5" cy="640.8" r="1.4"/>
<circle cx="161.4" cy="645.3" r="1.4"/>
<circle cx="161.1" cy="633.8" r="1.4"/>
<circle cx="174.2" cy="639.5" r="1.4"/>
<circle cx="174.7" cy="634" r="1.4"/>
<circle cx="157.9" cy="643.7" r="1.4"/>
<circle cx="153.2" cy="639.4" r="1.4"/>
<circle cx="159.3" cy="644.9" r="1.4"/>
<circle cx="153.2" cy="645.9" r="1.4"/>
<circle cx="152.8" cy="641.4" r="1.4"/>
<circle cx="145.2" cy="636.2" r="1.4"/>
<circle cx="155.4" cy="643.6" r="1.4"/>
</g>
<line x1="159.3" y1="627.09" x2="159.3" y2="647.65" stroke="#222" stroke-width="0.8"/>
<rect x="141.4" y="637.37" width="35.8" height="6.63" fill="#fff" stroke="#2a2a2a" stroke-width="0.8"/>
<line x1="141.4" y1="641.25" x2="177.2" y2="641.25" stroke="#333" stroke-width="0.9"/>
<g fill="#1f5da8" stroke="#07172c" stroke-width="0.5">
<use href="#d140" x="214.2" y="645.9"/>
<use href="#d140" x="216.9" y="645.8"/>
<use href="#d140" x="199.7" y="643.7"/>
<use href="#d140" x="224.4" y="647"/>
<use href="#d140" x="189.5" y="641.2"/>
<use href="#d140" x="187.3" y="646.8"/>
<use href="#d140" x="214.3" y="634.4"/>
<use href="#d140" x="195.5" y="642.9"/>
<use href="#d140" x="216" y="644.6"/>
<use href="#d140" x="196.1" y="641.8"/>
<use href="#d140" x="215.6" y="641"/>
<use href="#d140" x="206" y="642.2"/>
<use href="#d140" x="221.2" y="642.3"/>
<use href="#d140" x="189.5" y="637.4"/>
<use href="#d140" x="225.3" y="639.3"/>
<use href="#d140" x="207.8" y="647.6"/>
<use href="#d140" x="187" y="646.9"/>
<use href="#d140" x="195.8" y="646.3"/>
<use href="#d140" x="193.8" y="646.3"/>
<use href="#d140" x="226.1" y="642"/>
<use href="#d140" x="192.9" y="639.8"/>
<use href="#d140" x="213.8" y="638.1"/>
<use href="#d140" x="214.3" y="644.6"/>
<use href="#d140" x="190.9" y="645.9"/>
<use href="#d140" x="211" y="646.3"/>
<use href="#d140" x="201.7" y="643.1"/>
<use href="#d140" x="190.4" y="645.3"/>
<use href="#d140" x="199.3" y="640.7"/>
<use href="#d140" x="199.3" y="640.7"/>
<use href="#d140" x="198.6" y="638.9"/>
<use href="#d140" x="205.4" y="644.5"/>
<use href="#d140" x="186.4" y="645.3"/>
<use href="#d140" x="218.6" y="639.5"/>
<use href="#d140" x="208.6" y="639.3"/>
<use href="#d140" x="218.5" y="641.7"/>
<use href="#d140" x="198.4" y="646.6"/>
<use href="#d140" x="186.8" y="642.5"/>
<use href="#d140" x="193.7" y="646.8"/>
<use href="#d140" x="214.8" y="640.4"/>
<use href="#d140" x="221.8" y="646.2"/>
<use href="#d140" x="196.4" y="639.5"/>
<use href="#d140" x="209" y="646.6"/>
<use href="#d140" x="208.6" y="645.2"/>
<use href="#d140" x="193.5" y="646.9"/>
<use href="#d140" x="223.2" y="639.1"/>
<use href="#d140" x="192.9" y="647.1"/>
<use href="#d140" x="199.3" y="647.6"/>
<use href="#d140" x="221.1" y="641.4"/>
<use href="#d140" x="224.8" y="645.6"/>
<use href="#d140" x="216.9" y="644.3"/>
<use href="#d140" x="192.3" y="639.6"/>
<use href="#d140" x="224.1" y="641.3"/>
<use href="#d140" x="194.8" y="645.5"/>
<use href="#d140" x="202" y="642.5"/>
<use href="#d140" x="187.7" y="647.2"/>
<use href="#d140" x="220.7" y="642.6"/>
<use href="#d140" x="220.6" y="643.2"/>
<use href="#d140" x="221.8" y="643.4"/>
<use href="#d140" x="219.4" y="643.6"/>
<use href="#d140" x="214.1" y="642.8"/>
<use href="#d140" x="223.2" y="646.6"/>
<use href="#d140" x="194.3" y="646.7"/>
<use href="#d140" x="212.3" y="641"/>
<use href="#d140" x="220.3" y="643.7"/>
<use href="#d140" x="222.5" y="643.2"/>
<use href="#d140" x="224.2" y="639.4"/>
<use href="#d140" x="208.5" y="645.2"/>
<use href="#d140" x="220.1" y="645"/>
<use href="#d140" x="204.9" y="647"/>
<use href="#d140" x="191.9" y="642.1"/>
<use href="#d140" x="226.3" y="640.3"/>
<use href="#d140" x="191.5" y="643.6"/>
<use href="#d140" x="196.2" y="639.6"/>
<use href="#d140" x="211.6" y="629.8"/>
<use href="#d140" x="196.6" y="641"/>
<use href="#d140" x="207.8" y="647.1"/>
<use href="#d140" x="214.8" y="647.5"/>
<use href="#d140" x="190.9" y="644.7"/>
<use href="#d140" x="207.6" y="643.8"/>
<use href="#d140" x="194.7" y="646.1"/>
<use href="#d140" x="208.8" y="645.9"/>
<use href="#d140" x="198.3" y="645.2"/>
<use href="#d140" x="206.5" y="645.5"/>
<use href="#d140" x="186.5" y="643.2"/>
<use href="#d140" x="213.2" y="646.2"/>
<use href="#d140" x="190.3" y="644"/>
<use href="#d140" x="204.4" y="642.8"/>
<use href="#d140" x="225.7" y="644.7"/>
<use href="#d140" x="216.4" y="642.3"/>
<use href="#d140" x="224.8" y="647.1"/>
<use href="#d140" x="210.8" y="647.6"/>
<use href="#d140" x="220.3" y="635.8"/>
<use href="#d140" x="210.9" y="643.3"/>
<use href="#d140" x="192.6" y="647.5"/>
<use href="#d140" x="205.5" y="645.4"/>
<use href="#d140" x="203.2" y="647.1"/>
<use href="#d140" x="209.1" y="639.7"/>
<use href="#d140" x="203.2" y="647.2"/>
<use href="#d140" x="202.3" y="646.6"/>
<use href="#d140" x="194.8" y="647.2"/>
<use href="#d140" x="193.1" y="637.3"/>
<use href="#d140" x="219.1" y="646"/>
<use href="#d140" x="207.4" y="642"/>
<use href="#d140" x="225.5" y="639.6"/>
<use href="#d140" x="186.5" y="645.3"/>
<use href="#d140" x="194.1" y="642.6"/>
<use href="#d140" x="200" y="638"/>
<use href="#d140" x="204.1" y="647.6"/>
<use href="#d140" x="204" y="640.2"/>
<use href="#d140" x="190.4" y="646"/>
<use href="#d140" x="206.2" y="640.8"/>
<use href="#d140" x="222.4" y="643.4"/>
<use href="#d140" x="218" y="647.2"/>
<use href="#d140" x="213" y="644"/>
<use href="#d140" x="221.1" y="646.2"/>
<use href="#d140" x="189.7" y="647"/>
<use href="#d140" x="212.7" y="645.3"/>
<use href="#d140" x="213" y="645.5"/>
<use href="#d140" x="207.2" y="644.1"/>
<use href="#d140" x="207.8" y="646.4"/>
<use href="#d140" x="224.1" y="643.6"/>
<use href="#d140" x="206.1" y="646.8"/>
<use href="#d140" x="204.7" y="642.9"/>
<use href="#d140" x="214.5" y="646.5"/>
<use href="#d140" x="222.5" y="643.4"/>
<use href="#d140" x="198.3" y="638.5"/>
<use href="#d140" x="202.5" y="646"/>
<use href="#d140" x="199.3" y="643.9"/>
<use href="#d140" x="191.8" y="645.1"/>
<use href="#d140" x="191.2" y="642.4"/>
<use href="#d140" x="202.4" y="646"/>
<use href="#d140" x="215.7" y="645.2"/>
<use href="#d140" x="220" y="645.4"/>
<use href="#d140" x="222.2" y="645.6"/>
<use href="#d140" x="188.4" y="646.2"/>
<use href="#d140" x="200.7" y="644.4"/>
<use href="#d140" x="186.9" y="642.9"/>
<use href="#d140" x="200" y="639.7"/>
<use href="#d140" x="211.6" y="645.2"/>
<use href="#d140" x="224.4" y="642.6"/>
<use href="#d140" x="224.8" y="642.5"/>
<use href="#d140" x="198" y="645.3"/>
<use href="#d140" x="207.1" y="647.6"/>
<use href="#d140" x="215.9" y="645"/>
<use href="#d140" x="218.6" y="647.1"/>
<use href="#d140" x="205.6" y="638.3"/>
<use href="#d140" x="225.4" y="644.7"/>
<use href="#d140" x="205.4" y="642.2"/>
<use href="#d140" x="191.6" y="646.7"/>
<use href="#d140" x="200.4" y="646.6"/>
<use href="#d140" x="199.9" y="642.3"/>
<use href="#d140" x="192" y="641.2"/>
<use href="#d140" x="214" y="646"/>
<use href="#d140" x="222" y="647.5"/>
<use href="#d140" x="201.4" y="646.9"/>
<use href="#d140" x="191.6" y="638.5"/>
<use href="#d140" x="198" y="646.3"/>
<use href="#d140" x="221.3" y="640"/>
<use href="#d140" x="192.3" y="645.5"/>
<use href="#d140" x="204" y="642.8"/>
<use href="#d140" x="210.8" y="639.8"/>
<use href="#d140" x="204" y="643.2"/>
<use href="#d140" x="206.9" y="646.3"/>
<use href="#d140" x="207.8" y="643.5"/>
<use href="#d140" x="201.3" y="645.6"/>
<use href="#d140" x="216.9" y="646.8"/>
<use href="#d140" x="210.7" y="647.1"/>
<use href="#d140" x="200.5" y="644.2"/>
<use href="#d140" x="189.4" y="647"/>
<use href="#d140" x="216.4" y="640.4"/>
<use href="#d140" x="186.7" y="641.6"/>
<use href="#d140" x="216.6" y="647.4"/>
<use href="#d140" x="225.8" y="642.4"/>
<use href="#d140" x="197.2" y="645.3"/>
<use href="#d140" x="186.4" y="639.9"/>
<use href="#d140" x="213" y="646"/>
<use href="#d140" x="214.7" y="643.8"/>
<use href="#d140" x="207.5" y="643.7"/>
<use href="#d140" x="222.7" y="640.2"/>
<use href="#d140" x="206.2" y="645.2"/>
<use href="#d140" x="197" y="646.5"/>
<use href="#d140" x="198.2" y="641.5"/>
<use href="#d140" x="210.3" y="638"/>
<use href="#d140" x="208.3" y="646.4"/>
<use href="#d140" x="195.4" y="647.6"/>
<use href="#d140" x="207.4" y="647.3"/>
<use href="#d140" x="206.2" y="640.3"/>
<use href="#d140" x="187.3" y="641.4"/>
<use href="#d140" x="205.6" y="644.9"/>
<use href="#d140" x="221.6" y="646.1"/>
<use href="#d140" x="187.1" y="647.1"/>
<use href="#d140" x="202.7" y="645.9"/>
<use href="#d140" x="193.2" y="643.5"/>
<use href="#d140" x="205.6" y="645.6"/>
<use href="#d140" x="224.4" y="642.9"/>
<use href="#d140" x="218.8" y="644.5"/>
<use href="#d140" x="192.1" y="647"/>
<use href="#d140" x="222.1" y="646.6"/>
<use href="#d140" x="190.8" y="638.7"/>
<use href="#d140" x="196.8" y="639.8"/>
<use href="#d140" x="209.7" y="640.4"/>
<use href="#d140" x="219.8" y="646.7"/>
<use href="#d140" x="213.4" y="647.4"/>
<use href="#d140" x="203.8" y="646.5"/>
<use href="#d140" x="207.8" y="639"/>
<use href="#d140" x="204" y="646.8"/>
<use href="#d140" x="214.5" y="642.2"/>
<use href="#d140" x="195.7" y="639.5"/>
<use href="#d140" x="220.9" y="646.4"/>
<use href="#d140" x="211.5" y="639.5"/>
<use href="#d140" x="221" y="639.5"/>
<use href="#d140" x="193.9" y="646.1"/>
<use href="#d140" x="196.3" y="646.8"/>
<use href="#d140" x="214.4" y="642.9"/>
<use href="#d140" x="200.3" y="646.3"/>
<use href="#d140" x="206.3" y="640.7"/>
<use href="#d140" x="193.2" y="644.9"/>
<use href="#d140" x="196" y="638.8"/>
<use href="#d140" x="194.1" y="644.8"/>
<use href="#d140" x="223.4" y="646.7"/>
<use href="#d140" x="199" y="643.3"/>
<use href="#d140" x="186.8" y="644"/>
<use href="#d140" x="222.4" y="644.9"/>
<use href="#d140" x="192.7" y="646.4"/>
<use href="#d140" x="199.6" y="638.5"/>
<use href="#d140" x="191.5" y="640.5"/>
<use href="#d140" x="198.3" y="646.6"/>
<use href="#d140" x="191" y="636.2"/>
<use href="#d140" x="224.5" y="637.5"/>
<use href="#d140" x="226.1" y="640"/>
<use href="#d140" x="216.9" y="644.7"/>
<use href="#d140" x="208.4" y="642.7"/>
<use href="#d140" x="192.4" y="645.4"/>
<use href="#d140" x="223.9" y="637.4"/>
<use href="#d140" x="214.7" y="646.5"/>
<use href="#d140" x="206.1" y="646.9"/>
<use href="#d140" x="197.6" y="646.4"/>
<use href="#d140" x="212.2" y="645"/>
<use href="#d140" x="210.9" y="647.3"/>
<use href="#d140" x="192.3" y="646.5"/>
<use href="#d140" x="220.5" y="647.3"/>
<use href="#d140" x="217.6" y="645.7"/>
<use href="#d140" x="207.1" y="642.3"/>
<use href="#d140" x="191.5" y="637.3"/>
<use href="#d140" x="204.3" y="640"/>
<use href="#d140" x="199.7" y="645.8"/>
<use href="#d140" x="214" y="641.5"/>
<use href="#d140" x="220" y="645.8"/>
<use href="#d140" x="199.4" y="647.6"/>
<use href="#d140" x="220.5" y="640.9"/>
<use href="#d140" x="219.2" y="641"/>
<use href="#d140" x="214.5" y="642.2"/>
<use href="#d140" x="212.4" y="647.4"/>
<use href="#d140" x="196.4" y="646.9"/>
<use href="#d140" x="200.8" y="641.5"/>
<use href="#d140" x="202.8" y="646.6"/>
<use href="#d140" x="201.5" y="644.9"/>
<use href="#d140" x="188.3" y="647.4"/>
<use href="#d140" x="193.6" y="644.1"/>
<use href="#d140" x="226.1" y="646.7"/>
<use href="#d140" x="200.3" y="645"/>
<use href="#d140" x="189" y="646.5"/>
<use href="#d140" x="191.9" y="643.8"/>
<use href="#d140" x="212.9" y="645.5"/>
<use href="#d140" x="194.9" y="643.6"/>
<use href="#d140" x="191.6" y="647.1"/>
<use href="#d140" x="222.1" y="646.2"/>
<use href="#d140" x="225.7" y="646.2"/>
<use href="#d140" x="203.9" y="645.7"/>
<use href="#d140" x="216.6" y="633.3"/>
<use href="#d140" x="205.9" y="647.1"/>
<use href="#d140" x="202" y="638.6"/>
<use href="#d140" x="199.7" y="646.8"/>
<use href="#d140" x="221.7" y="641.6"/>
<use href="#d140" x="215.1" y="644.7"/>
<use href="#d140" x="196.9" y="644.9"/>
<use href="#d140" x="216" y="647.2"/>
<use href="#d140" x="189.8" y="644.3"/>
<use href="#d140" x="197.5" y="646.6"/>
<use href="#d140" x="213.9" y="646.9"/>
<use href="#d140" x="198.2" y="640.8"/>
<use href="#d140" x="218.2" y="646.4"/>
<use href="#d140" x="198.4" y="646.7"/>
<use href="#d140" x="218.1" y="643.1"/>
<use href="#d140" x="214.5" y="645.7"/>
<use href="#d140" x="202.9" y="641.2"/>
<use href="#d140" x="209.8" y="644"/>
<use href="#d140" x="195.5" y="641.7"/>
<use href="#d140" x="214.9" y="647.1"/>
<use href="#d140" x="216" y="647.3"/>
<use href="#d140" x="224.4" y="640.5"/>
<use href="#d140" x="217" y="643.3"/>
<use href="#d140" x="189" y="644.1"/>
<use href="#d140" x="225.3" y="640"/>
<use href="#d140" x="195.7" y="642.7"/>
<use href="#d140" x="218.6" y="645.3"/>
<use href="#d140" x="192.9" y="642.9"/>
<use href="#d140" x="198.6" y="642.7"/>
<use href="#d140" x="196.9" y="645.2"/>
<use href="#d140" x="196.4" y="643"/>
<use href="#d140" x="216.2" y="638.5"/>
<use href="#d140" x="223.9" y="644.6"/>
<use href="#d140" x="196.9" y="641.5"/>
<use href="#d140" x="215.7" y="645.9"/>
<use href="#d140" x="186.5" y="647.6"/>
<use href="#d140" x="201.8" y="644.2"/>
<use href="#d140" x="201.5" y="641.6"/>
<use href="#d140" x="186.8" y="642.7"/>
<use href="#d140" x="203.9" y="646.3"/>
<use href="#d140" x="205" y="644"/>
<use href="#d140" x="218.5" y="641.6"/>
<use href="#d140" x="193.1" y="642.7"/>
<use href="#d140" x="199.4" y="647.1"/>
<use href="#d140" x="219.7" y="645.5"/>
<use href="#d140" x="209.5" y="639.8"/>
<use href="#d140" x="212.8" y="647.3"/>
<use href="#d140" x="219.1" y="647.3"/>
<use href="#d140" x="201.6" y="635.1"/>
<use href="#d140" x="216.3" y="646.7"/>
<use href="#d140" x="202.6" y="644.3"/>
<use href="#d140" x="199.8" y="647.2"/>
<use href="#d140" x="215.9" y="642.2"/>
<use href="#d140" x="203.6" y="642.5"/>
<use href="#d140" x="213.7" y="646.8"/>
<use href="#d140" x="187.8" y="647.2"/>
<use href="#d140" x="210.8" y="639.5"/>
<use href="#d140" x="203.5" y="640.5"/>
<use href="#d140" x="206" y="643.1"/>
<use href="#d140" x="192.2" y="644.7"/>
<use href="#d140" x="187.6" y="647.5"/>
<use href="#d140" x="208.9" y="645.9"/>
<use href="#d140" x="205.2" y="638.2"/>
<use href="#d140" x="208.9" y="643"/>
<use href="#d140" x="205.6" y="643.1"/>
<use href="#d140" x="192.6" y="640.5"/>
<use href="#d140" x="194.8" y="643"/>
</g>
<line x1="206.3" y1="637.37" x2="206.3" y2="647.65" stroke="#222" stroke-width="0.8"/>
<rect x="188.2" y="642.17" width="36.2" height="4.34" fill="#fff" stroke="#2a2a2a" stroke-width="0.8"/>
<line x1="188.2" y1="644.91" x2="224.4" y2="644.91" stroke="#333" stroke-width="0.9"/>
<g fill="#e6241f" stroke="#2a0404" stroke-width="0.42">
<circle cx="255.4" cy="644" r="1.4"/>
<circle cx="270.5" cy="640.3" r="1.4"/>
<circle cx="262.4" cy="644" r="1.4"/>
<circle cx="249.5" cy="640.9" r="1.4"/>
<circle cx="276.2" cy="643.9" r="1.4"/>
<circle cx="265.5" cy="647.4" r="1.4"/>
<circle cx="268.5" cy="646.1" r="1.4"/>
<circle cx="250.1" cy="645.5" r="1.4"/>
<circle cx="262.2" cy="647.3" r="1.4"/>
<circle cx="252.9" cy="647.3" r="1.4"/>
<circle cx="272.5" cy="644" r="1.4"/>
<circle cx="270.3" cy="647.5" r="1.4"/>
<circle cx="272.6" cy="647.4" r="1.4"/>
<circle cx="264.9" cy="647.1" r="1.4"/>
<circle cx="261" cy="646.1" r="1.4"/>
<circle cx="270.7" cy="645.8" r="1.4"/>
<circle cx="280.7" cy="644" r="1.4"/>
<circle cx="271.1" cy="647.4" r="1.4"/>
<circle cx="252.9" cy="647.4" r="1.4"/>
<circle cx="256.7" cy="639.7" r="1.4"/>
<circle cx="264.9" cy="645.4" r="1.4"/>
<circle cx="266.5" cy="645.4" r="1.4"/>
<circle cx="252.8" cy="642.5" r="1.4"/>
<circle cx="257.8" cy="644.4" r="1.4"/>
<circle cx="267" cy="643.3" r="1.4"/>
<circle cx="282.1" cy="645.1" r="1.4"/>
<circle cx="264.4" cy="632.1" r="1.4"/>
<circle cx="269.1" cy="646.9" r="1.4"/>
<circle cx="269.4" cy="647.3" r="1.4"/>
<circle cx="284.2" cy="640" r="1.4"/>
<circle cx="265.9" cy="639.5" r="1.4"/>
<circle cx="257.3" cy="618.2" r="1.4"/>
<circle cx="262.5" cy="647.2" r="1.4"/>
<circle cx="285" cy="644.1" r="1.4"/>
<circle cx="257" cy="643.5" r="1.4"/>
<circle cx="261.5" cy="643.1" r="1.4"/>
<circle cx="250.4" cy="646.7" r="1.4"/>
<circle cx="249.3" cy="647.5" r="1.4"/>
<circle cx="265.2" cy="646.7" r="1.4"/>
<circle cx="265.9" cy="647.1" r="1.4"/>
<circle cx="269.4" cy="644" r="1.4"/>
<circle cx="272.8" cy="640.4" r="1.4"/>
<circle cx="271.2" cy="647.1" r="1.4"/>
<circle cx="269.5" cy="643.7" r="1.4"/>
<circle cx="250.2" cy="647.2" r="1.4"/>
<circle cx="267" cy="645.5" r="1.4"/>
<circle cx="279.3" cy="644.5" r="1.4"/>
<circle cx="285.1" cy="646.1" r="1.4"/>
<circle cx="278.7" cy="634.5" r="1.4"/>
<circle cx="256.7" cy="646.8" r="1.4"/>
<circle cx="282" cy="646.9" r="1.4"/>
<circle cx="265.8" cy="646.5" r="1.4"/>
<circle cx="250.7" cy="647.6" r="1.4"/>
<circle cx="257.9" cy="646.7" r="1.4"/>
<circle cx="267.3" cy="647.2" r="1.4"/>
<circle cx="281.2" cy="644" r="1.4"/>
<circle cx="283.1" cy="647.5" r="1.4"/>
<circle cx="279.6" cy="647.1" r="1.4"/>
<circle cx="253.8" cy="645" r="1.4"/>
<circle cx="256.2" cy="647.6" r="1.4"/>
<circle cx="256.4" cy="647.3" r="1.4"/>
<circle cx="262.3" cy="641.1" r="1.4"/>
<circle cx="284.2" cy="644.4" r="1.4"/>
<circle cx="280.4" cy="642.8" r="1.4"/>
<circle cx="270.5" cy="642.5" r="1.4"/>
<circle cx="284.2" cy="645.5" r="1.4"/>
<circle cx="276.1" cy="647.6" r="1.4"/>
<circle cx="261.5" cy="644.1" r="1.4"/>
<circle cx="263.8" cy="643.6" r="1.4"/>
<circle cx="284.4" cy="645.9" r="1.4"/>
<circle cx="270.3" cy="647.5" r="1.4"/>
<circle cx="251.6" cy="646.5" r="1.4"/>
<circle cx="283.4" cy="639.3" r="1.4"/>
<circle cx="285.7" cy="646.5" r="1.4"/>
<circle cx="262.3" cy="647.5" r="1.4"/>
<circle cx="280.9" cy="647.4" r="1.4"/>
<circle cx="260" cy="645.5" r="1.4"/>
<circle cx="283.9" cy="645.1" r="1.4"/>
<circle cx="285.1" cy="645.7" r="1.4"/>
<circle cx="271.1" cy="647.6" r="1.4"/>
<circle cx="266.1" cy="638" r="1.4"/>
<circle cx="281.2" cy="647.3" r="1.4"/>
<circle cx="271.8" cy="638.7" r="1.4"/>
<circle cx="250.5" cy="646.6" r="1.4"/>
<circle cx="279.2" cy="640.2" r="1.4"/>
<circle cx="283" cy="647.6" r="1.4"/>
<circle cx="283" cy="647.5" r="1.4"/>
<circle cx="274.2" cy="647" r="1.4"/>
<circle cx="275.3" cy="626.9" r="1.4"/>
<circle cx="286" cy="647" r="1.4"/>
<circle cx="277.9" cy="645.2" r="1.4"/>
<circle cx="281.9" cy="644.3" r="1.4"/>
<circle cx="258.2" cy="647.3" r="1.4"/>
<circle cx="269.3" cy="634.8" r="1.4"/>
<circle cx="272.2" cy="646.4" r="1.4"/>
<circle cx="251.6" cy="643.8" r="1.4"/>
<circle cx="278.3" cy="644.4" r="1.4"/>
<circle cx="249.7" cy="647.6" r="1.4"/>
<circle cx="258.4" cy="645" r="1.4"/>
<circle cx="278" cy="634.8" r="1.4"/>
<circle cx="262.5" cy="645.3" r="1.4"/>
<circle cx="253.7" cy="647.4" r="1.4"/>
<circle cx="266.4" cy="643.8" r="1.4"/>
<circle cx="283.5" cy="647.5" r="1.4"/>
<circle cx="248.3" cy="647.4" r="1.4"/>
<circle cx="271.8" cy="645.4" r="1.4"/>
<circle cx="267.6" cy="634.5" r="1.4"/>
<circle cx="265.1" cy="647.5" r="1.4"/>
<circle cx="263.8" cy="647.5" r="1.4"/>
<circle cx="276.3" cy="643.1" r="1.4"/>
<circle cx="284.3" cy="644.6" r="1.4"/>
<circle cx="268.8" cy="644" r="1.4"/>
<circle cx="265" cy="637.6" r="1.4"/>
<circle cx="247.8" cy="647.4" r="1.4"/>
<circle cx="278.4" cy="647.6" r="1.4"/>
<circle cx="254.6" cy="645.8" r="1.4"/>
<circle cx="268.7" cy="645.2" r="1.4"/>
<circle cx="276.5" cy="646" r="1.4"/>
<circle cx="257.3" cy="634.1" r="1.4"/>
<circle cx="268" cy="644.1" r="1.4"/>
<circle cx="282.7" cy="647.4" r="1.4"/>
<circle cx="282.4" cy="645.5" r="1.4"/>
<circle cx="252.2" cy="643" r="1.4"/>
<circle cx="268.7" cy="643.6" r="1.4"/>
<circle cx="250.1" cy="645.5" r="1.4"/>
<circle cx="261.8" cy="647.6" r="1.4"/>
<circle cx="267.7" cy="647.5" r="1.4"/>
<circle cx="262.2" cy="645.6" r="1.4"/>
<circle cx="249.3" cy="647.4" r="1.4"/>
<circle cx="249.8" cy="644.5" r="1.4"/>
<circle cx="261.9" cy="643" r="1.4"/>
<circle cx="273" cy="647.4" r="1.4"/>
<circle cx="255.5" cy="647" r="1.4"/>
<circle cx="281.5" cy="647.5" r="1.4"/>
<circle cx="268.1" cy="644.9" r="1.4"/>
<circle cx="268.2" cy="644.5" r="1.4"/>
<circle cx="264" cy="635.3" r="1.4"/>
<circle cx="286.1" cy="639.9" r="1.4"/>
<circle cx="266.1" cy="639.2" r="1.4"/>
<circle cx="275.5" cy="635.3" r="1.4"/>
<circle cx="259.4" cy="644" r="1.4"/>
<circle cx="250.3" cy="646.6" r="1.4"/>
<circle cx="282" cy="637.1" r="1.4"/>
<circle cx="275.9" cy="647.4" r="1.4"/>
<circle cx="270.5" cy="645.1" r="1.4"/>
<circle cx="260.2" cy="647.3" r="1.4"/>
<circle cx="283.9" cy="642.4" r="1.4"/>
<circle cx="283" cy="643.9" r="1.4"/>
<circle cx="283.4" cy="642" r="1.4"/>
<circle cx="266.3" cy="644.2" r="1.4"/>
<circle cx="278.1" cy="647.1" r="1.4"/>
<circle cx="285.8" cy="647.2" r="1.4"/>
<circle cx="253.9" cy="645.2" r="1.4"/>
<circle cx="285.5" cy="645.5" r="1.4"/>
<circle cx="265.7" cy="647.6" r="1.4"/>
<circle cx="273.2" cy="644.9" r="1.4"/>
<circle cx="249.5" cy="640" r="1.4"/>
<circle cx="284.4" cy="642.7" r="1.4"/>
<circle cx="278.5" cy="647.5" r="1.4"/>
<circle cx="280.8" cy="647.3" r="1.4"/>
<circle cx="256.9" cy="647.6" r="1.4"/>
<circle cx="285.3" cy="647.3" r="1.4"/>
<circle cx="247.9" cy="646.7" r="1.4"/>
<circle cx="275" cy="646.1" r="1.4"/>
<circle cx="274.8" cy="647.5" r="1.4"/>
<circle cx="269.8" cy="647" r="1.4"/>
<circle cx="255.6" cy="644.2" r="1.4"/>
<circle cx="267.6" cy="645.8" r="1.4"/>
<circle cx="254.4" cy="637.5" r="1.4"/>
<circle cx="250.3" cy="647.1" r="1.4"/>
<circle cx="279.8" cy="646.4" r="1.4"/>
<circle cx="273.7" cy="644.5" r="1.4"/>
<circle cx="272.4" cy="644.9" r="1.4"/>
<circle cx="285.3" cy="644.5" r="1.4"/>
<circle cx="249.2" cy="643" r="1.4"/>
<circle cx="259.8" cy="620.9" r="1.4"/>
<circle cx="285.2" cy="645.4" r="1.4"/>
<circle cx="265.1" cy="647.4" r="1.4"/>
<circle cx="261.4" cy="645.4" r="1.4"/>
<circle cx="252.6" cy="633.6" r="1.4"/>
<circle cx="271" cy="643.4" r="1.4"/>
<circle cx="275.3" cy="647" r="1.4"/>
<circle cx="283.5" cy="640.6" r="1.4"/>
<circle cx="271.9" cy="643.8" r="1.4"/>
<circle cx="263.5" cy="644.1" r="1.4"/>
<circle cx="272.9" cy="642.3" r="1.4"/>
<circle cx="274.9" cy="646.1" r="1.4"/>
<circle cx="261.1" cy="647.6" r="1.4"/>
<circle cx="253.7" cy="640.6" r="1.4"/>
<circle cx="283.1" cy="643.7" r="1.4"/>
<circle cx="260.9" cy="645" r="1.4"/>
<circle cx="248.2" cy="645.6" r="1.4"/>
<circle cx="283.2" cy="647.6" r="1.4"/>
<circle cx="270.1" cy="647.4" r="1.4"/>
<circle cx="267.5" cy="647.2" r="1.4"/>
<circle cx="260.2" cy="646.4" r="1.4"/>
<circle cx="281.9" cy="647.5" r="1.4"/>
<circle cx="277.6" cy="646" r="1.4"/>
<circle cx="277.8" cy="646.1" r="1.4"/>
<circle cx="281.7" cy="647.4" r="1.4"/>
<circle cx="285.1" cy="647.6" r="1.4"/>
<circle cx="260.7" cy="643" r="1.4"/>
<circle cx="271.1" cy="644.3" r="1.4"/>
<circle cx="282.8" cy="647.5" r="1.4"/>
<circle cx="278.5" cy="646" r="1.4"/>
<circle cx="264" cy="647.1" r="1.4"/>
<circle cx="272.7" cy="646.5" r="1.4"/>
<circle cx="260.5" cy="643.7" r="1.4"/>
<circle cx="247.6" cy="643.9" r="1.4"/>
<circle cx="279.3" cy="647.5" r="1.4"/>
<circle cx="278.4" cy="643.9" r="1.4"/>
<circle cx="262.7" cy="644.3" r="1.4"/>
<circle cx="278.3" cy="644.5" r="1.4"/>
<circle cx="273.7" cy="635.4" r="1.4"/>
<circle cx="253.6" cy="634.8" r="1.4"/>
<circle cx="276.3" cy="647.3" r="1.4"/>
<circle cx="252.2" cy="647.1" r="1.4"/>
<circle cx="279.6" cy="634.4" r="1.4"/>
<circle cx="272.5" cy="646.4" r="1.4"/>
<circle cx="262.6" cy="643.2" r="1.4"/>
<circle cx="284.5" cy="647.2" r="1.4"/>
<circle cx="271.1" cy="634.6" r="1.4"/>
<circle cx="265.9" cy="644.4" r="1.4"/>
<circle cx="285.8" cy="641" r="1.4"/>
<circle cx="265.8" cy="636.4" r="1.4"/>
<circle cx="271.7" cy="644" r="1.4"/>
<circle cx="285.6" cy="645.5" r="1.4"/>
<circle cx="270.2" cy="647.4" r="1.4"/>
<circle cx="273.4" cy="647.2" r="1.4"/>
<circle cx="258.5" cy="646.2" r="1.4"/>
<circle cx="263.5" cy="643.9" r="1.4"/>
<circle cx="269.6" cy="641.3" r="1.4"/>
<circle cx="270.4" cy="645.8" r="1.4"/>
<circle cx="253.2" cy="646.5" r="1.4"/>
<circle cx="248" cy="647.3" r="1.4"/>
<circle cx="269.3" cy="636.5" r="1.4"/>
<circle cx="259" cy="643.6" r="1.4"/>
<circle cx="282" cy="645.3" r="1.4"/>
<circle cx="275.2" cy="646.1" r="1.4"/>
<circle cx="272.3" cy="647.5" r="1.4"/>
<circle cx="270.8" cy="646.9" r="1.4"/>
<circle cx="259.8" cy="634.1" r="1.4"/>
<circle cx="261.3" cy="644" r="1.4"/>
<circle cx="276.8" cy="647.5" r="1.4"/>
<circle cx="256.4" cy="644.1" r="1.4"/>
<circle cx="266.5" cy="647.4" r="1.4"/>
<circle cx="263.2" cy="644.2" r="1.4"/>
<circle cx="252.9" cy="637.8" r="1.4"/>
<circle cx="249.2" cy="645.3" r="1.4"/>
<circle cx="266.6" cy="637.2" r="1.4"/>
<circle cx="265.8" cy="641.9" r="1.4"/>
<circle cx="247.7" cy="647.3" r="1.4"/>
<circle cx="281.1" cy="646.4" r="1.4"/>
<circle cx="249.4" cy="647.6" r="1.4"/>
<circle cx="254.3" cy="644.4" r="1.4"/>
<circle cx="254.1" cy="646" r="1.4"/>
<circle cx="254.7" cy="644.4" r="1.4"/>
<circle cx="253.3" cy="643.1" r="1.4"/>
<circle cx="270.9" cy="644.9" r="1.4"/>
<circle cx="268.7" cy="646.5" r="1.4"/>
<circle cx="247.7" cy="645.9" r="1.4"/>
<circle cx="276" cy="644.4" r="1.4"/>
<circle cx="281.2" cy="641.5" r="1.4"/>
<circle cx="281.9" cy="636.5" r="1.4"/>
<circle cx="261.6" cy="639.7" r="1.4"/>
<circle cx="253.8" cy="645.1" r="1.4"/>
<circle cx="252" cy="646" r="1.4"/>
<circle cx="284.1" cy="647.5" r="1.4"/>
<circle cx="257.3" cy="645.8" r="1.4"/>
<circle cx="257.5" cy="641.4" r="1.4"/>
<circle cx="264.7" cy="640.8" r="1.4"/>
<circle cx="280.7" cy="647.6" r="1.4"/>
<circle cx="256.4" cy="645.1" r="1.4"/>
<circle cx="254.9" cy="647.5" r="1.4"/>
<circle cx="258.1" cy="643.9" r="1.4"/>
<circle cx="275.1" cy="637.7" r="1.4"/>
<circle cx="279.6" cy="647" r="1.4"/>
<circle cx="275.1" cy="634.2" r="1.4"/>
<circle cx="270.1" cy="644.9" r="1.4"/>
<circle cx="259.4" cy="635.8" r="1.4"/>
<circle cx="282" cy="646.2" r="1.4"/>
<circle cx="262.1" cy="638.1" r="1.4"/>
<circle cx="278.8" cy="647.3" r="1.4"/>
<circle cx="284.7" cy="646.7" r="1.4"/>
<circle cx="260.1" cy="647.3" r="1.4"/>
<circle cx="256" cy="647.5" r="1.4"/>
<circle cx="285.7" cy="643.7" r="1.4"/>
<circle cx="256.5" cy="643.9" r="1.4"/>
<circle cx="284.3" cy="635.2" r="1.4"/>
<circle cx="283.8" cy="647" r="1.4"/>
<circle cx="282.1" cy="645.7" r="1.4"/>
<circle cx="281.1" cy="647.5" r="1.4"/>
<circle cx="258.3" cy="639.1" r="1.4"/>
<circle cx="280.6" cy="637.9" r="1.4"/>
</g>
<line x1="266.8" y1="637.37" x2="266.8" y2="647.65" stroke="#222" stroke-width="0.8"/>
<rect x="249.4" y="643.54" width="34.8" height="3.66" fill="#fff" stroke="#2a2a2a" stroke-width="0.8"/>
<line x1="249.4" y1="645.37" x2="284.2" y2="645.37" stroke="#333" stroke-width="0.9"/>
<g fill="#1f5da8" stroke="#07172c" stroke-width="0.5">
<use href="#d140" x="328.3" y="647.6"/>
<use href="#d140" x="331.8" y="645"/>
<use href="#d140" x="327.2" y="646.6"/>
<use href="#d140" x="323.1" y="647.5"/>
<use href="#d140" x="326.9" y="639.4"/>
<use href="#d140" x="295.5" y="647.3"/>
<use href="#d140" x="302.2" y="646.4"/>
<use href="#d140" x="311.5" y="646.4"/>
<use href="#d140" x="317" y="647"/>
<use href="#d140" x="318.6" y="643.7"/>
<use href="#d140" x="320.1" y="639.3"/>
<use href="#d140" x="298.9" y="647.3"/>
<use href="#d140" x="318.5" y="646.4"/>
<use href="#d140" x="328.2" y="646.5"/>
<use href="#d140" x="317.2" y="641.8"/>
<use href="#d140" x="327.5" y="643.8"/>
<use href="#d140" x="317.4" y="643.7"/>
<use href="#d140" x="321.9" y="647.2"/>
<use href="#d140" x="314.2" y="641.9"/>
<use href="#d140" x="300.8" y="647.5"/>
<use href="#d140" x="325.7" y="645.2"/>
<use href="#d140" x="324.3" y="646.4"/>
<use href="#d140" x="295.6" y="610.2"/>
<use href="#d140" x="318.7" y="640"/>
<use href="#d140" x="317.9" y="647.4"/>
<use href="#d140" x="298.9" y="637.9"/>
<use href="#d140" x="323.8" y="639.1"/>
<use href="#d140" x="316.6" y="647.4"/>
<use href="#d140" x="300.2" y="646.8"/>
<use href="#d140" x="307.3" y="645"/>
<use href="#d140" x="319.9" y="639"/>
<use href="#d140" x="331.1" y="642.4"/>
<use href="#d140" x="310.7" y="644.1"/>
<use href="#d140" x="301.8" y="601.7"/>
<use href="#d140" x="325.8" y="646"/>
<use href="#d140" x="315.6" y="641.9"/>
<use href="#d140" x="307.4" y="646.7"/>
<use href="#d140" x="319.1" y="646.9"/>
<use href="#d140" x="294.6" y="645.5"/>
<use href="#d140" x="317.1" y="642.8"/>
<use href="#d140" x="315.7" y="645"/>
<use href="#d140" x="296.7" y="645.1"/>
<use href="#d140" x="300.1" y="644.4"/>
<use href="#d140" x="302.3" y="646.6"/>
<use href="#d140" x="324.6" y="644"/>
<use href="#d140" x="333.1" y="641.7"/>
<use href="#d140" x="294.4" y="643.9"/>
<use href="#d140" x="322.5" y="641.8"/>
<use href="#d140" x="300.9" y="643"/>
<use href="#d140" x="312.4" y="647.3"/>
<use href="#d140" x="318.6" y="646.7"/>
<use href="#d140" x="319.5" y="642.5"/>
<use href="#d140" x="326.9" y="640.7"/>
<use href="#d140" x="297.7" y="644.3"/>
<use href="#d140" x="321.8" y="640.9"/>
<use href="#d140" x="323.5" y="644.5"/>
<use href="#d140" x="316.1" y="644.5"/>
<use href="#d140" x="302.5" y="633.3"/>
<use href="#d140" x="312.3" y="642.6"/>
<use href="#d140" x="318.7" y="647.1"/>
<use href="#d140" x="331.6" y="643.9"/>
<use href="#d140" x="298.4" y="646.5"/>
<use href="#d140" x="332.4" y="644.6"/>
<use href="#d140" x="325.3" y="641"/>
<use href="#d140" x="330.1" y="646.4"/>
<use href="#d140" x="302.3" y="639.8"/>
<use href="#d140" x="306.4" y="644"/>
<use href="#d140" x="296.5" y="647.6"/>
<use href="#d140" x="298.5" y="642"/>
<use href="#d140" x="299.2" y="644.4"/>
<use href="#d140" x="312" y="635.2"/>
<use href="#d140" x="330.7" y="643"/>
<use href="#d140" x="331.2" y="638.8"/>
<use href="#d140" x="330.7" y="645.2"/>
<use href="#d140" x="332" y="643.9"/>
<use href="#d140" x="317.9" y="644.9"/>
<use href="#d140" x="324.5" y="640.8"/>
<use href="#d140" x="300.9" y="639.2"/>
<use href="#d140" x="325.5" y="638.6"/>
<use href="#d140" x="313.4" y="641.1"/>
<use href="#d140" x="312.3" y="643.3"/>
<use href="#d140" x="309.6" y="641.7"/>
<use href="#d140" x="331.4" y="642"/>
<use href="#d140" x="310.3" y="645.4"/>
<use href="#d140" x="316.5" y="646.9"/>
<use href="#d140" x="324.5" y="638.5"/>
<use href="#d140" x="328.7" y="638.3"/>
<use href="#d140" x="305.4" y="646.6"/>
<use href="#d140" x="304.6" y="644.3"/>
<use href="#d140" x="306.9" y="646.8"/>
<use href="#d140" x="329.8" y="640.2"/>
<use href="#d140" x="330.8" y="642.2"/>
<use href="#d140" x="300" y="641.7"/>
<use href="#d140" x="329.5" y="646.7"/>
<use href="#d140" x="297.6" y="646.3"/>
<use href="#d140" x="305" y="635.2"/>
<use href="#d140" x="319.3" y="647.6"/>
<use href="#d140" x="331.3" y="646"/>
<use href="#d140" x="330.1" y="638.8"/>
<use href="#d140" x="314.7" y="647.4"/>
<use href="#d140" x="298" y="643.3"/>
<use href="#d140" x="330.6" y="643.5"/>
<use href="#d140" x="326.6" y="646.9"/>
<use href="#d140" x="307.4" y="639.9"/>
<use href="#d140" x="305.9" y="641.4"/>
<use href="#d140" x="312.1" y="642.2"/>
<use href="#d140" x="303.4" y="645.4"/>
<use href="#d140" x="302" y="643"/>
<use href="#d140" x="332.1" y="641.8"/>
<use href="#d140" x="295.1" y="646.3"/>
<use href="#d140" x="315.9" y="637"/>
<use href="#d140" x="318.1" y="635.5"/>
<use href="#d140" x="299.5" y="641.9"/>
<use href="#d140" x="305.8" y="636.4"/>
<use href="#d140" x="299.2" y="637.9"/>
<use href="#d140" x="328.7" y="639.6"/>
<use href="#d140" x="332.5" y="639"/>
<use href="#d140" x="310.6" y="639.9"/>
<use href="#d140" x="307" y="647.6"/>
<use href="#d140" x="294.4" y="642.3"/>
<use href="#d140" x="318.2" y="644"/>
<use href="#d140" x="315.7" y="647.2"/>
<use href="#d140" x="308.6" y="646.9"/>
<use href="#d140" x="298.7" y="639.7"/>
<use href="#d140" x="315.8" y="642.2"/>
<use href="#d140" x="325.2" y="639.5"/>
<use href="#d140" x="300.4" y="643.7"/>
<use href="#d140" x="327.4" y="641.2"/>
<use href="#d140" x="323.3" y="647.3"/>
<use href="#d140" x="331.2" y="640.7"/>
<use href="#d140" x="327.1" y="643.9"/>
<use href="#d140" x="302.2" y="644.2"/>
<use href="#d140" x="322.3" y="645.6"/>
<use href="#d140" x="326" y="635.1"/>
<use href="#d140" x="330.4" y="644.7"/>
<use href="#d140" x="298.7" y="644.1"/>
<use href="#d140" x="323.3" y="639.3"/>
<use href="#d140" x="332.8" y="643.1"/>
<use href="#d140" x="318.3" y="645.2"/>
<use href="#d140" x="333.7" y="641.9"/>
<use href="#d140" x="311.9" y="646.4"/>
<use href="#d140" x="328.9" y="647.5"/>
<use href="#d140" x="328.6" y="634.3"/>
<use href="#d140" x="330.8" y="561"/>
<use href="#d140" x="311.5" y="638.5"/>
<use href="#d140" x="305.9" y="644.6"/>
<use href="#d140" x="330.2" y="645.9"/>
<use href="#d140" x="303" y="643.2"/>
<use href="#d140" x="307.3" y="636.2"/>
<use href="#d140" x="295.5" y="644.1"/>
<use href="#d140" x="331.4" y="644.6"/>
<use href="#d140" x="331.5" y="619.5"/>
<use href="#d140" x="313.2" y="645.1"/>
<use href="#d140" x="315.3" y="646.8"/>
<use href="#d140" x="312.3" y="647.6"/>
<use href="#d140" x="322.9" y="647.5"/>
<use href="#d140" x="296.9" y="647.4"/>
<use href="#d140" x="310.7" y="646.2"/>
<use href="#d140" x="306.6" y="647.3"/>
<use href="#d140" x="313.2" y="646.7"/>
<use href="#d140" x="331.5" y="633"/>
<use href="#d140" x="303.8" y="644.5"/>
<use href="#d140" x="302" y="645.6"/>
<use href="#d140" x="317.2" y="644.4"/>
<use href="#d140" x="314.2" y="645.3"/>
<use href="#d140" x="306.6" y="645.9"/>
<use href="#d140" x="330.5" y="644.8"/>
<use href="#d140" x="306.2" y="644.2"/>
<use href="#d140" x="304.6" y="646.8"/>
<use href="#d140" x="326.9" y="629.8"/>
<use href="#d140" x="317.8" y="642.6"/>
<use href="#d140" x="331" y="640"/>
<use href="#d140" x="300.8" y="644.1"/>
<use href="#d140" x="297.5" y="639"/>
<use href="#d140" x="315.8" y="642.6"/>
<use href="#d140" x="330.1" y="643.1"/>
<use href="#d140" x="295.1" y="643.1"/>
<use href="#d140" x="324.9" y="647.1"/>
<use href="#d140" x="323.8" y="637.5"/>
<use href="#d140" x="325" y="645.2"/>
<use href="#d140" x="306.2" y="645.1"/>
<use href="#d140" x="314.6" y="642.5"/>
<use href="#d140" x="307.6" y="638.8"/>
<use href="#d140" x="302.2" y="642.1"/>
<use href="#d140" x="296.6" y="635.2"/>
<use href="#d140" x="319.6" y="647.1"/>
<use href="#d140" x="297.2" y="646.4"/>
<use href="#d140" x="306.1" y="646.7"/>
<use href="#d140" x="308.3" y="647.2"/>
<use href="#d140" x="310.4" y="640.6"/>
<use href="#d140" x="317.9" y="644.3"/>
<use href="#d140" x="332.6" y="647.3"/>
<use href="#d140" x="315.6" y="646.8"/>
<use href="#d140" x="327.2" y="640.8"/>
<use href="#d140" x="317.9" y="637.8"/>
<use href="#d140" x="298.6" y="641.9"/>
<use href="#d140" x="306.9" y="646.8"/>
<use href="#d140" x="299.2" y="645.2"/>
<use href="#d140" x="323.2" y="641.4"/>
<use href="#d140" x="318.4" y="646.5"/>
<use href="#d140" x="323.3" y="623.9"/>
<use href="#d140" x="295.4" y="635.2"/>
<use href="#d140" x="319.3" y="605.4"/>
<use href="#d140" x="332.7" y="639.9"/>
<use href="#d140" x="300.3" y="645.3"/>
<use href="#d140" x="319.5" y="645.5"/>
<use href="#d140" x="297.7" y="643"/>
<use href="#d140" x="329.2" y="646.4"/>
<use href="#d140" x="301" y="639.2"/>
<use href="#d140" x="308.1" y="646.1"/>
<use href="#d140" x="324.6" y="642.6"/>
<use href="#d140" x="333.4" y="642.2"/>
<use href="#d140" x="314.8" y="641.5"/>
<use href="#d140" x="331.5" y="644.5"/>
<use href="#d140" x="299" y="645.5"/>
<use href="#d140" x="303.4" y="639.2"/>
<use href="#d140" x="315.1" y="642.6"/>
<use href="#d140" x="305.6" y="645.4"/>
<use href="#d140" x="323.3" y="639"/>
<use href="#d140" x="313.5" y="646.9"/>
<use href="#d140" x="318.7" y="645.8"/>
<use href="#d140" x="328" y="646.8"/>
<use href="#d140" x="322.9" y="643.3"/>
<use href="#d140" x="312.7" y="647.6"/>
<use href="#d140" x="329.1" y="641.8"/>
<use href="#d140" x="311.6" y="639.8"/>
<use href="#d140" x="327.7" y="647.6"/>
<use href="#d140" x="332.2" y="646.7"/>
<use href="#d140" x="302.3" y="642.2"/>
<use href="#d140" x="294.6" y="644.8"/>
<use href="#d140" x="317.1" y="647.4"/>
<use href="#d140" x="300.9" y="640.7"/>
<use href="#d140" x="302.3" y="647.4"/>
<use href="#d140" x="331.9" y="647"/>
<use href="#d140" x="300.3" y="641"/>
<use href="#d140" x="312.2" y="642.6"/>
<use href="#d140" x="305.4" y="644.5"/>
<use href="#d140" x="298.6" y="644.8"/>
<use href="#d140" x="299.6" y="643"/>
<use href="#d140" x="326" y="641.6"/>
<use href="#d140" x="303.1" y="641.1"/>
<use href="#d140" x="332.6" y="646.7"/>
<use href="#d140" x="309.3" y="644.8"/>
<use href="#d140" x="312.8" y="642.8"/>
<use href="#d140" x="300.6" y="646"/>
<use href="#d140" x="294.9" y="645.9"/>
<use href="#d140" x="306.6" y="638.6"/>
<use href="#d140" x="328.4" y="640.9"/>
<use href="#d140" x="329.6" y="646.6"/>
<use href="#d140" x="305.9" y="635.5"/>
<use href="#d140" x="298.2" y="646"/>
<use href="#d140" x="313.8" y="644.9"/>
<use href="#d140" x="332.9" y="647"/>
<use href="#d140" x="332.6" y="635.9"/>
<use href="#d140" x="311.1" y="646.3"/>
<use href="#d140" x="309.3" y="634.4"/>
<use href="#d140" x="306.9" y="641.1"/>
<use href="#d140" x="322.9" y="647.1"/>
<use href="#d140" x="326.5" y="639.5"/>
<use href="#d140" x="318.3" y="644.2"/>
<use href="#d140" x="311.4" y="640.9"/>
<use href="#d140" x="327.7" y="638.4"/>
<use href="#d140" x="305.3" y="644.3"/>
<use href="#d140" x="323" y="636.1"/>
<use href="#d140" x="299.6" y="646.1"/>
<use href="#d140" x="328.1" y="639.4"/>
<use href="#d140" x="295.5" y="646.8"/>
<use href="#d140" x="324.8" y="647.6"/>
<use href="#d140" x="313.4" y="642.1"/>
<use href="#d140" x="332.8" y="640.4"/>
<use href="#d140" x="317.9" y="645.5"/>
<use href="#d140" x="327.8" y="636.1"/>
<use href="#d140" x="305.2" y="647.4"/>
<use href="#d140" x="303.8" y="647.5"/>
<use href="#d140" x="325.1" y="647.4"/>
<use href="#d140" x="298.7" y="642.7"/>
<use href="#d140" x="306.2" y="610.4"/>
<use href="#d140" x="329.5" y="647.2"/>
<use href="#d140" x="324" y="645.6"/>
<use href="#d140" x="329.3" y="641"/>
<use href="#d140" x="307.5" y="642.1"/>
<use href="#d140" x="322" y="638.1"/>
<use href="#d140" x="299.7" y="631.2"/>
<use href="#d140" x="296.5" y="640.7"/>
<use href="#d140" x="324.8" y="627.8"/>
<use href="#d140" x="305.2" y="646.9"/>
<use href="#d140" x="307.2" y="644.8"/>
<use href="#d140" x="303.4" y="609.5"/>
<use href="#d140" x="316.8" y="597.8"/>
<use href="#d140" x="326.8" y="645.7"/>
<use href="#d140" x="318.3" y="643.3"/>
<use href="#d140" x="312.2" y="636.7"/>
<use href="#d140" x="302.7" y="645"/>
<use href="#d140" x="316.6" y="646.6"/>
<use href="#d140" x="310.4" y="646"/>
<use href="#d140" x="325.8" y="644.6"/>
<use href="#d140" x="303.3" y="641.1"/>
<use href="#d140" x="302.9" y="637.6"/>
<use href="#d140" x="310.9" y="647.2"/>
<use href="#d140" x="311.3" y="612.5"/>
<use href="#d140" x="325.1" y="647.1"/>
<use href="#d140" x="319.4" y="645.5"/>
<use href="#d140" x="296.1" y="639.4"/>
<use href="#d140" x="325.2" y="639.9"/>
<use href="#d140" x="325.1" y="644.1"/>
<use href="#d140" x="329.3" y="636.9"/>
<use href="#d140" x="320.7" y="636.3"/>
<use href="#d140" x="310.2" y="646.2"/>
<use href="#d140" x="318.2" y="638.2"/>
<use href="#d140" x="330.1" y="646.6"/>
<use href="#d140" x="305.8" y="646.4"/>
<use href="#d140" x="315.9" y="647.6"/>
<use href="#d140" x="295.6" y="638.5"/>
<use href="#d140" x="294.1" y="646.3"/>
<use href="#d140" x="310.4" y="640.8"/>
<use href="#d140" x="328.3" y="646.9"/>
<use href="#d140" x="306" y="619.5"/>
<use href="#d140" x="325.2" y="646.7"/>
<use href="#d140" x="301.5" y="646.6"/>
<use href="#d140" x="324.5" y="645"/>
<use href="#d140" x="332.6" y="640.7"/>
<use href="#d140" x="311.5" y="645.1"/>
<use href="#d140" x="314.2" y="636.2"/>
<use href="#d140" x="324.7" y="639.3"/>
<use href="#d140" x="299.7" y="640.9"/>
<use href="#d140" x="311.1" y="636"/>
<use href="#d140" x="308.1" y="644.8"/>
<use href="#d140" x="296.5" y="646.6"/>
<use href="#d140" x="303.7" y="646.9"/>
<use href="#d140" x="319.7" y="642.5"/>
<use href="#d140" x="322.8" y="645.4"/>
<use href="#d140" x="330.4" y="641.7"/>
<use href="#d140" x="323.5" y="644.4"/>
<use href="#d140" x="307.5" y="647.2"/>
<use href="#d140" x="304.5" y="647.5"/>
<use href="#d140" x="318.2" y="647.4"/>
</g>
<line x1="313.8" y1="633.94" x2="313.8" y2="647.65" stroke="#222" stroke-width="0.8"/>
<rect x="296.1" y="640.79" width="35.4" height="5.48" fill="#fff" stroke="#2a2a2a" stroke-width="0.8"/>
<rect x="296.1" y="640.79" width="35.4" height="2.97" fill="#8e8e8e"/>
<line x1="296.1" y1="643.77" x2="331.5" y2="643.77" stroke="#333" stroke-width="0.9"/>
<text x="360.4" y="529" font-size="14.3" fill="#111" color="#111" text-anchor="start">G</text>
<text transform="translate(376,609.5) rotate(-90)" font-size="9.5" fill="#222" text-anchor="middle">Peak fluorescence</text>
<line x1="388.8" y1="547.4" x2="388.8" y2="671.5" stroke="#8a8a8a" stroke-width="0.8"/>
<line x1="387" y1="671.5" x2="388.8" y2="671.5" stroke="#8a8a8a" stroke-width="0.8"/>
<text x="384.5" y="674.33" font-size="8.2" fill="#555" color="#555" text-anchor="end" style="stroke-width:0.06px">0</text>
<line x1="387" y1="646.68" x2="388.8" y2="646.68" stroke="#8a8a8a" stroke-width="0.8"/>
<text x="384.5" y="649.51" font-size="8.2" fill="#555" color="#555" text-anchor="end" style="stroke-width:0.06px">1</text>
<line x1="387" y1="621.86" x2="388.8" y2="621.86" stroke="#8a8a8a" stroke-width="0.8"/>
<text x="384.5" y="624.69" font-size="8.2" fill="#555" color="#555" text-anchor="end" style="stroke-width:0.06px">2</text>
<line x1="387" y1="597.04" x2="388.8" y2="597.04" stroke="#8a8a8a" stroke-width="0.8"/>
<text x="384.5" y="599.87" font-size="8.2" fill="#555" color="#555" text-anchor="end" style="stroke-width:0.06px">3</text>
<line x1="387" y1="572.22" x2="388.8" y2="572.22" stroke="#8a8a8a" stroke-width="0.8"/>
<text x="384.5" y="575.05" font-size="8.2" fill="#555" color="#555" text-anchor="end" style="stroke-width:0.06px">4</text>
<line x1="387" y1="547.4" x2="388.8" y2="547.4" stroke="#8a8a8a" stroke-width="0.8"/>
<text x="384.5" y="550.23" font-size="8.2" fill="#555" color="#555" text-anchor="end" style="stroke-width:0.06px">5</text>
<line x1="388.8" y1="671.5" x2="564.5" y2="671.5" stroke="#8a8a8a" stroke-width="0.8"/>
<line x1="433.5" y1="671.5" x2="433.5" y2="673.4" stroke="#8a8a8a" stroke-width="0.8"/>
<text x="434.3" y="681.4" font-size="7.8" fill="#444" color="#444" text-anchor="middle" style="stroke-width:0.06px">Healthy</text>
<line x1="520.1" y1="671.5" x2="520.1" y2="673.4" stroke="#8a8a8a" stroke-width="0.8"/>
<text x="520.9" y="681.4" font-size="7.8" fill="#444" color="#444" text-anchor="middle" style="stroke-width:0.06px">Bipolar</text>
<g stroke="#555" stroke-width="0.6" fill="none">
<path d="M439.7,543.7V547.6"/>
<path d="M439.7,543.7H524.4V547.6"/>
</g>
<path d="M524.4,543.7V547.6" stroke="#555" stroke-width="0.6"/>
<text x="482.2" y="539.2" font-size="7.4" fill="#333" color="#333" text-anchor="middle">n.s</text>
<g fill="#e6241f" stroke="#2a0404" stroke-width="0.42">
<circle cx="460.1" cy="629.5" r="1.25"/>
<circle cx="411.8" cy="582.9" r="1.25"/>
<circle cx="455.2" cy="637.1" r="1.25"/>
<circle cx="441.5" cy="637.6" r="1.25"/>
<circle cx="458.2" cy="625.1" r="1.25"/>
<circle cx="420.8" cy="642" r="1.25"/>
<circle cx="454.4" cy="646.4" r="1.25"/>
<circle cx="427.8" cy="643.4" r="1.25"/>
<circle cx="411.2" cy="634.3" r="1.25"/>
<circle cx="415.6" cy="632.5" r="1.25"/>
<circle cx="455" cy="639.4" r="1.25"/>
<circle cx="415.5" cy="633.4" r="1.25"/>
<circle cx="446.7" cy="646.6" r="1.25"/>
<circle cx="457" cy="642.9" r="1.25"/>
<circle cx="452.3" cy="629.9" r="1.25"/>
<circle cx="446.6" cy="642.2" r="1.25"/>
<circle cx="414.6" cy="643.2" r="1.25"/>
<circle cx="449.5" cy="645.2" r="1.25"/>
<circle cx="457.7" cy="628.9" r="1.25"/>
<circle cx="457.5" cy="646.2" r="1.25"/>
<circle cx="425.9" cy="646" r="1.25"/>
<circle cx="450.8" cy="645.3" r="1.25"/>
<circle cx="451.1" cy="646.7" r="1.25"/>
<circle cx="411.1" cy="646.3" r="1.25"/>
<circle cx="412.2" cy="645" r="1.25"/>
<circle cx="444.6" cy="640.9" r="1.25"/>
<circle cx="456.7" cy="645.6" r="1.25"/>
<circle cx="411.5" cy="643.5" r="1.25"/>
<circle cx="429.9" cy="646.3" r="1.25"/>
<circle cx="407.3" cy="646.6" r="1.25"/>
<circle cx="448" cy="646.4" r="1.25"/>
<circle cx="409.7" cy="646.5" r="1.25"/>
<circle cx="421" cy="644.6" r="1.25"/>
<circle cx="458.7" cy="645.1" r="1.25"/>
<circle cx="425.3" cy="636.9" r="1.25"/>
<circle cx="434" cy="646.3" r="1.25"/>
<circle cx="412.6" cy="643.2" r="1.25"/>
<circle cx="442.3" cy="602.7" r="1.25"/>
<circle cx="412.3" cy="646.2" r="1.25"/>
<circle cx="439.1" cy="635" r="1.25"/>
<circle cx="420.7" cy="643.3" r="1.25"/>
<circle cx="429.6" cy="629.4" r="1.25"/>
<circle cx="448.8" cy="646.3" r="1.25"/>
<circle cx="434.1" cy="645" r="1.25"/>
<circle cx="421.2" cy="646.3" r="1.25"/>
<circle cx="427.1" cy="642.4" r="1.25"/>
<circle cx="447.3" cy="639.5" r="1.25"/>
<circle cx="460.3" cy="639.5" r="1.25"/>
<circle cx="452.6" cy="646.4" r="1.25"/>
<circle cx="441.2" cy="638.1" r="1.25"/>
<circle cx="441.8" cy="644.8" r="1.25"/>
<circle cx="455.4" cy="615.2" r="1.25"/>
<circle cx="417.9" cy="626.9" r="1.25"/>
<circle cx="426.4" cy="633.3" r="1.25"/>
<circle cx="416.9" cy="637.2" r="1.25"/>
<circle cx="436.8" cy="638.1" r="1.25"/>
<circle cx="459.3" cy="644.6" r="1.25"/>
<circle cx="425.9" cy="633.7" r="1.25"/>
<circle cx="418.7" cy="644.3" r="1.25"/>
<circle cx="441.8" cy="641.3" r="1.25"/>
<circle cx="419.1" cy="646.5" r="1.25"/>
<circle cx="412.3" cy="640.2" r="1.25"/>
<circle cx="422.7" cy="646.4" r="1.25"/>
<circle cx="434.1" cy="644.6" r="1.25"/>
<circle cx="457.2" cy="637.1" r="1.25"/>
<circle cx="452.2" cy="644.3" r="1.25"/>
<circle cx="444.1" cy="645.8" r="1.25"/>
<circle cx="457.5" cy="646.5" r="1.25"/>
<circle cx="425.5" cy="644.3" r="1.25"/>
<circle cx="408.6" cy="640.2" r="1.25"/>
<circle cx="451.3" cy="636.8" r="1.25"/>
<circle cx="431.6" cy="629.6" r="1.25"/>
<circle cx="440.8" cy="643.9" r="1.25"/>
<circle cx="431.4" cy="642" r="1.25"/>
<circle cx="443.1" cy="627.8" r="1.25"/>
<circle cx="439.7" cy="644.5" r="1.25"/>
<circle cx="420.7" cy="637.4" r="1.25"/>
<circle cx="415.9" cy="642.1" r="1.25"/>
<circle cx="411.3" cy="641" r="1.25"/>
<circle cx="415" cy="583.4" r="1.25"/>
<circle cx="440.4" cy="635.8" r="1.25"/>
<circle cx="411.3" cy="646.3" r="1.25"/>
<circle cx="425.7" cy="633.7" r="1.25"/>
<circle cx="459.8" cy="645.4" r="1.25"/>
<circle cx="427.4" cy="639.5" r="1.25"/>
<circle cx="459.7" cy="645.6" r="1.25"/>
<circle cx="445.1" cy="621.1" r="1.25"/>
<circle cx="409.9" cy="629.6" r="1.25"/>
<circle cx="440.8" cy="633.4" r="1.25"/>
<circle cx="415.4" cy="632.8" r="1.25"/>
<circle cx="456.7" cy="646.2" r="1.25"/>
<circle cx="418.4" cy="640.4" r="1.25"/>
<circle cx="440.6" cy="603.5" r="1.25"/>
<circle cx="428.5" cy="645.1" r="1.25"/>
<circle cx="426.8" cy="646.3" r="1.25"/>
<circle cx="420.9" cy="642.5" r="1.25"/>
<circle cx="456.3" cy="633.4" r="1.25"/>
<circle cx="414.2" cy="627.1" r="1.25"/>
<circle cx="449.5" cy="646.4" r="1.25"/>
<circle cx="434.7" cy="645.8" r="1.25"/>
<circle cx="422.7" cy="645.2" r="1.25"/>
<circle cx="442.7" cy="639" r="1.25"/>
<circle cx="448" cy="638.1" r="1.25"/>
<circle cx="442.3" cy="619.1" r="1.25"/>
<circle cx="425.8" cy="646.5" r="1.25"/>
<circle cx="411.9" cy="642" r="1.25"/>
<circle cx="454.1" cy="637.2" r="1.25"/>
<circle cx="458.9" cy="634.5" r="1.25"/>
<circle cx="408.7" cy="646.5" r="1.25"/>
<circle cx="421.5" cy="629.3" r="1.25"/>
<circle cx="409.6" cy="631.7" r="1.25"/>
<circle cx="454.8" cy="586.4" r="1.25"/>
<circle cx="439.2" cy="644.8" r="1.25"/>
<circle cx="419.7" cy="646.6" r="1.25"/>
<circle cx="437.2" cy="642.4" r="1.25"/>
<circle cx="409.9" cy="643.7" r="1.25"/>
<circle cx="408.6" cy="612.9" r="1.25"/>
<circle cx="419.5" cy="646.5" r="1.25"/>
<circle cx="437.4" cy="633.5" r="1.25"/>
<circle cx="413.5" cy="645.1" r="1.25"/>
<circle cx="411.9" cy="637.7" r="1.25"/>
<circle cx="436.9" cy="644.3" r="1.25"/>
<circle cx="457.1" cy="643.9" r="1.25"/>
<circle cx="428.4" cy="640.3" r="1.25"/>
<circle cx="450.2" cy="613.2" r="1.25"/>
<circle cx="416.5" cy="644.4" r="1.25"/>
<circle cx="428.6" cy="646.4" r="1.25"/>
<circle cx="416.9" cy="634.4" r="1.25"/>
<circle cx="460.2" cy="644.8" r="1.25"/>
<circle cx="441.5" cy="634.8" r="1.25"/>
<circle cx="451.2" cy="631.9" r="1.25"/>
<circle cx="413.7" cy="642.9" r="1.25"/>
<circle cx="432.5" cy="646.1" r="1.25"/>
<circle cx="453.4" cy="588.4" r="1.25"/>
<circle cx="449.9" cy="646.4" r="1.25"/>
<circle cx="445" cy="646.4" r="1.25"/>
<circle cx="444.8" cy="645.7" r="1.25"/>
<circle cx="441.2" cy="646.4" r="1.25"/>
<circle cx="434.3" cy="638.5" r="1.25"/>
<circle cx="441.3" cy="624.3" r="1.25"/>
<circle cx="448.2" cy="645.5" r="1.25"/>
<circle cx="436.7" cy="626.1" r="1.25"/>
<circle cx="453.4" cy="640.1" r="1.25"/>
<circle cx="453.8" cy="637.6" r="1.25"/>
<circle cx="427.2" cy="644.9" r="1.25"/>
<circle cx="446.5" cy="646.3" r="1.25"/>
<circle cx="407.1" cy="642.5" r="1.25"/>
<circle cx="414.2" cy="645.4" r="1.25"/>
<circle cx="453.1" cy="639.1" r="1.25"/>
<circle cx="454.1" cy="594.1" r="1.25"/>
<circle cx="411.3" cy="643.5" r="1.25"/>
<circle cx="454.1" cy="633.3" r="1.25"/>
<circle cx="441.6" cy="646.7" r="1.25"/>
<circle cx="414.3" cy="646.6" r="1.25"/>
<circle cx="459.4" cy="646.3" r="1.25"/>
<circle cx="457.6" cy="642.7" r="1.25"/>
<circle cx="415.8" cy="632.2" r="1.25"/>
<circle cx="455" cy="636.6" r="1.25"/>
<circle cx="410.3" cy="646.2" r="1.25"/>
<circle cx="432.2" cy="627.6" r="1.25"/>
<circle cx="456.9" cy="646.6" r="1.25"/>
<circle cx="448.6" cy="640.2" r="1.25"/>
<circle cx="425.8" cy="639.6" r="1.25"/>
<circle cx="411.4" cy="629" r="1.25"/>
<circle cx="445.1" cy="646.2" r="1.25"/>
<circle cx="449" cy="646.2" r="1.25"/>
<circle cx="413.5" cy="642.4" r="1.25"/>
<circle cx="453.4" cy="646.4" r="1.25"/>
<circle cx="412.9" cy="620.1" r="1.25"/>
<circle cx="446.1" cy="644.1" r="1.25"/>
<circle cx="418.6" cy="645.4" r="1.25"/>
<circle cx="411.6" cy="633.6" r="1.25"/>
<circle cx="431.1" cy="643.2" r="1.25"/>
<circle cx="447.6" cy="646.5" r="1.25"/>
<circle cx="414.8" cy="646.4" r="1.25"/>
<circle cx="435.7" cy="646.4" r="1.25"/>
<circle cx="458" cy="640.5" r="1.25"/>
<circle cx="441.3" cy="609.7" r="1.25"/>
<circle cx="443.6" cy="641.3" r="1.25"/>
<circle cx="441.3" cy="640.4" r="1.25"/>
<circle cx="427.4" cy="592.1" r="1.25"/>
<circle cx="427.9" cy="626.8" r="1.25"/>
<circle cx="415" cy="645.3" r="1.25"/>
<circle cx="442.7" cy="646.6" r="1.25"/>
<circle cx="455.4" cy="624.3" r="1.25"/>
<circle cx="452.8" cy="640.5" r="1.25"/>
<circle cx="422.3" cy="643.5" r="1.25"/>
<circle cx="410.3" cy="646.3" r="1.25"/>
<circle cx="417.7" cy="645.5" r="1.25"/>
<circle cx="410.6" cy="638.3" r="1.25"/>
<circle cx="417.3" cy="638.7" r="1.25"/>
<circle cx="421.7" cy="641.6" r="1.25"/>
<circle cx="417.6" cy="644.1" r="1.25"/>
<circle cx="421.8" cy="633.7" r="1.25"/>
<circle cx="415" cy="633.2" r="1.25"/>
<circle cx="417.1" cy="645.7" r="1.25"/>
<circle cx="441" cy="643.1" r="1.25"/>
<circle cx="451.8" cy="646.3" r="1.25"/>
<circle cx="452.2" cy="646.2" r="1.25"/>
<circle cx="431.5" cy="645.5" r="1.25"/>
<circle cx="446.2" cy="634.6" r="1.25"/>
<circle cx="417.3" cy="635.7" r="1.25"/>
<circle cx="444.2" cy="646.2" r="1.25"/>
<circle cx="450.1" cy="641.4" r="1.25"/>
<circle cx="426.6" cy="641.2" r="1.25"/>
<circle cx="410.9" cy="641.6" r="1.25"/>
<circle cx="444.5" cy="636" r="1.25"/>
<circle cx="427.2" cy="645.5" r="1.25"/>
<circle cx="432.1" cy="645.1" r="1.25"/>
<circle cx="457.6" cy="646.2" r="1.25"/>
<circle cx="415.2" cy="639.3" r="1.25"/>
<circle cx="420" cy="646.3" r="1.25"/>
<circle cx="435.5" cy="643.9" r="1.25"/>
<circle cx="449.3" cy="627.1" r="1.25"/>
<circle cx="420.1" cy="646.3" r="1.25"/>
<circle cx="454" cy="632" r="1.25"/>
<circle cx="431.9" cy="644.2" r="1.25"/>
<circle cx="429.8" cy="633.3" r="1.25"/>
<circle cx="424" cy="645.1" r="1.25"/>
<circle cx="449.1" cy="644.3" r="1.25"/>
<circle cx="415.7" cy="632.9" r="1.25"/>
<circle cx="441.5" cy="641.3" r="1.25"/>
<circle cx="450.8" cy="644" r="1.25"/>
<circle cx="440.4" cy="646.6" r="1.25"/>
<circle cx="436.3" cy="604.5" r="1.25"/>
<circle cx="425.5" cy="644.5" r="1.25"/>
<circle cx="443" cy="646.5" r="1.25"/>
<circle cx="448.5" cy="642.3" r="1.25"/>
<circle cx="455.4" cy="607.2" r="1.25"/>
<circle cx="431.1" cy="646.6" r="1.25"/>
<circle cx="417.9" cy="641.7" r="1.25"/>
<circle cx="428.2" cy="638.1" r="1.25"/>
<circle cx="408" cy="646.5" r="1.25"/>
<circle cx="413.9" cy="628.7" r="1.25"/>
<circle cx="430.7" cy="646.2" r="1.25"/>
<circle cx="459.8" cy="643.9" r="1.25"/>
<circle cx="418.3" cy="646.1" r="1.25"/>
<circle cx="412.5" cy="646.3" r="1.25"/>
<circle cx="442" cy="641.3" r="1.25"/>
<circle cx="458.2" cy="642.3" r="1.25"/>
<circle cx="433.5" cy="632.6" r="1.25"/>
<circle cx="442.2" cy="645.7" r="1.25"/>
<circle cx="446.8" cy="644.9" r="1.25"/>
<circle cx="423.6" cy="614.7" r="1.25"/>
<circle cx="438.8" cy="634.8" r="1.25"/>
<circle cx="449.5" cy="646.3" r="1.25"/>
<circle cx="418.3" cy="639.6" r="1.25"/>
<circle cx="423.9" cy="644.4" r="1.25"/>
<circle cx="412.9" cy="637.1" r="1.25"/>
<circle cx="436.8" cy="646.4" r="1.25"/>
<circle cx="410.4" cy="568.2" r="1.25"/>
<circle cx="457.9" cy="635.4" r="1.25"/>
<circle cx="443.5" cy="645.5" r="1.25"/>
<circle cx="444.7" cy="637.4" r="1.25"/>
<circle cx="448.2" cy="623.6" r="1.25"/>
<circle cx="442.3" cy="644.3" r="1.25"/>
<circle cx="417.9" cy="645" r="1.25"/>
<circle cx="449.4" cy="646.5" r="1.25"/>
<circle cx="452.8" cy="643.6" r="1.25"/>
<circle cx="431.4" cy="642.3" r="1.25"/>
<circle cx="409.4" cy="645.4" r="1.25"/>
<circle cx="452" cy="646.6" r="1.25"/>
<circle cx="449.9" cy="645.8" r="1.25"/>
<circle cx="452.8" cy="646.3" r="1.25"/>
<circle cx="411.8" cy="646.3" r="1.25"/>
<circle cx="422.2" cy="641" r="1.25"/>
<circle cx="427.9" cy="644.1" r="1.25"/>
<circle cx="444.8" cy="646.6" r="1.25"/>
<circle cx="417.9" cy="643.5" r="1.25"/>
<circle cx="447.6" cy="646.3" r="1.25"/>
<circle cx="440.6" cy="646.3" r="1.25"/>
<circle cx="427.6" cy="633.5" r="1.25"/>
<circle cx="455.8" cy="633.6" r="1.25"/>
<circle cx="448.5" cy="645" r="1.25"/>
<circle cx="430.7" cy="645.5" r="1.25"/>
<circle cx="457.5" cy="644.7" r="1.25"/>
<circle cx="423.7" cy="642.1" r="1.25"/>
<circle cx="407.4" cy="640.4" r="1.25"/>
<circle cx="459.4" cy="644.9" r="1.25"/>
<circle cx="453.7" cy="645.7" r="1.25"/>
<circle cx="424.7" cy="645.3" r="1.25"/>
<circle cx="411.4" cy="639.1" r="1.25"/>
<circle cx="460.3" cy="644.4" r="1.25"/>
<circle cx="453.8" cy="646.5" r="1.25"/>
<circle cx="450.8" cy="629.7" r="1.25"/>
</g>
<line x1="434" y1="625.58" x2="434" y2="646.68" stroke="#222" stroke-width="0.8"/>
<rect x="414.6" y="637.25" width="38.8" height="8.94" fill="#fff" stroke="#2a2a2a" stroke-width="0.8"/>
<line x1="414.6" y1="643.21" x2="453.4" y2="643.21" stroke="#333" stroke-width="0.9"/>
<g fill="#1f5da8" stroke="#07172c" stroke-width="0.5">
<use href="#d125" x="531" y="646.1"/>
<use href="#d125" x="518.7" y="634.3"/>
<use href="#d125" x="499.8" y="633.3"/>
<use href="#d125" x="524.2" y="639.2"/>
<use href="#d125" x="496" y="646.1"/>
<use href="#d125" x="537.3" y="639.3"/>
<use href="#d125" x="527.2" y="640.7"/>
<use href="#d125" x="522.7" y="638.7"/>
<use href="#d125" x="496.6" y="645"/>
<use href="#d125" x="510.4" y="626.8"/>
<use href="#d125" x="522.5" y="632.8"/>
<use href="#d125" x="530.8" y="629.7"/>
<use href="#d125" x="507.9" y="638.9"/>
<use href="#d125" x="514" y="635.9"/>
<use href="#d125" x="535" y="644.6"/>
<use href="#d125" x="507.8" y="643"/>
<use href="#d125" x="526.3" y="641.3"/>
<use href="#d125" x="518.3" y="640.3"/>
<use href="#d125" x="524.3" y="646.1"/>
<use href="#d125" x="523.6" y="627.6"/>
<use href="#d125" x="507.4" y="634.1"/>
<use href="#d125" x="495.9" y="640.2"/>
<use href="#d125" x="497.2" y="630.1"/>
<use href="#d125" x="512" y="635.4"/>
<use href="#d125" x="510.7" y="633.7"/>
<use href="#d125" x="512.1" y="640.2"/>
<use href="#d125" x="497.1" y="637.7"/>
<use href="#d125" x="533.9" y="637.6"/>
<use href="#d125" x="545.3" y="553.6"/>
<use href="#d125" x="536.2" y="638.6"/>
<use href="#d125" x="502.4" y="644.3"/>
<use href="#d125" x="525" y="646.6"/>
<use href="#d125" x="530.6" y="640.7"/>
<use href="#d125" x="519.3" y="646.1"/>
<use href="#d125" x="519.1" y="631.2"/>
<use href="#d125" x="512.1" y="646.3"/>
<use href="#d125" x="506.4" y="643.8"/>
<use href="#d125" x="544.4" y="638.2"/>
<use href="#d125" x="517.5" y="646.6"/>
<use href="#d125" x="543.3" y="640"/>
<use href="#d125" x="544.7" y="643.3"/>
<use href="#d125" x="533.4" y="608.5"/>
<use href="#d125" x="545.8" y="641.9"/>
<use href="#d125" x="537.8" y="616.4"/>
<use href="#d125" x="523" y="636.3"/>
<use href="#d125" x="501.6" y="643.3"/>
<use href="#d125" x="507.6" y="635.6"/>
<use href="#d125" x="526.5" y="645.3"/>
<use href="#d125" x="529.4" y="635.1"/>
<use href="#d125" x="506.1" y="614.9"/>
<use href="#d125" x="532" y="638.5"/>
<use href="#d125" x="535.5" y="640"/>
<use href="#d125" x="515.8" y="632.3"/>
<use href="#d125" x="505.5" y="641.9"/>
<use href="#d125" x="499.5" y="601.3"/>
<use href="#d125" x="496" y="637.2"/>
<use href="#d125" x="519.7" y="629.3"/>
<use href="#d125" x="528.8" y="644.6"/>
<use href="#d125" x="526.7" y="636.7"/>
<use href="#d125" x="544.5" y="623.6"/>
<use href="#d125" x="505" y="637.9"/>
<use href="#d125" x="524.3" y="636"/>
<use href="#d125" x="499.4" y="640.6"/>
<use href="#d125" x="533.5" y="635.5"/>
<use href="#d125" x="526.7" y="643.4"/>
<use href="#d125" x="495.1" y="601.3"/>
<use href="#d125" x="512.9" y="614.4"/>
<use href="#d125" x="494.7" y="646.7"/>
<use href="#d125" x="502.5" y="646.1"/>
<use href="#d125" x="524.2" y="646.2"/>
<use href="#d125" x="522.9" y="643.1"/>
<use href="#d125" x="533.8" y="622.6"/>
<use href="#d125" x="538.7" y="639.5"/>
<use href="#d125" x="514" y="644.9"/>
<use href="#d125" x="514.8" y="643.8"/>
<use href="#d125" x="517.2" y="639.1"/>
<use href="#d125" x="501.5" y="634.7"/>
<use href="#d125" x="516.8" y="635.8"/>
<use href="#d125" x="534.9" y="641.5"/>
<use href="#d125" x="516.1" y="635.8"/>
<use href="#d125" x="514.1" y="619.4"/>
<use href="#d125" x="495.4" y="634.7"/>
<use href="#d125" x="511.7" y="639.7"/>
<use href="#d125" x="515.1" y="641.6"/>
<use href="#d125" x="524.9" y="628.1"/>
<use href="#d125" x="536.9" y="644.5"/>
<use href="#d125" x="514.8" y="646"/>
<use href="#d125" x="497.8" y="641.6"/>
<use href="#d125" x="497.2" y="646.2"/>
<use href="#d125" x="541.6" y="639.3"/>
<use href="#d125" x="542.3" y="644.4"/>
<use href="#d125" x="530.7" y="633"/>
<use href="#d125" x="496.6" y="643.4"/>
<use href="#d125" x="520.9" y="638.2"/>
<use href="#d125" x="537.2" y="624.8"/>
<use href="#d125" x="522.2" y="644.4"/>
<use href="#d125" x="541.9" y="629.7"/>
<use href="#d125" x="533.1" y="637.8"/>
<use href="#d125" x="519.8" y="632.7"/>
<use href="#d125" x="503.3" y="638.1"/>
<use href="#d125" x="516" y="638.1"/>
<use href="#d125" x="503.1" y="638.5"/>
<use href="#d125" x="536.5" y="641.6"/>
<use href="#d125" x="522.5" y="636.2"/>
<use href="#d125" x="537.7" y="633.2"/>
<use href="#d125" x="514.1" y="637"/>
<use href="#d125" x="510.5" y="637.1"/>
<use href="#d125" x="517.5" y="606"/>
<use href="#d125" x="506.1" y="637.4"/>
<use href="#d125" x="504.9" y="640.1"/>
<use href="#d125" x="524.1" y="633"/>
<use href="#d125" x="501" y="645.2"/>
<use href="#d125" x="526.1" y="641.4"/>
<use href="#d125" x="535.9" y="644.3"/>
<use href="#d125" x="520.8" y="640.5"/>
<use href="#d125" x="538.1" y="643.4"/>
<use href="#d125" x="497.3" y="646.4"/>
<use href="#d125" x="507.5" y="608.5"/>
<use href="#d125" x="532.4" y="626.3"/>
<use href="#d125" x="541.4" y="629.8"/>
<use href="#d125" x="546" y="640.9"/>
<use href="#d125" x="533.2" y="646.4"/>
<use href="#d125" x="512.7" y="645.7"/>
<use href="#d125" x="495" y="644.4"/>
<use href="#d125" x="506" y="635.3"/>
<use href="#d125" x="514.7" y="637.7"/>
<use href="#d125" x="494.1" y="643.2"/>
<use href="#d125" x="496.5" y="635.5"/>
<use href="#d125" x="521.1" y="641.5"/>
<use href="#d125" x="519.6" y="644"/>
<use href="#d125" x="545.6" y="638.1"/>
<use href="#d125" x="535.7" y="645.5"/>
<use href="#d125" x="541.1" y="646.1"/>
<use href="#d125" x="526" y="644.9"/>
<use href="#d125" x="525.2" y="645.6"/>
<use href="#d125" x="502.4" y="637.3"/>
<use href="#d125" x="545.7" y="643.8"/>
<use href="#d125" x="532.1" y="646.1"/>
<use href="#d125" x="497.3" y="588.8"/>
<use href="#d125" x="536.6" y="644.3"/>
<use href="#d125" x="537" y="641.5"/>
<use href="#d125" x="524.4" y="639.9"/>
<use href="#d125" x="524.2" y="633.9"/>
<use href="#d125" x="496.3" y="641.9"/>
<use href="#d125" x="512.9" y="639.1"/>
<use href="#d125" x="545.1" y="633.9"/>
<use href="#d125" x="502" y="638.7"/>
<use href="#d125" x="526.9" y="636.9"/>
<use href="#d125" x="515.6" y="637.2"/>
<use href="#d125" x="497.8" y="634.9"/>
<use href="#d125" x="527.4" y="642"/>
<use href="#d125" x="516.1" y="644.4"/>
<use href="#d125" x="534.2" y="645.2"/>
<use href="#d125" x="521.7" y="620.6"/>
<use href="#d125" x="498.6" y="646.2"/>
<use href="#d125" x="525.3" y="639.5"/>
<use href="#d125" x="511.6" y="640"/>
<use href="#d125" x="527.6" y="644.7"/>
<use href="#d125" x="516" y="637"/>
<use href="#d125" x="514.9" y="642.7"/>
<use href="#d125" x="515.1" y="640.1"/>
<use href="#d125" x="499.9" y="628.8"/>
<use href="#d125" x="513.5" y="641.7"/>
<use href="#d125" x="506.4" y="633.1"/>
<use href="#d125" x="513.3" y="636.9"/>
<use href="#d125" x="508.6" y="646.3"/>
<use href="#d125" x="513" y="645.5"/>
<use href="#d125" x="533.2" y="637.4"/>
<use href="#d125" x="542.3" y="642.4"/>
<use href="#d125" x="503.9" y="628.2"/>
<use href="#d125" x="511.1" y="640.1"/>
<use href="#d125" x="511.4" y="644.6"/>
<use href="#d125" x="537" y="636.6"/>
<use href="#d125" x="545.6" y="638.6"/>
<use href="#d125" x="524.9" y="635.3"/>
<use href="#d125" x="529.5" y="637.9"/>
<use href="#d125" x="532.4" y="594.1"/>
<use href="#d125" x="539.2" y="638.8"/>
<use href="#d125" x="526.3" y="630.5"/>
<use href="#d125" x="509.7" y="615.9"/>
<use href="#d125" x="542.8" y="643.8"/>
<use href="#d125" x="527.6" y="633.4"/>
<use href="#d125" x="542.2" y="645.8"/>
<use href="#d125" x="507.5" y="622.6"/>
<use href="#d125" x="518.6" y="633.4"/>
<use href="#d125" x="539.6" y="630.2"/>
<use href="#d125" x="521.7" y="643.5"/>
<use href="#d125" x="530" y="637.7"/>
<use href="#d125" x="534.2" y="636.9"/>
<use href="#d125" x="521.3" y="641.6"/>
<use href="#d125" x="524" y="635.3"/>
<use href="#d125" x="495.1" y="623.1"/>
<use href="#d125" x="537.7" y="641.8"/>
<use href="#d125" x="543.5" y="638.1"/>
<use href="#d125" x="513.5" y="631.4"/>
<use href="#d125" x="509.1" y="644.7"/>
<use href="#d125" x="521.4" y="643.7"/>
<use href="#d125" x="505.3" y="626.3"/>
<use href="#d125" x="519.1" y="641.6"/>
<use href="#d125" x="496.3" y="630.3"/>
<use href="#d125" x="539.5" y="631.8"/>
<use href="#d125" x="506.1" y="637.1"/>
<use href="#d125" x="531.7" y="637.5"/>
<use href="#d125" x="516.4" y="639.3"/>
<use href="#d125" x="535.3" y="641.2"/>
<use href="#d125" x="495" y="642.1"/>
<use href="#d125" x="510.8" y="644.3"/>
<use href="#d125" x="524.4" y="634.6"/>
<use href="#d125" x="518.2" y="644.2"/>
<use href="#d125" x="543" y="637.3"/>
<use href="#d125" x="493.6" y="646.3"/>
<use href="#d125" x="519.4" y="642.7"/>
<use href="#d125" x="501.1" y="641.3"/>
<use href="#d125" x="515.1" y="635.2"/>
<use href="#d125" x="545.5" y="636.7"/>
<use href="#d125" x="542.1" y="635.9"/>
<use href="#d125" x="517.8" y="644.7"/>
<use href="#d125" x="531.3" y="616.4"/>
<use href="#d125" x="497.5" y="646.5"/>
<use href="#d125" x="500.5" y="645.1"/>
<use href="#d125" x="511.9" y="639.3"/>
<use href="#d125" x="499.8" y="644.1"/>
<use href="#d125" x="498" y="636.2"/>
<use href="#d125" x="524.7" y="644.6"/>
<use href="#d125" x="504.6" y="640.3"/>
<use href="#d125" x="534.4" y="645.4"/>
<use href="#d125" x="519.6" y="614.9"/>
<use href="#d125" x="519.7" y="629.9"/>
<use href="#d125" x="508.5" y="633.4"/>
<use href="#d125" x="544.5" y="636.6"/>
<use href="#d125" x="511" y="641.8"/>
<use href="#d125" x="536.5" y="645.1"/>
<use href="#d125" x="538.3" y="644.3"/>
<use href="#d125" x="498.8" y="640.6"/>
<use href="#d125" x="508.5" y="646.4"/>
<use href="#d125" x="510.2" y="642.8"/>
<use href="#d125" x="522.2" y="644.4"/>
<use href="#d125" x="507.5" y="633.6"/>
<use href="#d125" x="517.9" y="635.4"/>
<use href="#d125" x="496" y="634.1"/>
<use href="#d125" x="525.4" y="638.4"/>
<use href="#d125" x="498.8" y="641.4"/>
<use href="#d125" x="530.9" y="641.4"/>
<use href="#d125" x="524.5" y="635.5"/>
<use href="#d125" x="532.1" y="636.9"/>
<use href="#d125" x="527.4" y="628.7"/>
<use href="#d125" x="526.6" y="645.2"/>
<use href="#d125" x="532.3" y="646.1"/>
<use href="#d125" x="505.3" y="644.7"/>
<use href="#d125" x="504.9" y="640.8"/>
<use href="#d125" x="498.2" y="640.6"/>
<use href="#d125" x="521" y="634.3"/>
<use href="#d125" x="512.9" y="641.8"/>
<use href="#d125" x="514.3" y="642"/>
<use href="#d125" x="520.3" y="645.8"/>
<use href="#d125" x="532.5" y="637.1"/>
<use href="#d125" x="495.1" y="642.3"/>
<use href="#d125" x="515.8" y="638.1"/>
<use href="#d125" x="514.1" y="642.9"/>
<use href="#d125" x="510.5" y="633.1"/>
<use href="#d125" x="546.1" y="644.7"/>
<use href="#d125" x="532.3" y="641.7"/>
<use href="#d125" x="506.4" y="646.1"/>
<use href="#d125" x="511.9" y="622.4"/>
<use href="#d125" x="536.5" y="644.3"/>
<use href="#d125" x="508.9" y="641.8"/>
<use href="#d125" x="499.2" y="634.7"/>
<use href="#d125" x="496.1" y="646"/>
<use href="#d125" x="532.6" y="645.3"/>
<use href="#d125" x="510.3" y="636.4"/>
<use href="#d125" x="516.3" y="643.1"/>
<use href="#d125" x="527.4" y="642.3"/>
<use href="#d125" x="503.8" y="630.8"/>
<use href="#d125" x="543.6" y="633.3"/>
<use href="#d125" x="494" y="646.2"/>
<use href="#d125" x="528.3" y="632.8"/>
<use href="#d125" x="526.9" y="610.7"/>
<use href="#d125" x="521.3" y="631.8"/>
<use href="#d125" x="521.3" y="636.3"/>
<use href="#d125" x="503.7" y="639.6"/>
<use href="#d125" x="500" y="631.9"/>
<use href="#d125" x="496.3" y="635.5"/>
<use href="#d125" x="530.4" y="636.5"/>
<use href="#d125" x="526.7" y="642.2"/>
<use href="#d125" x="527.1" y="633.2"/>
<use href="#d125" x="493.6" y="646.1"/>
<use href="#d125" x="533.2" y="642.4"/>
<use href="#d125" x="528.3" y="643.3"/>
<use href="#d125" x="534.7" y="642"/>
<use href="#d125" x="530" y="638.2"/>
<use href="#d125" x="494.1" y="634.8"/>
<use href="#d125" x="501.1" y="638.2"/>
<use href="#d125" x="525.9" y="646.4"/>
<use href="#d125" x="497.9" y="643.2"/>
<use href="#d125" x="503.1" y="614.4"/>
<use href="#d125" x="540" y="636.1"/>
<use href="#d125" x="540" y="632.8"/>
<use href="#d125" x="540.7" y="643.4"/>
<use href="#d125" x="534.8" y="614.4"/>
<use href="#d125" x="512.4" y="645.6"/>
<use href="#d125" x="546.2" y="644.9"/>
<use href="#d125" x="495.4" y="627.1"/>
<use href="#d125" x="501.4" y="644.7"/>
<use href="#d125" x="517.9" y="645.9"/>
<use href="#d125" x="540" y="644.9"/>
<use href="#d125" x="509.6" y="641.6"/>
<use href="#d125" x="521.2" y="645.6"/>
<use href="#d125" x="513.7" y="643.5"/>
<use href="#d125" x="510.4" y="638"/>
<use href="#d125" x="524.7" y="636.6"/>
</g>
<line x1="520" y1="624.34" x2="520" y2="646.68" stroke="#222" stroke-width="0.8"/>
<rect x="500.9" y="636.01" width="38.2" height="8.19" fill="#fff" stroke="#2a2a2a" stroke-width="0.8"/>
<line x1="500.9" y1="639.73" x2="539.1" y2="639.73" stroke="#333" stroke-width="0.9"/>
</svg></body></html>
